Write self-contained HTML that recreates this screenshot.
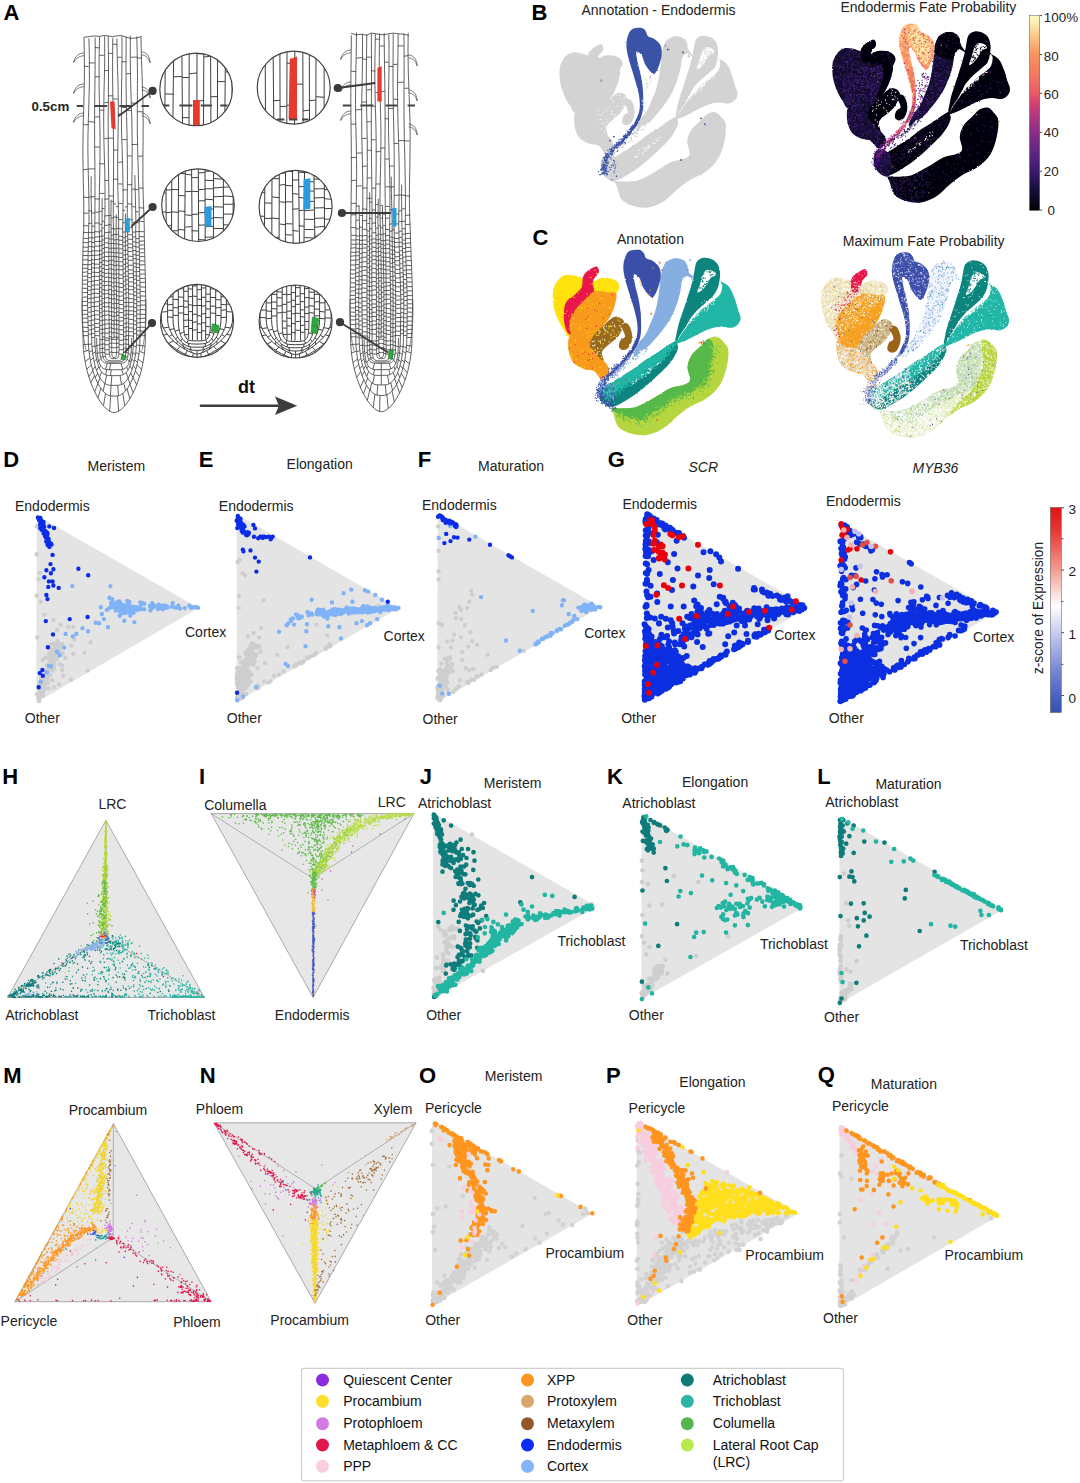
<!DOCTYPE html>
<html><head><meta charset="utf-8"><title>Figure</title>
<style>
html,body{margin:0;padding:0;background:#fff;overflow:hidden;}
svg{display:block;font-family:"Liberation Sans",sans-serif;}
</style></head><body>
<svg width="1080" height="1483" viewBox="0 0 1080 1483">
<rect width="1080" height="1483" fill="#fff"/>
<path d="M84 53c-5 0 -9 3 -10.5 9.5c2.5 -4.5 6 -6.5 10.5 -6.8M84 84c-5 0 -9 3 -10.5 9.5c2.5 -4.5 6 -6.5 10.5 -6.8M84 113c-5 0 -9 3 -10.5 9.5c2.5 -4.5 6 -6.5 10.5 -6.8M141.7 52c5 0.5 8 4 8.5 11c-1.5 -5 -4 -7.5 -8.5 -8.2M141.7 87c5 0.5 8 4 8.5 11c-1.5 -5 -4 -7.5 -8.5 -8.2M141.7 113c5 0.5 8 4 8.5 11c-1.5 -5 -4 -7.5 -8.5 -8.2" fill="#fff" stroke="#3f3f3f" stroke-width="0.7"/>
<path d="M84 37.4L84.2 45.4L84.3 53.4L84.4 61.4L84.4 69.4L84.4 77.4L84.3 85.4L84.1 93.4L83.9 101.4L83.7 109.4L83.4 117.4L83.2 125.4L83.1 133.4L83 141.4L82.9 149.4L82.9 157.4L83 165.4L83.2 173.4L83.3 181.4L83.5 189.4L83.7 197.4L83.8 205.4L83.8 213.4L83.8 221.4L83.7 229.4L83.2 237.4L83.1 245.4L82.9 253.4L82.7 261.4L82.6 269.4L82.4 277.4L82.3 285.4L82.2 293.4L82.1 301.4L82.3 309.4L82.5 317.4L82.7 325.4L82.9 333.4L83 338M88.9 38.3L89.1 46.3L89.3 54.3L89.4 62.3L89.4 70.3L89.4 78.3L89.3 86.3L89.1 94.3L88.9 102.3L88.7 110.3L88.4 118.3L88.2 126.3L88 134.3L87.9 142.3L87.9 150.3L88 158.3L88.1 166.3L88.3 174.3L88.5 182.3L88.7 190.3L88.8 198.3L89 206.3L89 214.3L89 222.3L88.5 230.3L88.4 238.3L88.3 246.3L88.1 254.3L88 262.3L87.8 270.3L87.7 278.3L87.6 286.3L87.5 294.3L87.5 302.3L87.7 310.3L87.9 318.3L88.1 326.3L88.3 334.3L88.3 338M91.2 176.2L91.1 184.2L91.1 192.2L91.2 200.2L91.4 208.2L91.6 216.2L91.8 224.2L91.8 232.2L91.8 240.2L91.7 248.2L91.7 256.2L91.6 264.2L91.5 272.2L91.4 280.2L91.3 288.2L91.1 296.2L91.1 304.2L91.2 312.2L91.3 320.2L91.4 328.2L91.5 336.2L91.7 338M95.1 37.4L95.2 45.4L95.2 53.4L95.1 61.4L95.1 69.4L95 77.4L94.9 85.4L94.8 93.4L94.7 101.4L94.6 109.4L94.6 117.4L94.6 125.4L94.6 133.4L94.6 141.4L94.7 149.4L94.8 157.4L94.9 165.4L94.9 173.4L95 181.4L95 189.4L95 197.4L95 205.4L94.9 213.4L94.9 221.4L94.8 229.4L94.7 237.4L94.7 245.4L94.6 253.4L94.5 261.4L94.4 269.4L94.4 277.4L94.3 285.4L94.3 293.4L94.3 301.4L94.4 309.4L94.6 317.4L94.7 325.4L94.8 333.4L94.8 338M99.5 36.9L99.4 44.9L99.2 52.9L99.1 60.9L99.1 68.9L99.1 76.9L99.1 84.9L99.2 92.9L99.4 100.9L99.6 108.9L99.7 116.9L99.9 124.9L100 132.9L100 140.9L100 148.9L100 156.9L99.9 164.9L99.8 172.9L99.6 180.9L99.4 188.9L99.3 196.9L99.2 204.9L99.1 212.9L99.1 220.9L99.2 228.9L99.5 236.9L99.6 244.9L99.6 252.9L99.6 260.9L99.6 268.9L99.6 276.9L99.6 284.9L99.5 292.9L99.5 300.9L99.6 308.9L99.6 316.9L99.7 324.9L99.7 332.9L99.8 338M102.2 198L102.1 206L102.1 214L102 222L101.9 230L102 238L102 246L102 254L101.9 262L101.9 270L101.9 278L101.9 286L102 294L102 302L102.1 310L102.2 318L102.3 326L102.3 334L102.3 338M104.6 36.3L104.7 44.3L104.7 52.3L104.7 60.3L104.6 68.3L104.4 76.3L104.2 84.3L104 92.3L103.9 100.3L103.8 108.3L103.7 116.3L103.7 124.3L103.8 132.3L103.9 140.3L104.1 148.3L104.3 156.3L104.6 164.3L104.8 172.3L104.9 180.3L105 188.3L105 196.3L105 204.3L104.9 212.3L104.7 220.3L104.5 228.3L104.5 236.3L104.4 244.3L104.4 252.3L104.4 260.3L104.3 268.3L104.4 276.3L104.4 284.3L104.4 292.3L104.5 300.3L104.6 308.3L104.7 316.3L104.8 324.3L104.9 332.3L104.8 338M108.2 36L108.3 44L108.4 52L108.5 60L108.5 68L108.5 76L108.5 84L108.4 92L108.4 100L108.3 108L108.2 116L108.2 124L108.2 132L108.2 140L108.3 148L108.3 156L108.4 164L108.6 172L108.7 180L108.8 188L108.9 196L108.9 204L109 212L109 220L109 228L108.8 236L108.8 244L108.8 252L108.8 260L108.8 268L108.8 276L108.8 284L108.8 292L108.9 300L108.9 308L109 316L109.1 324L109.2 332L109.2 338M111.1 199.7L111 207.7L111 215.7L111 223.7L111.2 231.7L111.2 239.7L111.2 247.7L111.3 255.7L111.3 263.7L111.4 271.7L111.4 279.7L111.4 287.7L111.5 295.7L111.5 303.7L111.6 311.7L111.6 319.7L111.6 327.7L111.7 335.7L111.6 338M112.8 38.1L112.7 46.1L112.7 54.1L112.6 62.1L112.6 70.1L112.6 78.1L112.7 86.1L112.8 94.1L112.9 102.1L113 110.1L113.2 118.1L113.3 126.1L113.4 134.1L113.5 142.1L113.6 150.1L113.6 158.1L113.6 166.1L113.5 174.1L113.5 182.1L113.4 190.1L113.4 198.1L113.3 206.1L113.3 214.1L113.3 222.1L113.6 230.1L113.6 238.1L113.7 246.1L113.8 254.1L113.8 262.1L113.9 270.1L113.9 278.1L114 286.1L114 294.1L114.1 302.1L114.1 310.1L114.1 318.1L114.1 326.1L114.1 334.1L114.1 338M116.3 214.3L116.2 222.3L116.1 230.3L116.1 238.3L116.1 246.3L116.2 254.3L116.2 262.3L116.3 270.3L116.3 278.3L116.4 286.3L116.5 294.3L116.5 302.3L116.6 310.3L116.6 318.3L116.7 326.3L116.7 334.3L116.6 338M116.9 38.4L117 46.4L117.2 54.4L117.4 62.4L117.6 70.4L117.9 78.4L118.1 86.4L118.2 94.4L118.3 102.4L118.3 110.4L118.3 118.4L118.2 126.4L118.1 134.4L117.9 142.4L117.8 150.4L117.7 158.4L117.6 166.4L117.7 174.4L117.7 182.4L117.9 190.4L118.1 198.4L118.3 206.4L118.5 214.4L118.7 222.4L118.6 230.4L118.7 238.4L118.8 246.4L118.8 254.4L118.9 262.4L118.9 270.4L118.9 278.4L119 286.4L119 294.4L119 302.4L119 310.4L119 318.4L119 326.4L119 334.4L119.1 338M121.9 36.1L122 44.1L122 52.1L122 60.1L121.9 68.1L121.8 76.1L121.6 84.1L121.5 92.1L121.4 100.1L121.4 108.1L121.4 116.1L121.5 124.1L121.6 132.1L121.8 140.1L122.1 148.1L122.3 156.1L122.6 164.1L122.8 172.1L122.9 180.1L123 188.1L123.1 196.1L123 204.1L123 212.1L122.9 220.1L122.7 228.1L122.8 236.1L122.8 244.1L122.9 252.1L123 260.1L123.1 268.1L123.2 276.1L123.3 284.1L123.4 292.1L123.6 300.1L123.6 308.1L123.6 316.1L123.6 324.1L123.6 332.1L123.5 338M125.4 213.7L125.3 221.7L125.3 229.7L125.3 237.7L125.4 245.7L125.4 253.7L125.5 261.7L125.6 269.7L125.7 277.7L125.8 285.7L126 293.7L126.1 301.7L126.1 309.7L126.1 317.7L126.1 325.7L126.1 333.7L126 338M126.1 36.6L126.1 44.6L126.1 52.6L126 60.6L126 68.6L126.1 76.6L126.1 84.6L126.2 92.6L126.3 100.6L126.5 108.6L126.6 116.6L126.8 124.6L127 132.6L127.1 140.6L127.2 148.6L127.3 156.6L127.4 164.6L127.4 172.6L127.4 180.6L127.4 188.6L127.3 196.6L127.3 204.6L127.3 212.6L127.3 220.6L127.4 228.6L127.7 236.6L127.8 244.6L127.9 252.6L128.1 260.6L128.2 268.6L128.3 276.6L128.5 284.6L128.6 292.6L128.7 300.6L128.7 308.6L128.6 316.6L128.6 324.6L128.5 332.6L128.5 338M130.4 35.7L130.3 43.7L130.3 51.7L130.3 59.7L130.4 67.7L130.5 75.7L130.7 83.7L130.9 91.7L131.2 99.7L131.4 107.7L131.7 115.7L131.9 123.7L132 131.7L132.1 139.7L132.2 147.7L132.1 155.7L132.1 163.7L132 171.7L131.9 179.7L131.8 187.7L131.8 195.7L131.8 203.7L131.9 211.7L132 219.7L132.2 227.7L132.6 235.7L132.7 243.7L132.9 251.7L133.1 259.7L133.3 267.7L133.4 275.7L133.6 283.7L133.7 291.7L133.8 299.7L133.7 307.7L133.6 315.7L133.5 323.7L133.4 331.7L133.5 338M134.8 175.1L135 183.1L135.2 191.1L135.4 199.1L135.6 207.1L135.8 215.1L135.9 223.1L135.7 231.1L135.8 239.1L135.9 247.1L136.1 255.1L136.2 263.1L136.3 271.1L136.4 279.1L136.6 287.1L136.7 295.1L136.8 303.1L136.7 311.1L136.7 319.1L136.6 327.1L136.6 335.1L136.6 338M136.8 36.4L137 44.4L137.2 52.4L137.3 60.4L137.4 68.4L137.5 76.4L137.4 84.4L137.4 92.4L137.4 100.4L137.3 108.4L137.3 116.4L137.3 124.4L137.3 132.4L137.5 140.4L137.6 148.4L137.8 156.4L138.1 164.4L138.3 172.4L138.5 180.4L138.8 188.4L139 196.4L139.1 204.4L139.2 212.4L139.2 220.4L139.2 228.4L139.1 236.4L139.2 244.4L139.3 252.4L139.5 260.4L139.6 268.4L139.8 276.4L140 284.4L140.1 292.4L140.3 300.4L140.3 308.4L140.2 316.4L140.2 324.4L140.2 332.4L140 338M141 36.4L141.1 44.4L141.3 52.4L141.5 60.4L141.8 68.4L142.1 76.4L142.4 84.4L142.6 92.4L142.9 100.4L143 108.4L143.1 116.4L143.2 124.4L143.1 132.4L143.1 140.4L143 148.4L142.9 156.4L142.9 164.4L142.9 172.4L142.9 180.4L143 188.4L143.2 196.4L143.5 204.4L143.8 212.4L144.1 220.4L144.3 228.4L144.3 236.4L144.5 244.4L144.7 252.4L144.9 260.4L145.1 268.4L145.3 276.4L145.5 284.4L145.6 292.4L145.7 300.4L145.6 308.4L145.5 316.4L145.4 324.4L145.3 332.4L145.3 338M111.6 338L111.6 339.5L111.6 341L111.6 342.5L111.6 344L111.7 345.4L111.7 346.8L111.7 348.2L111.7 349.4L111.7 350.6L111.7 351.8L111.8 352.8L111.9 353.7L111.9 354.6L112 355.3L112.1 356L112.3 356.5L112.5 356.9L112.7 357.2L113.1 357.4L114.1 357.4L115.2 357.4L115.6 357.2L115.8 356.9L116 356.5L116.1 356L116.3 355.3L116.4 354.6L116.4 353.7L116.5 352.8L116.5 351.8L116.6 350.6L116.6 349.4L116.6 348.2L116.6 346.8L116.6 345.4L116.6 344L116.6 342.5L116.6 341L116.6 339.5L116.6 338M109.2 338L109.2 339.6L109.2 341.2L109.2 342.8L109.2 344.4L109.2 345.9L109.2 347.4L109.2 348.8L109.2 350.2L109.3 351.4L109.3 352.6L109.4 353.7L109.6 354.7L109.7 355.6L109.9 356.4L110.2 357.1L110.5 357.7L110.8 358.1L111.3 358.4L112 358.6L114.1 358.7L116.3 358.6L117 358.4L117.5 358.1L117.8 357.7L118.1 357.1L118.4 356.4L118.6 355.6L118.7 354.7L118.8 353.7L118.9 352.6L119 351.4L119.1 350.2L119.1 348.8L119.1 347.4L119.1 345.9L119.1 344.4L119.1 342.8L119.1 341.2L119.1 339.6L119.1 338M104.8 338L104.8 339.8L104.8 341.6L104.8 343.3L104.8 345.1L104.8 346.8L104.8 348.4L104.9 350L104.9 351.4L105 352.9L105.1 354.2L105.3 355.4L105.6 356.5L105.8 357.5L106.2 358.4L106.7 359.1L107.2 359.8L107.9 360.2L108.8 360.6L110.1 360.8L114.1 360.9L118.2 360.8L119.5 360.6L120.4 360.2L121.1 359.8L121.6 359.1L122.1 358.4L122.4 357.5L122.7 356.5L123 355.4L123.1 354.2L123.3 352.9L123.4 351.4L123.4 350L123.5 348.4L123.5 346.8L123.5 345.1L123.5 343.3L123.5 341.6L123.5 339.8L123.5 338M102.3 338L102.3 339.9L102.3 341.8L102.3 343.6L102.3 345.5L102.3 347.2L102.3 349L102.4 350.6L102.5 352.2L102.6 353.7L102.7 355.1L103 356.3L103.3 357.5L103.6 358.6L104.1 359.5L104.7 360.3L105.4 360.9L106.3 361.5L107.4 361.8L109 362.1L114.1 362.1L119.3 362.1L120.9 361.8L122 361.5L122.9 360.9L123.6 360.3L124.2 359.5L124.7 358.6L125 357.5L125.3 356.3L125.5 355.1L125.7 353.7L125.8 352.2L125.9 350.6L125.9 349L126 347.2L126 345.5L126 343.6L126 341.8L126 339.9L126 338M99.8 338L99.8 340L99.8 342L99.8 343.9L99.8 345.8L99.8 347.7L99.9 349.5L99.9 351.3L100 352.9L100.1 354.5L100.3 355.9L100.6 357.3L101 358.5L101.4 359.6L102 360.6L102.7 361.4L103.5 362.1L104.6 362.7L106 363.1L107.9 363.3L114.1 363.4L120.4 363.3L122.3 363.1L123.7 362.7L124.8 362.1L125.6 361.4L126.3 360.6L126.9 359.6L127.3 358.5L127.7 357.3L127.9 355.9L128.1 354.5L128.3 352.9L128.4 351.3L128.4 349.5L128.5 347.7L128.5 345.8L128.5 343.9L128.5 342L128.5 340L128.5 338M96.7 338L96.7 340.5L96.7 343L96.8 345.4L96.9 347.8L97.1 350.2L97.3 352.5L97.5 354.6L97.8 356.7L98.1 358.7L98.6 360.5L99 362.2L99.6 363.8L100.3 365.1L101.1 366.4L102 367.4L103.1 368.3L104.3 369L105.9 369.4L108 369.7L114.1 369.8L120.3 369.7L122.4 369.4L123.9 369L125.2 368.3L126.3 367.4L127.2 366.4L128 365.1L128.7 363.8L129.2 362.2L129.7 360.5L130.2 358.7L130.5 356.7L130.8 354.6L131 352.5L131.2 350.2L131.4 347.8L131.5 345.4L131.5 343L131.6 340.5L131.6 338M94.8 338L94.8 341L94.9 343.9L95.1 346.8L95.3 349.6L95.6 352.4L95.9 355.1L96.3 357.7L96.8 360.1L97.3 362.5L98 364.6L98.7 366.6L99.4 368.5L100.3 370.1L101.3 371.6L102.3 372.8L103.5 373.8L104.9 374.6L106.5 375.2L108.6 375.5L114.1 375.7L119.7 375.5L121.7 375.2L123.4 374.6L124.7 373.8L125.9 372.8L127 371.6L128 370.1L128.9 368.5L129.6 366.6L130.3 364.6L130.9 362.5L131.5 360.1L132 357.7L132.4 355.1L132.7 352.4L133 349.6L133.2 346.8L133.4 343.9L133.4 341L133.5 338M91.7 338L91.7 341.7L91.9 345.4L92.2 349.1L92.6 352.6L93.1 356.1L93.7 359.5L94.4 362.8L95.1 365.9L96 368.8L97 371.5L98 374L99.1 376.3L100.3 378.4L101.6 380.2L102.9 381.8L104.3 383.1L105.9 384.1L107.6 384.8L109.6 385.2L114.1 385.4L118.7 385.2L120.7 384.8L122.4 384.1L123.9 383.1L125.4 381.8L126.7 380.2L128 378.4L129.2 376.3L130.3 374L131.3 371.5L132.3 368.8L133.1 365.9L133.9 362.8L134.6 359.5L135.2 356.1L135.7 352.6L136.1 349.1L136.4 345.4L136.5 341.7L136.6 338M88.3 338L88.3 342.6L88.6 347.1L89 351.6L89.6 355.9L90.3 360.2L91.2 364.4L92.2 368.3L93.3 372.1L94.6 375.7L95.9 379.1L97.3 382.2L98.7 385L100.3 387.5L101.9 389.7L103.5 391.7L105.2 393.2L106.9 394.5L108.8 395.4L110.7 395.9L114.1 396.1L117.5 395.9L119.5 395.4L121.3 394.5L123.1 393.2L124.8 391.7L126.4 389.7L128 387.5L129.5 385L131 382.2L132.4 379.1L133.7 375.7L135 372.1L136.1 368.3L137.1 364.4L137.9 360.2L138.7 355.9L139.3 351.6L139.7 347.1L139.9 342.6L140 338M83 338L83.1 343.9L83.5 349.7L84.1 355.4L85 361.1L86.1 366.5L87.4 371.9L88.9 377L90.5 381.8L92.3 386.4L94.2 390.8L96.2 394.7L98.2 398.4L100.3 401.6L102.4 404.5L104.5 406.9L106.5 408.9L108.6 410.5L110.6 411.7L112.5 412.4L114.1 412.6L115.8 412.4L117.7 411.7L119.7 410.5L121.7 408.9L123.8 406.9L125.9 404.5L128 401.6L130.1 398.4L132.1 394.7L134.1 390.8L136 386.4L137.8 381.8L139.4 377L140.9 371.9L142.2 366.5L143.3 361.1L144.2 355.4L144.8 349.7L145.2 343.9L145.3 338M114.1 339.2L111.6 339.6M114.1 339.6L116.6 339.2M114.1 343.1L111.6 343.3M114.1 343.3L116.6 343.1M114.1 347.9L111.7 347.5M114.1 347.5L116.6 347.9M114.1 352.6L111.8 352.4M114.1 352.4L116.5 352.6M111.6 339L109.2 338.7M116.6 338.7L119.1 339M111.6 343.1L109.2 343.5M116.6 343.5L119.1 343.1M111.7 347.2L109.2 347.4M116.6 347.4L119.1 347.2M111.8 352L109.3 352.4M116.5 352.4L119 352M109.2 340.2L104.8 340.3M119.1 340.3L123.5 340.2M109.2 344.9L104.8 344.6M119.1 344.6L123.5 344.9M109.2 349.6L104.9 349.8M119.1 349.8L123.4 349.6M109.5 354.3L105.2 354M118.8 354L123.1 354.3M104.8 339.3L102.3 339.2M123.5 339.2L126 339.3M104.8 343.8L102.3 344.2M123.5 344.2L126 343.8M104.8 348.1L102.3 348.4M123.5 348.4L126 348.1M105 352.5L102.5 352.4M123.3 352.4L125.8 352.5M105.6 356.7L103.1 356.5M122.7 356.5L125.2 356.7M102.3 339.5L99.8 339.7M126 339.7L128.5 339.5M102.3 344.4L99.8 344.1M126 344.1L128.5 344.4M102.3 348.4L99.8 348.8M126 348.8L128.5 348.4M102.5 352.8L100 352.7M125.8 352.7L128.3 352.8M103.1 356.9L100.5 357M125.2 357L127.8 356.9M99.8 344.9L96.8 345.7M99.9 351.9L97.4 353.9M100.9 358.4L98.7 361.2M107.3 363.3L105.5 369.3M110.6 363.4L109.6 369.8M120.9 363.3L122.8 369.3M127.2 358.9L129.3 361.9M128.3 353.1L130.7 355.2M128.5 344.9L131.5 345.7M96.8 345.9L95.1 346.4M97.3 352.6L95.7 353.7M98.5 360.3L97.2 361.9M100.6 365.6L99.3 368.1M106.9 369.6L105.6 374.9M111.2 369.8L110.6 375.6M121.8 369.6L123.2 374.7M126.6 367.1L128 370.1M129.8 360.3L131.1 361.9M131.1 352L132.6 353.1M131.5 345.2L133.3 345.7M95 345.9L92 346.7M95.5 351.9L92.7 353.6M96.6 359L94.1 361.5M98.7 366.9L96.6 370.5M101.6 372L99.6 377.2M106.7 375.2L104.9 383.5M111.8 375.7L111.1 385.4M120 375.5L121.5 384.5M126.1 372.6L128.2 378.1M129.9 365.8L132.1 369.2M131.7 359L134.2 361.5M132.7 352.6L135.5 354.4M133.2 345.9L136.3 346.7M91.8 344L88.4 344.4M92.4 350.6L89.1 352M93.4 357.9L90.4 360.4M95.3 366.4L92.7 369.9M97.6 373.1L95.3 377.5M100 377.9L97.9 383.4M104.9 383.4L103.1 391.3M111.1 385.4L110.4 395.8M117.7 385.3L118.5 395.7M123.8 383.2L125.5 390.8M128 378.4L130.1 384M130.7 373.1L133 377.5M133.2 365.6L135.9 369M134.6 359.7L137.5 362.4M135.7 352.5L138.9 354.2M136.4 344.9L139.8 345.5M88.4 344.2L83.1 344.8M88.9 350L83.7 351.9M89.9 358L85.1 361.5M91.3 364.6L86.7 369.3M92.9 370.9L88.8 376.7M94.6 375.7L90.8 382.5M97.9 383.4L94.7 391.8M100.8 388.2L98 398M105.5 393.5L103.5 405.8M110.7 395.9L109.7 411.2M117.6 395.9L118.6 411.2M122.8 393.5L124.8 405.8M127.1 388.8L129.8 398.8M130 384.2L133.1 392.7M133 377.6L136.7 384.7M135.3 370.9L139.5 376.7M137 364.6L141.5 369.3M138.1 359.1L143 362.8M139.3 351.2L144.4 353.3M139.8 345.4L145.1 346.2M83.9 66.1L88.8 66.7M83.6 124.7L88.6 124.7M83.4 169.6L88.5 169.2M83.3 197.1L88.4 197.6M83.2 213.1L88.4 213.3M83.2 225.6L88.3 225.8M83.1 232.3L88.3 232.7M83.1 238.3L88.3 238.5M83.1 242.5L88.3 242.7M83 247.1L88.2 247.3M82.9 251.6L88.2 251M82.9 255.6L88.1 255.5M82.8 260L88.1 259.7M82.7 264.5L88 264.7M82.7 268.3L88 268.3M82.6 272.4L87.9 271.8M82.6 276.3L87.9 276.1M82.5 280.3L87.8 279.9M82.4 284.1L87.8 284.1M82.4 288.3L87.7 288.4M82.3 292.7L87.7 292.4M82.2 297.4L87.6 296.8M82.2 301.6L87.6 301.3M82.3 305.8L87.7 305.3M82.4 310.4L87.8 310.3M82.5 314.3L87.9 314.4M82.6 318.2L87.9 318.2M82.6 322.3L88 322.4M82.7 327.1L88.1 327.5M82.8 331.3L88.1 331.7M82.9 335.7L88.2 335.6M88.8 62.9L94.9 62.9M88.6 121.5L94.8 122.1M88.5 169L94.8 168.8M88.4 197.2L94.8 196.6M88.4 210.8L91.7 210.9M88.3 223.5L91.7 223.1M88.3 232.3L91.7 232.8M88.3 237.8L91.7 237.7M88.3 241.8L91.7 241.6M88.2 246.6L91.6 246.5M88.2 251.4L91.6 251.9M88.1 255.8L91.5 255.5M88.1 260.5L91.5 260.5M88 264.8L91.4 264.5M88 269.5L91.4 269.5M87.9 273.6L91.4 273.6M87.9 277.6L91.3 277.7M87.8 281.8L91.3 281.6M87.8 286.4L91.2 286.8M87.7 290.2L91.2 290.2M87.7 294.3L91.2 294.8M87.6 298.8L91.1 298.5M87.7 302.9L91.1 302.5M87.7 307.7L91.2 307.5M87.8 312.1L91.3 312.1M87.9 316.6L91.4 316.7M88 321.1L91.4 320.6M88 325.7L91.5 325.4M88.1 330L91.6 329.8M88.2 334.1L91.6 334.1M91.7 212.8L94.8 213.3M91.7 226.1L94.7 226.2M91.7 232.3L94.7 232.6M91.7 237.9L94.7 238M91.6 242.4L94.7 242.6M91.6 246.7L94.7 247.2M91.6 250.9L94.6 250.7M91.5 255.5L94.6 255.2M91.5 259.6L94.6 260M91.4 263.5L94.6 263.9M91.4 268L94.5 267.9M91.4 272.1L94.5 272.4M91.3 276.8L94.5 276.3M91.3 281.1L94.4 281.1M91.2 285.4L94.4 285.1M91.2 289.3L94.4 289.4M91.2 293.9L94.3 293.4M91.1 297.9L94.3 298.3M91.1 302.5L94.3 302.7M91.2 306.4L94.4 306.6M91.3 311.1L94.4 311.7M91.3 315.6L94.5 315.1M91.4 320.3L94.6 319.9M91.5 324.7L94.6 325.3M91.6 329.2L94.7 328.8M91.6 333.3L94.7 333.8M91.7 337.3L94.8 337.4M94.9 47.6L99.5 47.8M94.9 77L99.5 76.6M94.8 117.2L99.6 116.7M94.8 147L99.6 147.1M94.8 198.8L99.6 199.2M94.8 212.1L99.6 212.1M94.7 223L99.6 223.1M94.7 231.5L99.6 232M94.7 237.2L99.6 236.7M94.7 241.7L99.6 241.3M94.7 246.1L99.6 246.2M94.6 250.9L99.6 250.9M94.6 255.3L99.6 255M94.6 259.6L99.5 259.3M94.5 264.2L99.5 264.2M94.5 268.1L99.5 267.8M94.5 272.3L99.5 272.6M94.5 276.3L99.5 276.5M94.4 280.7L99.5 280.2M94.4 285.2L99.4 284.7M94.4 289.1L99.4 289.2M94.3 293.1L99.4 293.6M94.3 297.4L99.4 297.2M94.3 302L99.4 301.5M94.4 306.6L99.4 306M94.4 310.5L99.5 311M94.5 315L99.5 314.7M94.5 318.9L99.6 319.5M94.6 323.4L99.6 323.7M94.7 327.3L99.7 327.5M94.7 331.5L99.7 331.1M94.8 335.6L99.8 335.7M99.5 55.5L104.2 55.1M99.6 110.1L104.3 110.3M99.6 163.8L104.4 163.8M99.6 193.4L104.4 193.4M99.6 211.3L102 211.4M99.6 224.4L102.1 224.3M99.6 231.2L102.1 230.7M99.6 236.6L102.1 236M99.6 241.3L102.1 241.3M99.6 245.9L102.1 245.3M99.6 250.1L102 250.6M99.6 254.5L102 254.5M99.5 258.8L102 258.3M99.5 262.8L102 262.4M99.5 266.9L102 266.8M99.5 271.6L102 271.2M99.5 275.7L102 275.4M99.5 279.6L102 279.4M99.4 283.7L102 283.6M99.4 287.5L101.9 288M99.4 291.7L101.9 292.2M99.4 296.2L101.9 296.4M99.4 300.4L101.9 301M99.4 304.3L102 304.5M99.5 308.4L102 308.6M99.5 313L102 312.6M99.6 317L102.1 316.4M99.6 321L102.1 320.5M99.7 325.2L102.2 325.8M99.7 329.4L102.2 329.1M99.7 333.6L102.2 333.4M102 208.5L104.5 208.7M102 221L104.5 221.5M102.1 228.3L104.5 227.8M102.1 236L104.5 235.9M102.1 239.9L104.5 239.9M102.1 244.7L104.5 244.7M102 248.8L104.5 248.3M102 252.7L104.5 253.2M102 257L104.5 257.5M102 260.8L104.5 260.5M102 264.7L104.5 264.6M102 268.6L104.5 268.3M102 272.8L104.5 272.5M102 276.6L104.5 276.1M102 281.4L104.5 281M102 285.7L104.5 285.6M101.9 290L104.5 289.5M101.9 294.1L104.5 293.7M101.9 298.5L104.5 299M101.9 302.9L104.5 303.3M102 306.9L104.5 306.3M102 311.2L104.6 311.2M102.1 315.6L104.6 315.5M102.1 320L104.6 320.3M102.2 324.7L104.7 324.5M102.2 329L104.7 329.4M102.2 333L104.7 332.6M102.3 337.1L104.8 336.6M104.2 70.7L108.3 70.5M104.3 102.8L108.4 102.3M104.3 138.7L108.5 138.2M104.4 180.4L108.6 180.5M104.4 199.3L108.7 198.8M104.5 216L108.7 215.5M104.5 225.4L108.8 225.1M104.5 232.8L108.8 232.3M104.5 238.3L108.8 238M104.5 242.8L108.8 242.9M104.5 247.5L108.8 247.7M104.5 252.1L108.8 252.2M104.5 256.3L108.8 256.7M104.5 260.8L108.8 261.3M104.5 265.3L108.8 265.5M104.5 269.4L108.9 269.7M104.5 273.5L108.9 273.1M104.5 277.4L108.9 277M104.5 281.5L108.9 281.7M104.5 285.6L108.9 285M104.5 290.1L108.9 290.2M104.5 294L108.9 293.4M104.5 297.9L108.9 297.7M104.5 302.5L108.9 303.1M104.5 307L109 306.6M104.6 311.2L109 311M104.6 315.3L109 314.7M104.6 319.7L109 320.1M104.7 324.2L109.1 323.7M104.7 328.6L109.1 328.2M104.7 333.1L109.1 333M104.8 337.8L109.2 338.2M108.2 53.1L112.8 53.6M108.3 95.8L113 95.8M108.5 138L113.2 138.3M108.7 195.9L113.5 196M108.7 215.5L111.2 215.6M108.8 224.6L111.2 224.9M108.8 232.4L111.2 231.8M108.8 239.2L111.2 238.7M108.8 243.6L111.3 243.6M108.8 248.3L111.3 248.2M108.8 252.3L111.3 252.1M108.8 256.3L111.3 256.4M108.8 260.5L111.3 260.8M108.8 264.5L111.3 264.3M108.9 268.6L111.3 269.1M108.9 273.2L111.4 273.6M108.9 277.6L111.4 277.5M108.9 281.6L111.4 282M108.9 285.9L111.4 285.3M108.9 289.8L111.4 289.3M108.9 294.3L111.4 294.8M108.9 298.3L111.5 298.7M108.9 302.5L111.5 302.7M109 307.1L111.5 307.3M109 311.7L111.5 311.6M109 315.5L111.5 315.6M109 319.9L111.6 319.5M109.1 324.1L111.6 323.9M109.1 327.9L111.6 327.7M109.1 332.1L111.6 332.1M109.1 336.6L111.6 336.5M111.1 201.4L113.5 201.5M111.2 218.1L113.6 217.9M111.2 228.4L113.6 228.6M111.2 235.4L113.7 235.2M111.2 239.3L113.7 238.8M111.3 243.5L113.7 243.6M111.3 248L113.7 248.3M111.3 252.1L113.8 252.6M111.3 256.2L113.8 256.5M111.3 260.1L113.8 260.4M111.3 264.5L113.8 265.1M111.4 269.2L113.8 269.5M111.4 273.9L113.9 274.2M111.4 278.3L113.9 277.9M111.4 282.6L113.9 283.1M111.4 286.6L113.9 287.2M111.4 291L114 290.9M111.4 294.8L114 294.7M111.5 298.8L114 299M111.5 303.5L114 304M111.5 307.9L114 307.7M111.5 311.8L114 312M111.5 316.1L114.1 316.4M111.6 320.3L114.1 320.8M111.6 324.3L114.1 324.1M111.6 328.4L114.1 328.5M111.6 333.1L114.1 332.7M111.6 337.5L114.1 337.8M112.8 44.2L117.4 44.3M113 98.8L117.7 99.2M113.3 150.1L118 150M113.4 179.1L118.2 179.2M113.5 204L116 203.8M113.6 216.9L116 217M113.6 229.2L116.1 228.8M113.7 234.6L116.1 234.2M113.7 239.9L116.1 240M113.7 243.8L116.2 243.5M113.7 248.2L116.2 248.4M113.8 252.7L116.2 253M113.8 256.6L116.3 256.6M113.8 261.2L116.3 261.8M113.8 265.3L116.3 265.8M113.8 269.8L116.3 270.3M113.9 273.8L116.4 274M113.9 278.5L116.4 278.4M113.9 282.4L116.4 282M113.9 286.3L116.5 285.8M114 290.3L116.5 290.4M114 294.2L116.5 294.5M114 298.7L116.5 299.1M114 303.3L116.6 303.6M114 308L116.6 308.6M114 312.5L116.6 313M114.1 316.4L116.6 315.9M114.1 320.2L116.6 319.9M114.1 324.4L116.6 324.3M114.1 328.9L116.6 329.2M114.1 332.8L116.6 332.6M114.1 337.1L116.6 337M116 206.3L118.4 206.9M116 217.5L118.5 217.8M116.1 228.5L118.5 228.3M116.1 234.4L118.6 234.3M116.1 239.3L118.6 239.5M116.2 244L118.6 243.8M116.2 248.1L118.7 248.1M116.2 252.6L118.7 252.9M116.3 256.9L118.7 256.7M116.3 261.1L118.8 261.5M116.3 265.4L118.8 264.8M116.3 269.6L118.8 269.3M116.4 274.1L118.9 273.6M116.4 278.1L118.9 277.7M116.4 282.4L118.9 283M116.5 286.8L119 286.6M116.5 291.5L119 291M116.5 295.7L119.1 296M116.5 299.5L119.1 299.8M116.6 303.6L119.1 303M116.6 307.7L119.1 307.6M116.6 311.9L119.1 311.9M116.6 315.7L119.1 315.4M116.6 320.5L119.1 320.4M116.6 324.8L119.1 324.3M116.6 328.8L119.1 329.4M116.6 333.3L119.1 333.3M116.6 337.2L119.1 337M117.5 57.2L121.5 57.3M117.8 114.1L121.9 114.3M118.1 162.4L122.3 161.9M118.3 183.8L122.5 184.1M118.4 203.1L122.6 203.6M118.5 219.4L122.7 219.9M118.5 228.5L122.8 229.1M118.6 236.1L122.9 236.6M118.6 240.1L122.9 240.4M118.6 244.3L122.9 244.9M118.7 249.1L123 248.7M118.7 253.3L123 253M118.7 257.6L123.1 257.3M118.8 262L123.1 261.6M118.8 266L123.2 266M118.8 269.9L123.2 269.7M118.9 274.6L123.3 275.1M118.9 278.6L123.3 278M119 283.2L123.4 283.8M119 287.6L123.4 287.2M119 291.6L123.4 292.2M119.1 296.4L123.5 295.8M119.1 300.4L123.5 300.3M119.1 304.4L123.5 304.7M119.1 308.6L123.5 308.9M119.1 312.6L123.5 312.6M119.1 317.3L123.5 317.6M119.1 321.2L123.5 320.8M119.1 325.7L123.5 325.5M119.1 329.8L123.5 329.8M119.1 334.2L123.5 334.8M121.6 61.9L126.2 61.6M121.9 107.4L126.6 107.6M122.1 139.6L126.9 139.6M122.5 190.2L127.3 189.6M122.7 210.4L125.1 210.3M122.8 222.6L125.2 222.8M122.8 232.3L125.3 231.7M122.9 238.1L125.3 237.5M122.9 242.3L125.4 242.1M122.9 246.1L125.4 245.8M123 250.3L125.5 250.5M123 255.1L125.5 254.9M123.1 259.4L125.6 259.6M123.1 264.1L125.6 264.7M123.2 268.9L125.7 268.7M123.2 272.9L125.7 273.4M123.3 276.8L125.8 276.7M123.3 281.3L125.8 281.3M123.4 285.5L125.9 286M123.4 289.6L126 289.6M123.5 294.2L126 293.8M123.5 298.4L126.1 298.4M123.5 302.7L126.1 302.4M123.5 307L126.1 306.5M123.5 310.9L126.1 310.7M123.5 314.8L126 315.4M123.5 318.9L126 318.6M123.5 323.5L126 323.8M123.5 327.5L126 327.9M123.5 332L126 331.8M123.5 336.4L126 336.1M125.1 207.1L127.5 206.6M125.2 221.6L127.6 221.7M125.2 228.8L127.7 228.2M125.3 236.5L127.7 236.5M125.3 241.2L127.8 240.6M125.4 245.6L127.9 245.1M125.5 250.1L127.9 250.2M125.5 254.5L128 254.2M125.6 259.2L128 258.8M125.6 263.1L128.1 263.3M125.7 267L128.2 266.5M125.7 271.3L128.2 271.4M125.8 275.9L128.3 276.2M125.8 279.8L128.3 280M125.9 284.5L128.4 284M125.9 289L128.5 288.7M126 293.1L128.5 292.5M126.1 297.7L128.6 297.7M126.1 302.4L128.6 302.3M126.1 306.3L128.6 306M126.1 310.4L128.6 310.9M126 314.4L128.6 313.9M126 318.6L128.6 318M126 322.8L128.5 322.9M126 327.2L128.5 326.8M126 331.2L128.5 331.2M126 335.7L128.5 335.6M126.3 73.9L131 73.5M126.6 110.5L131.3 110.5M127 155.7L131.8 156.1M127.3 184.6L132.1 184.8M127.5 203.8L132.3 204.1M127.6 219.9L132.5 219.6M127.7 227.8L132.5 227.6M127.7 234.5L132.6 235M127.8 239.2L132.7 239.4M127.8 243.6L132.7 244.2M127.9 247.6L132.8 247.9M127.9 251.7L132.9 251.2M128 256.1L133 256.5M128.1 260.5L133 260M128.1 265.3L133.1 265.1M128.2 269.7L133.2 270M128.3 273.8L133.3 273.7M128.3 277.9L133.3 277.4M128.4 281.8L133.4 282M128.4 286L133.5 286.4M128.5 289.8L133.5 289.6M128.5 293.8L133.6 294.4M128.6 298.4L133.7 298.9M128.6 302.7L133.7 302.2M128.6 306.9L133.7 306.6M128.6 310.8L133.6 310.8M128.6 314.8L133.6 314.4M128.6 319.2L133.6 319.7M128.5 323.9L133.6 323.9M128.5 327.8L133.5 328.1M128.5 331.7L133.5 331.8M128.5 335.6L133.5 336.2M130.8 57.3L136.9 57M131.3 102.9L137.4 103.5M131.7 144.6L137.9 144.3M132.1 189.1L138.5 189.6M132.3 206.7L135.4 206.9M132.5 222.3L135.5 222.1M132.6 232.1L135.6 232.1M132.6 237.1L135.7 236.6M132.7 241.9L135.8 241.8M132.8 246.1L135.9 246.6M132.9 250.5L135.9 250.5M132.9 254.6L136 254.8M133 258.6L136.1 258.6M133.1 263.2L136.2 263.3M133.1 267.1L136.3 266.7M133.2 271.6L136.3 271.9M133.3 275.5L136.4 276.1M133.4 279.4L136.5 279M133.4 283.3L136.6 283.3M133.5 287.7L136.7 288.2M133.6 291.7L136.7 291.9M133.6 295.6L136.8 295.7M133.7 299.7L136.9 299.5M133.7 303.5L136.9 303.8M133.7 307.4L136.8 307.8M133.6 311.6L136.8 311.7M133.6 316L136.8 316M133.6 320.7L136.7 321.2M133.6 324.8L136.7 324.6M133.5 329.4L136.7 329M133.5 333.7L136.6 333.6M135.4 211.5L138.7 212M135.5 222.5L138.9 222.9M135.6 231.7L139 231.6M135.7 238.5L139.1 238.7M135.8 242.6L139.2 242.9M135.9 246.9L139.2 247.2M136 251.4L139.3 251.7M136 255.3L139.4 255.3M136.1 259.1L139.5 259.5M136.2 263.7L139.6 264.1M136.3 267.5L139.7 267.6M136.3 271.8L139.8 271.4M136.4 275.8L139.9 276.4M136.5 280.5L140 280.2M136.6 285.1L140.1 285.3M136.7 289.3L140.2 289.5M136.8 293.3L140.2 293M136.8 297.1L140.3 297.3M136.9 301.5L140.4 301.8M136.8 305.8L140.3 305.7M136.8 309.9L140.3 310.2M136.8 314.1L140.3 314.2M136.7 318.6L140.2 318.6M136.7 323.1L140.2 322.6M136.7 327.2L140.1 327.6M136.6 331.1L140.1 330.6M136.6 334.9L140.1 335.3M136.9 58L141.8 58M137.5 111.7L142.5 111.7M138.1 156.4L143.1 155.9M138.5 187.9L143.6 188.2M138.7 207.7L143.9 208.1M138.9 221.3L144 221.6M139 231.6L144.2 231.7M139.1 236.4L144.3 236.9M139.1 241.2L144.3 240.9M139.2 245.1L144.4 244.9M139.3 249L144.5 248.8M139.4 252.9L144.6 252.6M139.5 256.7L144.7 256.6M139.5 260.8L144.8 261.1M139.6 265L144.9 264.6M139.7 269.7L145 270.2M139.8 274.2L145.2 273.9M139.9 278.4L145.3 278.4M140 282.6L145.4 282.1M140.1 286.9L145.5 287.2M140.2 291.4L145.6 291.8M140.3 295.9L145.7 296.2M140.4 300.5L145.8 301M140.3 305.1L145.7 305M140.3 309.6L145.7 309.8M140.3 314.3L145.6 314.5M140.2 318.5L145.6 318.1M140.2 322.6L145.5 322.3M140.1 327.1L145.5 327.4M140.1 331.1L145.4 331.2M140 335.8L145.4 335.6M84 37.3L88.9 36.6L94.9 35.9L99.5 36.4L104.1 35.5L108.2 35.9L112.8 36.8L117.3 35.8L121.4 35.5L126 37.1L130.6 38.4L136.6 38L141.5 36.5" fill="none" stroke="#3f3f3f" stroke-width="0.82" stroke-linejoin="round"/>
<path d="M351.1 50c-5 0 -9 3 -10.5 9.5c2.5 -4.5 6 -6.5 10.5 -6.8M351.1 82c-5 0 -9 3 -10.5 9.5c2.5 -4.5 6 -6.5 10.5 -6.8M351.1 111c-5 0 -9 3 -10.5 9.5c2.5 -4.5 6 -6.5 10.5 -6.8M408.7 55c5 0.5 8 4 8.5 11c-1.5 -5 -4 -7.5 -8.5 -8.2M408.7 90c5 0.5 8 4 8.5 11c-1.5 -5 -4 -7.5 -8.5 -8.2M408.7 124c5 0.5 8 4 8.5 11c-1.5 -5 -4 -7.5 -8.5 -8.2" fill="#fff" stroke="#3f3f3f" stroke-width="0.7"/>
<path d="M351.3 35.3L351.3 43.3L351.2 51.3L351.1 59.3L351 67.3L350.9 75.3L350.9 83.3L350.8 91.3L350.8 99.3L350.9 107.3L350.9 115.3L351 123.3L351.1 131.3L351.2 139.3L351.3 147.3L351.3 155.3L351.4 163.3L351.4 171.3L351.3 179.3L351.3 187.3L351.2 195.3L351.1 203.3L351 211.3L350.9 219.3L350.9 227.3L351 235.3L351 243.3L350.8 251.3L350.7 259.3L350.6 267.3L350.4 275.3L350.3 283.3L350.2 291.3L350.1 299.3L350.2 307.3L350.3 315.3L350.4 323.3L350.5 331.3L350.6 338M356.5 32.5L356.4 40.5L356.3 48.5L356.2 56.5L356 64.5L355.8 72.5L355.7 80.5L355.6 88.5L355.5 96.5L355.5 104.5L355.6 112.5L355.7 120.5L355.9 128.5L356.1 136.5L356.3 144.5L356.4 152.5L356.5 160.5L356.6 168.5L356.6 176.5L356.5 184.5L356.4 192.5L356.3 200.5L356.1 208.5L356 216.5L355.8 224.5L356 232.5L356 240.5L355.9 248.5L355.8 256.5L355.7 264.5L355.7 272.5L355.6 280.5L355.5 288.5L355.4 296.5L355.5 304.5L355.6 312.5L355.7 320.5L355.8 328.5L355.9 336.5L355.8 338M359 205.3L359.2 213.3L359.4 221.3L359.6 229.3L359.5 237.3L359.5 245.3L359.4 253.3L359.3 261.3L359.2 269.3L359.1 277.3L359 285.3L358.8 293.3L358.7 301.3L358.8 309.3L358.8 317.3L358.9 325.3L359 333.3L359.2 338M362.4 33.9L362.5 41.9L362.5 49.9L362.5 57.9L362.4 65.9L362.3 73.9L362.1 81.9L362 89.9L361.8 97.9L361.7 105.9L361.7 113.9L361.7 121.9L361.7 129.9L361.8 137.9L362 145.9L362.2 153.9L362.4 161.9L362.5 169.9L362.7 177.9L362.8 185.9L362.8 193.9L362.8 201.9L362.7 209.9L362.6 217.9L362.4 225.9L362.3 233.9L362.3 241.9L362.2 249.9L362.1 257.9L362 265.9L362 273.9L362 281.9L361.9 289.9L361.9 297.9L362 305.9L362.1 313.9L362.2 321.9L362.3 329.9L362.4 337.9L362.2 338M366.8 34.1L366.7 42.1L366.6 50.1L366.5 58.1L366.4 66.1L366.3 74.1L366.3 82.1L366.3 90.1L366.4 98.1L366.6 106.1L366.7 114.1L366.9 122.1L367 130.1L367.2 138.1L367.3 146.1L367.3 154.1L367.3 162.1L367.3 170.1L367.2 178.1L367.1 186.1L367 194.1L366.9 202.1L366.8 210.1L366.7 218.1L366.7 226.1L367 234.1L367 242.1L367 250.1L367 258.1L367 266.1L367 274.1L367 282.1L367 290.1L367 298.1L367 306.1L367.1 314.1L367.1 322.1L367.1 330.1L367.2 338M369.6 192.6L369.7 200.6L369.7 208.6L369.7 216.6L369.7 224.6L369.5 232.6L369.5 240.6L369.5 248.6L369.4 256.6L369.4 264.6L369.4 272.6L369.4 280.6L369.4 288.6L369.4 296.6L369.4 304.6L369.5 312.6L369.5 320.6L369.6 328.6L369.7 336.6L369.6 338M371.3 33.4L371.4 41.4L371.4 49.4L371.5 57.4L371.5 65.4L371.5 73.4L371.5 81.4L371.5 89.4L371.4 97.4L371.4 105.4L371.3 113.4L371.3 121.4L371.3 129.4L371.3 137.4L371.4 145.4L371.4 153.4L371.5 161.4L371.6 169.4L371.7 177.4L371.8 185.4L371.9 193.4L372 201.4L372 209.4L372 217.4L372 225.4L371.9 233.4L371.9 241.4L371.9 249.4L371.9 257.4L371.9 265.4L371.8 273.4L371.8 281.4L371.9 289.4L371.9 297.4L371.9 305.4L372 313.4L372 321.4L372.1 329.4L372.1 337.4L372.1 338M375.4 34.1L375.2 42.1L375.1 50.1L374.9 58.1L374.9 66.1L374.8 74.1L374.9 82.1L375 90.1L375.2 98.1L375.3 106.1L375.6 114.1L375.8 122.1L376 130.1L376.1 138.1L376.2 146.1L376.2 154.1L376.2 162.1L376.1 170.1L376 178.1L375.8 186.1L375.7 194.1L375.5 202.1L375.5 210.1L375.4 218.1L375.5 226.1L375.9 234.1L376 242.1L376 250.1L376.1 258.1L376.2 266.1L376.3 274.1L376.3 282.1L376.4 290.1L376.4 298.1L376.4 306.1L376.4 314.1L376.4 322.1L376.4 330.1L376.4 338M378.3 198.8L378.2 206.8L378 214.8L377.9 222.8L378.3 230.8L378.3 238.8L378.3 246.8L378.4 254.8L378.5 262.8L378.6 270.8L378.7 278.8L378.8 286.8L378.9 294.8L378.9 302.8L379 310.8L379 318.8L378.9 326.8L378.9 334.8L378.8 338M379.6 33.7L379.4 41.7L379.3 49.7L379.3 57.7L379.3 65.7L379.4 73.7L379.6 81.7L379.8 89.7L380.1 97.7L380.4 105.7L380.6 113.7L380.8 121.7L380.9 129.7L380.9 137.7L380.9 145.7L380.8 153.7L380.7 161.7L380.5 169.7L380.3 177.7L380.1 185.7L380 193.7L380 201.7L380 209.7L380.1 217.7L380.3 225.7L380.7 233.7L380.8 241.7L380.9 249.7L381 257.7L381.1 265.7L381.2 273.7L381.3 281.7L381.4 289.7L381.4 297.7L381.4 305.7L381.3 313.7L381.3 321.7L381.2 329.7L381.2 337.7L381.3 338M382.5 206.2L382.5 214.2L382.6 222.2L383 230.2L383.1 238.2L383.3 246.2L383.4 254.2L383.5 262.2L383.6 270.2L383.7 278.2L383.8 286.2L383.9 294.2L383.9 302.2L383.8 310.2L383.8 318.2L383.7 326.2L383.7 334.2L383.8 338M384.2 32.9L384.2 40.9L384.3 48.9L384.4 56.9L384.5 64.9L384.6 72.9L384.8 80.9L384.9 88.9L385 96.9L385 104.9L385.1 112.9L385.1 120.9L385.1 128.9L385 136.9L385 144.9L384.9 152.9L384.9 160.9L384.9 168.9L385 176.9L385 184.9L385.1 192.9L385.2 200.9L385.3 208.9L385.5 216.9L385.6 224.9L385.6 232.9L385.6 240.9L385.7 248.9L385.8 256.9L385.9 264.9L386 272.9L386.1 280.9L386.2 288.9L386.2 296.9L386.3 304.9L386.2 312.9L386.2 320.9L386.2 328.9L386.2 336.9L386.2 338M388.8 34.4L389 42.4L389 50.4L389 58.4L389 66.4L388.9 74.4L388.8 82.4L388.6 90.4L388.5 98.4L388.4 106.4L388.4 114.4L388.5 122.4L388.5 130.4L388.7 138.4L388.9 146.4L389.1 154.4L389.3 162.4L389.6 170.4L389.7 178.4L389.9 186.4L389.9 194.4L389.9 202.4L389.9 210.4L389.8 218.4L389.7 226.4L389.6 234.4L389.7 242.4L389.8 250.4L389.9 258.4L390 266.4L390.2 274.4L390.3 282.4L390.5 290.4L390.6 298.4L390.7 306.4L390.7 314.4L390.7 322.4L390.7 330.4L390.5 338M391.2 176.6L391.3 184.6L391.4 192.6L391.6 200.6L391.8 208.6L392 216.6L392.2 224.6L392.1 232.6L392.2 240.6L392.4 248.6L392.5 256.6L392.6 264.6L392.8 272.6L392.9 280.6L393 288.6L393.1 296.6L393.1 304.6L393 312.6L393 320.6L392.9 328.6L392.9 336.6L393 338M393.2 33.8L393.2 41.8L393.1 49.8L393.1 57.8L393 65.8L393 73.8L393 81.8L393.1 89.8L393.2 97.8L393.3 105.8L393.4 113.8L393.6 121.8L393.8 129.8L393.9 137.8L394.1 145.8L394.2 153.8L394.2 161.8L394.3 169.8L394.3 177.8L394.2 185.8L394.2 193.8L394.1 201.8L394 209.8L394 217.8L394 225.8L394.3 233.8L394.4 241.8L394.6 249.8L394.8 257.8L395 265.8L395.2 273.8L395.4 281.8L395.6 289.8L395.7 297.8L395.7 305.8L395.7 313.8L395.6 321.8L395.5 329.8L395.4 337.8L395.4 338M398.1 33.8L398.1 41.8L398 49.8L397.9 57.8L397.8 65.8L397.6 73.8L397.6 81.8L397.5 89.8L397.6 97.8L397.7 105.8L397.8 113.8L398 121.8L398.2 129.8L398.5 137.8L398.7 145.8L398.9 153.8L399.1 161.8L399.2 169.8L399.2 177.8L399.2 185.8L399.1 193.8L399 201.8L398.9 209.8L398.8 217.8L398.7 225.8L399 233.8L399.1 241.8L399.3 249.8L399.6 257.8L399.8 265.8L400 273.8L400.3 281.8L400.5 289.8L400.8 297.8L400.8 305.8L400.7 313.8L400.6 321.8L400.5 329.8L400.4 337.8L400.4 338M401.6 184.7L401.6 192.7L401.6 200.7L401.7 208.7L401.8 216.7L401.9 224.7L402.1 232.7L402.2 240.7L402.4 248.7L402.7 256.7L402.9 264.7L403.1 272.7L403.4 280.7L403.6 288.7L403.8 296.7L403.8 304.7L403.7 312.7L403.6 320.7L403.5 328.7L403.4 336.7L403.4 338M403.9 33.4L404 41.4L404.1 49.4L404.1 57.4L404.1 65.4L404.1 73.4L404.1 81.4L404 89.4L404 97.4L404 105.4L404 113.4L404.1 121.4L404.2 129.4L404.3 137.4L404.5 145.4L404.7 153.4L404.9 161.4L405 169.4L405.2 177.4L405.3 185.4L405.4 193.4L405.4 201.4L405.4 209.4L405.4 217.4L405.3 225.4L405.4 233.4L405.4 241.4L405.7 249.4L405.9 257.4L406.1 265.4L406.4 273.4L406.7 281.4L406.9 289.4L407.2 297.4L407.2 305.4L407.2 313.4L407.1 321.4L407 329.4L406.9 337.4L406.8 338M408.2 32.8L408.1 40.8L408 48.8L408.1 56.8L408.2 64.8L408.3 72.8L408.6 80.8L408.9 88.8L409.2 96.8L409.5 104.8L409.7 112.8L410 120.8L410.1 128.8L410.1 136.8L410.1 144.8L410 152.8L409.9 160.8L409.8 168.8L409.6 176.8L409.5 184.8L409.4 192.8L409.4 200.8L409.5 208.8L409.7 216.8L410 224.8L410.4 232.8L410.5 240.8L410.9 248.8L411.2 256.8L411.5 264.8L411.8 272.8L412.1 280.8L412.3 288.8L412.6 296.8L412.6 304.8L412.4 312.8L412.2 320.8L412.1 328.8L411.9 336.8L412 338M378.8 338L378.8 339.5L378.8 341L378.8 342.5L378.8 344L378.8 345.4L378.9 346.8L378.9 348.2L378.9 349.4L378.9 350.6L378.9 351.8L379 352.8L379 353.7L379.1 354.6L379.2 355.3L379.3 356L379.5 356.5L379.7 356.9L379.9 357.2L380.2 357.4L381.3 357.4L382.4 357.4L382.7 357.2L382.9 356.9L383.1 356.5L383.3 356L383.4 355.3L383.5 354.6L383.6 353.7L383.6 352.8L383.7 351.8L383.7 350.6L383.7 349.4L383.7 348.2L383.7 346.8L383.8 345.4L383.8 344L383.8 342.5L383.8 341L383.8 339.5L383.8 338M376.4 338L376.4 339.6L376.4 341.2L376.4 342.8L376.4 344.4L376.4 345.9L376.4 347.4L376.4 348.8L376.5 350.2L376.5 351.4L376.6 352.6L376.7 353.7L376.8 354.7L376.9 355.6L377.1 356.4L377.4 357.1L377.7 357.7L378 358.1L378.5 358.4L379.2 358.6L381.3 358.7L383.4 358.6L384.1 358.4L384.6 358.1L384.9 357.7L385.2 357.1L385.5 356.4L385.7 355.6L385.8 354.7L385.9 353.7L386 352.6L386.1 351.4L386.1 350.2L386.2 348.8L386.2 347.4L386.2 345.9L386.2 344.4L386.2 342.8L386.2 341.2L386.2 339.6L386.2 338M372.1 338L372.1 339.8L372.1 341.6L372.1 343.3L372.1 345.1L372.1 346.8L372.1 348.4L372.2 350L372.2 351.4L372.3 352.9L372.4 354.2L372.6 355.4L372.8 356.5L373.1 357.5L373.5 358.4L373.9 359.1L374.5 359.8L375.2 360.2L376 360.6L377.3 360.8L381.3 360.9L385.3 360.8L386.6 360.6L387.4 360.2L388.1 359.8L388.7 359.1L389.1 358.4L389.5 357.5L389.8 356.5L390 355.4L390.2 354.2L390.3 352.9L390.4 351.4L390.4 350L390.5 348.4L390.5 346.8L390.5 345.1L390.5 343.3L390.5 341.6L390.5 339.8L390.5 338M369.6 338L369.6 339.9L369.6 341.8L369.6 343.6L369.6 345.5L369.6 347.2L369.7 349L369.7 350.6L369.8 352.2L369.9 353.7L370.1 355.1L370.3 356.3L370.6 357.5L370.9 358.6L371.4 359.5L372 360.3L372.7 360.9L373.5 361.5L374.6 361.8L376.2 362.1L381.3 362.1L386.4 362.1L388 361.8L389.1 361.5L389.9 360.9L390.6 360.3L391.2 359.5L391.7 358.6L392 357.5L392.3 356.3L392.5 355.1L392.7 353.7L392.8 352.2L392.9 350.6L392.9 349L393 347.2L393 345.5L393 343.6L393 341.8L393 339.9L393 338M367.2 338L367.2 340L367.2 342L367.2 343.9L367.2 345.8L367.2 347.7L367.2 349.5L367.3 351.3L367.4 352.9L367.5 354.5L367.7 355.9L368 357.3L368.3 358.5L368.8 359.6L369.3 360.6L370 361.4L370.8 362.1L371.9 362.7L373.2 363.1L375.2 363.3L381.3 363.4L387.4 363.3L389.4 363.1L390.7 362.7L391.8 362.1L392.6 361.4L393.3 360.6L393.8 359.6L394.3 358.5L394.6 357.3L394.9 355.9L395.1 354.5L395.2 352.9L395.3 351.3L395.4 349.5L395.4 347.7L395.4 345.8L395.4 343.9L395.4 342L395.4 340L395.4 338M364.1 338L364.1 340.5L364.2 343L364.2 345.4L364.3 347.8L364.5 350.1L364.7 352.4L364.9 354.6L365.2 356.6L365.5 358.6L365.9 360.4L366.4 362.1L367 363.7L367.7 365L368.4 366.3L369.3 367.3L370.4 368.2L371.6 368.8L373.2 369.3L375.2 369.6L381.3 369.7L387.4 369.6L389.4 369.3L391 368.8L392.2 368.2L393.3 367.3L394.2 366.3L394.9 365L395.6 363.7L396.2 362.1L396.7 360.4L397.1 358.6L397.4 356.6L397.7 354.6L397.9 352.4L398.1 350.1L398.3 347.8L398.4 345.4L398.4 343L398.5 340.5L398.5 338M362.2 338L362.3 340.9L362.4 343.9L362.5 346.7L362.7 349.6L363 352.3L363.3 355L363.7 357.6L364.2 360L364.7 362.3L365.3 364.5L366 366.5L366.8 368.3L367.7 369.9L368.6 371.4L369.7 372.6L370.9 373.6L372.2 374.4L373.8 375L375.8 375.3L381.3 375.4L386.8 375.3L388.8 375L390.4 374.4L391.7 373.6L392.9 372.6L394 371.4L394.9 369.9L395.8 368.3L396.6 366.5L397.3 364.5L397.9 362.3L398.4 360L398.9 357.6L399.3 355L399.6 352.3L399.9 349.6L400.1 346.7L400.2 343.9L400.3 340.9L400.4 338M359.2 338L359.2 341.7L359.4 345.4L359.7 349L360.1 352.5L360.5 356L361.1 359.3L361.8 362.6L362.6 365.6L363.4 368.5L364.4 371.2L365.4 373.7L366.5 376L367.7 378.1L368.9 379.9L370.2 381.4L371.6 382.7L373.2 383.7L374.9 384.4L376.8 384.8L381.3 385L385.8 384.8L387.7 384.4L389.4 383.7L391 382.7L392.4 381.4L393.7 379.9L394.9 378.1L396.1 376L397.2 373.7L398.2 371.2L399.2 368.5L400 365.6L400.8 362.6L401.5 359.3L402.1 356L402.5 352.5L402.9 349L403.2 345.4L403.4 341.7L403.4 338M355.8 338L355.9 342.5L356.1 347L356.5 351.4L357.1 355.8L357.8 360L358.7 364.1L359.7 368L360.8 371.8L362 375.3L363.3 378.6L364.7 381.7L366.1 384.5L367.6 387L369.2 389.2L370.8 391.1L372.5 392.7L374.2 393.9L376 394.8L378 395.3L381.3 395.5L384.6 395.3L386.6 394.8L388.4 393.9L390.1 392.7L391.8 391.1L393.4 389.2L395 387L396.5 384.5L397.9 381.7L399.3 378.6L400.6 375.3L401.8 371.8L402.9 368L403.9 364.1L404.8 360L405.5 355.8L406.1 351.4L406.5 347L406.7 342.5L406.8 338M350.6 338L350.7 343.8L351.1 349.5L351.7 355.2L352.6 360.8L353.7 366.2L354.9 371.5L356.4 376.5L358 381.3L359.8 385.9L361.6 390.1L363.6 394L365.6 397.6L367.6 400.8L369.7 403.7L371.8 406.1L373.8 408.1L375.8 409.7L377.8 410.8L379.7 411.5L381.3 411.7L382.9 411.5L384.8 410.8L386.8 409.7L388.8 408.1L390.8 406.1L392.9 403.7L395 400.8L397 397.6L399 394L401 390.1L402.8 385.9L404.6 381.3L406.2 376.5L407.7 371.5L408.9 366.2L410 360.8L410.9 355.2L411.5 349.5L411.9 343.8L412 338M381.3 339.3L378.8 339.2M381.3 339.2L383.8 339.3M381.3 343.4L378.8 343.6M381.3 343.6L383.8 343.4M381.3 347.8L378.9 347.5M381.3 347.5L383.7 347.8M381.3 352.5L379 352.4M381.3 352.4L383.6 352.5M378.8 340.6L376.4 340.9M383.8 340.9L386.2 340.6M378.8 344.5L376.4 344.3M383.8 344.3L386.2 344.5M378.9 348.7L376.4 348.5M383.7 348.5L386.2 348.7M379 353.5L376.6 353.5M383.6 353.5L386 353.5M376.4 340.8L372.1 341.1M386.2 341.1L390.5 340.8M376.4 345.2L372.1 345.2M386.2 345.2L390.5 345.2M376.4 349.8L372.1 349.9M386.2 349.9L390.5 349.8M376.7 354.1L372.4 354M385.9 354L390.2 354.1M372.1 340.5L369.6 340.8M390.5 340.8L393 340.5M372.1 344.7L369.6 344.6M390.5 344.6L393 344.7M372.1 349.2L369.7 349.3M390.5 349.3L392.9 349.2M372.3 353.3L369.9 353.3M390.3 353.3L392.7 353.3M373.3 358L370.7 357.6M389.3 357.6L391.9 358M369.6 341.6L367.2 342M393 342L395.4 341.6M369.6 345.6L367.2 345.3M393 345.3L395.4 345.6M369.7 350.1L367.2 350M392.9 350L395.4 350.1M370 354.7L367.5 354.3M392.6 354.3L395.1 354.7M371.2 359.1L368.5 358.8M391.4 358.8L394.1 359.1M367.2 345.4L364.3 346.3M367.3 351.9L364.8 353.8M368.8 359.8L366.7 362.9M374.6 363.3L372.8 369.2M381.3 363.4L381.3 369.7M389 363.1L390.9 368.9M393.7 360L395.8 363.3M395.3 352.3L397.7 354.3M395.4 345.8L398.3 346.8M364.2 345.2L362.5 345.6M364.6 351.4L363 352.4M366 360.7L364.7 362.3M368.4 366.1L367 368.7M374.6 369.6L373.3 374.8M381.3 369.7L381.3 375.4M388.8 369.4L390.2 374.5M393.8 366.7L395.2 369.5M397 359.2L398.2 360.7M398 352L399.5 353M398.3 346.5L400.1 347M362.4 345.1L359.4 345.7M363 352.5L360.3 354.3M364 358.8L361.5 361.3M365.7 365.6L363.6 369M368.7 371.5L366.7 376.4M374.4 375.1L372.7 383.4M381.3 375.4L381.3 385M387.5 375.2L389 383.9M393.1 372.4L395.1 377.8M396.7 366.1L398.8 369.6M398.5 359.5L400.9 362.1M399.6 352.5L402.3 354.3M400.1 345.9L403.1 346.6M359.3 343.9L356 344.4M359.8 350.5L356.6 351.9M361 358.6L358.1 361.1M362.5 365.3L359.9 368.7M364.4 371.4L362.1 375.6M367.7 378.1L365.6 383.6M371.8 382.8L370.1 390.3M377.8 384.9L377 395.1M385.3 384.9L386.2 394.9M390.8 382.8L392.5 390.3M394.6 378.6L396.6 384.2M397.6 372.7L399.9 377.2M400.1 365.3L402.7 368.7M401.4 359.5L404.3 362.1M402.7 351.4L405.9 353M403.1 346.7L406.4 347.6M356 344.1L350.7 344.7M356.5 351L351.4 353.1M357.6 358.9L352.9 362.5M358.8 364.3L354.3 368.9M360.7 371.5L356.7 377.4M363.8 379.7L360.4 387.2M366.5 385.1L363.5 393.9M369.8 389.9L367.3 400.4M374.9 394.3L373.3 407.6M380 395.5L379.6 411.5M386.8 394.7L388.3 408.5M392 390.9L394.3 401.8M396.5 384.4L399.6 393M398.8 379.7L402.2 387.2M401.3 373.4L405.1 379.7M403.1 367.5L407.3 372.7M404.8 360L409.4 363.8M406.1 351L411.2 353.1M406.6 345.3L411.8 346.1M351.1 71.2L356 71.6M351.1 124.3L356.1 124M351.1 157.7L356.1 157.4M351.1 180.6L356.1 180.2M351.1 203.4L356.1 203.4M351.1 214.9L356.1 214.7M351.1 227.4L356.1 227.8M351.1 235.3L356.1 235.5M351.1 240L356.1 240M351 244.2L356.1 244.3M350.9 248.2L356 247.7M350.9 252.3L356 252.3M350.8 256.2L355.9 255.7M350.7 260.3L355.9 260.1M350.6 265L355.8 265M350.6 269.7L355.7 270M350.5 274.1L355.7 273.8M350.4 278.3L355.6 278M350.3 282.7L355.6 283.1M350.2 287.3L355.5 287M350.2 291.2L355.4 290.6M350.1 295.6L355.4 295.3M350 299.4L355.3 299.2M350.1 303.4L355.4 303.1M350.1 307.9L355.4 308M350.2 312L355.5 312.3M350.2 316L355.5 316.5M350.3 319.9L355.6 320M350.4 324.4L355.6 324.7M350.4 328.7L355.7 329.2M350.5 333.1L355.7 333.4M350.6 337L355.8 336.6M356 58.1L362.1 57.6M356 109.8L362.1 109.6M356.1 153L362.2 153M356.1 186.1L362.3 185.8M356.1 205.9L359.4 206.1M356.1 220.3L359.4 220.1M356.1 228.8L359.4 228.8M356.1 235.9L359.4 236.1M356.1 239.8L359.4 239.8M356.1 244.2L359.4 243.8M356 248.1L359.3 248.6M356 251.9L359.3 251.9M355.9 256L359.2 255.5M355.9 260.1L359.2 259.7M355.8 264.3L359.2 264.8M355.8 268.2L359.1 268M355.7 272.7L359.1 272.8M355.6 276.5L359 276.2M355.6 280.6L359 281M355.5 284.8L358.9 284.5M355.5 289.1L358.9 289.1M355.4 293L358.8 293.2M355.4 297.6L358.8 297.5M355.3 301.9L358.8 302.2M355.4 306.7L358.8 306.8M355.5 310.5L358.9 310.5M355.5 315L358.9 314.8M355.6 319.4L359 319.3M355.6 323.9L359 324M355.7 328.3L359.1 328.8M355.7 332.8L359.1 333.1M355.8 337.3L359.2 337M359.4 215.3L362.3 215.5M359.4 227.2L362.4 227.2M359.4 235.8L362.4 235.7M359.4 240.1L362.4 240.7M359.4 244.3L362.4 244.5M359.3 249L362.3 248.5M359.3 253.6L362.3 253.8M359.2 257.9L362.2 258.3M359.2 262.6L362.2 262.2M359.1 266.9L362.2 267M359.1 271.4L362.1 271.9M359 276L362.1 276.4M359 279.9L362.1 279.8M358.9 284.6L362 285.1M358.9 289.1L362 288.9M358.8 293.7L361.9 293.7M358.8 298.2L361.9 298.3M358.8 302.8L361.9 303.1M358.8 307.6L362 307.6M358.9 311.9L362 312.1M358.9 316.3L362 315.7M359 321L362.1 320.8M359 325.3L362.1 324.8M359.1 329.3L362.2 329.8M359.1 333.4L362.2 333.1M359.2 338L362.2 337.7M362.1 58.9L366.7 59.4M362.1 102.2L366.8 101.9M362.2 138.4L366.9 138.3M362.3 166.4L366.9 166M362.3 188.1L367 187.9M362.3 208.9L367.1 209.4M362.4 220.8L367.1 220.5M362.4 229.2L367.1 229.4M362.4 235.9L367.1 235.4M362.4 240.2L367.1 239.9M362.4 244.1L367.1 244.5M362.3 248.1L367.1 248M362.3 252.6L367.1 252.7M362.2 257.3L367.1 257.1M362.2 262L367.1 261.5M362.2 266.7L367 266.6M362.1 270.5L367 270.2M362.1 275.3L367 275.6M362.1 279.9L367 280.2M362 283.7L367 283.4M362 287.9L366.9 288.4M362 292.6L366.9 292.2M361.9 297.4L366.9 297.5M361.9 301.5L366.9 301M361.9 305.8L366.9 305.8M362 310L367 309.8M362 314.8L367 314.7M362.1 318.9L367 319.2M362.1 322.9L367.1 322.8M362.1 326.8L367.1 326.5M362.2 331.6L367.1 331.8M362.2 335.9L367.1 336.1M366.7 57.2L371.3 57.1M366.7 90L371.4 89.4M366.8 121.8L371.5 121.7M366.9 150.2L371.6 150.4M367 178.2L371.7 177.8M367 198.3L371.7 198.3M367.1 212.2L369.4 212.7M367.1 223.8L369.5 223.3M367.1 230.8L369.5 231.2M367.1 237.2L369.5 236.9M367.1 241.7L369.5 241.2M367.1 246.4L369.5 246.9M367.1 250.9L369.5 250.3M367.1 255.1L369.5 255.5M367.1 259.5L369.5 259.1M367 263.5L369.5 263M367 267.8L369.5 267.5M367 272.1L369.5 272.6M367 276.8L369.4 276.8M367 281.4L369.4 280.9M367 286.1L369.4 286.6M366.9 290.4L369.4 290.9M366.9 294.5L369.4 295.1M366.9 298.6L369.4 299.1M366.9 303.3L369.4 303.8M367 307.8L369.5 307.3M367 311.9L369.5 312.1M367 316.6L369.5 316.8M367 320.4L369.5 320.2M367.1 324.6L369.5 324.2M367.1 328.6L369.6 328.6M367.1 332.8L369.6 332.5M367.2 337L369.6 337.5M369.4 202.3L371.8 201.9M369.4 218.3L371.8 218.6M369.5 228.7L371.9 228.6M369.5 236.1L371.9 236M369.5 240.1L371.9 239.8M369.5 244L371.9 243.5M369.5 248.8L371.9 249.3M369.5 252.9L371.9 252.8M369.5 257L371.9 257.4M369.5 261.3L371.9 260.9M369.5 266L371.9 266.5M369.5 269.8L371.9 269.8M369.5 273.9L371.9 274M369.4 278L371.9 277.8M369.4 282.1L371.9 282.3M369.4 286.4L371.9 286.4M369.4 290.9L371.9 290.9M369.4 295.7L371.9 295.6M369.4 300.2L371.9 300.8M369.4 304.7L371.9 304.8M369.5 309.3L372 309.5M369.5 313.3L372 313.2M369.5 317.2L372 316.6M369.5 321.7L372 321.5M369.6 325.8L372 325.2M369.6 329.6L372 329.8M369.6 333.7L372.1 333.7M371.3 70.8L375.4 71M371.4 105.8L375.5 106.4M371.5 139.7L375.6 139.8M371.7 188.3L375.8 188M371.8 209.9L375.9 210.1M371.8 223.3L376 222.9M371.9 232.9L376 232.6M371.9 238.8L376 239.1M371.9 242.9L376.1 242.6M371.9 247L376.1 247.6M371.9 251.5L376.1 251.5M371.9 255.8L376.1 256M371.9 259.9L376.1 259.4M371.9 263.8L376.1 263.9M371.9 268.2L376.2 268.8M371.9 272.6L376.2 273.1M371.9 277.4L376.2 277.4M371.9 281.6L376.2 281.6M371.9 285.8L376.2 286.1M371.9 290.2L376.3 289.7M371.9 295L376.3 295M371.9 299.5L376.3 299.6M371.9 303.9L376.3 304M371.9 307.8L376.3 307.4M372 312.3L376.3 312.2M372 316.3L376.3 316.6M372 320.8L376.3 321.1M372 325L376.4 324.6M372 329.6L376.4 329.2M372.1 334L376.4 334.3M375.2 39.1L379.8 39.2M375.4 92.4L380.1 92.5M375.7 151.9L380.4 151.5M375.8 184L380.5 184M375.9 204.7L378.3 204.4M376 217.1L378.3 217.1M376 227.8L378.4 228.3M376 235.2L378.4 235.2M376 239.7L378.4 239.8M376.1 243.9L378.4 243.6M376.1 248.4L378.5 248.2M376.1 252.2L378.5 251.8M376.1 256.4L378.5 256.6M376.1 260.8L378.6 260.8M376.2 265.4L378.6 265.2M376.2 269.6L378.6 269.9M376.2 274.1L378.6 274M376.2 278.7L378.7 278.2M376.2 283.1L378.7 283.5M376.2 287.8L378.7 287.4M376.3 292.4L378.7 292.4M376.3 297.1L378.8 296.9M376.3 301.6L378.8 301.7M376.3 306.4L378.8 306.2M376.3 310.5L378.8 310.1M376.3 315L378.8 314.5M376.3 319.7L378.8 319.3M376.3 323.7L378.8 324.2M376.4 328L378.8 328.3M376.4 332.1L378.8 331.8M376.4 336.3L378.8 336.9M378.3 214.5L380.7 215M378.4 225.9L380.7 225.6M378.4 233.9L380.8 234.5M378.4 239.4L380.8 239M378.4 243.5L380.8 243.6M378.5 247.3L380.9 246.7M378.5 251.5L380.9 251.2M378.5 255.8L380.9 255.3M378.5 260.1L381 260.3M378.6 264.2L381 264.3M378.6 268.6L381 268.9M378.6 272.9L381.1 273.1M378.7 277.3L381.1 277.7M378.7 281.2L381.1 280.7M378.7 285.9L381.2 286.3M378.7 289.7L381.2 290.2M378.8 294.1L381.3 294.5M378.8 298.6L381.3 298.4M378.8 302.5L381.3 302.8M378.8 307L381.3 307M378.8 311.1L381.3 310.9M378.8 315.8L381.3 315.8M378.8 319.8L381.3 320.4M378.8 324.6L381.3 324.2M378.8 328.6L381.3 328.9M378.8 332.8L381.3 332.8M378.8 337.3L381.3 337M379.9 46.1L384.5 45.8M380.1 91.6L384.7 91.5M380.4 148.2L385 147.8M380.6 205.5L383 205.3M380.7 218.3L383.1 217.9M380.7 227.5L383.1 228.1M380.8 234.3L383.1 234.7M380.8 240.5L383.2 240.7M380.8 244.5L383.2 244.4M380.9 248.5L383.3 248.2M380.9 252.6L383.3 252.2M380.9 257.1L383.4 257.1M381 261.2L383.4 260.9M381 265.1L383.4 264.6M381 269.3L383.5 268.8M381.1 273.7L383.5 273.4M381.1 278.2L383.6 278M381.2 282.9L383.6 283.4M381.2 287.6L383.7 287.3M381.2 292.4L383.7 292.3M381.3 297L383.8 297M381.3 301.4L383.8 301.1M381.3 305.9L383.8 305.8M381.3 310.6L383.8 310.9M381.3 314.9L383.8 314.3M381.3 318.9L383.8 318.8M381.3 323.1L383.8 323.2M381.3 326.9L383.8 326.9M381.3 331.6L383.8 332.1M381.3 336.1L383.8 336.3M383 214.1L385.4 214.2M383.1 225.7L385.5 225.5M383.1 233.9L385.5 233.9M383.2 240.2L385.6 240.8M383.2 245L385.6 245.5M383.3 248.8L385.7 248.3M383.3 253L385.7 253.4M383.4 257.3L385.8 257M383.4 261.2L385.8 260.9M383.4 265.2L385.9 264.7M383.5 269.7L385.9 269.3M383.5 273.7L386 273.8M383.6 277.6L386 278M383.6 282L386.1 282.5M383.7 286.6L386.1 286.8M383.7 290.6L386.2 290.5M383.7 294.8L386.2 294.7M383.8 299.5L386.3 299.5M383.8 304.1L386.3 304.3M383.8 308L386.3 307.7M383.8 312.4L386.3 312.7M383.8 316.4L386.3 316.1M383.8 320.6L386.3 320.6M383.8 324.8L386.2 325.3M383.8 329.2L386.2 329M383.8 333.4L386.2 333.4M383.8 337.3L386.2 337.2M384.5 62L388.6 62.4M384.9 118.7L388.9 118.9M385.1 159L389.2 159.1M385.3 187L389.4 186.6M385.4 206.4L389.5 206.4M385.4 218.2L389.6 218.1M385.5 229.5L389.6 229.6M385.5 235.7L389.7 235.3M385.6 240.1L389.7 240.1M385.6 244.2L389.8 244.1M385.7 248.4L389.8 248.5M385.7 253.1L389.9 252.9M385.8 257.4L390 257.5M385.8 261.9L390.1 261.6M385.9 265.9L390.1 266.4M385.9 269.9L390.2 270.1M386 273.9L390.3 273.9M386 278.2L390.3 277.9M386.1 282.1L390.4 282.7M386.1 286L390.5 285.6M386.2 290.5L390.5 290.4M386.2 294.5L390.6 294.9M386.3 299.3L390.7 299M386.3 303.8L390.7 303.7M386.3 308.6L390.7 308.7M386.3 313.3L390.6 313.5M386.3 317.2L390.6 317.2M386.3 321.7L390.6 321.3M386.2 325.6L390.6 326.2M386.2 330.4L390.6 330.5M386.2 334.2L390.5 334.5M388.6 66.4L393.2 66.6M388.9 108.5L393.5 108.6M389.2 166.1L393.9 166.1M389.4 187.1L394.1 186.6M389.5 209.6L391.9 209.9M389.6 224.3L392 223.8M389.7 231.1L392 231.3M389.7 237.1L392.1 237M389.7 241.1L392.1 241.4M389.8 245.7L392.2 246M389.9 249.9L392.3 249.9M389.9 254.1L392.3 254.1M390 258.3L392.4 258.2M390.1 263L392.5 263.4M390.2 267L392.6 267.2M390.2 271.6L392.7 271.4M390.3 276.3L392.8 276.8M390.4 280.1L392.8 280.3M390.4 284.3L392.9 284.3M390.5 288.7L393 289.1M390.6 293.1L393.1 293.6M390.6 297.1L393.1 297.5M390.7 301.3L393.2 301M390.7 305.9L393.2 306M390.6 310L393.1 310.4M390.6 314.3L393.1 314.5M390.6 319L393.1 318.8M390.6 323.4L393.1 323.4M390.6 327.5L393 327.5M390.5 332.2L393 332.5M390.5 336.3L393 336.5M391.9 210.6L394.3 211M392 221.8L394.3 221.4M392 230.1L394.4 229.6M392.1 237.5L394.4 238.1M392.1 241.7L394.5 241.4M392.2 246.4L394.6 246.8M392.3 250.4L394.7 250.2M392.4 254.7L394.8 254.3M392.4 258.7L394.8 258.6M392.5 262.7L394.9 262.2M392.6 267.1L395 266.8M392.7 271.8L395.1 272.3M392.8 276.2L395.2 276M392.8 280.8L395.3 280.6M392.9 285.5L395.4 285.4M393 290L395.5 290.3M393.1 294.5L395.6 294.8M393.2 298.6L395.7 298.2M393.2 302.8L395.7 303.3M393.2 306.6L395.7 306.4M393.1 310.7L395.6 310.7M393.1 315.4L395.6 315M393.1 319.3L395.6 318.7M393.1 323.4L395.5 323.7M393 327.7L395.5 327.9M393 332L395.5 331.8M393 336.2L395.4 335.7M393.2 64.6L397.8 64.2M393.5 99.1L398.1 99.5M393.8 143.4L398.5 143.7M394.1 195.4L398.9 195M394.3 214.2L399 213.9M394.3 223.7L399.1 224M394.4 233.1L399.2 232.9M394.5 238.4L399.2 238.7M394.5 242.5L399.3 242.4M394.6 247.3L399.4 246.8M394.7 252L399.5 252.5M394.8 256.8L399.6 256.5M394.9 260.8L399.7 260.7M395 264.8L399.8 265.3M395.1 269.2L399.9 269.6M395.2 273.5L400 273.5M395.2 278.2L400.2 277.8M395.3 282.2L400.3 282.7M395.4 286.6L400.4 287M395.5 291.4L400.5 291.7M395.6 295.8L400.6 296.1M395.7 300.2L400.7 299.8M395.7 304.3L400.7 304.8M395.6 308.6L400.6 308.1M395.6 313.1L400.6 313.6M395.6 317.5L400.5 317.5M395.5 321.7L400.5 321.9M395.5 326.2L400.5 326.1M395.5 330.9L400.4 331.3M395.5 335.4L400.4 335.7M397.7 45.9L403.7 45.9M398 82.4L404.1 82.1M398.4 140.8L404.6 140.5M398.9 194.9L405.1 195.3M399 211.1L401.9 210.5M399.1 221.6L402 221.7M399.1 231.3L402.1 231.1M399.2 237.6L402.2 237.2M399.3 242.1L402.2 242.4M399.4 246.6L402.4 246.7M399.5 251L402.5 250.4M399.6 255.1L402.6 255M399.7 259L402.7 258.4M399.8 263.7L402.8 263.9M399.9 268.1L403 268.3M400 272.7L403.1 272.9M400.1 277L403.2 276.8M400.3 281.7L403.3 282.3M400.4 285.7L403.4 286.1M400.5 290.1L403.6 289.9M400.6 294.6L403.7 294.4M400.7 299.2L403.8 299.2M400.7 303.6L403.8 303M400.6 308.3L403.7 308.8M400.6 312.8L403.7 312.6M400.5 317.3L403.6 316.9M400.5 321.7L403.6 321.5M400.5 326L403.6 325.7M400.4 329.8L403.5 329.8M400.4 333.9L403.5 333.5M401.9 209.1L405.2 208.6M402 221.3L405.3 221.3M402.1 228.7L405.4 228.8M402.1 234.2L405.4 234M402.2 239.9L405.5 240.3M402.3 243.9L405.6 243.8M402.4 248.6L405.7 248.4M402.5 252.5L405.8 252.2M402.7 257.2L406 257M402.8 261.7L406.1 262.2M402.9 266.1L406.2 265.7M403 270.4L406.4 270.2M403.1 274.7L406.5 274.8M403.3 279.4L406.7 279.7M403.4 283.7L406.8 284.1M403.5 288.1L406.9 287.7M403.6 292.5L407.1 292.2M403.7 296.5L407.2 296.4M403.8 300.8L407.3 300.3M403.8 305L407.2 305.5M403.7 309.3L407.2 309.1M403.7 313.5L407.1 313.8M403.6 317.8L407.1 317.7M403.6 322.2L407 322M403.5 326.7L406.9 326.6M403.5 331.2L406.9 331M403.5 335.7L406.8 335.3M403.8 56.2L408.7 55.6M404.1 88.3L409 88.2M404.6 140.8L409.5 141.1M405.1 195.8L410.1 196.1M405.2 215.4L410.3 215M405.3 224.7L410.4 224.2M405.4 233.6L410.4 233.3M405.4 238.6L410.5 238.2M405.6 243.4L410.6 243M405.7 247.4L410.8 247.5M405.8 251.9L410.9 251.3M405.9 256.3L411.1 256.3M406.1 260.6L411.2 260.6M406.2 265.2L411.4 265.6M406.4 269.9L411.5 269.7M406.5 273.7L411.7 273.7M406.6 277.6L411.8 277.7M406.7 281.8L412 282.1M406.9 286.5L412.1 286.7M407 291L412.3 290.8M407.1 295.5L412.4 295.7M407.3 299.5L412.6 299.9M407.2 303.8L412.5 303.8M407.2 307.8L412.5 308.2M407.1 312L412.4 312.3M407.1 316.7L412.3 316.7M407 321.1L412.3 321M407 325.1L412.2 325.5M406.9 329.8L412.2 329.3M406.9 333.7L412.1 333.6M406.8 337.5L412 337.5M351.1 33.2L356 34.8L362 34.2L366.6 35.3L371.2 33.1L375.2 33.6L379.8 34.4L384.4 34.8L388.4 33.8L393 33.1L397.6 33.7L403.6 34.2L408.5 35.4" fill="none" stroke="#3f3f3f" stroke-width="0.82" stroke-linejoin="round"/>
<path d="M82.3 299c-1.2 18 0.5 38 4 52M145.8 299c1.2 18 -0.5 38 -4 52M350 299c-1.2 18 0.5 38 4 52M412.6 299c1.2 18 -0.5 38 -4 52" fill="none" stroke="#3f3f3f" stroke-width="0.6"/>
<path d="M110 101.5L114.6 101.5L115.6 129.3L111.5 128.3Z" fill="#e8392e"/>
<path d="M377.4 67.8L381.7 66.3L381.7 101.5L377.4 101.5Z" fill="#e8392e"/>
<path d="M125.7 218.5L129.8 218L129.8 232.6L125.7 232.6Z" fill="#2a9be0"/>
<path d="M392.2 208L396.5 208L396.5 226.5L392.6 226.5Z" fill="#2a9be0"/>
<path d="M121.8 354.6L125.9 355.6L125.2 360L121.2 359Z" fill="#2eaa3c" stroke="#1c7a2a" stroke-width="0.6"/>
<path d="M389.2 349.6L393.2 350.2L392.4 359L388.4 358.4Z" fill="#2eaa3c" stroke="#1c7a2a" stroke-width="0.6"/>
<path d="M76.7 106.1H83.1M94.3 106.1H107.2M119.3 106.1H131.3M141.5 106.1H148.9" stroke="#444" stroke-width="2"/>
<path d="M342.8 105.6H351.1M360.4 105.6H373.3M385.4 105.6H397.4M407.6 105.6H415" stroke="#444" stroke-width="2"/>
<clipPath id="c101"><circle cx="196.1" cy="89.4" r="36.3"/></clipPath>
<circle cx="196.1" cy="89.4" r="36.3" fill="#fff"/>
<path clip-path="url(#c101)" d="M158.5 53.1L157.7 125.7M165.3 53.1L164.7 125.7M173.7 53.1L172.8 125.7M181.9 53.1L182.5 125.7M189.2 53.1L189 125.7M197 53.1L196.9 125.7M203.8 53.1L203.5 125.7M210.6 53.1L210.9 125.7M217.6 53.1L217.4 125.7M225.4 53.1L224.8 125.7M232.2 53.1L232.1 125.7M158.5 71.4L165.3 70.6M165.3 93.9L173.7 94.2M173.7 76.8L181.9 76.5M181.9 77.4L189.2 77.7M181.9 117.7L189.2 117.6M189.2 73.8L197 72.9M197 53.7L203.8 53.8M197 101.3L203.8 100.4M203.8 57L210.6 56.3M210.6 96.8L217.6 96.5M217.6 81.6L225.4 81.6M225.4 71.8L232.2 72.5" fill="none" stroke="#3f3f3f" stroke-width="1.0"/>
<path d="M193 100L199.8 100L199.8 126L193 126Z" fill="#e8392e" clip-path="url(#c101)"/>
<path d="M162.8 105.6H169.3M179.4 105.6H192.4M200.7 105.6H211.9M220.2 105.6H227.6" stroke="#444" stroke-width="2" clip-path="url(#c101)"/>
<circle cx="196.1" cy="89.4" r="36.3" fill="none" stroke="#3f3f3f" stroke-width="1.15"/>
<clipPath id="c102"><circle cx="198" cy="205.2" r="36.3"/></clipPath>
<circle cx="198" cy="205.2" r="36.3" fill="#fff"/>
<path clip-path="url(#c102)" d="M159.1 168.9L159.9 241.5M165.9 168.9L166.3 241.5M171.8 168.9L171.5 241.5M178.6 168.9L178.1 241.5M185.3 168.9L184.6 241.5M191.6 168.9L192.2 241.5M198.3 168.9L198.7 241.5M205 168.9L205.2 241.5M213.6 168.9L213.4 241.5M223.4 168.9L223.4 241.5M233.4 168.9L232.9 241.5M159.1 174.2L165.9 173.6M159.1 192.9L165.9 193.1M159.1 212.3L165.9 211.9M159.1 223.6L165.9 223.3M165.9 174L171.8 174.4M165.9 190L171.8 189.9M165.9 212.7L171.8 212.2M165.9 225.6L171.8 225.8M171.8 173.2L178.6 173.3M171.8 189.4L178.6 189.7M171.8 211.8L178.6 212.4M171.8 230.8L178.6 230.7M178.6 173.4L185.3 173.6M178.6 195.5L185.3 195.8M178.6 211L185.3 211.4M178.6 229.4L185.3 230.1M185.3 174.2L191.6 175M185.3 191.6L191.6 191.5M185.3 214.8L191.6 215.5M185.3 227.2L191.6 226.5M191.6 177.7L198.3 177.5M191.6 191.3L198.3 191.6M191.6 214.5L198.3 214M191.6 230.7L198.3 231M198.3 173L205 172.5M198.3 189.8L205 189.3M198.3 200.9L205 200.7M198.3 213L205 212.4M198.3 225.1L205 225M198.3 239.6L205 239.9M205 171.3L213.6 170.8M205 180.2L213.6 180.6M205 188.8L213.6 188.8M205 199.2L213.6 199.8M205 208.6L213.6 209.2M205 218.6L213.6 218.1M205 226.8L213.6 226.3M205 237.2L213.6 237M213.6 178.6L223.4 179.2M213.6 188L223.4 187.2M213.6 196.8L223.4 196.4M213.6 206.8L223.4 207.1M213.6 217.5L223.4 217.9M213.6 228.4L223.4 228.6M213.6 237.8L223.4 238.4M223.4 176.7L233.4 177M223.4 187.3L233.4 186.6M223.4 195.9L233.4 196.6M223.4 204.3L233.4 204.2M223.4 214.1L233.4 214.1M223.4 224.7L233.4 225.4M223.4 233.7L233.4 233.2" fill="none" stroke="#3f3f3f" stroke-width="1.0"/>
<path d="M204.4 207L211.5 206L211.5 226.5L205.2 226.5Z" fill="#2a9be0" clip-path="url(#c102)"/>
<circle cx="198" cy="205.2" r="36.3" fill="none" stroke="#3f3f3f" stroke-width="1.15"/>
<clipPath id="c103"><circle cx="197" cy="320.9" r="36.5"/></clipPath>
<circle cx="197" cy="320.9" r="36.5" fill="#fff"/>
<path clip-path="url(#c103)" d="M183.7 282.4L183.7 318.9L183.7 321.2L183.7 323.5L183.7 325.7L183.7 327.8L183.9 329.9L184.1 331.8L184.4 333.6L184.8 335.2L185.4 336.7L186.1 338L187.1 339L188.3 339.8L189.8 340.4L191.9 340.8L197 340.9L202.1 340.8L204.2 340.4L205.7 339.8L206.9 339L207.9 338L208.6 336.7L209.2 335.2L209.6 333.6L209.9 331.8L210.1 329.9L210.3 327.8L210.3 325.7L210.3 323.5L210.3 321.2L210.3 318.9L210.3 282.4M178.3 282.4L178.3 318.9L178.4 321.5L178.5 324.1L178.7 326.7L179 329.1L179.5 331.5L180.1 333.7L180.8 335.7L181.7 337.6L182.7 339.3L183.9 340.7L185.4 341.9L187 342.8L188.9 343.5L191.4 343.9L197 344.1L202.6 343.9L205.1 343.5L207 342.8L208.6 341.9L210.1 340.7L211.3 339.3L212.3 337.6L213.2 335.7L213.9 333.7L214.5 331.5L215 329.1L215.3 326.7L215.5 324.1L215.6 321.5L215.7 318.9L215.7 282.4M173 282.4L173 318.9L173.1 321.9L173.4 324.8L173.9 327.7L174.7 330.4L175.7 333.1L176.8 335.6L178.1 337.9L179.6 340L181.2 341.8L183 343.4L184.9 344.8L186.9 345.8L189.2 346.6L191.8 347.1L197 347.2L202.2 347.1L204.8 346.6L207.1 345.8L209.1 344.8L211 343.4L212.8 341.8L214.4 340L215.9 337.9L217.2 335.6L218.3 333.1L219.3 330.4L220.1 327.7L220.6 324.8L220.9 321.9L221 318.9L221 282.4M167.6 282.4L167.6 318.9L167.8 322.2L168.4 325.5L169.4 328.6L170.7 331.7L172.3 334.7L174.2 337.4L176.3 340L178.5 342.3L180.8 344.4L183.2 346.2L185.7 347.7L188.1 348.9L190.6 349.7L193.1 350.2L197 350.4L200.9 350.2L203.4 349.7L205.9 348.9L208.3 347.7L210.8 346.2L213.2 344.4L215.5 342.3L217.7 340L219.8 337.4L221.7 334.7L223.3 331.7L224.6 328.6L225.6 325.5L226.2 322.2L226.4 318.9L226.4 282.4M161.4 282.4L161.4 318.9L161.7 322.6L162.7 326.2L164.3 329.8L166.5 333.2L169.1 336.5L172 339.6L175.2 342.5L178.5 345.1L181.8 347.4L185.1 349.4L188.2 351.1L191.1 352.4L193.6 353.3L195.7 353.9L197 354.1L198.3 353.9L200.4 353.3L202.9 352.4L205.8 351.1L208.9 349.4L212.2 347.4L215.5 345.1L218.8 342.5L222 339.6L224.9 336.5L227.5 333.2L229.7 329.8L231.3 326.2L232.3 322.6L232.6 318.9L232.6 282.4M154.3 282.4L154.3 318.9L154.7 323L155.9 327.1L157.8 331.1L160.4 334.9L163.5 338.6L167 342.1L170.8 345.3L174.8 348.2L178.8 350.8L182.7 353L186.5 354.9L189.9 356.4L193 357.5L195.5 358.1L197 358.3L198.5 358.1L201 357.5L204.1 356.4L207.5 354.9L211.3 353L215.2 350.8L219.2 348.2L223.2 345.3L227 342.1L230.5 338.6L233.6 334.9L236.2 331.1L238.1 327.1L239.3 323L239.7 318.9L239.7 282.4M146.3 282.4L146.3 318.9L146.7 323.5L148.2 328.1L150.4 332.6L153.5 336.9L157.2 341L161.4 344.9L165.9 348.5L170.6 351.7L175.4 354.6L180 357.2L184.5 359.3L188.6 360.9L192.2 362.1L195.2 362.8L197 363.1L198.8 362.8L201.8 362.1L205.4 360.9L209.5 359.3L214 357.2L218.6 354.6L223.4 351.7L228.1 348.5L232.6 344.9L236.8 341L240.5 336.9L243.6 332.6L245.8 328.1L247.3 323.5L247.7 318.9L247.7 282.4M188.1 284.4L188.7 339.1M192.6 284.4L192.5 340.2M197 284.4L197.3 340.2M201.4 284.4L201.7 340.2M205.9 284.4L205.6 339.1M183.7 284.9L188.1 285M183.7 291.4L188.1 291.2M183.7 300.9L188.1 301.4M183.7 307.4L188.1 306.9M183.7 314.3L188.1 314.7M183.7 320.4L188.1 320M183.7 326.8L188.1 326.4M183.7 334.9L188.1 334.5M188.1 288.8L192.6 289.1M188.1 296.5L192.6 296.8M188.1 304.7L192.6 305.1M188.1 311.7L192.6 311.6M188.1 320.1L192.6 320.6M188.1 328.5L192.6 328.5M192.6 286.1L197 285.7M192.6 296L197 296.5M192.6 305.6L197 305.6M192.6 314.4L197 314.2M192.6 322.4L197 321.9M192.6 330.1L197 329.8M197 289.9L201.4 289.4M197 299.2L201.4 299.4M197 305.5L201.4 305.5M197 315.5L201.4 316.1M197 323.8L201.4 324.1M197 332.6L201.4 332.4M201.4 288L205.9 287.9M201.4 297.3L205.9 297.2M201.4 306.3L205.9 305.7M201.4 314L205.9 313.5M201.4 322.6L205.9 323.1M201.4 330.8L205.9 330.9M205.9 285.8L210.3 285.6M205.9 294.1L210.3 294.3M205.9 301.6L210.3 301.6M205.9 308.9L210.3 309M205.9 317.6L210.3 317.4M205.9 326.4L210.3 326.8M205.9 334.5L210.3 335.1M183.7 289L178.3 288.6M210.3 289L215.7 288.8M183.7 297.4L178.3 296.8M210.3 297.4L215.7 297.6M183.7 306.1L178.3 306.7M210.3 306.1L215.7 306.3M183.7 313.1L178.3 312.9M210.3 313.1L215.7 313.3M184.1 331.8L180.1 333.7M188.3 339.8L187 342.8M205.7 339.8L207 342.8M209.9 331.8L213.9 333.7M178.3 284.5L173 285.1M215.7 284.5L221 284.7M178.3 291L173 290.9M215.7 291L221 290.7M178.3 299.6L173 299.3M215.7 299.6L221 300M178.3 307.9L173 307.6M215.7 307.9L221 307.5M178.3 315.4L173 315.3M215.7 315.4L221 315.6M179.2 329.8L175 331.2M182.3 338.6L180.5 341.1M188.6 343.4L188.8 346.5M205.4 343.4L205.2 346.5M211.7 338.6L213.5 341.1M214.8 329.8L219 331.2M173 288.4L167.6 288.3M221 288.4L226.4 287.9M173 296.7L167.6 297.2M221 296.7L226.4 296.9M173 304.3L167.6 304.9M221 304.3L226.4 304.9M173 310.4L167.6 310.3M221 310.4L226.4 309.7M173 317.4L167.6 317M221 317.4L226.4 317.3M174.2 328.6L169.8 329.7M177.7 337.1L175.6 339.2M183 343.4L183.2 346.2M190 346.8L191.4 349.9M204 346.8L202.6 349.9M211 343.4L210.8 346.2M216.3 337.1L218.4 339.2M219.8 328.6L224.2 329.7M167.6 288.7L161.4 288.4M226.4 288.7L232.6 288M167.6 297.7L161.4 298.1M226.4 297.7L232.6 297.8M167.6 304L161.4 303.4M226.4 304L232.6 304.6M167.6 311.6L161.4 312.1M226.4 311.6L232.6 312M168.9 327.1L163.5 328M172.3 334.7L169.1 336.5M177.4 341.2L176.8 343.8M183.2 346.2L185.1 349.4M189.3 349.3L192.4 352.9M197 350.4L197 354.1M204.7 349.3L201.6 352.9M210.8 346.2L208.9 349.4M216.6 341.2L217.2 343.8M221.7 334.7L224.9 336.5M225.1 327.1L230.5 328M161.4 288.4L154.3 288.1M232.6 288.4L239.7 288.1M161.4 295.7L154.3 296.1M232.6 295.7L239.7 296.1M161.4 304L154.3 304.1M232.6 304L239.7 304M161.4 310.6L154.3 310.8M232.6 310.6L239.7 310.8M161.4 318.1L154.3 318.4M232.6 318.1L239.7 318.8M162.9 326.7L156.1 327.7M167.2 334.2L161.2 336M173.3 340.8L168.6 343.5M180.4 346.4L177.1 349.7M187.3 350.6L185.4 354.4M193.3 353.2L192.6 357.3M197 354.1L197 358.3M200.7 353.2L201.4 357.3M206.7 350.6L208.6 354.4M213.6 346.4L216.9 349.7M220.7 340.8L225.4 343.5M226.8 334.2L232.8 336M231.1 326.7L237.9 327.7M154.3 284.9L146.3 284.6M239.7 284.9L247.7 285.1M154.3 293L146.3 292.7M239.7 293L247.7 293.6M154.3 300.4L146.3 300.8M239.7 300.4L247.7 299.8M154.3 307.2L146.3 306.6M239.7 307.2L247.7 307.6M154.3 314.8L146.3 315.4M239.7 314.8L247.7 314.9M155.5 326.1L147.7 327M159.1 333.1L152 334.9M164.5 339.7L158.4 342.2M171.1 345.5L166.2 348.7M178.1 350.4L174.6 354.2M185 354.2L182.7 358.4M191 356.8L189.9 361.4M195.7 358.2L195.5 362.9M198.3 358.2L198.5 362.9M203 356.8L204.1 361.4M209 354.2L211.3 358.4M215.9 350.4L219.4 354.2M222.9 345.5L227.8 348.7M229.5 339.7L235.6 342.2M234.9 333.1L242 334.9M238.5 326.1L246.3 327" fill="none" stroke="#3f3f3f" stroke-width="1.0"/>
<path d="M212.3 323.7L218.9 325.5L217.8 333.2L211.3 331.2Z" fill="#2eaa3c" stroke="#1c7a2a" stroke-width="0.6" clip-path="url(#c103)"/>
<circle cx="197" cy="320.9" r="36.5" fill="none" stroke="#3f3f3f" stroke-width="1.15"/>
<clipPath id="c104"><circle cx="293.7" cy="87.6" r="36.5"/></clipPath>
<circle cx="293.7" cy="87.6" r="36.5" fill="#fff"/>
<path clip-path="url(#c104)" d="M257.1 51.1L256.7 124.1M265.2 51.1L265.5 124.1M273.1 51.1L273.8 124.1M279.9 51.1L280.1 124.1M287 51.1L286.8 124.1M294.8 51.1L294.5 124.1M302.8 51.1L303.1 124.1M309.3 51.1L309.5 124.1M316 51.1L315.8 124.1M324.2 51.1L324.1 124.1M330.8 51.1L330.9 124.1M257.1 66.6L265.2 66M265.2 57.1L273.1 57.3M273.1 100.8L279.9 100.3M279.9 106.5L287 106.2M287 63.1L294.8 63.8M287 105.1L294.8 105.5M294.8 84L302.8 84.2M302.8 110.9L309.3 110.2M309.3 53.5L316 53.2M309.3 100.7L316 100.1M316 56.2L324.2 55.5M316 96.7L324.2 97.3M324.2 55.4L330.8 55.7" fill="none" stroke="#3f3f3f" stroke-width="1.0"/>
<path d="M289.8 59L297 56.5L297 119L288.6 119Z" fill="#e8392e" clip-path="url(#c104)"/>
<path d="M277 119.4H284.4M289 119.4H297.4M302 119.4H308.5" stroke="#444" stroke-width="2" clip-path="url(#c104)"/>
<circle cx="293.7" cy="87.6" r="36.5" fill="none" stroke="#3f3f3f" stroke-width="1.15"/>
<clipPath id="c105"><circle cx="295.6" cy="206.9" r="36.5"/></clipPath>
<circle cx="295.6" cy="206.9" r="36.5" fill="#fff"/>
<path clip-path="url(#c105)" d="M258.7 170.4L258.4 243.4M265 170.4L264.3 243.4M272 170.4L271.8 243.4M279.3 170.4L279.1 243.4M285.5 170.4L285.4 243.4M292.4 170.4L293.2 243.4M298.6 170.4L299.5 243.4M304.5 170.4L304 243.4M313.9 170.4L314.9 243.4M324.3 170.4L324.5 243.4M333.2 170.4L334.1 243.4M258.7 178.6L265 178.6M258.7 192.1L265 192.8M258.7 216.1L265 216.3M258.7 227.7L265 228.2M265 179.2L272 180M265 202.9L272 203.2M265 218.4L272 218.4M265 235.4L272 235.8M272 178.7L279.3 178.7M272 196.9L279.3 197.7M272 218L279.3 218.7M272 237.8L279.3 237.2M279.3 173.3L285.5 172.9M279.3 185.1L285.5 184.5M279.3 201.8L285.5 202.3M279.3 224L285.5 224.7M279.3 242.1L285.5 241.3M285.5 171L292.4 171.6M285.5 185.5L292.4 185.8M285.5 201.8L292.4 201.9M285.5 223.7L292.4 223.9M285.5 234.7L292.4 235M292.4 180.2L298.6 179.8M292.4 193.6L298.6 194.2M292.4 209.3L298.6 208.7M292.4 230.5L298.6 231.2M298.6 172.1L304.5 172.7M298.6 186.8L304.5 186.4M298.6 197.4L304.5 198.1M298.6 210.7L304.5 210.1M298.6 225.8L304.5 226.2M304.5 172.5L313.9 172.7M304.5 181.3L313.9 181.9M304.5 190.8L313.9 191.1M304.5 201.3L313.9 201.4M304.5 210.7L313.9 209.9M304.5 219.2L313.9 219.5M304.5 229.5L313.9 229.6M304.5 237.6L313.9 238M313.9 179L324.3 179.4M313.9 188.9L324.3 188.7M313.9 198L324.3 197.5M313.9 208L324.3 207.7M313.9 218.4L324.3 218M313.9 227.2L324.3 226.5M313.9 236L324.3 236.5M324.3 179.6L333.2 178.8M324.3 189.6L333.2 189.7M324.3 198.7L333.2 199.4M324.3 208.7L333.2 208.4M324.3 219.2L333.2 219.1M324.3 228.6L333.2 228.6M324.3 238L333.2 237.3" fill="none" stroke="#3f3f3f" stroke-width="1.0"/>
<path d="M303.5 179.3L310.4 178.3L310.4 208.8L303.3 209.8Z" fill="#2a9be0" clip-path="url(#c105)"/>
<circle cx="295.6" cy="206.9" r="36.5" fill="none" stroke="#3f3f3f" stroke-width="1.15"/>
<clipPath id="c106"><circle cx="295.6" cy="321.5" r="36.5"/></clipPath>
<circle cx="295.6" cy="321.5" r="36.5" fill="#fff"/>
<path clip-path="url(#c106)" d="M282.2 283L282.2 319.5L282.3 321.8L282.3 324.1L282.3 326.3L282.3 328.4L282.5 330.5L282.7 332.4L283 334.2L283.4 335.8L284 337.3L284.7 338.6L285.7 339.6L286.9 340.4L288.4 341L290.5 341.4L295.6 341.5L300.7 341.4L302.8 341L304.3 340.4L305.5 339.6L306.5 338.6L307.2 337.3L307.8 335.8L308.2 334.2L308.5 332.4L308.7 330.5L308.9 328.4L308.9 326.3L308.9 324.1L308.9 321.8L309 319.5L309 283M276.9 283L276.9 319.5L277 322.1L277.1 324.7L277.3 327.3L277.6 329.7L278.1 332.1L278.7 334.3L279.4 336.3L280.3 338.2L281.3 339.9L282.5 341.3L284 342.5L285.6 343.4L287.5 344.1L290 344.5L295.6 344.7L301.2 344.5L303.7 344.1L305.6 343.4L307.2 342.5L308.7 341.3L309.9 339.9L310.9 338.2L311.8 336.3L312.5 334.3L313.1 332.1L313.6 329.7L313.9 327.3L314.1 324.7L314.2 322.1L314.3 319.5L314.3 283M271.6 283L271.6 319.5L271.7 322.5L272 325.4L272.5 328.3L273.3 331L274.3 333.7L275.4 336.2L276.7 338.5L278.2 340.6L279.8 342.4L281.6 344L283.5 345.4L285.5 346.4L287.8 347.2L290.4 347.7L295.6 347.8L300.8 347.7L303.4 347.2L305.7 346.4L307.7 345.4L309.6 344L311.4 342.4L313 340.6L314.5 338.5L315.8 336.2L316.9 333.7L317.9 331L318.7 328.3L319.2 325.4L319.5 322.5L319.6 319.5L319.6 283M266.2 283L266.2 319.5L266.4 322.8L267 326.1L268 329.2L269.3 332.3L270.9 335.3L272.8 338L274.9 340.6L277.1 342.9L279.4 345L281.8 346.8L284.3 348.3L286.7 349.5L289.2 350.3L291.7 350.8L295.6 351L299.5 350.8L302 350.3L304.5 349.5L306.9 348.3L309.4 346.8L311.8 345L314.1 342.9L316.3 340.6L318.4 338L320.3 335.3L321.9 332.3L323.2 329.2L324.2 326.1L324.8 322.8L325 319.5L325 283M260 283L260 319.5L260.3 323.2L261.3 326.8L262.9 330.4L265.1 333.8L267.7 337.1L270.6 340.2L273.8 343.1L277.1 345.7L280.4 348L283.7 350L286.8 351.7L289.7 353L292.2 353.9L294.3 354.5L295.6 354.7L296.9 354.5L299 353.9L301.5 353L304.4 351.7L307.5 350L310.8 348L314.1 345.7L317.4 343.1L320.6 340.2L323.5 337.1L326.1 333.8L328.3 330.4L329.9 326.8L330.9 323.2L331.2 319.5L331.2 283M252.9 283L252.9 319.5L253.3 323.6L254.5 327.7L256.4 331.7L259 335.5L262.1 339.2L265.6 342.7L269.4 345.9L273.4 348.8L277.4 351.4L281.3 353.6L285.1 355.5L288.5 357L291.6 358.1L294.1 358.7L295.6 358.9L297.1 358.7L299.6 358.1L302.7 357L306.1 355.5L309.9 353.6L313.8 351.4L317.8 348.8L321.8 345.9L325.6 342.7L329.1 339.2L332.2 335.5L334.8 331.7L336.7 327.7L337.9 323.6L338.3 319.5L338.3 283M244.9 283L244.9 319.5L245.3 324.1L246.8 328.7L249 333.2L252.1 337.5L255.8 341.6L260 345.5L264.5 349.1L269.2 352.3L274 355.2L278.6 357.8L283.1 359.9L287.2 361.5L290.8 362.7L293.8 363.4L295.6 363.7L297.4 363.4L300.4 362.7L304 361.5L308.1 359.9L312.6 357.8L317.2 355.2L322 352.3L326.7 349.1L331.2 345.5L335.4 341.6L339.1 337.5L342.2 333.2L344.4 328.7L345.9 324.1L346.3 319.5L346.3 283M286.7 285L287 339.7M291.2 285L291.6 340.8M295.6 285L295 340.8M300.1 285L300.6 340.8M304.5 285L304.9 339.7M282.2 285.3L286.7 285.7M282.2 294.6L286.7 294.2M282.2 304.4L286.7 304.3M282.2 312.2L286.7 312.4M282.2 321L286.7 321.3M282.2 328.1L286.7 328.1M282.2 334.7L286.7 334.4M286.7 285.4L291.2 285.3M286.7 294.7L291.2 294.3M286.7 302.4L291.2 301.9M286.7 311.4L291.2 310.9M286.7 318.1L291.2 318.4M286.7 325.9L291.2 326M286.7 334.3L291.2 334.3M291.2 285.9L295.6 285.5M291.2 292.7L295.6 292.4M291.2 300L295.6 300.5M291.2 306.9L295.6 306.4M291.2 314L295.6 313.5M291.2 323.3L295.6 323.8M291.2 332.3L295.6 332.9M295.6 287.7L300.1 287.6M295.6 296.3L300.1 296M295.6 304.4L300.1 304.3M295.6 313.1L300.1 313.5M295.6 321.7L300.1 321.3M295.6 330.1L300.1 330.4M300.1 285.4L304.5 284.9M300.1 293.6L304.5 293.8M300.1 301.5L304.5 301.8M300.1 309.7L304.5 310.1M300.1 316.6L304.5 317M300.1 325.6L304.5 325.1M300.1 332.5L304.5 332.2M304.5 288.8L309 288.3M304.5 297.8L309 297.5M304.5 307.2L309 307M304.5 313.6L309 313.4M304.5 321.5L309 321.4M304.5 329.6L309 329.2M282.2 285.2L276.9 285.9M309 285.2L314.3 285.2M282.2 292.1L276.9 291.6M309 292.1L314.3 292.2M282.2 298.1L276.9 297.6M309 298.1L314.3 298.3M282.2 305.7L276.9 306M309 305.7L314.3 306.2M282.2 312.6L276.9 313M309 312.6L314.3 313.1M282.7 332.4L278.7 334.3M286.9 340.4L285.6 343.4M304.3 340.4L305.6 343.4M308.5 332.4L312.5 334.3M276.9 287.7L271.6 288M314.3 287.7L319.6 287M276.9 294.3L271.6 294.4M314.3 294.3L319.6 294.3M276.9 302.1L271.6 302M314.3 302.1L319.6 301.5M276.9 309L271.6 308.6M314.3 309L319.6 309.3M276.9 315.8L271.6 316.1M314.3 315.8L319.6 315.8M277.8 330.4L273.6 331.8M280.9 339.2L279.1 341.7M287.2 344L287.4 347.1M304 344L303.8 347.1M310.3 339.2L312.1 341.7M313.4 330.4L317.6 331.8M271.6 288.1L266.2 288.6M319.6 288.1L325 287.8M271.6 294.2L266.2 294.7M319.6 294.2L325 293.9M271.6 302.9L266.2 302.9M319.6 302.9L325 302.8M271.6 311.4L266.2 310.9M319.6 311.4L325 312M271.6 318.3L266.2 318.7M319.6 318.3L325 318.9M272.8 329.2L268.4 330.3M276.3 337.7L274.2 339.8M281.6 344L281.8 346.8M288.6 347.4L290 350.5M302.6 347.4L301.2 350.5M309.6 344L309.4 346.8M314.9 337.7L317 339.8M318.4 329.2L322.8 330.3M266.2 286.7L260 287.3M325 286.7L331.2 286.7M266.2 293.6L260 293.4M325 293.6L331.2 293M266.2 301.5L260 301.4M325 301.5L331.2 301.6M266.2 310.1L260 310.1M325 310.1L331.2 309.5M266.2 317.9L260 317.3M325 317.9L331.2 318.1M267.5 327.7L262.1 328.6M270.9 335.3L267.7 337.1M276 341.8L275.4 344.4M281.8 346.8L283.7 350M287.9 349.9L291 353.5M295.6 351L295.6 354.7M303.3 349.9L300.2 353.5M309.4 346.8L307.5 350M315.2 341.8L315.8 344.4M320.3 335.3L323.5 337.1M323.7 327.7L329.1 328.6M260 287.2L252.9 287.5M331.2 287.2L338.3 286.7M260 294.3L252.9 293.9M331.2 294.3L338.3 293.9M260 300.7L252.9 300.3M331.2 300.7L338.3 301.2M260 309.6L252.9 309.8M331.2 309.6L338.3 310M260 315.7L252.9 315.4M331.2 315.7L338.3 316M261.5 327.3L254.7 328.3M265.8 334.8L259.8 336.6M271.9 341.4L267.2 344.1M279 347L275.7 350.3M285.9 351.2L284 355M291.9 353.8L291.2 357.9M295.6 354.7L295.6 358.9M299.3 353.8L300 357.9M305.3 351.2L307.2 355M312.2 347L315.5 350.3M319.3 341.4L324 344.1M325.4 334.8L331.4 336.6M329.7 327.3L336.5 328.3M252.9 285.3L244.9 286M338.3 285.3L346.3 285.9M252.9 291.5L244.9 291.4M338.3 291.5L346.3 292.1M252.9 298.6L244.9 298.1M338.3 298.6L346.3 298.7M252.9 306.4L244.9 306.8M338.3 306.4L346.3 306.1M252.9 314L244.9 313.5M338.3 314L346.3 314.6M254.1 326.7L246.3 327.6M257.7 333.7L250.6 335.5M263.1 340.3L257 342.8M269.7 346.1L264.8 349.3M276.7 351L273.2 354.8M283.6 354.8L281.3 359M289.6 357.4L288.5 362M294.3 358.8L294.1 363.5M296.9 358.8L297.1 363.5M301.6 357.4L302.7 362M307.6 354.8L309.9 359M314.5 351L318 354.8M321.5 346.1L326.4 349.3M328.1 340.3L334.2 342.8M333.5 333.7L340.6 335.5M337.1 326.7L344.9 327.6" fill="none" stroke="#3f3f3f" stroke-width="1.0"/>
<path d="M312.3 317.2L318.7 318.4L317.4 333.9L311.1 332.4Z" fill="#2eaa3c" stroke="#1c7a2a" stroke-width="0.6" clip-path="url(#c106)"/>
<path d="M311.7 325.2l6.3 1.2" stroke="#1c7a2a" stroke-width="0.6"/>
<circle cx="295.6" cy="321.5" r="36.5" fill="none" stroke="#3f3f3f" stroke-width="1.15"/>
<path d="M152.6 90.9L118.3 116.3" stroke="#3a3a3a" stroke-width="1.8"/>
<circle cx="152.6" cy="90.9" r="4.1" fill="#3a3a3a"/>
<path d="M152.6 207L131.3 226.5" stroke="#3a3a3a" stroke-width="1.8"/>
<circle cx="152.6" cy="207" r="4.1" fill="#3a3a3a"/>
<path d="M152 323.1L124.8 352.4" stroke="#3a3a3a" stroke-width="1.8"/>
<circle cx="152" cy="323.1" r="4.1" fill="#3a3a3a"/>
<path d="M337.8 88L375.2 83" stroke="#3a3a3a" stroke-width="1.8"/>
<circle cx="337.8" cy="88" r="4.1" fill="#3a3a3a"/>
<path d="M341.9 213L390.9 213" stroke="#3a3a3a" stroke-width="1.8"/>
<circle cx="341.9" cy="213" r="4.1" fill="#3a3a3a"/>
<path d="M340 322.2L388.1 352.4" stroke="#3a3a3a" stroke-width="1.8"/>
<circle cx="340" cy="322.2" r="4.1" fill="#3a3a3a"/>
<path d="M200.9 405.8H280" stroke="#3c3c3c" stroke-width="2.4" stroke-linecap="round"/>
<path d="M297.2 405.8L275 396.4L278.9 405.8L275 415Z" fill="#3c3c3c"/>
<defs><filter id="rg" x="-5%" y="-5%" width="110%" height="110%"><feTurbulence type="fractalNoise" baseFrequency="0.75" numOctaves="1" seed="4" result="n"/><feDisplacementMap in="SourceGraphic" in2="n" scale="2.2" xChannelSelector="R" yChannelSelector="G"/></filter></defs>
<g filter="url(#rg)">
<path d="M571.1 52.7C568.6 53.4 566.6 54.9 564.7 57.3C562.9 59.6 560.8 63 560 67C559.2 70.9 559.4 76.4 560 80.9C560.6 85.4 562 89.8 563.7 93.9C565.4 98 567.9 102.7 570 105.7C572.2 108.8 572.3 113.8 576.4 112.2C580.5 110.6 587.6 103 594.8 96C602 89 615 75.9 619.5 70.2C624.1 64.4 622.9 63.9 622.2 61.5C621.5 59.2 618.3 57 615.4 56C612.5 55 607.7 55.2 604.8 55.6C602 56 601.3 58.3 598.5 58.3C595.7 58.3 591.1 56.5 588 55.6C584.8 54.7 582.3 53.5 579.5 53C576.7 52.5 573.6 52 571.1 52.7Z" fill="#d3d3d3"/>
<path d="M598.5 68C602.5 66.8 607.6 68.7 611.1 69.1C614.6 69.4 618.3 68.2 619.5 70.2C620.8 72.1 619.4 77.3 618.5 80.9C617.6 84.5 615.9 88.5 614.3 91.8C612.7 95 611.1 97.4 609 100.3C606.9 103.1 603.7 105.5 601.6 108.9C599.5 112.3 596.4 117.6 596.4 120.8C596.4 124.1 599.7 125.8 601.6 128.3C603.5 130.8 606.2 133.7 608 135.8C609.7 138 611.3 139.3 612.1 141.3C613 143.2 613.7 145.9 613.2 147.7C612.7 149.5 610.4 151.1 609 152C607.6 152.9 606.6 154.2 604.8 153.1C603.1 152 601.1 147.2 598.5 145.5C595.9 143.9 592.2 144.7 589 143.4C585.8 142.1 581.9 140.7 579.5 138C577.2 135.3 575.7 131 574.8 127.2C573.9 123.5 574 118.3 574.2 115.4C574.5 112.5 576.4 111.8 576.4 110C576.4 108.2 574.6 107.3 574.2 104.6C573.9 102 573.5 97.1 574.2 93.9C574.9 90.7 576.4 88.1 578.5 85.3C580.6 82.4 583.6 79.5 586.9 76.6C590.3 73.8 594.5 69.3 598.5 68Z" fill="#d3d3d3"/>
<path d="M601.6 44.4C602.6 45.1 603.7 47.9 603.2 49.7C602.8 51.5 600.1 53.2 599.1 55.1C598 57.1 597.3 59.5 597.2 61.5C597.1 63.6 599.7 64.8 598.4 67.4C597.1 70 592 74.1 589.1 77.1C586.2 80.2 583.2 82.9 581 85.8C578.9 88.8 577.3 91.4 576.3 94.6C575.4 97.7 575.3 102.1 575.4 104.6C575.5 107.2 577.2 109.4 576.9 110C576.5 110.5 574.2 109.6 573.2 107.8C572.1 106.1 571 102.5 570.5 99.2C570 96 569.8 91.9 570 88.5C570.3 85.1 570.6 81.5 572.1 78.8C573.7 76.1 577.1 74.9 579.5 72.4C582 69.9 585.5 66.6 586.9 63.8C588.3 60.9 587.3 57.5 588 55.1C588.7 52.8 589.5 51.3 591.1 49.7C592.7 48.1 595.7 46.3 597.4 45.4C599.2 44.6 600.7 43.7 601.6 44.4Z" fill="#d3d3d3"/>
<path d="M619.5 92.6C621.3 92.6 623.9 93.6 625.1 94.9C626.4 96.1 627.7 97.4 627 100.3C626.4 103.1 624 108.5 621.3 112C618.6 115.5 613.4 118.7 610.9 121.2C608.4 123.7 606.7 124.7 606.2 127C605.6 129.4 608.2 134.5 607.6 135.3C607 136 604.1 133.2 602.4 131.4C600.7 129.6 598.6 126.4 597.3 124.6C595.9 122.8 594.2 123.1 594.3 120.8C594.5 118.6 595.9 114.3 598.1 111C600.3 107.8 604.9 104 607.6 101.4C610.3 98.7 612.4 96.5 614.4 95.1C616.4 93.6 617.7 92.7 619.5 92.6Z" fill="#d3d3d3"/>
<path d="M625.9 99.2C627.1 98.9 629.7 98.9 631.1 100.3C632.5 101.7 633.8 105.3 634.3 107.8C634.9 110.4 634.9 112.9 634.3 115.4C633.8 117.9 632.5 121.3 631.1 123C629.7 124.6 627.4 125.3 625.9 125.1C624.4 124.9 622.5 123.5 622.2 121.9C621.8 120.3 622.8 117 623.8 115.4C624.8 113.8 627.6 113.8 628 112.2C628.3 110.6 626.6 107.3 625.9 105.7C625.2 104.1 623.8 103.6 623.8 102.5C623.8 101.4 624.7 99.6 625.9 99.2Z" fill="#d3d3d3"/>
<path d="M675.9 36.2C677.8 36.2 680.4 36.5 682.2 37.5C684 38.5 685.8 40.3 686.7 42.2C687.7 44.2 687.1 46.7 688.1 49C689.1 51.4 692.9 55.5 692.7 56.2C692.5 56.9 688.5 53.1 686.7 53.4C685 53.6 683.3 55.5 682.3 57.7C681.3 60 681.5 63.4 680.7 67C679.9 70.5 679 74.9 677.6 79.1C676.3 83.3 674.5 87.9 672.3 92.1C670.2 96.3 667.3 100.6 664.8 104.3C662.2 107.9 659.6 111 657 114C654.4 117.1 651.7 120.5 649.2 122.4C646.7 124.3 644 124.2 642.2 125.6C640.4 127 639.4 130.3 638.4 130.9C637.4 131.5 635.7 131.1 636.1 129C636.6 126.9 639.2 121.4 641.1 118.3C642.9 115.2 645.3 113.8 647.1 110.6C649 107.3 650.7 102.6 652.2 98.9C653.8 95.2 655.3 92 656.4 88.3C657.5 84.6 658.3 80.7 659.1 76.6C659.8 72.6 660.3 67.9 660.8 63.8C661.3 59.6 661.3 55.5 662.1 51.8C662.9 48.2 664 44.1 665.5 41.8C667 39.4 669.5 38.4 671.2 37.5C672.9 36.6 674.1 36.2 675.9 36.2Z" fill="#d3d3d3"/>
<path d="M714.9 112.2C717.3 112.6 719.3 114.9 721.2 117.1C723 119.2 725.4 121.1 725.9 125.1C726.4 129.1 725.7 135.6 724.4 141.3C723.1 146.9 721.2 153.9 718 159C714.9 164.1 710.2 168.4 705.4 171.9C700.7 175.4 694.3 177.1 689.6 180C684.9 183 681.2 186.2 677 189.7C672.8 193.2 669 198 664.3 201C659.5 203.9 653.8 206.7 648.5 207.5C643.3 208.3 637.2 207.2 632.7 205.8C628.2 204.5 624.3 202.6 621.6 199.4C619 196.2 617.9 189.4 616.9 186.4C615.8 183.5 613.8 182.4 615.4 181.6C616.9 180.8 622.4 181.8 626.4 181.6C630.3 181.3 634.3 181.7 639.1 180C643.8 178.4 649.5 174.9 654.8 171.9C660.1 168.9 665.9 164.4 670.6 162.2C675.4 160.1 680.1 160.3 683.2 159C686.4 157.7 688.9 157.1 689.6 154.2C690.3 151.2 687 145.3 687.2 141.3C687.5 137.2 689.2 133.2 691.2 129.9C693.2 126.7 696.5 124.5 699.1 121.9C701.6 119.3 704 116 706.7 114.4C709.3 112.8 712.5 111.8 714.9 112.2Z" fill="#d3d3d3"/>
<path d="M718 58.3C719.1 58.7 724.2 61.1 726.5 63.8C728.7 66.5 730.3 70.9 731.7 74.5C733.1 78.1 733.9 82 734.9 85.3C735.9 88.5 737.6 91.4 737.6 93.9C737.6 96.4 736.4 98.7 734.9 100.3C733.4 101.9 731 103.2 728.6 103.6C726.1 104 722.9 102.5 720.1 102.5C717.3 102.5 714.5 102.9 711.7 103.6C708.9 104.3 706 105.5 703.2 106.8C700.4 108 697.7 109.7 694.9 111.1C692.1 112.6 689.3 114.2 686.5 115.4C683.7 116.6 679.7 118.3 678 118.6C676.3 118.9 676.3 117.9 676.3 117.3C676.3 116.8 677.2 116.6 678 115.4C678.8 114.2 679.7 112.1 681.2 110C682.6 107.8 684.7 105 686.5 102.5C688.2 100 689.6 97.5 691.7 95C693.8 92.4 696.6 89.7 699.1 87.4C701.5 85.1 703.8 83.1 706.5 80.9C709.1 78.8 712.8 76.5 714.9 74.5C717 72.5 718.2 71.2 719.1 69.1C719.9 66.9 720.3 63.3 720.1 61.5C719.9 59.7 717 58 718 58.3Z" fill="#d3d3d3"/>
<path d="M702.2 35.8C704.7 35.3 708.3 36.2 710.6 37.3C712.9 38.4 714.7 40.1 715.9 42.1C717.2 44.2 717.7 47.2 718 49.7C718.3 52.2 718 54.7 717.7 57.3C717.3 59.8 716.8 62.6 715.8 65.2C714.7 67.8 713.3 70.4 711.4 72.8C709.5 75.2 706.7 77.3 704.3 79.6C701.8 81.8 699.1 83.8 696.7 86.3C694.3 88.8 692 91.8 690.1 94.6C688.2 97.3 687.1 100 685.3 102.8C683.6 105.6 680.9 109.1 679.5 111.5C678.2 114 677.6 116.9 677 117.5C676.4 118.2 675.8 116.7 675.8 115.4C675.7 114.1 676.2 112.5 676.7 110C677.2 107.5 677.7 104.1 678.8 100.3C679.8 96.5 681.6 91.7 683 87.4C684.3 83.1 685.8 78.8 687.1 74.5C688.5 70.2 690.1 65.5 691.1 61.5C692.2 57.6 692.6 54.4 693.4 50.8C694.2 47.2 694.3 42.5 695.8 40C697.2 37.5 699.7 36.2 702.2 35.8Z" fill="#d3d3d3"/>
<path d="M676.3 116.4C674.9 116.8 671.6 118.8 668.5 120.8C665.5 122.8 661.5 126 658 128.3C654.5 130.6 650.9 132.4 647.5 134.8C644.1 137.2 640.4 140.4 637.5 142.5C634.5 144.7 633 145.5 629.6 147.7C626.2 149.9 620.6 153.4 616.9 155.8C613.2 158.2 609.5 160.1 607.4 162.2C605.3 164.4 604.6 166.6 604.3 168.7C603.9 170.7 604.4 173 605.2 174.5C606 176 607.1 177 609 177.9C611 178.8 613.5 180.8 616.9 180C620.3 179.3 624.8 176.5 629.6 173.5C634.3 170.6 640.1 166.5 645.3 162.2C650.6 157.9 657.3 151.3 661.2 147.7C665 144 666.4 142.6 668.5 140.2C670.6 137.8 672.2 135.8 673.8 133.1C675.3 130.4 677.4 126.5 678 124C678.6 121.6 677.6 119.6 677.3 118.3C677 117 677.8 116 676.3 116.4Z" fill="#d3d3d3"/>
<path d="M602.4 157.1C603.8 154.5 607.4 153.7 610 154.2C612.5 154.6 616 157.1 617.5 160C619.1 162.9 619.8 168.1 619.4 171.6C619.1 175.2 617.7 180.2 615.6 181.3C613.6 182.4 609.5 180.3 607.1 178.4C604.7 176.5 602.2 173.2 601.4 169.7C600.6 166.1 601 159.7 602.4 157.1Z" fill="#d3d3d3"/>
<path d="M705.4 47.6C707.1 46.8 710.2 47.8 711.7 48.6C713.2 49.4 714.8 51.4 714.4 52.4C714.1 53.5 711.1 53.3 709.6 54.8C708.1 56.4 706.8 59.5 705.4 61.5C704 63.5 702.6 65.7 701.2 67C699.7 68.2 697 70 696.7 69.1C696.4 68.2 698.3 64.2 699.1 61.5C699.9 58.8 700.5 55.3 701.5 53C702.6 50.7 703.7 48.3 705.4 47.6Z" fill="#fff"/>
<path transform="scale(.1)" d="M7023 525h0m19-27h0m4-9h0m1 46h0m1 1h0m3-22h0m1 11h0m9-36h0m7 15h0m5 35h0m3-3h0m6-16h0m6-1h0m2-34h0m4 29h0m11 20h0m3-20h0m6 13h0m16-7h0m-51 52h0m-1-14h0m-8-14h0m-4 28h0m-19 24h0m-13 2h0m-1-25h0m-18-23h0m-15 36h0m-17 64h0m15-19h0m3 2h0m8-6h0m1-22h0m3 48h0m7-31h0m2 24h0m3-27h0m4 4h0m28-21h0m-83 81h0" stroke="#d3d3d3" stroke-width="12" stroke-linecap="round" fill="none"/>
<path transform="scale(.1)" d="M6208 954h0m-10-18h0m-29 18h0m-53 40h0m15 18h0m71-32h0m3 20h0m28-17h0m13-1h0m8-19h0m6 13h0m-22 85h0m-15 14h0m0-49h0m-55 38h0m-69-2h0m-114 49h0m46 17h0m14-39h0m21 14h0m51 10h0m2-10h0m8 33h0m88-30h0m-63 43h0m0 3h0m-34-11h0m-59 50h0m-43-40h0m-6 44h0m-4-5h0m-23-46h0m-6 94h0m44-2h0m17 1h0m37-19h0m-22 44h0m-5 52h0m-37-25h0m35 31h0" stroke="#fff" stroke-width="11" stroke-linecap="round" fill="none"/>
<path transform="scale(.1)" d="M7132 763h0m4-8h0m9 11h0m-14 17h0m-25 6h0m-8 0h0m-6 5h0m0-2h0m-1 5h0m-13 16h0m-3-17h0m-7 5h0m-9 31h0m-16 0h0m-67 50h0m22-4h0m1-28h0m10 34h0m4-20h0m4 29h0m1-18h0m2-22h0m4 1h0m4 9h0m1-6h0m16-6h0m1-8h0m3 13h0m-41 48h0m-25 2h0m-6 7h0m-11-7h0m-3 0h0m-3 15h0m0 10h0m-1-28h0m-4 5h0m0 8h0m-1 17h0m-3 15h0m-9-14h0m-1-3h0m-25 12h0m-1 11h0m-29 11h0m5 1h0m11 20h0m3 1h0m1-20h0m5-7h0" stroke="#fff" stroke-width="11" stroke-linecap="round" fill="none"/>
<path transform="scale(.1)" d="M6586 1375h0m14 1h0m-24 14h0m-2 17h0m-4-6h0m-20 0h0m-1 31h0m-9 2h0m-12-10h0m-93 54h0m10 9h0m9 9h0m12-22h0m12 14h0m2-15h0m5-16h0m5 19h0m4-26h0m5 18h0m-31 38h0m-24 9h0m-5 32h0m-15-23h0m-30-23h0m-3 36h0m-37 19h0m-1 18h0m1-14h0m13 8h0m13 0h0" stroke="#fff" stroke-width="12" stroke-linecap="round" fill="none"/>
<path transform="scale(.1)" d="M6429 1240h0m9-9h0m7 16h0m3-12h0m7 14h0m0 2h0m2 3h0m1-2h0m1-27h0m-15 36h0m-11 37h0m-2-6h0m-8 6h0m-15 0h0m-26 10h0m0-10h0m-5-29h0m-28 45h0m-7-7h0m-63 58h0m3 7h0m27-4h0m0 3h0m5 8h0m19-48h0m3 7h0m2 3h0m4-13h0m1 18h0m3 13h0m0-34h0m9 2h0m6 39h0m4-37h0m0 7h0m1 3h0m1-6h0m1-12h0m0 16h0m1 31h0m11-35h0m-52 77h0m-12-20h0m-4 14h0m-1-17h0m-10-6h0m-2 26h0m-11 9h0m0 12h0m-2-10h0m-6 5h0m-13-15h0m-2-20h0m-5 20h0m-4-10h0m-4 39h0m-16-35h0m-1 32h0m0-13h0m-9 4h0m-4 8h0m-2 5h0m-16 1h0m-18-2h0m-49 53h0m6 1h0m13-31h0m14 25h0m8-14h0m17 7h0m3 2h0m17-8h0m3-29h0m4 15h0m2 16h0m8-2h0m4-28h0m3 34h0m3-35h0m-69 68h0" stroke="#d3d3d3" stroke-width="13" stroke-linecap="round" fill="none"/>
<path d="M716.9 69.9C716.1 71.4 713.3 74.3 710.9 76.6C708.5 79 705.1 81.5 702.4 83.9C699.7 86.3 696.9 88.8 694.8 91.2C692.8 93.5 690.5 98.1 690.1 98C689.6 97.8 690.4 93 692 90.2C693.5 87.4 696.8 83.8 699.5 81C702.3 78.2 705.9 75.5 708.6 73.3C711.2 71 714.3 68 715.7 67.4C717.1 66.9 717.7 68.3 716.9 69.9Z" fill="#fff"/>
<path d="M632.1 29.3C629.9 30.6 628.9 33.1 628 35.8C627 38.4 626.4 42 626.4 45.4C626.4 48.8 627.2 52.6 628 56.2C628.8 59.8 630 63.4 631.1 67C632.2 70.5 633.3 74.1 634.3 77.7C635.4 81.3 636.6 84.9 637.5 88.5C638.3 92.1 639.2 95.6 639.5 99.2C639.9 102.8 640.1 106.7 639.5 110C639 113.2 637.5 115.9 636.4 118.6C635.4 121.3 633.3 124.9 633.3 126.2C633.3 127.4 635 128 636.4 126.2C637.8 124.4 640.5 119 641.6 115.4C642.8 111.8 643 109.1 643.2 104.6C643.4 100.2 643.2 93.5 642.8 88.5C642.3 83.4 641.5 79 640.6 74.5C639.7 70 638.1 65.3 637.5 61.5C636.8 57.7 635.7 52.9 636.4 51.8C637.1 50.8 640.2 53.1 641.6 55.1C643 57.1 643.4 61.1 644.8 63.8C646.3 66.4 648.5 69.5 650.1 71.2C651.6 72.9 652.9 74.6 654.3 73.9C655.7 73.2 657.3 70.1 658.5 67C659.7 63.8 661.4 58.7 661.7 55.1C662.1 51.5 661.8 48.1 660.6 45.4C659.4 42.7 656.4 40.5 654.3 38.9C652.2 37.4 649.4 37.5 648 36.2C646.6 35 646.9 32.8 645.9 31.4C644.8 30 643.9 28.4 641.6 28C639.3 27.6 634.4 28 632.1 29.3Z" fill="#3a52a6"/>
<path d="M634.6 126.1C633 128 628.3 134.3 624.8 138C621.4 141.7 615.6 146.6 613.8 148.3" fill="none" stroke="#3a52a6" stroke-width="1.5" stroke-linecap="round"/>
<path transform="scale(.1)" d="M6326 1252h0m12 3h0m13 10h0m-2 11h0m0 1h0m-1 4h0m-3-2h0m-2-6h0m-9 26h0m0-34h0m-3 18h0m-1 7h0m0-2h0m0 7h0m0-17h0m-2-4h0m-3 1h0m0 17h0m-1-19h0m0-6h0m-1-1h0m-2 3h0m-1 31h0m-2-37h0m0 4h0m-1 33h0m0 4h0m-1-15h0m0-15h0m-1 9h0m-1 34h0m0 0h0m-2-47h0m0 19h0m-2 10h0m0-12h0m-2-4h0m0 5h0m0 6h0m-1 8h0m-1-15h0m-7 4h0m-5 2h0m-5 26h0m-4-4h0m-13-6h0m-40 54h0m4 8h0m0-11h0m5 13h0m0-12h0m3 14h0m1-16h0m2-6h0m0 12h0m1 11h0m1-6h0m3-2h0m2-6h0m3-14h0m0 28h0m0-37h0m2 17h0m0 11h0m1-9h0m0 14h0m1 3h0m2-8h0m1 9h0m2-11h0m1 4h0m0 4h0m1-10h0m1-6h0m1 8h0m4-7h0m1 18h0m1-18h0m0-15h0m1 4h0m1-2h0m1-18h0m0-3h0m3 5h0m0 6h0m1 13h0m0-4h0m3-10h0m2-7h0m4 28h0m0-26h0m0 11h0m1-5h0m6-3h0m3 10h0m1-11h0m3 2h0m4-6h0m2-5h0m10 16h0m-54 43h0m-13 2h0m0 50h0m-5-44h0m0-4h0m-1 40h0m-4-30h0m0-14h0m-2 9h0m-1 31h0m-5-23h0m-1 4h0m0 12h0m-3-8h0m-3-16h0m-1-4h0m-2 15h0m0 2h0m-1 27h0m0-13h0m-1 2h0m-1-24h0m-2 22h0m-1-17h0m-3 16h0m-3 14h0m0-39h0m-5 48h0m-2-12h0m-4-5h0m-2-30h0m-1 29h0m-2 17h0m-1-8h0m-4-9h0m-1 17h0m-1-8h0m0-2h0m-1 3h0m-2-32h0m-1 35h0m-4-2h0m0-3h0m-2-10h0m-11 12h0m-9-6h0m-66 66h0m9 7h0m6-10h0m5-1h0m1 9h0m6-19h0m3 21h0m3-36h0m13 37h0m0-3h0m1-22h0m2-18h0m1 26h0m2-36h0m2 11h0m1-5h0m2 13h0m0-1h0m5 13h0m2-10h0m2 5h0m3-30h0m1 9h0m2 3h0m1 26h0m2-4h0m1-35h0m3 3h0m2 8h0m3 9h0m2 7h0m5-27h0m2 9h0m3-4h0m0-1h0m8 12h0m10-10h0m-32 53h0m-5 14h0m-33 14h0m-3-18h0m-3-6h0m-1 35h0m0-28h0m-3 3h0m-1-4h0m-2 7h0m-3 27h0m-1-36h0m0 20h0m-1 16h0m-1-27h0m-1 17h0m-2-17h0m0-1h0m-1 34h0m-4-45h0m0 10h0m-1 6h0m-2-16h0m0 2h0m-1 36h0m-1-27h0m0 11h0m-4-14h0m-1 22h0m-9 1h0m-2 23h0m-4-37h0m-3 30h0m-3-10h0m-1 13h0m-2-51h0m-2 36h0m-1-1h0m-4-3h0m-2 11h0m-7 12h0m0-8h0m-3-12h0m-2 2h0m-1 18h0m-6-26h0m-28 78h0m12 4h0m3-32h0m1 28h0m3-34h0m1-1h0m2 15h0m1 9h0m1 6h0m3-2h0m4-5h0m0-25h0m0-8h0m1 47h0m1-8h0m5 7h0m0-33h0m1 0h0m1 13h0m0 24h0m2-11h0m1-27h0m1-12h0m1 16h0m1-10h0m1 32h0m0-27h0m7-14h0m3 1h0m0 10h0m7 3h0m8-16h0m15 31h0m-30 42h0m-2 3h0m-6 17h0m-1-26h0m-3 32h0m-1 9h0m-2-45h0m-3 40h0m-1-24h0m-6 12h0m-2-26h0m-4 15h0m-1 4h0m-2-1h0m-1 14h0m-1-7h0m0 21h0m-3-27h0m-1 1h0m0 18h0m-2-10h0m-5-30h0m-1 15h0m0 2h0m-1 26h0m-1-26h0m-2 23h0m-2-20h0m-6 35h0m-35 36h0m21-16h0m2-4h0m1 5h0m6-12h0m3 42h0m0-28h0m1-11h0m3 10h0m1-16h0m4 42h0m1-44h0m0 55h0m2-46h0m3 40h0m1 3h0m1-51h0m0 27h0m4 19h0m1-47h0m1 49h0m3 7h0m0-50h0m2 44h0m2 1h0m2-5h0m0-4h0m1-14h0m3-26h0m1 16h0m4-6h0m1 10h0m6 34h0m2-24h0m1-6h0m-24 32h0m-26-1h0m-14 7h0m-8-1h0" stroke="#3a52a6" stroke-width="13" stroke-linecap="round" fill="none"/>
<path transform="scale(.1)" d="M6057 1609h0m16-19h0m8 29h0m26-43h0m28 28h0m8 6h0m15 38h0m-5 24h0m-10-42h0m-5 25h0m-10-6h0m-12 7h0m-4 17h0m-17 0h0m-13-47h0m-19 35h0m-3 18h0m-6-25h0m-5 15h0m-10 9h0m-1-29h0m-1-5h0m0 21h0m-2-1h0m-1-21h0m0 32h0m-5-2h0m-8-7h0m-5-14h0m27 58h0m3-2h0m1-10h0m8 5h0m1 8h0m3 22h0m5-52h0m3 3h0m3 47h0m1 5h0m17-23h0m15-18h0m37 33h0m2-17h0m7-24h0m17 79h0m-2-7h0m-44 38h0m-46-49h0m-8-8h0m-10 18h0" stroke="#3a52a6" stroke-width="13" stroke-linecap="round" fill="none"/>
<path transform="scale(.1)" d="M6649 456h0m29 39h0m152 29h0m56 39h0m-388 203h0m-484 39h0m408 252h0m588 126h0m38 58h0m-910 126h0m-38 39h0m711 194h0" stroke="#3a52a6" stroke-width="18" stroke-linecap="round" fill="none"/>
<path transform="scale(.1)" d="M6510 787h0m-1 20h0m-9 16h0m-22 12h0m-10-4h0m0-29h0m-8-14h0m-19 51h0m0-59h0m4 117h0m20-50h0m1 26h0m0 18h0m4-51h0m4 28h0m2-4h0m20-20h0m-5 104h0m-69 52h0m7 11h0m26 49h0m-5-34h0m-11 41h0m-3-34h0m-2 40h0m-11-30h0m-53 63h0m66-17h0m3 11h0m6 11h0" stroke="#d3d3d3" stroke-width="12" stroke-linecap="round" fill="none"/>
</g>
<g filter="url(#rg)">
<path d="M987.4 107.6C989.8 108 991.8 110.3 993.6 112.4C995.4 114.6 997.8 116.4 998.3 120.4C998.9 124.5 998.1 130.9 996.8 136.6C995.5 142.2 993.7 149.1 990.5 154.2C987.3 159.3 982.6 163.6 977.9 167.1C973.2 170.5 966.8 172.2 962.1 175.2C957.4 178.1 953.7 181.3 949.5 184.8C945.3 188.3 941.6 193.1 936.9 196C932.1 198.9 926.4 201.7 921.2 202.5C915.9 203.3 909.8 202.2 905.4 200.8C900.9 199.5 896.9 197.7 894.3 194.5C891.7 191.2 890.6 184.5 889.6 181.5C888.5 178.6 886.5 177.5 888 176.7C889.6 175.9 895.1 177 899 176.7C903 176.4 907 176.8 911.7 175.2C916.4 173.6 922.1 170 927.4 167.1C932.7 164.1 938.5 159.5 943.2 157.4C947.9 155.3 952.6 155.6 955.8 154.2C958.9 152.9 961.5 152.3 962.1 149.4C962.8 146.4 959.5 140.6 959.8 136.6C960 132.5 961.8 128.5 963.7 125.3C965.7 122.1 969 119.8 971.6 117.3C974.1 114.7 976.5 111.4 979.1 109.8C981.8 108.2 985 107.2 987.4 107.6Z" fill="#06040f"/>
<path d="M990.5 54C991.6 54.3 996.6 56.7 998.9 59.4C1001.2 62 1002.7 66.5 1004.1 70.1C1005.5 73.6 1006.4 77.6 1007.3 80.8C1008.3 84 1010 86.9 1010 89.4C1010 91.9 1008.8 94.1 1007.3 95.7C1005.8 97.3 1003.5 98.7 1001 99C998.5 99.4 995.4 98 992.6 98C989.8 98 987 98.3 984.2 99C981.4 99.7 978.5 101 975.7 102.2C972.9 103.5 970.2 105.1 967.4 106.5C964.6 108 961.8 109.6 959 110.8C956.2 112 952.3 113.7 950.6 114C948.9 114.3 948.9 113.3 948.9 112.7C948.9 112.2 949.8 112 950.6 110.8C951.4 109.6 952.3 107.5 953.7 105.4C955.1 103.2 957.2 100.5 959 98C960.7 95.5 962.1 92.9 964.2 90.4C966.3 87.9 969.1 85.2 971.6 82.9C974 80.6 976.3 78.6 979 76.4C981.6 74.3 985.3 72 987.4 70.1C989.5 68.1 990.7 66.8 991.5 64.7C992.4 62.5 992.8 58.9 992.6 57.1C992.4 55.4 989.4 53.6 990.5 54Z" fill="#06040f"/>
<path d="M974.7 31.5C977.2 31 980.8 32 983.1 33C985.4 34.1 987.2 35.8 988.4 37.8C989.6 39.9 990.2 42.9 990.5 45.4C990.8 47.9 990.5 50.3 990.1 52.9C989.7 55.5 989.3 58.2 988.2 60.8C987.2 63.4 985.8 66 983.9 68.3C982 70.7 979.2 72.8 976.8 75.1C974.3 77.3 971.6 79.4 969.2 81.8C966.8 84.3 964.5 87.3 962.6 90C960.7 92.8 959.6 95.4 957.9 98.2C956.1 101.1 953.5 104.5 952.1 106.9C950.7 109.4 950.2 112.3 949.5 112.9C948.9 113.6 948.4 112 948.3 110.8C948.3 109.5 948.7 107.9 949.3 105.4C949.8 102.9 950.3 99.5 951.3 95.7C952.4 92 954.1 87.2 955.5 82.9C956.9 78.6 958.3 74.4 959.7 70.1C961 65.8 962.6 61.1 963.6 57.1C964.7 53.2 965.1 50 965.9 46.4C966.7 42.9 966.8 38.2 968.3 35.7C969.7 33.2 972.2 31.9 974.7 31.5Z" fill="#06040f"/>
<path d="M948.9 111.8C947.4 112.2 944.2 114.2 941.1 116.2C938.1 118.2 934.1 121.3 930.6 123.6C927.1 125.9 923.5 127.7 920.1 130.1C916.7 132.5 913.1 135.7 910.1 137.8C907.1 140 905.7 140.7 902.2 142.9C898.8 145.1 893.2 148.6 889.6 151C885.9 153.4 882.2 155.3 880.1 157.4C878 159.5 877.3 161.8 877 163.9C876.6 165.9 877.1 168.1 877.9 169.7C878.7 171.2 879.8 172.1 881.7 173C883.6 174 886.1 175.9 889.6 175.2C893 174.4 897.5 171.7 902.2 168.7C907 165.7 912.7 161.7 917.9 157.4C923.2 153.1 929.9 146.6 933.7 142.9C937.6 139.3 939 137.9 941.1 135.5C943.2 133.1 944.7 131.1 946.3 128.5C947.9 125.8 950 121.8 950.6 119.4C951.2 116.9 950.1 115 949.8 113.7C949.5 112.4 950.3 111.3 948.9 111.8Z" fill="#06040f"/>
<path d="M898.5 94.7C899.8 94.3 902.3 94.3 903.8 95.7C905.2 97.2 906.4 100.8 907 103.3C907.5 105.8 907.5 108.3 907 110.8C906.4 113.3 905.2 116.7 903.8 118.3C902.3 119.9 900 120.6 898.5 120.4C897.1 120.3 895.2 118.9 894.9 117.3C894.5 115.7 895.5 112.4 896.5 110.8C897.4 109.2 900.3 109.2 900.6 107.6C901 106 899.2 102.8 898.5 101.1C897.9 99.5 896.5 99 896.5 98C896.5 96.9 897.3 95 898.5 94.7Z" fill="#06040f"/>
<path d="M843.9 48.4C841.4 49.1 839.4 50.5 837.5 52.9C835.7 55.3 833.6 58.6 832.8 62.5C832 66.5 832.2 72 832.8 76.4C833.4 80.9 834.8 85.3 836.5 89.4C838.2 93.5 840.7 98.1 842.8 101.1C844.9 104.2 845.1 109.2 849.2 107.6C853.3 106 860.3 98.5 867.5 91.5C874.7 84.5 887.7 71.5 892.2 65.7C896.8 60 895.6 59.5 894.9 57.1C894.2 54.8 890.9 52.6 888 51.6C885.2 50.7 880.4 50.9 877.5 51.3C874.7 51.6 874 54 871.2 54C868.4 54 863.9 52.1 860.7 51.3C857.6 50.4 855.1 49.1 852.3 48.6C849.5 48.2 846.3 47.6 843.9 48.4Z" fill="#140c34"/>
<path d="M871.2 63.6C875.2 62.4 880.3 64.3 883.8 64.7C887.3 65 891 63.8 892.2 65.7C893.4 67.7 892 72.9 891.2 76.4C890.3 80 888.6 84 887 87.2C885.4 90.5 883.8 92.9 881.7 95.7C879.6 98.6 876.4 100.9 874.3 104.3C872.2 107.7 869.1 113 869.1 116.2C869.1 119.4 872.4 121.1 874.3 123.6C876.3 126.1 878.9 129 880.7 131.2C882.4 133.3 884 134.6 884.8 136.6C885.7 138.5 886.4 141.1 885.9 142.9C885.4 144.7 883.1 146.4 881.7 147.3C880.3 148.2 879.3 149.4 877.5 148.3C875.8 147.3 873.8 142.4 871.2 140.8C868.6 139.2 864.9 139.9 861.7 138.7C858.6 137.4 854.7 136 852.3 133.3C849.9 130.6 848.4 126.3 847.6 122.6C846.7 118.8 846.7 113.7 847 110.8C847.3 107.9 849.2 107.2 849.2 105.4C849.2 103.6 847.4 102.8 847 100.1C846.6 97.4 846.3 92.6 847 89.4C847.7 86.2 849.1 83.6 851.2 80.8C853.4 77.9 856.3 75.1 859.7 72.2C863 69.3 867.2 64.9 871.2 63.6Z" fill="#140c34"/>
<path d="M874.3 40.1C875.3 40.8 876.4 43.6 875.9 45.4C875.5 47.2 872.8 48.8 871.8 50.8C870.8 52.7 870 55.1 869.9 57.1C869.8 59.2 872.5 60.4 871.1 63C869.8 65.6 864.7 69.6 861.8 72.7C859 75.7 855.9 78.5 853.8 81.4C851.7 84.3 850 86.9 849.1 90C848.1 93.2 848 97.5 848.1 100.1C848.2 102.6 850 104.9 849.6 105.4C849.3 105.9 847 105.1 845.9 103.3C844.9 101.5 843.8 97.9 843.3 94.7C842.8 91.5 842.6 87.4 842.8 84C843.1 80.6 843.3 77 844.9 74.3C846.5 71.6 849.8 70.4 852.3 67.9C854.7 65.5 858.3 62.2 859.7 59.4C861.1 56.5 860 53.1 860.7 50.8C861.4 48.4 862.3 47 863.8 45.4C865.4 43.8 868.4 42 870.2 41.1C871.9 40.2 873.4 39.4 874.3 40.1Z" fill="#140c34"/>
<path d="M948.5 32C950.3 32 952.9 32.2 954.7 33.2C956.5 34.2 958.3 36 959.3 37.9C960.3 39.8 959.6 42.4 960.6 44.7C961.6 47 965.5 51.1 965.2 51.8C965 52.6 961 48.8 959.3 49C957.5 49.3 955.8 51.1 954.8 53.4C953.8 55.6 954 59 953.2 62.5C952.5 66.1 951.6 70.4 950.2 74.6C948.8 78.8 947 83.5 944.9 87.6C942.8 91.8 939.9 96.1 937.3 99.7C934.8 103.3 932.2 106.4 929.6 109.4C927 112.4 924.3 115.8 921.8 117.7C919.4 119.7 916.6 119.5 914.8 120.9C913 122.3 912 125.7 911 126.2C910 126.8 908.3 126.4 908.8 124.3C909.2 122.2 911.9 116.7 913.7 113.7C915.5 110.6 917.9 109.2 919.7 106C921.6 102.8 923.3 98.1 924.8 94.4C926.4 90.7 927.9 87.5 929 83.8C930.1 80.1 930.9 76.3 931.7 72.2C932.4 68.1 932.9 63.5 933.4 59.4C933.9 55.2 933.9 51.1 934.7 47.5C935.5 43.8 936.6 39.8 938.1 37.5C939.6 35.1 942 34.1 943.8 33.2C945.5 32.3 946.7 32 948.5 32Z" fill="#140c34"/>
<path d="M875.1 152.3C876.5 149.7 880.1 148.9 882.7 149.4C885.2 149.9 888.6 152.3 890.2 155.2C891.8 158.1 892.4 163.2 892.1 166.8C891.8 170.3 890.4 175.3 888.3 176.4C886.3 177.5 882.2 175.4 879.8 173.5C877.5 171.6 874.9 168.4 874.1 164.8C873.4 161.3 873.7 154.9 875.1 152.3Z" fill="#140c34"/>
<path d="M989.4 65.4C988.6 67 985.8 69.9 983.4 72.2C981 74.5 977.6 77 974.9 79.4C972.2 81.8 969.4 84.3 967.3 86.7C965.3 89 963.1 93.6 962.6 93.4C962.1 93.3 962.9 88.5 964.5 85.7C966.1 82.9 969.3 79.4 972.1 76.5C974.8 73.7 978.4 71.1 981 68.8C983.7 66.6 986.7 63.6 988.1 63C989.5 62.5 990.2 63.9 989.4 65.4Z" fill="#fff"/>
<path d="M977.9 43.2C979.6 42.5 982.7 43.5 984.2 44.3C985.7 45.1 987.3 47 986.9 48.1C986.6 49.1 983.6 49 982.1 50.5C980.6 52 979.3 55.1 977.9 57.1C976.5 59.1 975.1 61.3 973.7 62.5C972.2 63.8 969.6 65.6 969.2 64.7C968.9 63.8 970.8 59.8 971.6 57.1C972.4 54.5 973 51 974 48.6C975.1 46.3 976.2 44 977.9 43.2Z" fill="#fff"/>
<path transform="scale(.1)" d="M9857 465h0m-12 9h0m-12-9h0m-16 6h0m-11 7h0m-23-39h0m-12 7h0m-6 15h0m-10 13h0m-24 46h0m16 0h0m5-20h0m2 25h0m6-43h0m3 19h0m1 29h0m2-37h0m13-10h0m24 45h0m1-15h0m0-21h0m6 30h0m1-37h0m12 14h0m-42 55h0m-9-7h0m-19 36h0m-4 11h0m-5-13h0m-2-11h0m-2 8h0m-6-21h0m-5 10h0m-2 9h0m-9-8h0m-6 44h0m16 9h0m7-17h0m1 1h0m7 10h0" stroke="#06040f" stroke-width="12" stroke-linecap="round" fill="none"/>
<path transform="scale(.1)" d="M8948 925h0m0 22h0m-35-30h0m-122 92h0m1 6h0m7-7h0m23 7h0m6-36h0m10 27h0m74-15h0m12-5h0m39 2h0m-33 74h0m-41-35h0m-36 49h0m-4-25h0m-23-18h0m-2 2h0m-13 38h0m-3-47h0m-17 37h0m-50 10h0m-2-35h0m-29 42h0m1 42h0m11-15h0m47-10h0m4-5h0m5-3h0m12 46h0m55-27h0m18 5h0m6 18h0m46-43h0m-112 53h0m-2 19h0m-8 28h0m-68-31h0m-47-7h0m75 76h0" stroke="#fff" stroke-width="11" stroke-linecap="round" fill="none"/>
<path transform="scale(.1)" d="M9840 716h0m-6 0h0m-53 63h0m1-5h0m46-22h0m2 1h0m3-22h0m1 0h0m7 11h0m12-18h0m12-2h0m9 1h0m-89 60h0m-4 5h0m0 7h0m-3 12h0m-6-13h0m-2-3h0m-2 3h0m-5 8h0m-10 9h0m-2-12h0m-1 1h0m-10 4h0m-5 34h0m-6-14h0m-1-10h0m-7 12h0m0 8h0m-2-15h0m-8-5h0m-52 76h0m20-25h0m5 16h0m0-5h0m6-26h0m1 31h0m0-19h0m1-7h0m5 9h0m14-17h0m4 13h0m2-9h0m18 6h0m-77 49h0m-5 1h0m-17 12h0m-6-15h0m-2 15h0m-8 6h0" stroke="#fff" stroke-width="11" stroke-linecap="round" fill="none"/>
<path transform="scale(.1)" d="M9327 1318h0m-62 49h0m31-11h0m3-29h0m1 28h0m8 1h0m16 1h0m-45 41h0m-17-17h0m-6 4h0m-9 20h0m-39 18h0m-12 13h0m-4-7h0m-16 5h0m-8 5h0m-78 60h0m14-4h0m25-9h0m4 0h0m13-10h0m7 14h0m2-19h0m39-21h0m8-3h0m-86 63h0m-20 9h0m-9 5h0m0-8h0m-3 5h0" stroke="#fff" stroke-width="12" stroke-linecap="round" fill="none"/>
<path transform="scale(.1)" d="M8401 534h0m7-18h0m51-21h0m7 34h0m1-32h0m23-4h0m25 9h0m29 11h0m20 9h0m39 12h0m27-4h0m21-1h0m128-11h0m20-1h0m4 0h0m66 3h0m10-3h0m44 39h0m-8 42h0m-4-36h0m-15 7h0m-8-25h0m-13 36h0m-33 13h0m-17-5h0m-53 5h0m-47-44h0m-10 9h0m-5 40h0m-20-21h0m-11-22h0m-4-11h0m-20 49h0m0 3h0m-36-50h0m-2 46h0m-21-45h0m-7 23h0m-21-6h0m-9-9h0m-26 16h0m-15 21h0m-11-7h0m-2 12h0m-10-46h0m-12 38h0m-36-39h0m-10 22h0m-5 11h0m-12-3h0m-48 13h0m-3 1h0m-9-14h0m-11 16h0m-10 18h0m15 24h0m18 5h0m2-13h0m24 23h0m17-50h0m22 42h0m6-24h0m7-10h0m25 44h0m2-6h0m3-36h0m2 44h0m42-12h0m3-8h0m8 12h0m28 5h0m75-53h0m41 24h0m2 33h0m28-44h0m14 25h0m13-28h0m30 1h0m11 11h0m11 36h0m2-27h0m14 5h0m18-18h0m2 4h0m15 10h0m34-20h0m15 19h0m6 24h0m1-34h0m21 30h0m-44 57h0m-3-41h0m-27 41h0m-8-46h0m-20 18h0m-2-5h0m-33-3h0m-17 10h0m-44 28h0m-6-9h0m-33-12h0m-2 20h0m-12-27h0m-5 23h0m-5-13h0m-1-11h0m-7 26h0m0-41h0m-1 1h0m-3 45h0m-3-27h0m-18-17h0m-8 12h0m-5-10h0m-25 44h0m-17-22h0m-9 2h0m-9 2h0m-13-8h0m-11 6h0m-10-16h0m-17 17h0m-20-18h0m-9 21h0m-35-5h0m-7-15h0m-7-11h0m0 46h0m-8-53h0m-10 3h0m-27-2h0m-2 53h0m-36-51h0m0 115h0m1-49h0m3 44h0m24 1h0m19 3h0m23-42h0m28 22h0m28-10h0m10 4h0m1 12h0m11 3h0m7 6h0m36-12h0m12-17h0m15-2h0m30-17h0m25 39h0m22 5h0m9-33h0m0 25h0m3-34h0m8 46h0m4 4h0m4-13h0m44-8h0m11-29h0m5 30h0m5 18h0m22-22h0m12-10h0m7-12h0m0 23h0m1-5h0m6 27h0m17-23h0m11-32h0m44 4h0m-86 64h0m-1-9h0m-63 49h0m-19-23h0m-11 23h0m-2-9h0m-7-21h0m-5 28h0m-21-13h0m0 18h0m-43-28h0m-12 7h0m-4 22h0m0-28h0m-5-7h0m-18-2h0m-5 19h0m-22 19h0m-14-18h0m-9 4h0m-3 4h0m-4 7h0m-1-38h0m-38 35h0m-12-48h0m-19 30h0m0 10h0m-17-24h0m-39 33h0m-19-7h0m-4-35h0m26 92h0m20 12h0m24-6h0m20-31h0m11 41h0m1-28h0m8-4h0m14-12h0m10 20h0m84 2h0m17 8h0m1-13h0m19 22h0m1-19h0m15-30h0m8 12h0m6 11h0m11 6h0m44-25h0m5 13h0m8 32h0m13-43h0m14 1h0m-84 89h0m-40-2h0m-32-32h0m-8 13h0m-5 34h0m-6-17h0m-6 20h0m-1-48h0m-2 47h0m-2-52h0m-16 34h0m-4 7h0m-19-31h0m-9 42h0m-4-51h0m-14 8h0m-2 31h0m-4 17h0m-5-57h0m-13 13h0m-11 7h0m-19-13h0m40 97h0m9-8h0m8 10h0m13-3h0m0 16h0m21-58h0m1 21h0m88-8h0m6-9h0m-69 68h0m-36 7h0m-18-12h0m-7 18h0m-22-22h0" stroke="#3a1d6e" stroke-width="14" stroke-linecap="round" fill="none"/>
<path transform="scale(.1)" d="M8388 538h0m14-9h0m26-8h0m1-16h0m27 5h0m4-20h0m10 11h0m81 2h0m25 28h0m237-11h0m6 13h0m63 0h0m52 56h0m-175 7h0m-6-22h0m-4-1h0m-2-26h0m-4 30h0m-63-7h0m-2-8h0m-20-3h0m-42-5h0m-31 38h0m-2-16h0m-20-23h0m-4-2h0m-2 37h0m-15-33h0m-12 42h0m-5-14h0m-88-37h0m-27 18h0m-7 17h0m-16 3h0m-2-14h0m-21-8h0m-7 17h0m14 63h0m42-41h0m40 55h0m52 1h0m86-9h0m13 10h0m11-22h0m36-32h0m27 45h0m40 0h0m54-28h0m83-20h0m55 6h0m-10 56h0m-51 47h0m-3-1h0m-35-29h0m-42-3h0m-41 23h0m-28-27h0m-27 12h0m-45 34h0m-2-24h0m-8 8h0m-29-31h0m-14-3h0m-18-1h0m-10 24h0m-56 8h0m-7-30h0m-41 47h0m-36-25h0m-51 21h0m-9-42h0m-18 7h0m6 88h0m2-14h0m13 4h0m0-23h0m27 3h0m40-13h0m4 11h0m26 15h0m14-1h0m47 6h0m29-21h0m10 31h0m13-37h0m39 27h0m1 5h0m57-30h0m45 33h0m19-1h0m12 1h0m9-34h0m46 30h0m-32 63h0m-97 7h0m-15-42h0m-162 25h0m-67-4h0m-2 26h0m-29-19h0m-31-32h0m15 102h0m48-22h0m38-13h0m3 16h0m21 3h0m13-28h0m37 3h0m25-1h0m2 25h0m13-3h0m12 4h0m30 22h0m89-43h0m-51 59h0m-21 6h0m-5 32h0m-63-42h0m-32 11h0m-21 29h0m-20-9h0m-15-20h0m-54 33h0m-9-46h0m-2 62h0m21 11h0m41 31h0m4 13h0m84-7h0m-41 17h0" stroke="#0a0618" stroke-width="14" stroke-linecap="round" fill="none"/>
<path transform="scale(.1)" d="M8496 514h0m13-20h0m30 32h0m243-7h0m55 7h0m73 59h0m-83-30h0m-289-10h0m-47-1h0m-159 73h0m27 36h0m100-35h0m10-3h0m1 13h0m5-1h0m64-9h0m36 11h0m69 15h0m166 3h0m10-8h0m53 58h0m-115 4h0m-11-19h0m-38 11h0m-5-2h0m-70-4h0m-1 20h0m-121-47h0m-67 10h0m-49 11h0m-61-4h0m14 91h0m10-3h0m46-17h0m50 3h0m54-19h0m7 19h0m0-5h0m32 17h0m35 1h0m163-7h0m27 7h0m53-7h0m-32 25h0m-44 26h0m-91 19h0m-56-32h0m-5 42h0m-14-30h0m-8 11h0m-146-1h0m68 65h0m31-20h0m57 33h0m27-30h0m41 11h0m55-14h0m33-19h0m-110 76h0m-152-2h0m-22 0h0m-40 13h0m-40-26h0m76 112h0m65-9h0" stroke="#5a2a86" stroke-width="12" stroke-linecap="round" fill="none"/>
<path transform="scale(.1)" d="M8751 642h0m58 2h0m2 14h0m100 57h0m-3-11h0m-5-38h0m-2 11h0m-6 27h0m0-16h0m-7 25h0m-23-34h0m-40 11h0m-8 3h0m-6 6h0m-13 14h0m-1-6h0m-9-27h0m-2-11h0m-3 34h0m-1 15h0m-5-43h0m-2 39h0m-5-39h0m-2 5h0m-1 38h0m-13-1h0m-16-22h0m-2-6h0m0 25h0m-10-6h0m-11-28h0m-3 11h0m0-7h0m-2 29h0m0 2h0m-8-20h0m-25-6h0m-3-10h0m-5 4h0m-11-5h0m-2 20h0m-12 12h0m-14-4h0m-59 62h0m29-35h0m28 22h0m4 21h0m18-35h0m4 18h0m8-7h0m16 25h0m4-47h0m5-1h0m14 32h0m10-38h0m3 44h0m37-22h0m2 0h0m2-9h0m22-1h0m1-10h0m15 52h0m1-41h0m7 32h0m0-38h0m3 38h0m9 3h0m0 8h0m0-41h0m10-14h0m41 42h0m8-23h0m27 1h0m1 8h0m1 10h0m3-2h0m-13 51h0m-9 12h0m-10-37h0m-7 2h0m-8 28h0m-23 3h0m-17 15h0m-21-7h0m-4-47h0m-5 53h0m0-22h0m-3 14h0m-5-38h0m-28 16h0m-8 36h0m-17-58h0m-6 55h0m0-2h0m-7-18h0m-6-34h0m-7 5h0m-12 45h0m-52-35h0m-5 12h0m-3 4h0m-21-23h0m-11 18h0m-5-14h0m-4 27h0m-8-26h0m-4 28h0m-9 10h0m0-34h0m-12-12h0m-3 16h0m-9 29h0m-7-10h0m-27 7h0m-19 56h0m11 1h0m0-44h0m1 47h0m31 5h0m2-41h0m3-3h0m5 20h0m6 13h0m0-28h0m11 4h0m9 10h0m10 24h0m6-5h0m19 8h0m24-54h0m1 35h0m4-15h0m1 36h0m15-29h0m4-23h0m13 35h0m8-15h0m2-16h0m7 16h0m5 13h0m3 1h0m2 8h0m9-24h0m5 30h0m1-33h0m1 9h0m11-17h0m9-8h0m5 9h0m8 12h0m1-1h0m4-24h0m1 46h0m15 12h0m7-53h0m30-3h0m2 8h0m4 46h0m10-34h0m2 17h0m8-34h0m3 27h0m6-5h0m6 2h0m-18 64h0m-17 0h0m-2 13h0m-19 4h0m-3-46h0m-17-3h0m-30-2h0m-6 9h0m-8-1h0m-3 12h0m-7 5h0m-3 13h0m0 15h0m-19-6h0m-31-29h0m-13 39h0m-9-43h0m-14 29h0m-5 14h0m-2-55h0m-21 42h0m-15 8h0m-30-45h0m-4 30h0m-31 20h0m-2-55h0m-7 43h0m-22 2h0m-10 14h0m6 55h0m9-30h0m17 9h0m2-5h0m12 12h0m8 7h0m6-2h0m11-32h0m5 16h0m32-22h0m5 14h0m12 35h0m4-49h0m7 2h0m30 31h0m7-31h0m23 23h0m0-18h0m4 24h0m1 15h0m6-1h0m14-22h0m8-7h0m22-2h0m9 3h0m2-12h0m6 27h0m4-1h0m18-16h0m2-20h0m7 44h0m8-12h0m-21 30h0m-14 14h0m-2 1h0m-3-15h0m-17 50h0m-5-1h0m-13-54h0m-6 44h0m-15-34h0m-22 16h0m0-24h0m-36 30h0m-13-1h0m-10-2h0m-5-22h0m-1 11h0m-5 38h0m-7-19h0m-12-11h0m-8 4h0m-4-7h0m0 9h0m-4 8h0m-1-35h0m-3 41h0m-2-4h0m-5 6h0m-10-17h0m-3 15h0m-4-1h0m-2 5h0m-9-18h0m-18-26h0m-22 97h0m1 13h0m4-57h0m14 48h0m0 0h0m6-17h0m6-15h0m0 15h0m2 18h0m11-36h0m15 25h0m5-1h0m12-5h0m2-32h0m3 6h0m2 46h0m37-27h0m5 18h0m0-20h0m27 25h0m34-46h0m8 10h0m12 12h0m0 25h0m36-41h0m1 3h0m-36 93h0m-17-30h0m-1 4h0m-11 31h0m-30 2h0m-10 8h0m-5-55h0m-3 6h0m-11 0h0m-1 1h0m-2 8h0m-12-2h0m-5 2h0m-7-19h0m-5 21h0m-2-21h0m-14 40h0m-21-22h0m-1-15h0m-4 37h0m-11-22h0m-3 25h0m-1-5h0m-16 7h0m-4-28h0m-4-5h0m0-7h0m0 5h0m-1 75h0m17-16h0m2 47h0m1-53h0m8 21h0m1-16h0m1 45h0m9-9h0m15-32h0m1-11h0m6 57h0m4-7h0m20 6h0m4-29h0m2-8h0m12 20h0m16-39h0m10 40h0m8 8h0m4-39h0m7 29h0m4 20h0m15-47h0m18 3h0m3-4h0m10 8h0m14 3h0m4-3h0m14-15h0m4 53h0m6 0h0m0-7h0m13-10h0m11 18h0m57 55h0m-31 5h0m-14-14h0m-2-27h0m-3-14h0m-5 11h0m-13-2h0m-28-11h0m-7 53h0m-4 1h0m-15-46h0m-20 47h0m-14-25h0m-17-17h0m-2 15h0m-9 1h0m-18-10h0m-14-12h0m-12 28h0m-12-14h0m-13 23h0m-1 7h0m-15-36h0m-11-9h0m-2 15h0m-6 12h0m69 40h0m2 31h0m3-32h0m15 1h0m8 3h0m15 15h0m8 2h0m11-17h0m14 8h0m5 25h0m0-19h0m1 2h0m0-26h0m0-2h0m2 0h0m1 48h0m1-52h0m24 30h0m0-23h0m18-5h0m5 48h0m25-41h0m12 30h0m6 8h0m18-47h0m2 5h0m1 16h0m7 4h0m20 2h0m3-3h0m39 65h0m-10 9h0m-47 20h0m-8-52h0m-3 27h0m-5-22h0m-9 25h0m0 7h0m-11-9h0m-14 13h0m-7 5h0m-1-40h0m15 56h0m12-5h0m20 17h0m16-2h0m12 9h0m8-11h0" stroke="#3a1d6e" stroke-width="14" stroke-linecap="round" fill="none"/>
<path transform="scale(.1)" d="M8701 651h0m3-9h0m24 16h0m41-2h0m70 0h0m33-4h0m10 13h0m-14 26h0m-5 2h0m-26 22h0m-5-49h0m-11 3h0m-18 44h0m-31 4h0m-6-56h0m-7 35h0m-2-28h0m-10 0h0m-42-5h0m-18 25h0m-30 3h0m-19 16h0m-37 69h0m64-27h0m32-6h0m6-12h0m8 46h0m34-30h0m6-24h0m8 9h0m4 46h0m0-28h0m83 19h0m25-20h0m10-16h0m17 5h0m11 28h0m-25 60h0m-11 9h0m-15 4h0m-19-42h0m-19 14h0m-15 0h0m-16 9h0m-11 15h0m-14-24h0m-7 17h0m-41-45h0m-60 51h0m-29-46h0m-31 16h0m-7-15h0m-45 42h0m0-1h0m-12-23h0m-14 33h0m5 53h0m47-48h0m18 41h0m6-3h0m11-33h0m10 43h0m4 4h0m18-44h0m1-11h0m2 30h0m2 22h0m54-2h0m4-19h0m0 19h0m34-32h0m93 38h0m4-14h0m23-20h0m7 2h0m-32 37h0m-24 36h0m-2-2h0m-3 0h0m-7-10h0m-17 14h0m-5 12h0m-16-27h0m-75-16h0m-11 40h0m-35-23h0m-33-4h0m-24-10h0m-12-7h0m-6 52h0m-4-56h0m-2 34h0m-4-4h0m-22 23h0m-16-40h0m-31 41h0m-7-23h0m48 75h0m37-26h0m42-6h0m20 31h0m0-5h0m2-3h0m25 0h0m4 19h0m7-32h0m35-3h0m5-22h0m5 22h0m2 15h0m14 6h0m7-40h0m11 26h0m15-24h0m5 34h0m-11 29h0m-27 36h0m-6 4h0m-19-4h0m-2-32h0m-8 0h0m-22 30h0m-1-38h0m-7 26h0m-2 25h0m-26-37h0m-24 19h0m-49 17h0m-32-50h0m-14-5h0m-5 14h0m-10 22h0m-5 37h0m5 4h0m8-11h0m1 33h0m6-28h0m6 16h0m37 11h0m9 6h0m7-11h0m17 17h0m14-15h0m10-15h0m6 11h0m2 26h0m19-54h0m20 33h0m9 10h0m7 0h0m21-44h0m6 93h0m-113-2h0m-10-2h0m-6 22h0m-4-31h0m-27 24h0m-8-27h0m-26 6h0m-20 70h0m35-8h0m3 28h0m30-43h0m20 18h0m2-6h0m72 18h0m1-16h0m11 10h0m7-24h0m51 43h0m6-34h0m41 60h0m-13 14h0m-27-28h0m-12-4h0m-29 50h0m-2-32h0m-42-14h0m-33 13h0m-15 11h0m-3-19h0m-1 18h0m-18 52h0m44-15h0m34 26h0m3 5h0m20-11h0m2-5h0m2 32h0m18-7h0m10-24h0m37 34h0m40-18h0m47 5h0m23 1h0m-9 19h0m-14 53h0m-14-21h0m-8 14h0m-14-50h0m-33 5h0m0 31h0m-13-34h0m-5 50h0m-8-8h0m-16-16h0m-68-27h0m-15 3h0m167 57h0m19 27h0" stroke="#0a0618" stroke-width="14" stroke-linecap="round" fill="none"/>
<path transform="scale(.1)" d="M8886 671h0m-77 2h0m-44-12h0m-19 26h0m-13 1h0m-5 18h0m-29-19h0m-32-11h0m-25 30h0m-42 62h0m4-5h0m51 2h0m16-25h0m42 9h0m64-14h0m2 12h0m21-6h0m10 34h0m2-48h0m18 34h0m53 11h0m10 4h0m3 2h0m-144 49h0m-43-31h0m-25 25h0m-69-10h0m-14-15h0m-79 48h0m28 46h0m47 8h0m15-15h0m1-17h0m19-22h0m39 15h0m6 6h0m23 4h0m3 3h0m15 11h0m1 10h0m22-17h0m26-18h0m14 1h0m16 35h0m27-11h0m20-27h0m9-3h0m-35 73h0m-14 13h0m-22 8h0m-17 11h0m-1-26h0m-3 9h0m-15-3h0m-34 6h0m-83 0h0m-10 4h0m-4-33h0m-50 37h0m-56 2h0m-4-9h0m-29 26h0m2 25h0m26 23h0m71-2h0m9-21h0m52-10h0m19-6h0m53-1h0m8 25h0m50-3h0m-47 31h0m-6 46h0m-79-31h0m-20 26h0m-62-12h0m-28 18h0m-25-43h0m-8 40h0m59 23h0m57 74h0m-18 14h0m-15-30h0m-19 18h0m-69 19h0m-4 5h0m70 3h0m0 32h0m13 22h0m63-10h0m71 2h0m106 67h0m-62-46h0m-33 26h0m-23 6h0m-33-38h0m-104 4h0m82 72h0m47 4h0m94 27h0m23-36h0m-5 51h0m-131 5h0m-19-7h0m162 76h0" stroke="#5a2a86" stroke-width="12" stroke-linecap="round" fill="none"/>
<path transform="scale(.1)" d="M8695 416h0m26-6h0m-23 61h0m-37-27h0m-2 11h0m-4 15h0m-19-12h0m-17 66h0m6 6h0m8-29h0m17 8h0m9-1h0m7 28h0m13-15h0m-20 40h0m-22 9h0m-29-1h0m-7 9h0m-43 71h0m34-8h0m99 9h0m10-17h0m-112 65h0m-1-24h0m-8 34h0m-7-12h0m-54-9h0m-30 57h0m9-17h0m16-7h0m6 38h0m41 7h0m18-4h0m2-34h0m13-1h0m20-1h0m-93 111h0m-13 0h0m-21-26h0m-4 8h0m-4-8h0m-12 27h0m-1-56h0m-19 26h0m-4-18h0m-8 98h0m3-41h0m5 51h0m6-44h0m23 41h0m26-48h0m3 16h0m-23 77h0m-37-24h0m-9-2h0m19 48h0m0 35h0m30-28h0m6 76h0m-14-11h0" stroke="#3a1d6e" stroke-width="14" stroke-linecap="round" fill="none"/>
<path transform="scale(.1)" d="M8736 433h0m-5 25h0m-38 44h0m5 46h0m-87 13h0m-4-17h0m-6 44h0m-40 53h0m36-39h0m31 19h0m19-21h0m9 35h0m-49 46h0m-22 7h0m-16-17h0m-22 46h0m-18-8h0m-34-1h0m-44 60h0m37-31h0m12 12h0m37-10h0m22-13h0m13 11h0m15 10h0m-52 34h0m-33 43h0m-37 60h0m17-23h0m-33 71h0" stroke="#0a0618" stroke-width="14" stroke-linecap="round" fill="none"/>
<path transform="scale(.1)" d="M8710 418h0m6 22h0m-56 46h0m-13 76h0m-4-10h0m-14 139h0m-28-2h0m-10 29h0m-97 28h0m6 17h0m-63 74h0m25 18h0m23 75h0m-28 52h0m11 42h0" stroke="#5a2a86" stroke-width="12" stroke-linecap="round" fill="none"/>
<path transform="scale(.1)" d="M9563 355h0m-3-7h0m-51-23h0m-23 7h0m-59 12h0m-2 4h0m-37 30h0m13 11h0m1 2h0m15 5h0m14-25h0m10 16h0m2 7h0m4-23h0m2-10h0m36 39h0m6-33h0m3 48h0m20-11h0m0-12h0m1 23h0m38-55h0m1 54h0m15-48h0m10 53h0m9-21h0m17 52h0m-2 23h0m-22 1h0m-15-15h0m-4 11h0m-12-43h0m-10-4h0m-15 13h0m0 7h0m-9 12h0m-11-20h0m-4-1h0m-4 1h0m-7-6h0m-8 30h0m-29 12h0m-22-38h0m-3 31h0m-14-44h0m-1 13h0m-13 42h0m-2-7h0m-3-9h0m-3-21h0m-25 29h0m-4-31h0m-15 64h0m6 19h0m4-39h0m19 19h0m3 15h0m6 18h0m3-35h0m10 24h0m26-7h0m10-26h0m6 16h0m17 9h0m35 2h0m1 14h0m8 6h0m4-7h0m3-41h0m6 14h0m2 20h0m5-35h0m0 15h0m7 21h0m4-4h0m6 7h0m4-42h0m3 15h0m6 10h0m4-11h0m3 14h0m25-23h0m46 4h0m-89 63h0m-5-9h0m-8 11h0m-7 27h0m-6-34h0m-1 2h0m-50 10h0m-22 22h0m-6-9h0m-5-15h0m-23-4h0m0 42h0m0 1h0m-11-54h0m-2 15h0m0 24h0m-6-5h0m-3-25h0m-11 19h0m-4-29h0m-11 46h0m-2-48h0m-13 10h0m-9 95h0m4-11h0m24 15h0m3-16h0m25-10h0m1-2h0m5 8h0m1-7h0m24 33h0m8-44h0m26 7h0m71-15h0m1-4h0m-15 73h0m-9 30h0m-9 12h0m-7-5h0m-24 6h0m-17-14h0m-9-42h0m-19 0h0m-57 58h0m-24-43h0m-7-14h0m-2 37h0m-11 39h0m4 26h0m2-2h0m17-5h0m3-1h0m9-28h0m1 35h0m12-19h0m17 9h0m9 7h0m4-20h0m20 1h0m0-6h0m3-4h0m36 44h0m3-32h0m9-16h0m3 50h0m15-45h0m-20 62h0m0-1h0m-15 27h0m-3 10h0m-1 0h0m-17-28h0m-8 11h0m-6 8h0m-5-5h0m-5-8h0m-15-2h0m-11 32h0m-8-50h0m-12 40h0m-1-26h0m-7 17h0m-3-28h0m-1-4h0m-30 18h0m-39 81h0m26-23h0m15 5h0m2 28h0m8-5h0m3-15h0m18-9h0m4-13h0m8-6h0m4 33h0m0-31h0m11-1h0m15 50h0m4-4h0m9-17h0m2-2h0m2 5h0m10 2h0m11-7h0m0-4h0m-13 52h0m-7 2h0m-8-20h0m-12 38h0m-14-2h0m-4-11h0m-3 21h0m-4-44h0m-33 49h0m-2-34h0m-5 7h0m-12 0h0m-36 20h0m-2-47h0m-48 114h0m26-30h0m10-6h0m4 16h0m1-10h0m7 12h0m17-24h0m14-9h0m6 23h0m8-13h0m7 26h0m3 11h0m6-42h0m2-7h0m23 25h0m-44 39h0m-14-1h0m-6-2h0m-5 21h0m-7-24h0m-2 41h0m-6-17h0m-1-11h0m-2-14h0m-5 44h0m-22-32h0m-7 26h0m-23-26h0m-11 15h0m-13 27h0m-48 52h0m2 8h0m6-8h0m23-27h0m2 30h0m4-8h0m7 1h0m27 15h0m3-27h0m12-10h0m4 19h0m11-9h0m5 8h0m7-26h0m6-7h0m3 38h0m-20 17h0m-72 4h0m-3 6h0m-4 2h0m-29 2h0m-4-1h0m-3 39h0m-4-22h0m-5 20h0m0-11h0m9 34h0" stroke="#3a1d6e" stroke-width="14" stroke-linecap="round" fill="none"/>
<path transform="scale(.1)" d="M9525 340h0m-2 9h0m-13-8h0m-15 16h0m-29-15h0m-59 17h0m-19 12h0m12 33h0m20-4h0m4-5h0m4-22h0m8 0h0m18 21h0m5-26h0m26-1h0m9 49h0m2-38h0m40-6h0m17 22h0m14-29h0m39 86h0m-13-3h0m-149-2h0m-2 8h0m-5 20h0m-15-8h0m-23-30h0m-19-11h0m-2-2h0m-2 13h0m-4 33h0m-19 6h0m-2-12h0m14 52h0m6-34h0m11 41h0m75-29h0m17 44h0m47-19h0m41-6h0m21-26h0m39 12h0m-84 55h0m-18 34h0m-4-25h0m-20 13h0m-3-19h0m-21-7h0m-2 11h0m-15 25h0m-19-4h0m-78 50h0m25-11h0m64 18h0m30-12h0m27-25h0m13 33h0m3-24h0m0 32h0m0 5h0m-1 23h0m-9 30h0m-10-6h0m-39-14h0m-37-10h0m-8 4h0m-4-13h0m-10 55h0m-28-25h0m-1 17h0m-11 4h0m-14-28h0m-18-22h0m-2 111h0m0-19h0m56-1h0m46 14h0m33-24h0m1 16h0m10 16h0m11 3h0m11-25h0m-40 47h0m-19 24h0m-3-30h0m-48-8h0m-23 20h0m-22 28h0m-7-15h0m-24 9h0m-9 49h0m31 5h0m8-16h0m16 6h0m10 15h0m10 9h0m6-29h0m-3 54h0m-17-9h0m-36-7h0m-25 40h0m-6-2h0m-7-19h0m-12 21h0m-3 1h0m-6-11h0m-5 3h0m-1-19h0m-13 96h0m56-50h0m5 11h0m18 43h0m5-27h0m12 20h0m7-28h0m-54 84h0m-17 0h0m-48-3h0m-1-44h0m-58 116h0m37-4h0m15-29h0m47-5h0m-45 47h0m-64 19h0m-12-23h0m-4 38h0m-11-19h0m-5 9h0m-1 63h0" stroke="#0a0618" stroke-width="14" stroke-linecap="round" fill="none"/>
<path transform="scale(.1)" d="M9530 340h0m-33-5h0m-110 68h0m7-3h0m115 8h0m91 26h0m-33 4h0m-24-13h0m-2 25h0m-52 27h0m-3-49h0m-17 13h0m-21 19h0m-39-8h0m-60 40h0m80 39h0m75-22h0m7 11h0m51-39h0m64 13h0m-121 78h0m-11 22h0m-63-27h0m-24 15h0m-11-27h0m-38 22h0m-16 59h0m37 17h0m64-45h0m69 45h0m18-43h0m-15 70h0m-33-6h0m-4-4h0m-75 20h0m-72-20h0m9 52h0m36 41h0m0-40h0m14 24h0m39 22h0m40-48h0m-20 89h0m-22 27h0m-107-1h0m-11-46h0m-14 44h0m18 60h0m73-15h0m37 36h0m-33-10h0m-117 50h0m0 44h0m52 18h0m68-53h0m-205 112h0m-1 33h0m14 6h0m4 18h0m-20 21h0m-11 3h0m-20-14h0m-4 28h0m-15-6h0m-6-3h0" stroke="#5a2a86" stroke-width="12" stroke-linecap="round" fill="none"/>
<path transform="scale(.1)" d="M8889 1557h0m-12 2h0m-39-45h0m-9-13h0m-7 10h0m-54 13h0m-7 32h0m-4-27h0m-5 4h0m14 50h0m19 10h0m10 14h0m5 5h0m3-24h0m6-23h0m14 12h0m0 16h0m6 19h0m10-26h0m3-11h0m4 29h0m5-33h0m8 21h0m7 14h0m18-36h0m11 10h0m7-7h0m2 75h0m-7-28h0m-3 12h0m-6-10h0m-19 4h0m-10 1h0m-8 19h0m-18 22h0m-4-9h0m-2-38h0m-11 35h0m-6 6h0m0-7h0m-33 2h0m-15-16h0m-4 7h0m-6 5h0m-6 2h0m-3-23h0m38 76h0m26-13h0m5-7h0m2 12h0m2 22h0m9 13h0m38-33h0m14 7h0m2-1h0m4 1h0m12 8h0m-38 37h0m-7-5h0m-4-1h0" stroke="#3a1d6e" stroke-width="14" stroke-linecap="round" fill="none"/>
<path transform="scale(.1)" d="M8832 1498h0m-21 40h0m-2-25h0m-12-1h0m-31 41h0m5 46h0m6-35h0m50 12h0m63 39h0m0-11h0m14 14h0m5 47h0m-6-1h0m-2-31h0m-3 34h0m-27 3h0m-4 4h0m-5-26h0m-15-14h0m-9-1h0m-11 37h0m-34-38h0m-9 3h0m-22-14h0m-14 36h0m68 36h0m30 28h0m1-7h0m20 6h0m19-37h0" stroke="#0a0618" stroke-width="14" stroke-linecap="round" fill="none"/>
<path transform="scale(.1)" d="M8890 1543h0m-73-17h0m-5 11h0m-3-4h0m-57-7h0m-5 57h0m41-17h0m58 49h0m31-17h0m3-30h0m-51 61h0m-27 26h0m6 33h0m5 17h0m1 34h0" stroke="#5a2a86" stroke-width="12" stroke-linecap="round" fill="none"/>
<path d="M869.4 55.8C870.6 53.7 874.4 51.9 877.5 51.3C880.7 50.6 885.2 50.7 888 51.6C890.9 52.6 894.1 54.8 894.9 57.1C895.6 59.5 894.5 64.6 892.6 65.9C890.7 67.2 887.3 65.1 883.6 64.8C879.9 64.4 872.7 65.3 870.4 63.8C868 62.3 868.2 57.9 869.4 55.8Z" fill="#06040f"/>
<path d="M874.3 40.1C875.3 40.8 876.4 43.6 875.9 45.4C875.5 47.2 872.8 48.8 871.8 50.8C870.8 52.7 870.6 55.2 869.9 57.1C869.2 59.1 868.9 62 867.5 62.5C866.2 63.1 863 62.5 861.8 60.6C860.7 58.7 860.4 53.5 860.7 51C861 48.4 862.3 47 863.8 45.4C865.4 43.7 868.4 42 870.2 41.1C871.9 40.2 873.4 39.4 874.3 40.1Z" fill="#06040f"/>
<path d="M892.6 65.9C894 67.9 892.1 72.9 891.2 76.4C890.2 80 888.6 84 887 87.2C885.4 90.5 883.5 94.1 881.7 95.7C879.9 97.4 876.2 99 876 97.3C875.9 95.6 879.5 89.6 880.8 85.7C882 81.8 883.3 77.6 883.6 74.1C883.9 70.6 881.2 66.1 882.7 64.8C884.2 63.4 891.2 64 892.6 65.9Z" fill="#06040f"/>
<path d="M892.2 88.1C894 88.1 896.5 89.1 897.8 90.3C899 91.6 900.3 92.9 899.7 95.7C899.1 98.6 896.7 103.9 894 107.4C891.3 110.9 886.1 114.1 883.6 116.6C881.1 119.1 879.4 120 878.9 122.4C878.3 124.7 880.9 129.9 880.3 130.6C879.7 131.3 876.8 128.5 875.1 126.7C873.4 124.9 871.3 121.7 870 120C868.6 118.2 866.9 118.4 867 116.2C867.2 113.9 868.6 109.7 870.8 106.5C873 103.2 877.6 99.5 880.3 96.8C883 94.1 885.1 92 887.1 90.5C889.1 89.1 890.4 88.1 892.2 88.1Z" fill="#06040f"/>
<path d="M948.5 32C950.3 32 952.9 32.2 954.7 33.2C956.5 34.2 958.3 36 959.3 37.9C960.3 39.8 959.6 42.4 960.6 44.7C961.6 47 965.5 51.1 965.2 51.8C965 52.6 961 48.8 959.3 49C957.5 49.3 956.1 51.6 954.8 53.4C953.6 55.1 954.6 59.2 951.7 59.6C948.8 60.1 940.4 57.8 937.5 55.8C934.7 53.8 934.6 50.5 934.7 47.5C934.8 44.4 936.6 39.8 938.1 37.5C939.6 35.1 942 34.1 943.8 33.2C945.5 32.3 946.7 32 948.5 32Z" fill="#06040f"/>
<path transform="scale(.1)" d="M8917 890h0m42 30h0m-7 8h0m-27-23h0m-4 50h0m-5-26h0m-40 29h0m-90 45h0m68-1h0m1-5h0m69-3h0m9 4h0m8-1h0m8-36h0m10 17h0m13 8h0m-79 62h0m-26-14h0m-29 38h0m-24-52h0m-12 25h0m-12 3h0m-7 9h0m-16-30h0m-2 30h0m-38 6h0m-2 49h0m5-10h0m3-1h0m30-15h0m76 1h0m27 17h0m7 20h0m-57 63h0m-50-38h0m-14 50h0m-13 47h0m35-27h0m19 31h0m-7 17h0" stroke="#fff" stroke-width="11" stroke-linecap="round" fill="none"/>
<path transform="scale(.1)" d="M9553 359h0m-48-12h0m-53-15h0m-33 20h0m-28 60h0m88-33h0m6 27h0m82-38h0m26 65h0m-29-3h0m-36 5h0m-53 20h0m-9 15h0m0-17h0m-11-14h0m-35-10h0m-47 3h0m-7 46h0m39 48h0m13-16h0m37 28h0m38-47h0m61-5h0m-35 65h0m-109-10h0" stroke="#2a1658" stroke-width="14" stroke-linecap="round" fill="none"/>
<path transform="scale(.1)" d="M8837 520h0m32 18h0m14 0h0m1-16h0m28 57h0m-21-6h0m-43 22h0m-21-47h0m-72 18h0m-34-13h0m45 78h0m54-22h0m84 29h0m28-24h0" stroke="#2a1658" stroke-width="14" stroke-linecap="round" fill="none"/>
<path transform="scale(.1)" d="M9432 1184h0m-2-22h0m-41 32h0m-8-8h0m-69 55h0m11 2h0m8-23h0m31 2h0m14-11h0m2 35h0m12-5h0m1 8h0m7 5h0m12-28h0m11-2h0m22-19h0m-103 59h0m-9 47h0m-30-46h0m-7 9h0m-2 4h0m-7 1h0m-36-3h0m-1 8h0m-5 14h0m-11-12h0m-90 72h0m15 15h0m8 6h0m2-15h0m11-41h0m16-2h0m9 51h0m4-3h0m1-29h0m18-15h0m17 29h0m12-12h0m16 30h0m7-47h0m39 12h0m21-12h0m-139 77h0m-1 3h0m0 21h0m-4-8h0m-14-8h0m-1 12h0m-15-28h0m-5-1h0m-13-2h0m-3 9h0m-5-10h0m-5 23h0m-13-14h0m-20 7h0m-3-1h0m-9 22h0m-102 41h0m20-26h0m32 29h0m1 24h0m8-10h0m18-18h0m1 7h0m3-5h0m1-18h0m14 35h0m6 3h0m11-37h0m13-6h0m9 46h0m22-31h0m7-20h0m-107 99h0m-16-38h0m-6 36h0m-6 5h0m-3-31h0m-50 33h0m-11-11h0m-16-23h0m-4 30h0m-37-28h0m-1 7h0m-9 13h0m-10 20h0m-4 1h0m-11-15h0m-14 9h0m-17 11h0m-28 20h0m10-3h0m2 2h0m30 38h0m7-36h0m1-14h0m0-4h0m2 4h0m11 6h0m5 23h0m10 11h0m8-31h0m1 30h0m3 11h0m7-2h0m27-37h0m2-14h0m13 38h0m17-4h0m16-25h0m-87 63h0m-16 6h0m-14 14h0m-1-12h0m-11 22h0m-7-45h0m-3 36h0m-33-16h0m-13-6h0" stroke="#24124e" stroke-width="14" stroke-linecap="round" fill="none"/>
<path transform="scale(.1)" d="M9418 1254h0m47-19h0m7-33h0m19 4h0m0-3h0m-45 60h0m-17 45h0m-8-14h0m-24-21h0m-92 85h0m9-10h0m29 31h0m24-42h0m1 44h0m-30 20h0m-2-15h0m-18 4h0m-7 14h0m-3 18h0m-7-34h0m-36 27h0m-21 17h0m-123 65h0m76-12h0m23-40h0m29 13h0m18 10h0m3-5h0m1-18h0m18 10h0m0 3h0m20-10h0m-74 52h0m-41 21h0m-7 24h0m-1 6h0m-25-39h0m-50 16h0m-4 7h0m-13-10h0m-2 31h0m-2-36h0m-46 29h0m-10 3h0m-70 49h0m25 13h0m8-31h0m4-3h0m6 6h0m11-7h0m1 14h0m2 1h0m20-26h0m1 8h0m2 41h0m15-7h0m2-32h0m16 41h0m11-25h0m6-34h0m5 2h0m55 0h0m6 22h0m-128 55h0m-11 4h0m-12 0h0m-4 26h0m-29-42h0m-25 9h0m-12 34h0m0-6h0m-4-5h0m-1-11h0m-17 5h0m-55 16h0m-74-17h0m18 62h0m10-25h0m51-2h0m1 20h0m10-11h0m36-16h0m5 24h0m5 4h0m9 14h0m2-38h0m19 0h0m23 13h0m45-15h0m-146 64h0" stroke="#24124e" stroke-width="14" stroke-linecap="round" fill="none"/>
<path transform="scale(.1)" d="M9825 1129h0m39-19h0m20 7h0m34 57h0m-63 7h0m-64-33h0m-52 24h0m-9 12h0m-73 64h0m24-4h0m1 4h0m44-43h0m52 11h0m51 32h0m78-33h0m62 87h0m-38-38h0m-7 14h0m-15-8h0m-1 2h0m-15 30h0m-45-39h0m-14 51h0m-51-1h0m-16-23h0m-95 14h0m36 39h0m6-14h0m102 44h0m87-25h0m25-9h0m35 7h0m-33 70h0m-13 2h0m-27-3h0m-50-1h0m-20-4h0m-147 89h0m11-33h0m42 13h0m54-29h0m2 6h0m93 69h0m-97 3h0m-76 22h0m-283 43h0m38-11h0m109-11h0m6 20h0m15-26h0m15-2h0m1 12h0m46 30h0m86 10h0m111-45h0m-26 55h0m-15 17h0m-228-4h0m-34-1h0m-35 24h0m-32-40h0m-5 22h0m-88 26h0m-47-14h0m-7 26h0m45 41h0m58-7h0m1 14h0m75-10h0m45-27h0m37 25h0m41-36h0m5 44h0m5-11h0m-134 74h0m-42-44h0m-53 37h0m-74 13h0m-1-50h0m-59 42h0m-1-43h0m-124 47h0m-148-14h0m-81-2h0m-1-6h0m-11 36h0m2 26h0m38 5h0m52 14h0m131-46h0m44 4h0m4 31h0m37 18h0m7-47h0m43 40h0m161 5h0m37-43h0m-10 49h0m-124 14h0m-21 11h0m-36-14h0m-36 37h0m-8 11h0m-2-57h0m-244 46h0m-5-46h0m-56 11h0m-12-12h0m23 64h0m25 20h0m52 30h0m81-42h0m63-12h0m54 3h0m34 2h0m28 42h0m-132 48h0m-26-17h0m-6-8h0m-30 16h0" stroke="#24124e" stroke-width="14" stroke-linecap="round" fill="none"/>
<path transform="scale(.1)" d="M9934 627h0m-43 84h0m-9-8h0m-51 38h0m25 35h0m36-42h0m145 4h0m13 7h0m-37 84h0m-25-7h0m-17 3h0m-7-10h0m-31-8h0m-149 31h0m-115 43h0m67-25h0m14 26h0m47-24h0m67 4h0m25 21h0m12-43h0m9 38h0m9 13h0m65-38h0m2 42h0m47 1h0m14-39h0m23 54h0m-62 16h0m-8 15h0m-126-33h0m-4 10h0m-2-9h0m-40 33h0m-20 4h0m-17-40h0m-5-3h0m-73 48h0m-11-35h0m-28 29h0m-31-35h0m-66 88h0m19 15h0m11-8h0m35-33h0m12 45h0m52-13h0m73-39h0m1 19h0m30-15h0m49 12h0m136-15h0m-267 65h0m-14-9h0m-51 0h0m-38 7h0m-38 49h0m-48-22h0m-2 21h0m-34 47h0" stroke="#24124e" stroke-width="14" stroke-linecap="round" fill="none"/>
<path transform="scale(.1)" d="M9272 1677h0m-57 44h0m6 2h0m15-22h0m1-7h0m4 31h0m18-9h0m10-3h0m12 13h0m20 27h0m-56 39h0m-20-51h0m-2 54h0m0-39h0m-4 28h0m-2-19h0m-6-14h0m-14 18h0m-6-11h0m-23-9h0m-19 10h0m-4 8h0m0 17h0m-65-2h0m-4-6h0m-2 1h0m-14-1h0m-17 0h0m-6-8h0m-7 20h0m-28-5h0m-39 12h0m-36-6h0m-15-15h0m-10 17h0m0 35h0m19 31h0m6-2h0m7-35h0m0-2h0m2-15h0m8 29h0m2 0h0m3 4h0m7 3h0m2 8h0m8-9h0m1-38h0m29 9h0m7 2h0m10 28h0m1 2h0m2-14h0m3-17h0m17 20h0m1-14h0m7 5h0m4-14h0m1 8h0m20-8h0m5-4h0m7 48h0m6-12h0m1 2h0m9-38h0m3 15h0m5 22h0m9 19h0m7-18h0m12-10h0m3 28h0m8-53h0m8 4h0m15-8h0m0 12h0m24 29h0m7 13h0m5-27h0m32 17h0m25-4h0m5-27h0m5 3h0m11 8h0m3 31h0m15-14h0m11-22h0m-34 59h0m-9 39h0m-39-13h0m-11-15h0m-6 5h0m-40 16h0m-1-41h0m-31-3h0m-15 37h0m0 10h0m-22-4h0m-3-15h0m-8 9h0m-7-24h0m-33 26h0m-1-28h0m-22 30h0m-6-49h0m-4 20h0m-1 6h0m-11-1h0m-3 11h0m0-7h0m-2 7h0m-4-1h0m-17-28h0m-3-3h0m-4 25h0m-4 14h0m-5-42h0m-3 19h0m-16-9h0m-6 48h0m-8-14h0m0-38h0m-6 13h0m44 49h0m11 19h0m14 25h0m12-27h0m19 31h0m9-37h0m13 6h0m13 16h0m26-28h0m6 37h0m2 0h0m2-42h0m18 10h0m2 26h0m9 7h0m29 1h0m3-18h0m0-12h0m9-16h0m5 29h0m1-2h0m10 17h0m16-44h0m5 39h0m20-14h0m5 18h0m5-36h0m-44 88h0m-6-3h0m-4-37h0m-20 25h0m-26-2h0m-10 0h0m-7-24h0m-13 31h0m-41-17h0m-4 8h0m-13-1h0" stroke="#2c1658" stroke-width="14" stroke-linecap="round" fill="none"/>
<defs><linearGradient id="eg" gradientUnits="userSpaceOnUse" x1="0" y1="23.9" x2="0" y2="122.4">
<stop offset="0" stop-color="#fece91"/>
<stop offset="0.3" stop-color="#fea874"/>
<stop offset="0.5" stop-color="#fa8463"/>
<stop offset="0.7" stop-color="#ea5d62"/>
<stop offset="0.85" stop-color="#c73f72"/>
<stop offset="1" stop-color="#8c2981"/>
</linearGradient></defs>
<path d="M904.8 25C902.5 26.3 901.6 28.8 900.6 31.5C899.7 34.2 899 37.7 899 41.1C899 44.5 899.8 48.3 900.6 51.8C901.4 55.4 902.7 59 903.8 62.5C904.8 66.1 905.9 69.7 907 73.3C908 76.8 909.2 80.4 910.1 84C911 87.5 911.8 91.1 912.2 94.7C912.5 98.2 912.7 102.2 912.2 105.4C911.6 108.6 910.1 111.3 909 114C908 116.7 905.9 120.2 905.9 121.5C905.9 122.8 907.7 123.3 909 121.5C910.4 119.7 913.1 114.4 914.3 110.8C915.4 107.2 915.7 104.6 915.9 100.1C916 95.6 915.8 89 915.4 84C914.9 79 914.1 74.5 913.2 70.1C912.3 65.6 910.8 60.9 910.1 57.1C909.4 53.4 908.4 48.6 909 47.5C909.7 46.4 912.8 48.8 914.3 50.8C915.7 52.7 916.1 56.7 917.5 59.4C918.9 62 921.1 65.1 922.7 66.8C924.2 68.5 925.5 70.2 926.9 69.5C928.3 68.8 929.9 65.7 931.1 62.5C932.3 59.4 934 54.3 934.3 50.8C934.7 47.2 934.4 43.8 933.2 41.1C931.9 38.4 929 36.2 926.9 34.7C924.8 33.1 922 33.2 920.6 32C919.2 30.7 919.6 28.5 918.5 27.1C917.5 25.8 916.5 24.1 914.3 23.8C912 23.4 907.1 23.7 904.8 25Z" fill="url(#eg)"/>
<path d="M914.8 27.8C917 28.4 919.9 33.3 922.4 35.5C924.9 37.8 928.5 38.4 930 41.3C931.4 44.2 931.5 49 930.9 52.9C930.3 56.8 927.9 63.2 926.2 64.5C924.4 65.8 922.2 62.9 920.5 60.6C918.8 58.4 917.3 54.2 915.8 51C914.2 47.7 912.1 44.5 911 41.3C909.9 38.1 908.5 33.9 909.1 31.7C909.8 29.4 912.6 27.2 914.8 27.8Z" fill="#fdeeb0"/>
<path transform="scale(.1)" d="M9036 289h0m5-1h0m7 7h0m8-2h0m8-10h0m7-24h0m15 13h0m2-18h0m11-11h0m8 56h0m1-7h0m12-48h0m11 13h0m22 38h0m1-7h0m90 71h0m-18-2h0m-1-23h0m-10-1h0m-7 12h0m-9-28h0m-7 29h0m-14-24h0m-20-20h0m-4 10h0m-15 1h0m-1 23h0m0-21h0m-6 3h0m-4 19h0m-5 0h0m-9 2h0m-1 2h0m-1 8h0m-9-41h0m-11 25h0m-2-10h0m-3-22h0m-8 50h0m-2 8h0m-18-20h0m-14 16h0m-7-50h0m-36 106h0m3-31h0m17-8h0m2-5h0m15 15h0m0 35h0m5-43h0m2 0h0m2 1h0m2 34h0m3 10h0m9-53h0m8 19h0m3-9h0m7 36h0m11-45h0m9-1h0m4 31h0m3 15h0m3-15h0m17-8h0m4 15h0m3-17h0m4 13h0m0-32h0m5 50h0m8-33h0m6-22h0m0 12h0m1 5h0m24 33h0m19-11h0m0 13h0m18-50h0m15-4h0m4 58h0m7-26h0m5 22h0m4-21h0m1 1h0m5-3h0m10 5h0m1 0h0m3 0h0m4-37h0m6 53h0m1-23h0m4 6h0m5 21h0m42 39h0m-3 2h0m-10-31h0m-17 30h0m-15 0h0m-3-21h0m-3 28h0m-10 0h0m-1-6h0m-1 18h0m-3-12h0m-1-37h0m-6 49h0m-3-52h0m-7 52h0m-9-28h0m-6-8h0m-19 22h0m-23-6h0m-1-22h0m-5 44h0m-2-12h0m-6-6h0m-16 10h0m-9 6h0m-21 0h0m-7-26h0m-15 11h0m-3-1h0m-31 7h0m-4-46h0m-27 21h0m-8 24h0m-13-41h0m-1 38h0m-4-26h0m-14 3h0m-5 5h0m15 91h0m1-4h0m4-15h0m1 5h0m4 1h0m2 10h0m13-44h0m3 44h0m1-21h0m9-15h0m10-7h0m56 4h0m13 5h0m9 13h0m14-11h0m8 15h0m20-3h0m6-1h0m2-26h0m1 20h0m18 27h0m11-8h0m1 13h0m2-17h0m3 7h0m12 10h0m8-43h0m5 9h0m24 31h0m5-7h0m11-16h0m4-21h0m6 28h0m4-8h0m12 17h0m2 32h0m-1-13h0m-1-7h0m-1 46h0m-32-30h0m-25 1h0m-15 20h0m-5 14h0m0-49h0m-11 3h0m-14 22h0m-2 18h0m-12 2h0m-10 5h0m-1-11h0m-3-2h0m-6-21h0m-85 18h0m-3-13h0m-7 18h0m-8-4h0m-16-35h0m0 18h0m0 27h0m-4-35h0m-3 13h0m-11 0h0m-1-17h0m-12 8h0m22 58h0m2 19h0m1-31h0m21 29h0m6 27h0m14-3h0m5-29h0m96-8h0m11 12h0m13-4h0m0 31h0m1-7h0m11-41h0m5 22h0m15 21h0m11-11h0m1 0h0m18-34h0m25-2h0m-33 68h0m-4 3h0m-20-9h0m-131 20h0m-8-17h0m-4 10h0m-12 19h0m-26-1h0m10 72h0m9-43h0m6 8h0m9-15h0m1 1h0m15 51h0m11-44h0m-6 81h0m-12 16h0m-6-36h0m-7 32h0m-3 6h0m7 37h0m5-18h0m5 44h0m2-36h0m25 8h0m4-9h0m2 33h0m1-24h0m-3 44h0m-8 13h0m0 29h0m-8-19h0m-5 110h0m-6-17h0m-4 52h0m-23 56h0m16-12h0m3 3h0m7-15h0m0 0h0m7 8h0m-17 38h0m-3 0h0m-13 27h0m-14 5h0m3 20h0m5 1h0" stroke="#f6824f" stroke-width="14" stroke-linecap="round" fill="none"/>
<path transform="scale(.1)" d="M9083 299h0m25-16h0m21-23h0m19 38h0m113 57h0m-38-1h0m-25-24h0m-24 28h0m-9-22h0m-9-10h0m-8-2h0m-19-2h0m-36 4h0m-13 24h0m-59-19h0m-12-3h0m1 59h0m3-14h0m54 43h0m13-43h0m2 12h0m1-25h0m9 9h0m13 46h0m41-47h0m10 51h0m18-38h0m13-20h0m19 6h0m2 50h0m6-43h0m28 15h0m3 2h0m2 3h0m35-14h0m54 92h0m-19-36h0m-5 24h0m-16-30h0m-15 42h0m0-13h0m-8 3h0m-5 4h0m-38-33h0m-9 24h0m-27-15h0m-1 18h0m0-8h0m-21 4h0m-3-14h0m-13 2h0m-1 14h0m-19 16h0m-8-8h0m-2-23h0m-15 3h0m-13-23h0m-1 19h0m-2 15h0m-35 17h0m-1-50h0m-10 48h0m-22-40h0m-19 77h0m8 0h0m11-26h0m35 5h0m12 44h0m10-22h0m53-18h0m15 5h0m5-13h0m36 9h0m0 27h0m14-18h0m6 37h0m58-17h0m12-30h0m38 22h0m10 17h0m-32 50h0m-1-17h0m-4 23h0m0-40h0m-6 38h0m-14 14h0m-5-3h0m-83-42h0m-11 9h0m-11-19h0m-98 31h0m-8 78h0m28-8h0m14-22h0m11 30h0m110 4h0m15-17h0m42 10h0m9 1h0m-19 41h0m-185-22h0m-5 9h0m-5-5h0m10 96h0m9-14h0m46 83h0m-7-51h0m-10 49h0m-15-2h0m-3 9h0m41 34h0m-8 43h0m0 16h0m-9 18h0m-2-7h0m3 54h0m2-37h0m9 53h0m-37 97h0m2-4h0" stroke="#fbd28f" stroke-width="14" stroke-linecap="round" fill="none"/>
<path transform="scale(.1)" d="M9047 294h0m43-9h0m145 57h0m-1 17h0m-4-17h0m-30 5h0m-16-20h0m-39-25h0m-58 21h0m-30 16h0m-11-18h0m-4 8h0m-17-10h0m-7 37h0m14 26h0m7 6h0m16 9h0m80-18h0m0-4h0m5 24h0m58-15h0m0 22h0m37-24h0m17 33h0m33-43h0m38 48h0m-7 9h0m-60-3h0m-24 39h0m-19-31h0m-41 9h0m-22-9h0m-58 39h0m-15-33h0m-13-8h0m-6 41h0m-3-52h0m0 50h0m-16-2h0m-9-26h0m-31 18h0m57 29h0m24-6h0m1 23h0m112-16h0m44 34h0m47 1h0m3 1h0m19-45h0m23 25h0m-42 65h0m-101-16h0m-2 29h0m-106-34h0m-37 81h0m6 2h0m180 21h0m8-37h0m28-15h0m-177 101h0m-15-9h0m-18-24h0m77 71h0m-12 95h0m-29-54h0m38 63h0m19 134h0m11 28h0m-55 107h0m5 12h0" stroke="#c83e73" stroke-width="13" stroke-linecap="round" fill="none"/>
<path transform="scale(.1)" d="M9138 295h0m18-3h0m37 51h0m-12-1h0m-2-25h0m-5 10h0m-15-23h0m-9 53h0m-4-35h0m-11 2h0m-2 15h0m-13-20h0m-7-8h0m-16 28h0m13 48h0m46 16h0m0-22h0m19-16h0m7 54h0m5-29h0m10-5h0m18 32h0m44-14h0m5 15h0m32 14h0m-4 33h0m-14-29h0m0 12h0m-3 11h0m-7-29h0m-1-9h0m-6 9h0m-7 1h0m-7 45h0m-17-40h0m-11 24h0m-1-11h0m0 22h0m-3 7h0m-4-34h0m-7-4h0m-3 31h0m-7-11h0m0-21h0m-38-8h0m-35-6h0m61 96h0m31-10h0m5-11h0m44 19h0m2-16h0m2 1h0m12 12h0m24-17h0m6 32h0m-19 24h0m-20 29h0m-12-29h0m0-13h0m-5 29h0m-9-21h0m-4 18h0m-11-10h0m-10 35h0m-5-21h0m-21-7h0m33 46h0m11 13h0m30-23h0m4 20h0" stroke="#fbb77a" stroke-width="12" stroke-linecap="round" fill="none"/>
<path transform="scale(.1)" d="M9011 1236h0m15 18h0m3-23h0m2 16h0m0 0h0m2 9h0m5-32h0m7 28h0m5-20h0m0-16h0m6 30h0m0-5h0m2 8h0m0-23h0m1-6h0m0 0h0m3-5h0m7 7h0m0 6h0m2-6h0m4-1h0m-22 41h0m0 7h0m-11-2h0m-5 5h0m-2 22h0m-1-23h0m-2 12h0m-4 3h0m-2-24h0m-3 47h0m-1-43h0m0 7h0m-1-11h0m0 23h0m-2-9h0m0 33h0m-4-7h0m0-33h0m-1 21h0m0-3h0m-1 21h0m0-23h0m-2 9h0m-1-1h0m0-3h0m-1 14h0m0 0h0m-2-5h0m-6-22h0m-2 27h0m-4-16h0m-1 22h0m-2-6h0m-3 15h0m0-22h0m-4 11h0m0 9h0m-1-8h0m-8 2h0m-4-2h0m0 10h0m-13 9h0m3-8h0m8 7h0m10 3h0m8 1h0m3-9h0m14-2h0" stroke="#d8456c" stroke-width="13" stroke-linecap="round" fill="none"/>
<path transform="scale(.1)" d="M8911 1360h0m5-1h0m1 17h0m1 0h0m3 3h0m2-10h0m1 8h0m1-7h0m11-9h0m1 2h0m1-12h0m4-7h0m1 11h0m1-3h0m4-5h0m0 13h0m2 11h0m2-24h0m1 9h0m8-2h0m5-11h0m2 27h0m1-26h0m6 6h0m2 1h0m2 12h0m0-25h0m4 8h0m11-9h0m-54 45h0m-4 6h0m-1 31h0m0-21h0m-4 15h0m-3 9h0m-2-34h0m-2-3h0m-3 19h0m-2-5h0m-3 7h0m0-15h0m-2-5h0m-1 33h0m0-15h0m-1-13h0m-2 25h0m-1-23h0m-5-9h0m0 1h0m-1 17h0m-2-8h0m-1-2h0m-1 20h0m0-31h0m-1 38h0m0-25h0m-1 35h0m-1-24h0m-2 9h0m-2 6h0m0-14h0m0 14h0m-1 15h0m0-29h0m-2 30h0m-3-18h0m-2-7h0m-2-30h0m-1 43h0m0-27h0m-7 17h0m0 2h0m-1 10h0m-5 6h0m-1-25h0m-3 23h0m-4-42h0m-3 29h0m-14 4h0m-33 23h0m21 7h0m2 1h0m6-9h0m2-2h0m17 10h0m11-5h0m4-3h0m12 8h0" stroke="#a02f7f" stroke-width="13" stroke-linecap="round" fill="none"/>
<path transform="scale(.1)" d="M8768 1497h0m16-1h0m11 1h0m10-14h0m5-13h0m6-5h0m5 2h0m2 25h0m1-21h0m2 22h0m5-2h0m10 1h0m1-8h0m0-27h0m1-1h0m2 11h0m3-1h0m0 19h0m1-29h0m1 42h0m4-24h0m1 10h0m1-1h0m4-16h0m13-11h0m-22 81h0m-2-17h0m-14 0h0m-3-15h0m-9 24h0m0-8h0m-3-12h0m0 27h0m-3-25h0m-1 16h0m0-11h0m-2-4h0m-2 20h0m0 8h0m-4-3h0m-4-15h0m-1 13h0m-2-29h0m-3 52h0m-3-29h0m-1 18h0m-1-13h0m-1 18h0m-1-5h0m-2-37h0m-3 48h0m-1-55h0m-1 42h0m0-11h0m-3 2h0m-2 4h0m-2 5h0m-4-29h0m-1 18h0m0 25h0m-5-9h0m0 5h0m-18-42h0m-1 35h0m-4 19h0m12 3h0m7 2h0m2-1h0m1-7h0m6 6h0m1-3h0m2 2h0m2 4h0m5 0h0m1-13h0m4 14h0m5-4h0m12-4h0" stroke="#6a1c81" stroke-width="13" stroke-linecap="round" fill="none"/>
<path transform="scale(.1)" d="M8725 1584h0m12 4h0m1 2h0m6 9h0m4-7h0m6-8h0m4 19h0m3 0h0m1 6h0m4-2h0m3 9h0m0 3h0m4-33h0m1 27h0m0-36h0m2 20h0m2-12h0m1 23h0m0-5h0m4 1h0m2 11h0m4-5h0m0-27h0m5 12h0m19 67h0m-26-30h0m-1 18h0m-1-20h0m-6 41h0m-4-18h0m-3-33h0m-1 40h0m-1-24h0m-1-2h0m-3-2h0m-3 43h0m0-35h0m0 1h0m-1-13h0m-1 4h0m0 14h0m-1-13h0m-1 24h0m-4-16h0m-1 30h0m-2-46h0m-1 37h0m-3 1h0m0-10h0m-2-11h0m-3 13h0m-12-12h0m-13-22h0m29 71h0m4 2h0m1-1h0m3 1h0m8-11h0m19 8h0m16-5h0" stroke="#3b0f70" stroke-width="13" stroke-linecap="round" fill="none"/>
<path transform="scale(.1)" d="M9193 1181h0m-10 15h0m-7-16h0m-8 12h0m-19-19h0m-46 50h0m24 10h0m3 22h0m5-17h0m5-9h0m2-13h0m3-7h0m2 41h0m2 7h0m10-17h0m15-26h0m2 12h0m6-16h0m11-8h0m16 11h0m-76 74h0m-21-25h0m-2 19h0m-10-6h0m-3 20h0m-8 2h0m-2-10h0m-9 23h0m-2-24h0m-12 26h0m-1 6h0m-16-23h0m-3 8h0m0 12h0m-73 57h0m3 7h0m12-1h0m5-22h0m4-27h0m15 25h0m0 20h0m3-22h0m7-12h0m1 21h0m0 1h0m2-18h0m14 7h0m3-18h0m11-13h0m5 41h0m1-32h0m21-7h0m-53 77h0m-69 39h0m-12-44h0m0-13h0m-8 11h0m-11 5h0m-1 39h0m-12-32h0m-13 25h0m-26-7h0m5 25h0m9 9h0m1 4h0m7-18h0m9 40h0m13-7h0m25-17h0m3-11h0" stroke="#2b1560" stroke-width="13" stroke-linecap="round" fill="none"/>
<path transform="scale(.1)" d="M9216 748h0m6-6h0m7 29h0m0-4h0m1-16h0m4-18h0m1 2h0m9 39h0m4-9h0m10-32h0m17 42h0m11-5h0m-16 28h0m-19-10h0m-31 15h0m-25 26h0m-28 28h0m17 29h0m11-27h0m9 32h0m11-44h0m8 3h0m13 38h0m16-35h0m8 12h0m2-17h0m13 13h0m28 28h0m-61 27h0m-26 36h0m-7-6h0m-6-38h0m-8 23h0m-32-24h0m13 86h0m25-22h0m3 1h0m13-8h0m3 1h0m7 18h0m1-11h0m0 99h0m-2-25h0m-20-11h0m-8-13h0m-15 38h0m-5 10h0m-11-24h0m-9 26h0m-35-5h0m-18 64h0m31-7h0m31-4h0m7-7h0m1 14h0m4-33h0m3 1h0m4 21h0m26 20h0m-75 13h0" stroke="#3b1a70" stroke-width="13" stroke-linecap="round" fill="none"/>
<path transform="scale(.1)" d="M9237 773h0m11 3h0m10-30h0m16 21h0m11 27h0m-13 32h0m-5-44h0m-43 42h0m-30 13h0m-16-33h0m43 84h0m27-10h0m2-10h0m2 30h0m2-41h0m-24 58h0m-12-9h0m-23-3h0m-4 15h0m-2 41h0m-10-26h0m4 60h0m23-1h0m13-20h0m3 39h0" stroke="#8c2981" stroke-width="13" stroke-linecap="round" fill="none"/>
<path transform="scale(.1)" d="M9621 365h0m-208 87h0m-672 309h0m-208 250h0m331 97h0m852 19h0m-568 251h0m-227 290h0m369 260h0" stroke="#f6a060" stroke-width="12" stroke-linecap="round" fill="none"/>
<path transform="scale(.1)" d="M9621 355h0m-842 463h0m984 329h0m-520 492h0m-95 241h0" stroke="#fdeeb0" stroke-width="12" stroke-linecap="round" fill="none"/>
<path transform="scale(.1)" d="M9867 413h0m38 309h0m95 193h0m-1041 96h0m662 0h0" stroke="#b63679" stroke-width="12" stroke-linecap="round" fill="none"/>
</g>
<g filter="url(#rg)">
<path d="M565 275.3C562.4 276 560.2 277.6 558.3 280C556.3 282.4 554.1 285.9 553.3 290C552.5 294.1 552.6 299.8 553.3 304.4C553.9 309 555.4 313.5 557.2 317.8C559 322.1 561.7 326.9 563.9 330C566.1 333.1 566.2 338.4 570.6 336.7C575 335 582.4 327.2 590 320C597.6 312.8 611.3 299.2 616.1 293.3C620.9 287.4 619.6 286.8 618.9 284.4C618.2 282 614.8 279.7 611.7 278.7C608.7 277.7 603.6 277.9 600.6 278.3C597.6 278.7 596.9 281.1 593.9 281.1C590.9 281.1 586.1 279.2 582.8 278.3C579.5 277.4 576.9 276.1 573.9 275.6C570.9 275.1 567.6 274.6 565 275.3Z" fill="#ffe10c"/>
<path d="M593.9 291.1C598.1 289.8 603.5 291.8 607.2 292.2C610.9 292.6 614.8 291.3 616.1 293.3C617.4 295.3 615.9 300.7 615 304.4C614.1 308.1 612.3 312.3 610.6 315.6C608.9 318.9 607.2 321.4 605 324.4C602.8 327.3 599.4 329.8 597.2 333.3C595 336.8 591.7 342.3 591.7 345.6C591.7 348.9 595.2 350.7 597.2 353.3C599.2 355.9 602 358.9 603.9 361.1C605.8 363.3 607.4 364.7 608.3 366.7C609.2 368.7 609.9 371.4 609.4 373.3C608.9 375.2 606.5 376.9 605 377.8C603.5 378.7 602.5 380 600.6 378.9C598.8 377.8 596.7 372.8 593.9 371.1C591.1 369.4 587.2 370.2 583.9 368.9C580.6 367.6 576.4 366.1 573.9 363.3C571.4 360.5 569.8 356.1 568.9 352.2C568 348.3 568 343 568.3 340C568.6 337 570.6 336.2 570.6 334.4C570.6 332.5 568.7 331.7 568.3 328.9C567.9 326.1 567.5 321.1 568.3 317.8C569 314.5 570.6 311.9 572.8 308.9C575 305.9 578.2 303 581.7 300C585.2 297 589.6 292.4 593.9 291.1Z" fill="#f89a1c"/>
<path d="M597.2 266.7C598.2 267.4 599.4 270.3 598.9 272.2C598.4 274.1 595.6 275.8 594.5 277.8C593.4 279.8 592.6 282.3 592.5 284.4C592.4 286.5 595.2 287.8 593.8 290.5C592.4 293.2 587 297.3 584 300.5C581 303.7 577.8 306.5 575.5 309.5C573.2 312.5 571.5 315.3 570.5 318.5C569.5 321.7 569.4 326.2 569.5 328.9C569.6 331.5 571.5 333.8 571.1 334.4C570.7 334.9 568.3 334 567.2 332.2C566.1 330.4 565 326.6 564.4 323.3C563.8 320 563.6 315.7 563.9 312.2C564.2 308.7 564.4 305 566.1 302.2C567.8 299.4 571.3 298.2 573.9 295.6C576.5 293 580.2 289.7 581.7 286.7C583.2 283.7 582.1 280.2 582.8 277.8C583.5 275.4 584.4 273.9 586.1 272.2C587.8 270.5 590.9 268.7 592.8 267.8C594.6 266.9 596.2 266 597.2 266.7Z" fill="#e8174b"/>
<path d="M616.1 316.5C618 316.5 620.7 317.5 622 318.8C623.3 320.1 624.7 321.4 624 324.4C623.3 327.3 620.8 332.9 618 336.5C615.2 340.1 609.7 343.4 607 346C604.3 348.6 602.6 349.6 602 352C601.4 354.4 604.2 359.8 603.5 360.5C602.8 361.2 599.8 358.3 598 356.5C596.2 354.7 594 351.3 592.6 349.5C591.2 347.7 589.4 347.9 589.5 345.6C589.6 343.3 591.2 338.9 593.5 335.5C595.8 332.1 600.6 328.2 603.5 325.5C606.4 322.8 608.6 320.5 610.7 319C612.8 317.5 614.2 316.5 616.1 316.5Z" fill="#9a6b1e"/>
<path d="M622.8 323.3C624.1 322.9 626.8 322.9 628.3 324.4C629.8 325.9 631.1 329.6 631.7 332.2C632.3 334.8 632.3 337.4 631.7 340C631.1 342.6 629.8 346.1 628.3 347.8C626.8 349.5 624.4 350.2 622.8 350C621.2 349.8 619.3 348.4 618.9 346.7C618.5 345 619.6 341.7 620.6 340C621.6 338.3 624.6 338.4 625 336.7C625.4 335 623.5 331.7 622.8 330C622.1 328.3 620.6 327.8 620.6 326.7C620.6 325.6 621.5 323.7 622.8 323.3Z" fill="#9a6b1e"/>
<path transform="scale(.1)" d="M6235 3232h0m-10 6h0m-24-55h0m-20 18h0m-56 25h0m-69 12h0m-22 36h0m5 9h0m1-18h0m3-17h0m2 45h0m19-30h0m40 2h0m11 0h0m18-11h0m10-5h0m1 12h0m55-6h0m6 12h0m7 14h0m4 8h0m2-4h0m-29 34h0m-76 23h0m-6 10h0m-27-24h0m-25-26h0m-4 2h0m-51 15h0m-1 5h0m-7 9h0m-5-29h0m-19 51h0m-47 63h0m9-4h0m15-4h0m43 0h0m13 6h0m3-8h0m3 6h0m18-24h0m20 6h0m47 23h0m41-51h0m-127 63h0m-58 18h0m-1 1h0m-5 7h0m-18-2h0m27 48h0m1-9h0m21 34h0m1-10h0m5-32h0m18 26h0m10-21h0m9 83h0m-6-26h0m-32-8h0m-12 1h0" stroke="#fff" stroke-width="11" stroke-linecap="round" fill="none"/>
<path transform="scale(.1)" d="M6199 3214h0m-112 55h0m10-21h0m4 11h0m25 39h0m24-29h0m44-15h0m-30 94h0m-24-21h0m-8-22h0m-55 11h0m-16 2h0m-11 15h0m-11 10h0m-39-32h0m-14 43h0m-23-14h0m83 65h0m62-27h0m42-13h0m-117 73h0m-10 18h0m-17-27h0m-76 38h0m84 14h0" stroke="#ffe10c" stroke-width="12" stroke-linecap="round" fill="none"/>
<path d="M675.6 258.3C677.5 258.3 680.3 258.6 682.2 259.6C684.1 260.6 686 262.5 687 264.5C688 266.5 687.4 269.1 688.4 271.5C689.4 273.9 693.5 278.1 693.3 278.9C693.1 279.6 688.8 275.7 687 276C685.2 276.3 683.4 278.2 682.3 280.5C681.2 282.8 681.4 286.3 680.6 290C679.8 293.7 678.9 298.2 677.4 302.5C675.9 306.8 674.1 311.7 671.8 316C669.5 320.3 666.5 324.7 663.8 328.5C661.1 332.3 658.3 335.5 655.6 338.6C652.9 341.7 650 345.2 647.4 347.2C644.8 349.2 641.9 349 640 350.5C638.1 352 637.1 355.4 636 356C634.9 356.6 633.1 356.2 633.6 354C634.1 351.8 636.9 346.2 638.8 343C640.7 339.8 643.2 338.3 645.2 335C647.2 331.7 649 326.8 650.6 323C652.2 319.2 653.8 315.8 655 312C656.2 308.2 657 304.2 657.8 300C658.6 295.8 659.1 291 659.6 286.7C660.1 282.4 660.2 278.2 661 274.4C661.8 270.6 663 266.5 664.6 264C666.2 261.5 668.8 260.6 670.6 259.6C672.4 258.7 673.7 258.3 675.6 258.3Z" fill="#86aee0"/>
<path d="M629.4 251.1C627 252.4 626 255 625 257.8C624 260.6 623.3 264.3 623.3 267.8C623.3 271.3 624.2 275.2 625 278.9C625.8 282.6 627.2 286.3 628.3 290C629.4 293.7 630.6 297.4 631.7 301.1C632.8 304.8 634.1 308.5 635 312.2C635.9 315.9 636.8 319.6 637.2 323.3C637.6 327 637.8 331.1 637.2 334.4C636.7 337.7 635 340.5 633.9 343.3C632.8 346.1 630.6 349.8 630.6 351.1C630.6 352.4 632.4 353 633.9 351.1C635.4 349.2 638.2 343.7 639.4 340C640.6 336.3 640.9 333.5 641.1 328.9C641.3 324.3 641.1 317.4 640.6 312.2C640.1 307 639.2 302.4 638.3 297.8C637.4 293.2 635.7 288.3 635 284.4C634.3 280.5 633.2 275.5 633.9 274.4C634.6 273.3 637.9 275.8 639.4 277.8C640.9 279.9 641.3 283.9 642.8 286.7C644.3 289.5 646.6 292.6 648.3 294.4C650 296.1 651.3 297.9 652.8 297.2C654.3 296.5 655.9 293.2 657.2 290C658.5 286.8 660.2 281.5 660.6 277.8C661 274.1 660.7 270.6 659.4 267.8C658.1 265 655 262.7 652.8 261.1C650.6 259.5 647.6 259.6 646.1 258.3C644.6 257 645 254.7 643.9 253.3C642.8 251.9 641.8 250.2 639.4 249.8C637 249.4 631.8 249.8 629.4 251.1Z" fill="#3b50a8"/>
<path d="M716.7 336.7C719.2 337.1 721.4 339.5 723.3 341.7C725.2 343.9 727.7 345.8 728.3 350C728.9 354.2 728.1 360.9 726.7 366.7C725.3 372.5 723.3 379.7 720 385C716.7 390.3 711.7 394.7 706.7 398.3C701.7 401.9 695 403.6 690 406.7C685 409.8 681.2 413.1 676.7 416.7C672.2 420.3 668.3 425.2 663.3 428.3C658.3 431.4 652.2 434.2 646.7 435C641.2 435.8 634.7 434.7 630 433.3C625.3 431.9 621.1 430 618.3 426.7C615.5 423.4 614.4 416.4 613.3 413.3C612.2 410.2 610 409.1 611.7 408.3C613.4 407.5 619.1 408.6 623.3 408.3C627.5 408 631.7 408.4 636.7 406.7C641.7 405 647.8 401.4 653.3 398.3C658.8 395.2 665 390.5 670 388.3C675 386.1 680 386.4 683.3 385C686.6 383.6 689.3 383.1 690 380C690.7 376.9 687.2 370.9 687.5 366.7C687.8 362.5 689.6 358.3 691.7 355C693.8 351.7 697.3 349.4 700 346.7C702.7 344 705.2 340.7 708 339C710.8 337.3 714.2 336.2 716.7 336.7Z" fill="#b6d63f"/>
<path d="M708 339C705.8 339.3 702.7 344 700 346.7C697.3 349.4 693.8 351.7 691.7 355C689.6 358.3 687.8 362.5 687.5 366.7C687.2 370.9 690.7 376.9 690 380C689.3 383.1 686.6 383.6 683.3 385C680 386.4 675 386.1 670 388.3C665 390.5 658.8 395.2 653.3 398.3C647.8 401.4 641.7 405 636.7 406.7C631.7 408.4 627.5 408 623.3 408.3C619.1 408.6 612.8 407.5 611.7 408.3C610.6 409.1 613.7 411.6 616.7 413.3C619.8 415 625.6 417.2 630 418.3C634.4 419.4 640 420.6 643.3 420C646.6 419.4 646.7 417.2 650 415C653.3 412.8 658.3 409.8 663.3 406.7C668.3 403.6 674.4 399.5 680 396.7C685.6 393.9 692.2 392.5 696.7 390C701.2 387.5 704.2 385.9 706.7 381.7C709.2 377.5 710.6 371.1 711.7 365C712.8 358.9 713.9 349.3 713.3 345C712.7 340.7 710.2 338.7 708 339Z" fill="#57b94a"/>
<path transform="scale(.1)" d="M7201 3461h0m0 0h0m-32-6h0m-24 8h0m-12 15h0m-1-9h0m-23-8h0m-2 18h0m-38 29h0m2 20h0m27-29h0m4 18h0m5-20h0m17 3h0m1 14h0m0 15h0m1-16h0m4 23h0m3-46h0m17 44h0m10-28h0m4 33h0m0-51h0m19 23h0m7 15h0m-39 53h0m-3-15h0m-1 1h0m-3-2h0m-5 6h0m-5 7h0m-5-36h0m-1 28h0m-6 16h0m-3-17h0m-3 2h0m-9 3h0m-4-32h0m-6 43h0m-20-23h0m1 98h0m12 1h0m0-30h0m2 15h0m7-29h0m11 22h0m6-18h0m9 34h0m2-24h0m2 12h0m6-40h0m39 30h0m-32 82h0m-2-8h0m-7 14h0m-2-20h0m-1-19h0m-4 14h0m-12 5h0m-1-2h0m-1 11h0m-2 0h0m-2-10h0m-1 13h0m-6-14h0m-10-25h0m-7 14h0m-4 14h0m-1-2h0m-23 10h0m-9-27h0m-29 88h0m23-44h0m11 51h0m5 1h0m0-40h0m1 39h0m0-32h0m3 1h0m6 29h0m3-43h0m1 0h0m2 16h0m7-13h0m3 3h0m1 4h0m2 9h0m0-17h0m0 16h0m2 2h0m14-4h0m0 1h0m8-16h0m0 13h0m16-20h0m-14 67h0m-16 4h0m0-15h0m-3 20h0m-5-2h0m-4 11h0m-2 28h0m-5-4h0m-1-42h0m-15 18h0m-2-14h0m-2 42h0m0-10h0m-4 9h0m0 1h0m-1-27h0m-1 26h0m-3-32h0m-1 23h0m0 5h0m-2 4h0m-1-28h0m-4 25h0m-3-22h0m-7-28h0m-8 38h0m-2 4h0m-1-35h0m-1 9h0m-1-8h0m-10 35h0m-17 6h0m-1 1h0m-1-23h0m-156 60h0m11 21h0m29-11h0m1 6h0m27-21h0m18-5h0m8 18h0m8 3h0m3-3h0m13-12h0m3 26h0m1-6h0m9-46h0m5 34h0m3 6h0m2-5h0m2 19h0m2-6h0m6-3h0m8-17h0m4-11h0m20 33h0m6-15h0m0-21h0m4 20h0m2-28h0m6-3h0m0 34h0m2-8h0m7 14h0m2-26h0m13-13h0m9-4h0m16 25h0m2-7h0m14-1h0m-69 57h0m-6 25h0m-19-29h0m-5-1h0m-27 30h0m-10-15h0m-25 16h0m-3-24h0m-9-7h0m-1-10h0m-2 16h0m-10 4h0m-3 11h0m0-8h0m-1 23h0m-3 6h0m-3-8h0m-1-32h0m-17 41h0m-1-15h0m0 13h0m-16-40h0m0-2h0m-1 41h0m-3-5h0m-5 4h0m-1 5h0m-3-42h0m-1 28h0m-6 14h0m-23-17h0m-1 6h0m-20 10h0m-11 3h0m-48 1h0m-15-20h0m-25-6h0m-84 88h0m65-6h0m18-30h0m0 24h0m0-21h0m6 29h0m3-30h0m1 6h0m5-1h0m6 19h0m0-41h0m5 30h0m0-3h0m0 7h0m20 10h0m1-5h0m6-33h0m0 33h0m0-10h0m2-7h0m2-10h0m0 36h0m16-36h0m2-9h0m3-7h0m3 42h0m0-41h0m3 19h0m3 26h0m15-32h0m5 12h0m6-8h0m5-20h0m4 17h0m1 9h0m5-5h0m1-19h0m5-4h0m24 24h0m1-23h0m11 8h0m1-2h0m17 23h0m35-12h0m8 9h0m-135 51h0m-49-15h0m-9 40h0m-13-38h0m-14 1h0m-1 28h0m-10-29h0m-1-1h0m-13 30h0m-6-12h0m-1 6h0m-2-14h0m-5-4h0m-1 25h0m-1 16h0m-1-39h0m-4-7h0m-2 51h0m-8-32h0m-2-2h0m-2 25h0m-5-4h0m0-14h0m-3 24h0m-4-11h0m0 13h0m-9-11h0m-13 1h0m-1-44h0m-5 17h0m-19 23h0m-69 10h0m-7-13h0m-340 53h0m35-10h0m19 26h0m5-9h0m32 12h0m2-7h0m58 13h0m15 3h0m127-11h0m20 9h0m5-13h0m16 7h0m14-44h0m1 23h0m13-23h0m7 7h0m13 11h0m4 33h0m12-35h0m0-20h0m10 35h0m1 1h0m1-17h0m4-4h0m8 13h0m3 21h0m16-22h0m6-19h0m3-10h0m1 12h0m4 12h0m7-11h0m11 12h0m8-21h0m3-3h0m-75 60h0m-9-1h0m-10 13h0m-17-3h0m-7 10h0m-8-20h0m-6 15h0m-2-4h0m-3 3h0m-2 21h0m-4 7h0m-4-27h0m-12-13h0m-3 14h0m-2-4h0m-18 4h0m-3 40h0m-2-24h0m-2 11h0m-3 15h0m-4-12h0m-3-1h0m-8 5h0m-5-31h0m-2 3h0m-2 21h0m-1 15h0m-2-29h0m-1 11h0m-12 1h0m-5 6h0m-5 3h0m-5-39h0m-9 11h0m0-1h0m-3 25h0m0-1h0m-4-14h0m-3 13h0m-6 13h0m-9-6h0m-2-4h0m-1-6h0m-1 17h0m-2-5h0m-14-24h0m-8 24h0m-1 5h0m-9-15h0m-10-28h0m-8-1h0m-5 9h0m-2 19h0m-9-35h0m-2 33h0m-12-6h0m-3 11h0m0-22h0m-5-22h0m-25 45h0m-1 12h0m-3-54h0m-5 23h0m-4-12h0m-4 1h0m-4 15h0m-1 25h0m-1-6h0m-6-31h0m0 16h0m0-27h0m-1 15h0m-2 21h0m-1-33h0m-3 32h0m-26-11h0m-1-10h0m-1 12h0m-1-30h0m-2 0h0m-4 14h0m-1-9h0m-4-1h0m-18 22h0m-4-14h0m71 50h0m53-3h0m13 21h0m55 12h0m15-26h0m3-9h0m5 56h0m3-47h0m1 26h0m6-14h0m6 17h0m7-36h0m0-2h0m23 49h0m17-42h0m10 7h0m12 1h0m34-5h0m2 28h0m-93 24h0" stroke="#57b94a" stroke-width="12" stroke-linecap="round" fill="none"/>
<path transform="scale(.1)" d="M7139 3464h0m-2-11h0m-18 26h0m-6-15h0m-21-4h0m32 22h0m1 50h0m4-41h0m1 5h0m9 21h0m20 13h0m-10 18h0m-25 34h0m-14-32h0m-24 80h0m13 9h0m4-34h0m4 32h0m9-15h0m1 30h0m0-11h0m3-13h0m4-6h0m6 21h0m29-32h0m-19 55h0m-12 4h0m-1 26h0m-1-14h0m0 4h0m-12 5h0m-8 0h0m-6-6h0m-4 11h0m-7-18h0m-26 101h0m17-11h0m13-29h0m3-11h0m19-5h0m-29 65h0m-9-6h0m-2 3h0m-2 47h0m-23-19h0m-8 3h0m-1-24h0m-6 14h0m-6 26h0m-98 54h0m30-9h0m1 10h0m4 8h0m11-14h0m8 16h0m1-28h0m2 17h0m8-4h0m0-21h0m4 5h0m6-6h0m5-16h0m9 23h0m12 7h0m19-9h0m-60 46h0m-31 15h0m-15-25h0m-7 15h0m-50 15h0m-6 4h0m-10 3h0m-12 12h0m-2-27h0m0-1h0m-12 9h0m-32 20h0m-12 7h0m-130 55h0m16-10h0m23 5h0m1-25h0m11 20h0m2 7h0m1-12h0m7-17h0m5 11h0m16-1h0m9-15h0m3 31h0m7-35h0m9-11h0m80 2h0m-134 64h0m-4 3h0m-5 1h0m-16 13h0m-3-23h0m-1 5h0m-14 13h0m-16 8h0m-2 1h0m-9 14h0m-26 4h0m-13 13h0m-15-11h0m-27 1h0m-19 7h0m-356 62h0m12-10h0m5 6h0m257 1h0m47-10h0m14 14h0m1-6h0m1 0h0m2-19h0m5 18h0m2-14h0m23 3h0m6 0h0m1-11h0m18-5h0m6 3h0m19-10h0m14-13h0m20 11h0m2-9h0m-134 95h0m-2-30h0m-10 0h0m-19 9h0m-17-6h0m-1 13h0m-3-26h0m-1 53h0m-14-52h0m-7 27h0m-1 8h0m-6 0h0m-58 18h0m-16-16h0m-18 4h0m-4-6h0m-5 3h0m-5 11h0m-13 2h0m-2-28h0m-25 13h0m-12 1h0m-8 3h0m-6-17h0m-2 21h0m-11-21h0m-4 10h0m-4-10h0m-27-20h0m-7 4h0m-45 4h0m176 65h0" stroke="#b6d63f" stroke-width="12" stroke-linecap="round" fill="none"/>
<path d="M720 281.1C721.1 281.5 726.5 283.9 728.9 286.7C731.3 289.5 732.9 294.1 734.4 297.8C735.9 301.5 736.8 305.6 737.8 308.9C738.8 312.2 740.6 315.2 740.6 317.8C740.6 320.4 739.4 322.7 737.8 324.4C736.2 326.1 733.7 327.4 731.1 327.8C728.5 328.2 725.2 326.7 722.2 326.7C719.2 326.7 716.3 327.1 713.3 327.8C710.3 328.5 707.3 329.8 704.4 331.1C701.5 332.4 698.5 334.1 695.6 335.6C692.7 337.1 689.7 338.7 686.7 340C683.7 341.3 679.6 343 677.8 343.3C676 343.6 676 342.6 676 342C676 341.4 676.9 341.3 677.8 340C678.6 338.7 679.6 336.6 681.1 334.4C682.6 332.2 684.9 329.3 686.7 326.7C688.6 324.1 690 321.5 692.2 318.9C694.4 316.3 697.4 313.5 700 311.1C702.6 308.7 705 306.6 707.8 304.4C710.6 302.2 714.5 299.8 716.7 297.8C718.9 295.8 720.2 294.4 721.1 292.2C722 290 722.4 286.2 722.2 284.4C722 282.5 718.9 280.7 720 281.1Z" fill="#20b6a7"/>
<path d="M703.3 257.8C705.9 257.3 709.8 258.3 712.2 259.4C714.6 260.5 716.5 262.3 717.8 264.4C719.1 266.5 719.7 269.6 720 272.2C720.3 274.8 720 277.3 719.6 280C719.2 282.7 718.7 285.5 717.6 288.2C716.5 290.9 715 293.5 713 296C711 298.5 708.1 300.7 705.5 303C702.9 305.3 700 307.4 697.5 310C695 312.6 692.5 315.7 690.5 318.5C688.5 321.3 687.4 324.1 685.5 327C683.6 329.9 680.9 333.5 679.4 336C677.9 338.5 677.4 341.5 676.7 342.2C676 342.9 675.5 341.3 675.4 340C675.3 338.7 675.9 337 676.4 334.4C676.9 331.8 677.5 328.3 678.6 324.4C679.7 320.5 681.5 315.5 683 311.1C684.5 306.7 686 302.2 687.4 297.8C688.8 293.4 690.5 288.5 691.6 284.4C692.7 280.3 693.2 277 694 273.3C694.8 269.6 695 264.8 696.5 262.2C698 259.6 700.7 258.3 703.3 257.8Z" fill="#0d857f"/>
<path d="M706.7 270C708.5 269.2 711.7 270.3 713.3 271.1C714.9 271.9 716.6 273.9 716.2 275C715.8 276.1 712.7 275.9 711.1 277.5C709.5 279.1 708.2 282.3 706.7 284.4C705.2 286.5 703.7 288.7 702.2 290C700.7 291.3 697.9 293.1 697.5 292.2C697.1 291.3 699.1 287.2 700 284.4C700.9 281.6 701.5 278 702.6 275.6C703.7 273.2 704.9 270.8 706.7 270Z" fill="#fff"/>
<path transform="scale(.1)" d="M7156 2747h0m-19-29h0m-9 28h0m-7-1h0m-7 3h0m-4-33h0m-4 42h0m-3-31h0m-2 13h0m-2-13h0m-2-17h0m-5 10h0m-2 1h0m-19-3h0m-25 19h0m-10 7h0m-14 74h0m2-8h0m3-23h0m1 33h0m1-10h0m1-26h0m3-8h0m7 5h0m15 1h0m12 36h0m17-7h0m-19 27h0m-7 8h0m-10-6h0m-3 7h0m-7 12h0m-1 7h0m-1-10h0m-7 11h0m-19 10h0m-18 1h0m9 10h0m23 2h0m1-6h0" stroke="#0d857f" stroke-width="12" stroke-linecap="round" fill="none"/>
<path d="M676 341C674.5 341.4 671 343.6 667.8 345.6C664.6 347.7 660.4 350.9 656.7 353.3C653 355.7 649.2 357.6 645.6 360C642 362.4 638.1 365.8 635 368C631.9 370.2 630.3 371 626.7 373.3C623.1 375.6 617.2 379.2 613.3 381.7C609.4 384.2 605.5 386.1 603.3 388.3C601.1 390.5 600.4 392.9 600 395C599.6 397.1 600.2 399.4 601 401C601.8 402.6 603 403.6 605 404.5C607 405.4 609.7 407.4 613.3 406.7C616.9 405.9 621.7 403.1 626.7 400C631.7 396.9 637.8 392.8 643.3 388.3C648.8 383.9 655.9 377.1 660 373.3C664.1 369.5 665.6 368.1 667.8 365.6C670 363.1 671.6 361.1 673.3 358.3C675 355.5 677.2 351.4 677.8 348.9C678.4 346.3 677.3 344.3 677 343C676.7 341.7 677.5 340.6 676 341Z" fill="#0d857f"/>
<path d="M676 341C674.5 341.4 671 343.6 667.8 345.6C664.6 347.7 660.4 350.9 656.7 353.3C653 355.7 649.2 357.6 645.6 360C642 362.4 638.1 365.8 635 368C631.9 370.2 630.3 371 626.7 373.3C623.1 375.6 617.2 379.2 613.3 381.7C609.4 384.2 605.5 386.1 603.3 388.3C601.1 390.5 599.2 393.3 600 395C600.8 396.7 605.2 398.9 608.3 398.3C611.3 397.8 613.8 394.5 618.3 391.7C622.8 388.9 629.4 385.3 635 381.7C640.6 378.1 646.4 374.2 651.7 370C657 365.8 662.5 361.1 666.7 356.7C670.9 352.2 675.2 345.9 676.7 343.3C678.2 340.7 677.5 340.6 676 341Z" fill="#20b6a7"/>
<path transform="scale(.1)" d="M6764 3442h0m-2-8h0m-3 35h0m-1-31h0m-5 20h0m0-27h0m-7 27h0m-1-23h0m-7-4h0m-3 45h0m-20-10h0m-1 8h0m-2-12h0m-43 74h0m8-11h0m5 9h0m2 3h0m8-8h0m3-25h0m6 32h0m3-11h0m8-14h0m1 1h0m4-28h0m1 16h0m0 2h0m0 8h0m6 0h0m0-20h0m1 9h0m14-8h0m-47 60h0m-5 15h0m-1-25h0m-1 47h0m-1-25h0m-2-15h0m-7-7h0m-5-1h0m-11 33h0m-4 6h0m-3 20h0m-2-7h0m-5 7h0m-114 45h0m41-7h0m7 0h0m5 11h0m16-25h0m7-2h0m2-5h0m3 9h0m3-15h0m3 11h0m2 13h0m0-32h0m4 22h0m10-3h0m7-20h0m5 0h0m-40 60h0m-39 1h0m-8 16h0m-3-8h0m-7 12h0m-1-10h0m-9 25h0m-4-21h0m-1 12h0m-5-14h0m-5 18h0m-3-6h0m-1 29h0m-1-16h0m0-4h0m-2 15h0m-12-7h0m-6 9h0m-2 4h0m-1-9h0m0 0h0m-3-3h0m-5 1h0m-1 8h0m-4-3h0m-6-3h0m-23-2h0m-72 74h0m27-3h0m22-14h0m1-1h0m10-35h0m2 26h0m1 12h0m4-28h0m0 6h0m4 25h0m4-21h0m2 5h0m20-12h0m12-9h0m10 0h0m7 7h0m-71 44h0m-15 9h0m-10 2h0m-1 14h0m-5-18h0m-3 3h0m-1 6h0m0-12h0m-16 31h0m-4-28h0m-6 20h0m-4 0h0m-2-1h0m-5 25h0m0-20h0m-9 2h0m-2-16h0m-4 11h0m-3 11h0m-2-4h0m-2 18h0m0-16h0m-2-1h0m-1 6h0m-3-1h0m0 1h0m-3 9h0m-5 1h0m0 5h0m-1-12h0m0 2h0m-1 3h0m-2-2h0m0-4h0m-2 13h0m-24-6h0m-1 5h0m-1-7h0m-1 3h0m-3 5h0m-16-2h0m-86 57h0m4-9h0m3 10h0m28 1h0m4 3h0m10-21h0m4 8h0m1 9h0m3-40h0m7-1h0m8 10h0m4 17h0m8-7h0m4 0h0m8-29h0m3 7h0m26 39h0m6-47h0m20-3h0m-118 74h0m-10-6h0m-3 19h0m-2-13h0m-3-10h0m-1 15h0m-1-9h0m-4-9h0m-3 25h0m-1-7h0m-8 0h0m-1-4h0m-10 1h0m-5 28h0m-4-30h0m-4 3h0m-9 24h0m-1-11h0m-4 10h0m-3-14h0m-4-9h0m-2 25h0m-1-26h0m0 42h0m-12-9h0m-3-9h0m0 18h0m-15-20h0m-43 19h0m8 10h0m13 5h0m4 25h0m10-29h0m6-1h0m8 6h0m9-8h0m10 13h0" stroke="#0d857f" stroke-width="12" stroke-linecap="round" fill="none"/>
<path transform="scale(.1)" d="M6763 3441h0m-8 16h0m-6-24h0m-9 22h0m-1 23h0m-7-37h0m-32 37h0m-15 59h0m16-41h0m0 14h0m1-24h0m4 7h0m2-6h0m6 14h0m7-7h0m1-1h0m8 7h0m18-5h0m3-8h0m-47 60h0m-14-4h0m-8 8h0m-12 9h0m-2-1h0m-6 2h0m-17 37h0m-2-5h0m-3-10h0m-3-1h0m-34 13h0m-47 42h0m4 13h0m4-14h0m1 11h0m12-30h0m18-3h0m10-6h0m6 25h0m0-14h0m14-10h0m-49 59h0m-14 12h0m-8 6h0m-15-3h0m-22 3h0m-3 10h0m-1-10h0m-1 23h0m0-1h0m-7-12h0m0-13h0m-10 26h0m-22 8h0m-69 56h0m14 5h0m1-43h0m5 23h0m5 6h0m19-33h0m16 32h0m6-12h0m18-15h0m2-14h0m10 3h0m5 10h0m-72 53h0m-31-7h0m-18 13h0m-15 7h0m-6-16h0m-10 31h0m-4-6h0m-1 15h0m-18 3h0m-21 9h0m-95 52h0m4-7h0m5-17h0m12-5h0m6 6h0m7 11h0m2-16h0m10-1h0m12 10h0m8-8h0m20-8h0m0-1h0m10 10h0m18-16h0m-93 61h0m-4-4h0m-27 1h0m-3 39h0m0-29h0m-4 4h0m-3 5h0m-5 12h0m0-3h0m-6-31h0m0 6h0m-10 1h0m-3 45h0m-6-31h0m-3 26h0m-8-29h0m-2 30h0m-1-11h0m-1-28h0m-9 5h0m-5 20h0m-2 22h0m-2-13h0m-5 10h0m-29-5h0m-3 4h0m-16 18h0m24-4h0m2 6h0m1 12h0m6-16h0" stroke="#20b6a7" stroke-width="12" stroke-linecap="round" fill="none"/>
<path transform="scale(.1)" d="M7134 2983h0m-80 76h0m24-1h0m4-12h0m3-5h0m17-9h0m9 10h0m3-27h0m6-4h0m2-1h0m3-4h0m8 0h0m7 2h0m7-4h0m-64 65h0m-5-8h0m-3 29h0m-8-23h0m-1 4h0m-22 31h0m0-25h0m-18 7h0m-8 33h0m-25 2h0m-11-4h0m-48 56h0m3 1h0m2-2h0m3 6h0m0-16h0m3 15h0m4-11h0m4-7h0m7 2h0m4-21h0m5-10h0m3 29h0m3-33h0m2 14h0m1 9h0m1-22h0m5 1h0m0 26h0m-45 50h0m-19 5h0m-4-5h0m-2-1h0m-5 7h0m-3 16h0m-4-23h0" stroke="#fff" stroke-width="11" stroke-linecap="round" fill="none"/>
<path transform="scale(.1)" d="M6571 3647h0m7-11h0m7-2h0m18-9h0m-66 37h0m-15 16h0m-14 16h0m-8 13h0m-3-19h0m-8-1h0m-74 75h0m3 16h0m2-33h0m0 27h0m14-27h0m18 20h0m1-15h0m9-15h0m16-15h0m2 5h0m3 9h0m10-7h0m-106 63h0m-21 19h0m-3-19h0m-2 17h0m-5 13h0m-19 13h0m-8-18h0m-2 23h0" stroke="#fff" stroke-width="12" stroke-linecap="round" fill="none"/>
<path transform="scale(.1)" d="M7019 3029h0m5-11h0m22-9h0m16 18h0m42 2h0m12-21h0m17 34h0m1-15h0m1 15h0m-58 53h0m-15 17h0m-4-43h0" stroke="#fff" stroke-width="10" stroke-linecap="round" fill="none"/>
<path d="M632 351C630.3 353.1 625.4 359.5 621.7 363.3C618 367.1 612 372.2 610 374" fill="none" stroke="#3b50a8" stroke-width="1.6" stroke-linecap="round"/>
<path transform="scale(.1)" d="M6277 3536h0m9-2h0m1-12h0m3 16h0m4-10h0m3-18h0m2 25h0m5-16h0m3 3h0m3-9h0m0-3h0m3 21h0m5-11h0m8 5h0m3-1h0m-13 16h0m-11 19h0m-2-11h0m-4 20h0m-5-20h0m-2 29h0m-2-37h0m-3 12h0m-3 0h0m-1 7h0m-2-15h0m-1 20h0m0 26h0m-1-43h0m0 31h0m0-14h0m-3-10h0m0-8h0m0 4h0m-2 16h0m-1 8h0m0-9h0m-1 30h0m-1 1h0m-1 3h0m-1-40h0m-1 6h0m-3 10h0m-3-2h0m-3-3h0m0 12h0m-1-23h0m0 5h0m-1 25h0m-1-38h0m-5 30h0m-2 5h0m-1 9h0m-1-15h0m-3 4h0m-2 7h0m-1-7h0m0 9h0m-6-29h0m-7 20h0m-89 75h0m5-11h0m17-6h0m8 1h0m4 12h0m1 4h0m3-3h0m5-11h0m3 5h0m8-6h0m10-4h0m2 8h0m1-6h0m1 15h0m1-39h0m0 16h0m2 6h0m4-1h0m0-21h0m1 17h0m3-27h0m0 32h0m1-2h0m0 6h0m4-29h0m0-5h0m1 11h0m2-16h0m3 1h0m1 24h0m0-12h0m3 21h0m3-6h0m1-23h0m0 39h0m2-36h0m1 26h0m3-28h0m0-10h0m1 31h0m3-18h0m2-14h0m2 16h0m11-13h0m-26 57h0m-14 1h0m-15 5h0m-2 4h0m-2-8h0m-7 1h0m-2 0h0m-3 23h0m-3 6h0m-1 9h0m-3-22h0m-3-10h0m-1-3h0m-3 52h0m-3-38h0m0-8h0m-2 17h0m-3 0h0m-2-22h0m-3 7h0m-2 24h0m-1 1h0m-1-16h0m0-4h0m-2 31h0m-1 9h0m-1-55h0m-1 24h0m0-4h0m-1-4h0m-1 22h0m-2-17h0m-1 11h0m0-2h0m-3-6h0m0 20h0m-1-25h0m-2 18h0m-1-25h0m-3 5h0m-2 27h0m-2 2h0m0-25h0m-2 30h0m-3-19h0m0 14h0m-3-15h0m-7 20h0m-2-30h0m-2 30h0m-1-23h0m-1-13h0m-27 12h0m-2 26h0m-58 52h0m13 1h0m4 2h0m22-18h0m0 7h0m1 6h0m0 1h0m2-11h0m1-4h0m1 13h0m0-15h0m3 20h0m5-18h0m1 20h0m1-11h0m0-22h0m1 28h0m2-19h0m1 11h0m0-1h0m1-3h0m1 3h0m5-23h0m2 17h0m7-11h0m4 3h0m1 27h0m1-17h0m0-30h0m4 25h0m1-6h0m4-8h0m2 1h0m6 3h0m1 33h0m1-20h0m2-28h0m17 2h0m5 15h0m-61 50h0m-4 8h0m-1-18h0m-3-2h0m-3 7h0m-1 18h0m-8-9h0m-3-16h0m-3 5h0m-2 5h0m-4 44h0m-1-20h0m-1-20h0m0 34h0m-4-3h0m-1-36h0m-3 23h0m-1 21h0m0-28h0m-1 22h0m-1-42h0m-1 10h0m0 44h0m-2-31h0m0 11h0m-4 9h0m-5 11h0m-3-45h0m-3 28h0m0 0h0m-1-22h0m-2 13h0m-9-7h0m-9-5h0m-9 22h0m-2-2h0m-6 15h0m-2 2h0m-21 58h0m0-19h0m8 18h0m11-32h0m0 25h0m1-40h0m4 49h0m3-5h0m5-48h0m1 1h0m0 44h0m3-14h0m3-17h0m0-3h0m2 10h0m1-7h0m1-3h0m0 40h0m0-42h0m1 40h0m0-49h0m1 31h0m0-3h0m1 15h0m0-20h0m5 25h0m5-40h0m1 17h0m0 0h0m1-17h0m1 37h0m0-10h0m2-30h0m5 18h0m2 1h0m2 16h0m10-35h0m1 21h0m0 6h0m3-26h0m3-5h0m3 5h0m-23 69h0m-3 22h0m-8-24h0m0 10h0m-3 12h0m-2-29h0m0 18h0m-2-12h0m-1 8h0m-7 31h0m-2-48h0m-3 28h0m-2-25h0m-2 38h0m0-31h0m-2 3h0m-3-18h0m0 1h0m-2 13h0m-6 0h0m-2 7h0m0 0h0m-2-16h0m-1 0h0m-1 47h0m-2 3h0m-4-32h0m0-19h0m-1-3h0m-9 30h0m-9 20h0m-2 26h0m12 4h0m1 21h0m10-37h0m1 5h0m1-6h0m0-3h0m4 49h0m5-49h0m1 8h0m8 11h0m8 5h0m1-25h0m2 2h0m4 36h0m1-34h0m1 6h0m0 32h0m1-29h0m3-14h0m2 44h0m10-27h0" stroke="#3b50a8" stroke-width="13" stroke-linecap="round" fill="none"/>
<path transform="scale(.1)" d="M6102 3835h0m-35-7h0m-13-5h0m-6 16h0m-4-3h0m-1-17h0m-2-10h0m-24 19h0m-5 6h0m-18 58h0m5-13h0m7-27h0m0-3h0m8-1h0m1-5h0m19 46h0m2-44h0m4 47h0m5-46h0m2 8h0m9 43h0m7-46h0m1 31h0m5 2h0m0 13h0m9-48h0m11 26h0m13 12h0m15-27h0m7-11h0m6 45h0m6-11h0m4-16h0m4 64h0m-11 1h0m-1-14h0m-8 28h0m-4-5h0m-6-34h0m-1 37h0m-2-14h0m-25 7h0m-2 0h0m-12 16h0m-3-42h0m-15 32h0m-17 15h0m-6-52h0m-2 38h0m-35-8h0m-18 14h0m17 11h0m4 6h0m8 37h0m9-17h0m4-4h0m16-8h0m27 38h0m5-48h0m14 54h0m8 0h0m8-45h0m4 23h0m4-36h0m13 50h0m0 7h0m7-2h0m0-29h0m1 11h0m2 16h0m5-24h0m5 10h0m6-10h0m0-22h0m-11 80h0m-5-10h0m-12 11h0m-3-21h0m-9 11h0m-6 4h0m-4-6h0m-13 11h0m-11 0h0m-3 9h0m-1-21h0m-9 23h0m-2-39h0m-13 4h0m-14 14h0m-8-6h0" stroke="#3b50a8" stroke-width="13" stroke-linecap="round" fill="none"/>
<path transform="scale(.1)" d="M6092 3834h0m-7-3h0m-25-11h0m-22 4h0m-5 10h0m-27 3h0m-1-14h0m-4 4h0m-8 7h0m-13 32h0m25 14h0m5-12h0m1-26h0m1 53h0m4-45h0m17 17h0m3 32h0m2-26h0m11-2h0m10-25h0m2 9h0m28 12h0m5 30h0m16-40h0m19-1h0m2 3h0m12 54h0m-24-4h0m-10 28h0m-3-22h0m-16-13h0m-15 57h0m0-19h0m-6-16h0m-34 25h0m-1-35h0m-1-6h0m-39-8h0m-2 56h0m-16-12h0m3 20h0m11 12h0m41 35h0m28-21h0m27 10h0m15 9h0m3 2h0m3-51h0m17 17h0m1-8h0m8 28h0m1-23h0m0 10h0m7 44h0m-27 41h0m-32-44h0m-10 0h0m-2 15h0m-19-12h0m-18 2h0" stroke="#86aee0" stroke-width="13" stroke-linecap="round" fill="none"/>
<path transform="scale(.1)" d="M6444 3464h0m-18-3h0m-80 60h0m17 6h0m3-12h0m10 22h0m10-13h0m0 4h0m2 6h0m6-10h0m7-3h0m13-20h0m4 5h0m6-5h0m3-10h0m12 47h0m2-48h0m2-6h0m2 0h0m1 2h0m2 0h0m8 31h0m0-30h0m2 0h0m3 3h0m1 3h0m1-2h0m1 15h0m11-17h0m-54 56h0m-33 18h0m-11 19h0m-3-32h0m-13 7h0m0 4h0m-1 22h0m-2 11h0m-2 3h0m-7-53h0m-7 20h0m-9 30h0m-6-22h0m-1 13h0m-30 11h0m-14-10h0m-88 61h0m24 12h0m19-16h0m3-6h0m16-7h0m8 10h0m1 0h0m10-23h0m10 19h0m19-12h0m-50 51h0m-13 7h0m-6 20h0m0-35h0m-1-2h0m-4 0h0m-8 0h0m-9 16h0m-4 17h0m-5-12h0m-2 30h0m0-44h0m-9-5h0m0 36h0m-3-23h0m-5 13h0m-5 16h0m-1-15h0m-3 9h0m-19 10h0m-5-15h0m-20-2h0m-11 67h0m12-26h0m2 20h0m3-18h0m4 23h0m1 15h0m10-24h0m1-6h0m4-18h0m7 22h0m4-1h0m7-10h0m3 18h0" stroke="#86aee0" stroke-width="13" stroke-linecap="round" fill="none"/>
<path transform="scale(.1)" d="M6060 3940h0m-3-36h0m-30 45h0m-2-13h0m-5 15h0m-18-2h0m-2-7h0m-1-7h0m-1 13h0m-17-13h0m-1 8h0m27 46h0m3-11h0m3-5h0m8 30h0m4-27h0m0 31h0m2-30h0m1-8h0m14-7h0m1 19h0m4 4h0m5-22h0m0 52h0m2-5h0m3-46h0m5 51h0m14-9h0m77 67h0m-16 4h0m-1-22h0m-9 8h0m-1 15h0m-8-49h0m-3 21h0m-3 11h0m-17 1h0m-7-5h0m-2-7h0m-2-27h0m-3 43h0m-2-24h0m-2-2h0m-3 8h0m-6-17h0m-1 4h0m-5 1h0m-5 25h0m0-2h0m-7-29h0m-1-6h0m-3 4h0m-2-5h0m-8-2h0m-24 8h0m89 55h0m18 29h0m12-20h0m7-4h0m20-4h0" stroke="#3b50a8" stroke-width="13" stroke-linecap="round" fill="none"/>
<path transform="scale(.1)" d="M5969 2921h0m58 59h0m-5 1h0m-17 5h0m-148 14h0m28 11h0m41 31h0m110 3h0m62 32h0m-5 4h0m-107 38h0m-39-48h0m-47-3h0m-17 1h0m-34 5h0m-28 2h0m-5 9h0m-30-11h0m119 92h0m103-21h0m53 40h0m-142 36h0m-25-24h0m-14 4h0m-146-14h0m-2 46h0m-34-22h0m10 48h0m5-11h0m48-4h0m22 52h0m15-19h0m6-29h0m4 42h0m34-32h0m70 2h0m61 12h0m14 35h0m-46 4h0m-21 47h0m-21-39h0m-3 39h0m-23-34h0m-48 17h0m-75 67h0m5-9h0m61 16h0m58-41h0m25 64h0m-195 18h0m124 61h0m60-9h0m31 1h0m12 1h0m-16 68h0m-10 8h0m-136 10h0m-33-33h0m-16 26h0m-2-16h0m-5-31h0m-4 13h0m61 94h0m84-44h0m13 16h0m132 53h0m-55 20h0m-95-21h0m-35-3h0m185 73h0" stroke="#ffe10c" stroke-width="12" stroke-linecap="round" fill="none"/>
<path transform="scale(.1)" d="M6122 2947h0m-124 86h0m-26 80h0m-29-15h0m-63-21h0m-2 90h0m215-24h0m-59 38h0m-174 12h0m10 92h0m92-21h0m-70 159h0m-144 22h0m-57 36h0m137 54h0m22-14h0m75 15h0m2 51h0m-31 10h0m-10-53h0m-108 14h0m-36 64h0m135-20h0m47 78h0m80 101h0" stroke="#e8174b" stroke-width="12" stroke-linecap="round" fill="none"/>
<path transform="scale(.1)" d="M5911 2842h0m-110 62h0m356 31h0m-252 12h0m-336 35h0m-2 59h0m282-35h0m-265 90h0m21 77h0m17-2h0" stroke="#f89a1c" stroke-width="12" stroke-linecap="round" fill="none"/>
<path transform="scale(.1)" d="M5976 2735h0m-8-1h0m-19-32h0m-49 73h0m16 0h0m-134 153h0m25-47h0m64 58h0m-133 35h0m-67 136h0m-27 25h0m45 25h0m26-21h0m-33 152h0" stroke="#ffe10c" stroke-width="12" stroke-linecap="round" fill="none"/>
<path transform="scale(.1)" d="M6590 2620h0m-60 60h0m-120 170h0m-10-30h0m100 80h0m-10 50h0m30 180h0m510 290h0m-10 20h0m-10-10h0m-10-10h0m-10 10h0m-810 400h0m-30 30h0" stroke="#f89a1c" stroke-width="14" stroke-linecap="round" fill="none"/>
<path transform="scale(.1)" d="M6600 2630h0m-90 510h0m505 285h0m-755 375h0m310 400h0" stroke="#e8174b" stroke-width="14" stroke-linecap="round" fill="none"/>
<path transform="scale(.1)" d="M6900 2600h0m-20 100h0m-260 0h0m410 710h0m10 20h0" stroke="#3b50a8" stroke-width="14" stroke-linecap="round" fill="none"/>
<path transform="scale(.1)" d="M6914 2756h0m-10-8h0m0 9h0m-3 0h0m-7 2h0m-3-2h0m0-4h0m0-5h0m-2 7h0m-10-23h0m-2 7h0m-1 3h0m-10 11h0m38 11h0m1 4h0m2 1h0m2-1h0m4-6h0m3 31h0m10-26h0m1 4h0m1-9h0m2 14h0m1 18h0m5-14h0" stroke="#86aee0" stroke-width="12" stroke-linecap="round" fill="none"/>
</g>
<g filter="url(#rg)">
<path d="M833.5 277.9C830.9 278.6 828.8 280.2 826.8 282.6C824.8 285.1 822.6 288.5 821.8 292.6C821 296.7 821.1 302.4 821.8 307C822.4 311.6 823.9 316.1 825.7 320.4C827.5 324.7 830.2 329.5 832.4 332.6C834.6 335.8 834.8 341 839.1 339.3C843.5 337.6 850.9 329.8 858.5 322.6C866.1 315.4 879.8 301.8 884.6 295.9C889.4 290 888.1 289.4 887.4 287C886.7 284.6 883.2 282.3 880.2 281.3C877.2 280.3 872.1 280.5 869.1 280.9C866.1 281.3 865.4 283.7 862.4 283.7C859.4 283.7 854.6 281.8 851.3 280.9C848 280 845.4 278.7 842.4 278.2C839.4 277.7 836.1 277.2 833.5 277.9Z" fill="#efe6c4"/>
<path d="M862.4 293.7C866.6 292.4 872 294.4 875.7 294.8C879.4 295.2 883.3 293.9 884.6 295.9C885.9 297.9 884.4 303.3 883.5 307C882.6 310.7 880.8 314.9 879.1 318.2C877.4 321.5 875.7 324.1 873.5 327C871.3 329.9 867.9 332.4 865.7 335.9C863.5 339.4 860.2 344.9 860.2 348.2C860.2 351.5 863.7 353.3 865.7 355.9C867.7 358.5 870.5 361.5 872.4 363.7C874.2 365.9 875.9 367.3 876.8 369.3C877.7 371.3 878.4 374.1 877.9 375.9C877.4 377.8 875 379.5 873.5 380.4C872 381.3 871 382.6 869.1 381.5C867.2 380.4 865.2 375.4 862.4 373.7C859.6 372 855.7 372.8 852.4 371.5C849.1 370.2 844.9 368.7 842.4 365.9C839.9 363.1 838.3 358.7 837.4 354.8C836.5 350.9 836.5 345.6 836.8 342.6C837.1 339.6 839.1 338.9 839.1 337C839.1 335.1 837.2 334.3 836.8 331.5C836.4 328.7 836 323.7 836.8 320.4C837.5 317.1 839.1 314.5 841.3 311.5C843.5 308.5 846.7 305.6 850.2 302.6C853.7 299.6 858.1 295 862.4 293.7Z" fill="#f6a124"/>
<path d="M865.7 269.3C866.7 270 868 272.9 867.4 274.8C866.8 276.7 863.6 278.4 862.4 280.4C861.2 282.4 861.2 285 860.2 287C859.2 289 858 292 856.5 292.6C855 293.2 852.4 292.6 851.5 290.6C850.6 288.6 850.8 283 851.3 280.4C851.8 277.8 852.9 276.5 854.6 274.8C856.3 273.1 859.4 271.3 861.3 270.4C863.1 269.5 864.7 268.6 865.7 269.3Z" fill="#e8174b"/>
<path d="M860.2 348.2C863.1 349.6 863.7 353.3 865.7 355.9C867.7 358.5 870.5 361.5 872.4 363.7C874.2 365.9 875.9 367.3 876.8 369.3C877.7 371.3 878.4 374.1 877.9 375.9C877.4 377.8 875 379.5 873.5 380.4C872 381.3 871 382.6 869.1 381.5C867.2 380.4 865.2 375.4 862.4 373.7C859.6 372 855.7 372.8 852.4 371.5C849.1 370.2 844.9 368.7 842.4 365.9C839.9 363.1 838.3 358.7 837.4 354.8C836.5 350.9 834.9 343.8 836.8 342.6C838.6 341.4 844.6 346.7 848.5 347.6C852.4 348.5 857.3 346.8 860.2 348.2Z" fill="#e6d2b4"/>
<path d="M884.6 319.1C886.5 319.1 889.2 320.1 890.5 321.4C891.8 322.7 893.2 324.1 892.5 327C891.8 329.9 889.3 335.5 886.5 339.1C883.7 342.7 878.2 346 875.5 348.6C872.8 351.2 871.1 352.2 870.5 354.6C869.9 357 872.7 362.4 872 363.1C871.3 363.9 868.3 360.9 866.5 359.1C864.7 357.3 862.5 353.9 861.1 352.1C859.7 350.3 857.9 350.5 858 348.2C858.1 345.9 859.7 341.5 862 338.1C864.3 334.8 869.1 330.9 872 328.1C874.9 325.4 877.1 323.1 879.2 321.6C881.3 320.1 882.7 319.1 884.6 319.1Z" fill="#cdb68a"/>
<path d="M891.3 325.9C892.6 325.5 895.3 325.5 896.8 327C898.3 328.5 899.6 332.2 900.2 334.8C900.8 337.4 900.8 340 900.2 342.6C899.6 345.2 898.3 348.7 896.8 350.4C895.3 352.1 892.9 352.8 891.3 352.6C889.7 352.4 887.8 351 887.4 349.3C887 347.6 888.1 344.3 889.1 342.6C890.1 340.9 893.1 341 893.5 339.3C893.9 337.6 892 334.3 891.3 332.6C890.6 330.9 889.1 330.4 889.1 329.3C889.1 328.2 890 326.3 891.3 325.9Z" fill="#9a6318"/>
<path d="M944.1 260.9C946 260.9 948.8 261.2 950.7 262.2C952.6 263.2 954.5 265.1 955.5 267.1C956.5 269.1 955.9 271.7 956.9 274.1C957.9 276.5 962 280.8 961.8 281.5C961.6 282.2 957.3 278.3 955.5 278.6C953.7 278.9 951.9 280.8 950.8 283.1C949.7 285.4 949.9 288.9 949.1 292.6C948.3 296.3 947.4 300.8 945.9 305.1C944.4 309.4 942.6 314.3 940.3 318.6C938 322.9 935 327.3 932.3 331.1C929.6 334.9 926.8 338.1 924.1 341.2C921.4 344.3 918.5 347.8 915.9 349.8C913.3 351.8 910.4 351.6 908.5 353.1C906.6 354.6 905.6 358 904.5 358.6C903.4 359.2 901.6 358.8 902.1 356.6C902.6 354.4 905.4 348.8 907.3 345.6C909.2 342.4 911.7 340.9 913.7 337.6C915.7 334.3 917.5 329.4 919.1 325.6C920.7 321.8 922.3 318.4 923.5 314.6C924.7 310.8 925.5 306.8 926.3 302.6C927.1 298.4 927.6 293.6 928.1 289.3C928.6 285 928.7 280.8 929.5 277C930.3 273.2 931.5 269.1 933.1 266.6C934.7 264.1 937.3 263.2 939.1 262.2C940.9 261.3 942.2 260.9 944.1 260.9Z" fill="#f4f7fd"/>
<path d="M897.9 253.7C895.5 255 894.5 257.6 893.5 260.4C892.5 263.2 891.8 266.9 891.8 270.4C891.8 273.9 892.7 277.8 893.5 281.5C894.3 285.2 895.7 288.9 896.8 292.6C897.9 296.3 899.1 300 900.2 303.7C901.3 307.4 902.6 311.1 903.5 314.8C904.4 318.5 905.3 322.2 905.7 325.9C906.1 329.6 906.2 333.7 905.7 337C905.2 340.3 903.5 343.1 902.4 345.9C901.3 348.7 899.1 352.4 899.1 353.7C899.1 355 900.9 355.6 902.4 353.7C903.9 351.9 906.7 346.3 907.9 342.6C909.1 338.9 909.4 336.1 909.6 331.5C909.8 326.9 909.6 320 909.1 314.8C908.6 309.6 907.7 305 906.8 300.4C905.9 295.8 904.2 290.9 903.5 287C902.8 283.1 901.7 278.1 902.4 277C903.1 275.9 906.4 278.4 907.9 280.4C909.4 282.5 909.8 286.5 911.3 289.3C912.8 292.1 915.1 295.2 916.8 297C918.5 298.8 919.8 300.5 921.3 299.8C922.8 299.1 924.4 295.8 925.7 292.6C927 289.4 928.7 284.1 929.1 280.4C929.5 276.7 929.2 273.2 927.9 270.4C926.6 267.6 923.5 265.3 921.3 263.7C919.1 262.1 916.1 262.2 914.6 260.9C913.1 259.6 913.5 257.3 912.4 255.9C911.3 254.5 910.3 252.8 907.9 252.4C905.5 252 900.3 252.4 897.9 253.7Z" fill="#3d4fa8"/>
<path d="M985.2 339.3C987.8 339.8 989.9 342.1 991.8 344.3C993.7 346.5 996.2 348.4 996.8 352.6C997.4 356.8 996.6 363.5 995.2 369.3C993.8 375.1 991.8 382.3 988.5 387.6C985.2 392.9 980.2 397.3 975.2 400.9C970.2 404.5 963.5 406.2 958.5 409.3C953.5 412.4 949.7 415.7 945.2 419.3C940.8 422.9 936.8 427.9 931.8 430.9C926.8 434 920.8 436.8 915.2 437.6C909.7 438.4 903.2 437.3 898.5 435.9C893.8 434.5 889.6 432.6 886.8 429.3C884 426 882.9 419 881.8 415.9C880.7 412.8 878.5 411.7 880.2 410.9C881.9 410.1 887.6 411.2 891.8 410.9C896 410.6 900.2 411 905.2 409.3C910.2 407.6 916.2 404 921.8 400.9C927.3 397.8 933.5 393.1 938.5 390.9C943.5 388.7 948.5 389 951.8 387.6C955.1 386.2 957.8 385.7 958.5 382.6C959.2 379.6 955.7 373.5 956 369.3C956.3 365.1 958.1 360.9 960.2 357.6C962.3 354.3 965.8 352 968.5 349.3C971.2 346.6 973.7 343.3 976.5 341.6C979.3 339.9 982.7 338.9 985.2 339.3Z" fill="#e9f0cf"/>
<path d="M982.5 339.6C984.2 339.1 989.4 342.1 991.8 344.3C994.2 346.5 996.2 348.4 996.8 352.6C997.4 356.8 996.6 363.5 995.2 369.3C993.8 375.1 991.8 382.3 988.5 387.6C985.2 392.9 980.2 397.3 975.2 400.9C970.2 404.5 963 406.9 958.5 409.3C954 411.8 948.5 416.7 948.5 415.6C948.5 414.5 954.7 406.8 958.5 402.6C962.3 398.4 968 394.9 971.5 390.6C975 386.3 977.5 381.6 979.5 376.6C981.5 371.6 983.2 365.4 983.5 360.6C983.8 355.8 981.7 351.1 981.5 347.6C981.3 344.1 980.8 340.2 982.5 339.6Z" fill="#b9d640"/>
<path d="M976.5 341.6C974.3 341.9 971.2 346.6 968.5 349.3C965.8 352 962.3 354.3 960.2 357.6C958.1 360.9 956.3 365.1 956 369.3C955.7 373.5 959.2 379.6 958.5 382.6C957.8 385.7 955.1 386.2 951.8 387.6C948.5 389 943.5 388.7 938.5 390.9C933.5 393.1 927.3 397.8 921.8 400.9C916.2 404 910.2 407.6 905.2 409.3C900.2 411 896 410.6 891.8 410.9C887.6 411.2 881.3 410.1 880.2 410.9C879.1 411.7 882.2 414.2 885.2 415.9C888.2 417.6 894.1 419.8 898.5 420.9C902.9 422 908.5 423.2 911.8 422.6C915.1 422.1 915.2 419.8 918.5 417.6C921.8 415.4 926.8 412.4 931.8 409.3C936.8 406.2 942.9 402.1 948.5 399.3C954.1 396.5 960.8 395.1 965.2 392.6C969.7 390.1 972.7 388.5 975.2 384.3C977.7 380.1 979.1 373.7 980.2 367.6C981.3 361.5 982.4 351.9 981.8 347.6C981.2 343.3 978.7 341.3 976.5 341.6Z" fill="#cfe2c2"/>
<path d="M866.5 385.6C868 382.9 871.8 382.1 874.5 382.6C877.2 383.1 880.8 385.6 882.5 388.6C884.2 391.6 884.8 396.9 884.5 400.6C884.2 404.3 882.7 409.4 880.5 410.6C878.3 411.8 874 409.6 871.5 407.6C869 405.6 866.3 402.3 865.5 398.6C864.7 394.9 865 388.3 866.5 385.6Z" fill="#e8ded0"/>
<path d="M988.5 283.7C989.6 284.1 995 286.5 997.4 289.3C999.8 292.1 1001.4 296.7 1002.9 300.4C1004.4 304.1 1005.3 308.2 1006.3 311.5C1007.3 314.8 1009.1 317.8 1009.1 320.4C1009.1 323 1007.9 325.3 1006.3 327C1004.7 328.7 1002.2 330 999.6 330.4C997 330.8 993.7 329.3 990.7 329.3C987.7 329.3 984.8 329.7 981.8 330.4C978.8 331.1 975.8 332.4 972.9 333.7C970 335 967 336.7 964.1 338.2C961.2 339.7 958.2 341.3 955.2 342.6C952.2 343.9 948.1 345.6 946.3 345.9C944.5 346.2 944.5 345.2 944.5 344.6C944.5 344.1 945.4 343.9 946.3 342.6C947.1 341.3 948.1 339.2 949.6 337C951.1 334.8 953.4 331.9 955.2 329.3C957.1 326.7 958.5 324.1 960.7 321.5C962.9 318.9 965.9 316.1 968.5 313.7C971.1 311.3 973.5 309.2 976.3 307C979.1 304.8 983 302.4 985.2 300.4C987.4 298.4 988.7 297 989.6 294.8C990.5 292.6 990.9 288.9 990.7 287C990.5 285.1 987.4 283.3 988.5 283.7Z" fill="#20b6a7"/>
<path d="M971.8 260.4C974.4 259.9 978.3 260.9 980.7 262C983.1 263.1 985 264.9 986.3 267C987.6 269.1 988.2 272.2 988.5 274.8C988.8 277.4 988.5 279.9 988.1 282.6C987.7 285.3 987.2 288.1 986.1 290.8C985 293.5 983.5 296.1 981.5 298.6C979.5 301.1 976.6 303.3 974 305.6C971.4 307.9 968.5 310 966 312.6C963.5 315.2 961 318.3 959 321.1C957 323.9 955.9 326.7 954 329.6C952.1 332.5 949.4 336.1 947.9 338.6C946.4 341.1 945.9 344.1 945.2 344.8C944.5 345.5 944 343.9 943.9 342.6C943.8 341.3 944.4 339.6 944.9 337C945.4 334.4 946 330.9 947.1 327C948.2 323.1 950 318.1 951.5 313.7C953 309.3 954.5 304.9 955.9 300.4C957.3 296 959 291.1 960.1 287C961.2 282.9 961.7 279.6 962.5 275.9C963.3 272.2 963.5 267.4 965 264.8C966.5 262.2 969.2 260.9 971.8 260.4Z" fill="#0d857f"/>
<path d="M975.2 272.6C977 271.9 980.2 272.9 981.8 273.7C983.4 274.5 985.1 276.5 984.7 277.6C984.3 278.7 981.2 278.5 979.6 280.1C978 281.7 976.7 284.9 975.2 287C973.7 289.1 972.2 291.3 970.7 292.6C969.2 293.9 966.4 295.7 966 294.8C965.6 293.9 967.6 289.8 968.5 287C969.4 284.2 970 280.6 971.1 278.2C972.2 275.8 973.4 273.4 975.2 272.6Z" fill="#fff"/>
<path transform="scale(.1)" d="M9812 2737h0m-22 2h0m-3 14h0m-8-11h0m-20-10h0m-9-2h0m-3 9h0m-3 7h0m-1 5h0m-32 38h0m11 22h0m14-30h0m3 0h0m2 26h0m1 7h0m2-7h0m5-21h0m2-23h0m4 21h0m14 20h0m4 4h0m4-17h0m49-28h0m10 17h0m-64 49h0m-5 5h0m-48 14h0m-15 0h0m0 10h0m-2-25h0m0-3h0m-6 24h0m0-15h0m-21 72h0m8-16h0m5 26h0m5-21h0m3 12h0m10-21h0m0-4h0" stroke="#0d857f" stroke-width="12" stroke-linecap="round" fill="none"/>
<path d="M944.5 343.6C943 344 939.5 346.2 936.3 348.2C933.1 350.3 928.9 353.5 925.2 355.9C921.5 358.3 917.7 360.2 914.1 362.6C910.5 365.1 906.6 368.4 903.5 370.6C900.4 372.8 898.8 373.6 895.2 375.9C891.6 378.2 885.7 381.8 881.8 384.3C877.9 386.8 874 388.7 871.8 390.9C869.6 393.1 868.9 395.5 868.5 397.6C868.1 399.7 868.7 402 869.5 403.6C870.3 405.2 871.5 406.2 873.5 407.1C875.5 408.1 878.2 410.1 881.8 409.3C885.4 408.6 890.2 405.7 895.2 402.6C900.2 399.5 906.2 395.4 911.8 390.9C917.3 386.5 924.4 379.7 928.5 375.9C932.6 372.1 934.1 370.7 936.3 368.2C938.5 365.7 940.1 363.7 941.8 360.9C943.5 358.1 945.7 354.1 946.3 351.5C946.9 348.9 945.8 346.9 945.5 345.6C945.2 344.3 946 343.2 944.5 343.6Z" fill="#0d857f"/>
<path d="M944.5 343.6C943 344 939.5 346.2 936.3 348.2C933.1 350.3 928.9 353.5 925.2 355.9C921.5 358.3 917.7 360.2 914.1 362.6C910.5 365.1 906.6 368.4 903.5 370.6C900.4 372.8 898.8 373.6 895.2 375.9C891.6 378.2 885.7 381.8 881.8 384.3C877.9 386.8 874 388.7 871.8 390.9C869.6 393.1 867.7 395.9 868.5 397.6C869.3 399.3 873.8 401.5 876.8 400.9C879.8 400.4 882.3 397.1 886.8 394.3C891.2 391.5 897.9 387.9 903.5 384.3C909.1 380.7 914.9 376.8 920.2 372.6C925.5 368.4 931 363.8 935.2 359.3C939.4 354.9 943.7 348.5 945.2 345.9C946.8 343.3 946 343.2 944.5 343.6Z" fill="#20b6a7"/>
<path transform="scale(.1)" d="M8323 2791h0m1 15h0m2-1h0m23 9h0m35 3h0m45-6h0m0-22h0m8-1h0m3 9h0m14 7h0m325 8h0m70 52h0m-59-18h0m-6-20h0m-8 20h0m-16 20h0m-6-45h0m-7 13h0m-15 8h0m-5-21h0m-10 19h0m-17 37h0m-7-40h0m-13-9h0m-13 30h0m-13 15h0m-25 5h0m-30-15h0m-3 0h0m-1 4h0m-38-38h0m-11 23h0m-4-24h0m-58 23h0m-10-2h0m-3-13h0m-12 20h0m-13-9h0m-13-1h0m-3-25h0m-15 34h0m-56-21h0m-7-8h0m0 20h0m-4-14h0m-33 21h0m-1-9h0m-24-24h0m-13 29h0m-5-20h0m-21 35h0m-16 64h0m30-38h0m18 45h0m19-41h0m27 3h0m5-12h0m23 38h0m16-30h0m13 12h0m14-25h0m6 5h0m8 44h0m9-19h0m4 1h0m5-12h0m8-11h0m1 1h0m4 1h0m2-7h0m15 12h0m12 44h0m3-46h0m2 11h0m9-1h0m4-15h0m0 10h0m3 5h0m23-11h0m18-4h0m13 16h0m13-18h0m9 36h0m10-1h0m4-36h0m23-5h0m35 29h0m3-1h0m12 21h0m14-28h0m16-17h0m0-1h0m22 46h0m21-36h0m6-11h0m39 25h0m1-2h0m9 34h0m1 0h0m5-52h0m6 13h0m3 27h0m8-40h0m32 45h0m4-50h0m9 12h0m2 8h0m-13 46h0m-14 19h0m-3 3h0m-13 19h0m-4-40h0m-15 30h0m0 14h0m-17-47h0m-7 18h0m-3-18h0m-1 42h0m-14 3h0m-23-29h0m-1 9h0m-10 24h0m-14-33h0m-8 36h0m-2-48h0m-8 2h0m-4 20h0m-7 13h0m-25-16h0m-9 13h0m-48-38h0m-1 42h0m-4-32h0m-30-1h0m-2-11h0m-6 49h0m-52-17h0m-21-32h0m-6 8h0m-19 26h0m-2-17h0m-22-2h0m-31 37h0m-4-21h0m-17-30h0m-39 37h0m-1-37h0m-7 10h0m-8 23h0m-1 5h0m0-37h0m-8 3h0m-30 37h0m-14 14h0m0-17h0m-24-33h0m-2 43h0m-8-11h0m-1-2h0m-3-18h0m-5 30h0m-1 2h0m-1 63h0m0-9h0m23-9h0m9-32h0m9 31h0m0 14h0m7-24h0m13 27h0m9-45h0m7 51h0m4-23h0m1 8h0m12-14h0m17-2h0m4-3h0m15-20h0m19 45h0m12 5h0m17-18h0m4-16h0m10 36h0m2-4h0m10 3h0m11-13h0m13 6h0m5-38h0m2 37h0m5-32h0m7-3h0m14 10h0m30 2h0m28-2h0m9 18h0m0 16h0m1-28h0m16-9h0m11 28h0m2 4h0m9-37h0m6 22h0m8 11h0m11-18h0m10-27h0m33 43h0m0-21h0m23 31h0m18 2h0m6-33h0m12 14h0m0-13h0m14 5h0m17-13h0m20-5h0m9 11h0m-68 39h0m-48 16h0m-19-13h0m-6 16h0m-3 0h0m-50-13h0m-25 7h0m-5-10h0m-6 37h0m-10 1h0m-5-2h0m-5-29h0m-20-3h0m-4 47h0m-20-3h0m-11-46h0m-5 37h0m-9 12h0m-23-44h0m-19-8h0m-42 29h0m-4-8h0m-1 13h0m-16-9h0m-1-4h0m-1 28h0m-13-24h0m-6-2h0m-5-16h0m-11-9h0m-6-1h0m-2 51h0m-12-49h0m-7-4h0m-7 19h0m-8 21h0m-3-28h0m-4 18h0m-10 21h0m-10-35h0m-6 27h0m22 56h0m3 7h0m6-8h0m7-8h0m0-16h0m13-4h0m33 39h0m1-15h0m9-3h0m28 13h0m6-26h0m63 20h0m4 6h0m3-2h0m23-32h0m25 16h0m11-12h0m15 39h0m13-19h0m16 23h0m72-5h0m29-47h0m3 32h0m-68 51h0m-12-2h0m-9-17h0m-5 32h0m-14-40h0m-4 25h0m-10 24h0m-4 6h0m-40 1h0m-14-39h0m-3 28h0m0-2h0m-22-38h0m-11 11h0m-9 16h0m-66-22h0m-15 48h0m-2-20h0m-2-33h0m-5-5h0m-23 41h0m-15 18h0m8 40h0m27-28h0m26-11h0m43 30h0m5 7h0m5-25h0m12-2h0m4-9h0m26 47h0m6-12h0m1 13h0m21-30h0m54 10h0m-99 38h0m0-8h0m-18 57h0m-4-48h0m-29 46h0m-3-36h0m-3 23h0m-3-30h0m-1 44h0m-7-29h0m-4-23h0m-27-2h0m-7 16h0m-2 1h0m41 47h0" stroke="#fff" stroke-width="14" stroke-linecap="round" fill="none"/>
<path transform="scale(.1)" d="M8315 2819h0m28-14h0m16-3h0m56 16h0m46-2h0m9 3h0m338 38h0m-52 2h0m-41-14h0m-9 12h0m-18-23h0m-27 2h0m-5 34h0m-22 4h0m-19-25h0m-20-2h0m0 4h0m-21-17h0m-37 37h0m-26-37h0m-18 4h0m-28 31h0m-17-46h0m-116 38h0m-29-24h0m-43 33h0m-9 0h0m21 43h0m26-1h0m22-21h0m9 3h0m64-7h0m3 33h0m5 14h0m66-24h0m1 27h0m13-10h0m63-24h0m1 36h0m43-57h0m13 18h0m11 1h0m19 16h0m2-6h0m26-7h0m1-18h0m13 17h0m22 19h0m60-41h0m75 28h0m-10 41h0m-9 8h0m-3-12h0m-30 10h0m-12-1h0m-5 1h0m-7 42h0m-11-12h0m-38-46h0m-33 5h0m-10 17h0m-3-13h0m-82 44h0m-21-12h0m-42-38h0m-58 4h0m-6 52h0m-26-30h0m-10-22h0m-2 28h0m-12-12h0m-31 30h0m-10-15h0m-34-25h0m-69 2h0m-2 21h0m-33 10h0m4 37h0m19 36h0m22-29h0m11 18h0m45-32h0m14 33h0m67 0h0m12-4h0m38 0h0m58-27h0m20 31h0m20 9h0m2 1h0m3-15h0m21-40h0m7 6h0m61-4h0m0 10h0m40-13h0m12 44h0m13-35h0m32-5h0m20 23h0m36-24h0m-69 62h0m-18-1h0m-4 3h0m-2 25h0m-5-25h0m-1 25h0m-21 21h0m-17-30h0m-66 4h0m-34-26h0m-3-1h0m0 49h0m-48-14h0m-20 19h0m-21-8h0m-7-18h0m-4 2h0m-76-4h0m-94 20h0m-8 9h0m-12-17h0m-19 50h0m5 0h0m82 15h0m1-1h0m2 13h0m51-36h0m1 7h0m35 10h0m24-38h0m27 2h0m45 13h0m21 29h0m18 6h0m20-9h0m19-20h0m5-12h0m18-10h0m-36 87h0m-31 5h0m-30 4h0m-2 14h0m-143-1h0m-4-13h0m-2 18h0m-3-34h0m-7 3h0m-59 30h0m-35-9h0m-8-16h0m30 54h0m43 18h0m24 18h0m33-47h0m13 8h0m46 2h0m-37 39h0m-38 73h0m13 18h0" stroke="#e8c860" stroke-width="13" stroke-linecap="round" fill="none"/>
<path transform="scale(.1)" d="M8361 2789h0m498 70h0m-18 17h0m-35-20h0m0 14h0m-244-11h0m-18-36h0m-47 0h0m-115 23h0m-23 16h0m-3-14h0m-3-20h0m-13 44h0m-52-11h0m-13-16h0m-25 37h0m3 3h0m93 16h0m17 13h0m38-27h0m33 52h0m55-53h0m37-2h0m5 45h0m9-21h0m77 21h0m21-30h0m41 15h0m125 61h0m-7-22h0m-32 41h0m-43-16h0m-2 15h0m-8-51h0m-32 24h0m-2-24h0m-19 20h0m-8 21h0m-4-40h0m-25 20h0m-13 32h0m-19-27h0m-59-27h0m0 0h0m-52 20h0m-39 0h0m-3-21h0m-3 50h0m-81 7h0m-9-26h0m-6 20h0m-65 7h0m-41-43h0m64 64h0m119 9h0m23 20h0m19-13h0m5 5h0m5 10h0m106-44h0m107 3h0m50 50h0m22-27h0m1-28h0m-80 97h0m-59 4h0m-114-21h0m-2-3h0m-28-11h0m-239-10h0m30 69h0m111 37h0m30 9h0m16-3h0m52 6h0m128-49h0m-111 52h0m-39 32h0m-19-2h0m-38 9h0m-40-3h0m-2 12h0m-90-38h0m61 93h0m29-11h0m42-17h0m22-3h0m144-13h0m-113 90h0m-67-12h0" stroke="#d8c8a0" stroke-width="13" stroke-linecap="round" fill="none"/>
<path transform="scale(.1)" d="M8657 2719h0m-5-1h0m-135 82h0m31 9h0m28-12h0m6-25h0m11 29h0m25-9h0m-5 28h0m-20 29h0m-14-9h0m-13 37h0m-13-40h0m-5 8h0m-8-1h0m-1 18h0m-15 9h0m-51 59h0m3-5h0m73-33h0m28-4h0m2 6h0m-12 47h0m-22 2h0m-6 26h0m-25-1h0m-7-22h0m-24 17h0m0-3h0m-6 13h0m-23 20h0m-3 6h0m-9-25h0m-85 76h0m25-4h0m32 8h0m13-6h0m14 6h0m7-4h0m16-42h0m12 36h0m15-10h0m5 25h0m0-57h0m6 20h0m-79 81h0m-17-23h0m-13 27h0m-32-10h0m-10-6h0m50 93h0m-6 9h0m-45 0h0m8 61h0m25 89h0m-1-16h0m-19 22h0m-15-47h0m-5 1h0m49 62h0" stroke="#e8174b" stroke-width="13" stroke-linecap="round" fill="none"/>
<path transform="scale(.1)" d="M8650 2700h0m-2 32h0m-26 26h0m-31-15h0m-8-19h0m-57 72h0m13-17h0m50 33h0m-1 37h0m-6 6h0m-28-33h0m-17 29h0m-31 60h0m24 21h0m1 0h0m12-5h0m36-41h0m4 33h0m7 12h0m6-49h0m8 26h0m2 5h0m-82 84h0m-12-22h0m0 1h0m-11-6h0m-21-10h0m-7-17h0m-4 17h0m-90 64h0m7-8h0m3 9h0m33-4h0m3-15h0m40 26h0m8-13h0m36 16h0m10-13h0m-75 79h0m-4-4h0m-7 2h0m-38 17h0m0-55h0m-12 5h0m-6 77h0m15-9h0m27 24h0m-67 102h0m26 9h0m-31 31h0" stroke="#e69aa8" stroke-width="12" stroke-linecap="round" fill="none"/>
<path transform="scale(.1)" d="M8795 2959h0m-191-6h0m-2 39h0m-40 63h0m27-25h0m20-12h0m67-9h0m39 14h0m8 10h0m23 21h0m90-49h0m-15 66h0m-122 23h0m-2-32h0m-50-2h0m-21 45h0m-61 13h0m-44-26h0m-88 55h0m26-16h0m89 7h0m1 28h0m18 2h0m15-39h0m31 27h0m18 2h0m1-8h0m1-9h0m51-17h0m20 50h0m60-28h0m33-21h0m-45 81h0m-29 20h0m-110-26h0m-14 34h0m-25-51h0m-71 3h0m-6 1h0m-2 34h0m-121 28h0m30 45h0m78-26h0m214 6h0m24-29h0m-54 75h0m-48 22h0m-192 2h0m-6 11h0m-5 2h0m-32 50h0m17 9h0m132-6h0m117-41h0m-66 88h0m-23-5h0m-155-14h0m-17 12h0m-6 18h0m-5-29h0m3 96h0m43-44h0m7 19h0m49-28h0m3 12h0m15 42h0m56-10h0m26 5h0m34-20h0m2-5h0m-43 87h0m-17-44h0m-84 26h0m-46-20h0m-22 50h0m31 22h0m4 22h0m63-26h0m109 27h0m2-17h0m50-9h0m37 35h0m57 50h0m-10 10h0m-10 0h0m-8-56h0m-33 18h0m-99-16h0m86 78h0m23-2h0" stroke="#fff" stroke-width="11" stroke-linecap="round" fill="none"/>
<path transform="scale(.1)" d="M8833 2979h0m-2-1h0m-2 20h0m-21-7h0m-179 2h0m-20-32h0m-102 87h0m58-5h0m131-27h0m6-1h0m5-5h0m28-7h0m30-3h0m39 59h0m2-1h0m5-36h0m3 36h0m7 38h0m-64-34h0m-90 29h0m-63-27h0m-93 40h0m-36-41h0m-8 37h0m-21 3h0m-16 30h0m33 7h0m11 11h0m36 10h0m60 15h0m14-41h0m18-11h0m19-4h0m46 25h0m8 12h0m42-22h0m3 27h0m49-14h0m-25 84h0m-97-2h0m-17-17h0m-10 21h0m-5-3h0m-40-4h0m-55-40h0m-24 20h0m-35 12h0m-25 35h0m7-6h0m44 13h0m16 17h0m22-3h0m9 18h0m19-18h0m41-31h0m8 4h0m52 0h0m46 50h0m-67 5h0m-8 37h0m-1 19h0m-9-25h0m-114 7h0m-25-41h0m-78 25h0m-9-9h0m10 103h0m8-22h0m23-7h0m18 1h0m23-13h0m7-9h0m36 15h0m82 8h0m35-2h0m-55 72h0m-45-26h0m-11 19h0m-1-3h0m-16-17h0m-13 0h0m-6 35h0m-15-43h0m-7 50h0m-23-29h0m-66-22h0m2 102h0m60-6h0m6-5h0m5-18h0m55-3h0m2 17h0m5-10h0m14-12h0m21 24h0m0-5h0m22 24h0m53-1h0m-23 56h0m-12-18h0m-11-4h0m-25-14h0m-47 12h0m-32-16h0m-62 37h0m27 56h0m15-13h0m27 28h0m10-37h0m4 19h0m2-28h0m43 0h0m57 33h0m45 12h0m58-31h0m34 27h0m-16 20h0m-25 41h0m-35-27h0m-54 33h0m71 26h0m11-15h0m6-8h0m23 0h0m4 2h0m11-1h0m18 73h0m-35 2h0m-11-17h0m-16 10h0" stroke="#f3bd70" stroke-width="13" stroke-linecap="round" fill="none"/>
<path transform="scale(.1)" d="M8515 3478h0m-20 1h0m-75-29h0m-39-7h0m-3 94h0m2-21h0m1 23h0m14-25h0m8-11h0m19 20h0m19-7h0m0 23h0m1-26h0m3 14h0m9 5h0m3-45h0m5 2h0m8 47h0m4-6h0m10-42h0m14 0h0m1 32h0m25 4h0m4-37h0m0-3h0m15 21h0m8 20h0m5-27h0m9 0h0m4 28h0m3-3h0m4-17h0m9 14h0m2-6h0m6-12h0m8 34h0m64 36h0m-14 1h0m-4-17h0m-24-2h0m-15 44h0m-9 0h0m-12-51h0m-3 25h0m-3 1h0m-6-15h0m-6-15h0m-6 44h0m0-13h0m-15-15h0m-2 29h0m-41-21h0m-47-1h0m0 22h0m0-9h0m-4-37h0m-14 34h0m-4-11h0m-2 11h0m-10 19h0m-1-31h0m-7-3h0m-1 16h0m-1-9h0m-4 28h0m-4-8h0m-22-38h0m46 72h0m5 7h0m3-20h0m1-1h0m5 43h0m15-19h0m8 16h0m1-38h0m5 36h0m5-11h0m3-28h0m1-5h0m8 19h0m8-15h0m2 9h0m4 10h0m17 24h0m10-25h0m7 25h0m5-25h0m4 20h0m5-4h0m13-20h0m4 10h0m5-10h0m2-10h0m1 26h0m2-10h0m33-16h0m1 40h0m13-2h0m2-47h0m41 1h0m99 106h0m-8 1h0m-1-6h0m-2 16h0m-5-17h0m-8-7h0m-21-34h0m-2 47h0m-6-3h0m-5-14h0m-9-29h0m-9 55h0m-18-1h0m-13-1h0m-9-17h0m-11 15h0m-8-15h0m-1-30h0m-1 38h0m-12-26h0m-7 21h0m-6-11h0m-4 8h0m-3 1h0m-2-27h0m-16 37h0m-3 5h0m-4-24h0m0-9h0m-3 26h0m-4 5h0m-6-37h0m-6 6h0m-14 3h0m-9-8h0m-33-8h0m-5-3h0m-5 0h0m-18 20h0m-3-5h0m-6-18h0m139 62h0m27 13h0m16 7h0m13-13h0m3 39h0m3-15h0m15 18h0m9-40h0m9 1h0m16 33h0m2-31h0m4 34h0m14-9h0m3-21h0m5 22h0m5-22h0m25 17h0m-32 24h0m-20 17h0" stroke="#fff" stroke-width="13" stroke-linecap="round" fill="none"/>
<path transform="scale(.1)" d="M8461 3473h0m-34-9h0m-2-5h0m-29-7h0m-3 12h0m-13 5h0m-4 70h0m4-42h0m3-11h0m1 35h0m16 1h0m10-39h0m6 25h0m45 0h0m17-13h0m19 40h0m8-3h0m5-18h0m1-6h0m4 4h0m16-25h0m6 19h0m14 19h0m6-26h0m4 26h0m0-44h0m27 50h0m23-33h0m16 30h0m52 67h0m-19-5h0m-15-1h0m-2 3h0m-7-44h0m-6 44h0m-29 2h0m-30-31h0m-7 1h0m-1 5h0m-19-26h0m-2 47h0m-1-36h0m-4-8h0m-14 49h0m-6-31h0m-13-9h0m-5 6h0m-3-21h0m-13 59h0m-62-12h0m-10 31h0m26 28h0m13-7h0m9-23h0m19-12h0m2 6h0m22 29h0m6 16h0m0-46h0m3 26h0m7 15h0m5-6h0m6 3h0m37 8h0m19-51h0m25 29h0m8-25h0m46 31h0m4-28h0m9 10h0m0 15h0m3-11h0m23-9h0m65 102h0m-4-11h0m-4-1h0m0 11h0m-11-13h0m-3-35h0m-5 38h0m-11-31h0m-8 31h0m-47-1h0m-11-39h0m-1 41h0m-23-6h0m-16-28h0m-3-7h0m-13 20h0m-9-4h0m-25 36h0m-15-33h0m-8-16h0m-14 2h0m-2 5h0m-16-6h0m-1 21h0m-18-26h0m-1 31h0m86 28h0m19 5h0m49 40h0m16-25h0m12-3h0m4 24h0m41-35h0m13 28h0m3-6h0m-31 27h0m-23 14h0" stroke="#f6a124" stroke-width="13" stroke-linecap="round" fill="none"/>
<path transform="scale(.1)" d="M8902 3230h0m-39-29h0m-2 14h0m-9 21h0m-50-18h0m-62 76h0m12-9h0m34-2h0m15-41h0m1 2h0m1 21h0m12 29h0m1-29h0m16 26h0m9-41h0m7-10h0m8 2h0m47 36h0m16-1h0m-65 63h0m-6-23h0m-37 36h0m0-52h0m-28 28h0m-14-1h0m-16 1h0m-4-13h0m-12 6h0m-12 27h0m-7-12h0m-12-9h0m-1-6h0m-1-8h0m-15 43h0m-51 44h0m8 5h0m22-39h0m37 27h0m43 15h0m22-35h0m22 15h0m37 25h0m11-21h0m20 0h0m17-29h0m-141 78h0m-1-17h0m-4 30h0m-22-8h0m-19-6h0m-2 18h0m-46 15h0m-11 3h0m-17-23h0m-9 17h0m-2-21h0m38 76h0m5 13h0m11-2h0m30-31h0m26 30h0m12-55h0m-35 95h0m-8-15h0m-5 34h0m-3-6h0m-14-10h0m-1 2h0m51 26h0m2 1h0" stroke="#fff" stroke-width="12" stroke-linecap="round" fill="none"/>
<path transform="scale(.1)" d="M8904 3223h0m-4 14h0m-51-19h0m-29-15h0m-42 55h0m5 15h0m80-19h0m9 8h0m-9 44h0m-34 53h0m-53-45h0m0-12h0m-9 46h0m-8-39h0m-1 20h0m-22 24h0m-8-52h0m-29 14h0m0 8h0m0-8h0m-24 32h0m-69 72h0m20-9h0m81 4h0m26-11h0m31-42h0m33 49h0m22-32h0m28 0h0m-46 62h0m-3-17h0m-27 37h0m-2-7h0m-5 18h0m-1-2h0m-16-44h0m-41 35h0m-4-36h0m0 39h0m-18-38h0m-7 53h0m-64-56h0m46 68h0m6 11h0m3-16h0m5 15h0m27-20h0m10 0h0m-59 81h0m62 65h0" stroke="#9a6318" stroke-width="12" stroke-linecap="round" fill="none"/>
<path transform="scale(.1)" d="M8984 2537h0m29 40h0m24-47h0m2 25h0m1-18h0m2 32h0m8-17h0m0-8h0m3 7h0m19 2h0m6 25h0m64 37h0m-17-4h0m-13-9h0m-9 32h0m-21-9h0m-22-22h0m-1-7h0m-50 16h0m-6-16h0m-1 42h0m-18-15h0m-11 8h0m-13 4h0m-20 3h0m-11 42h0m6 13h0m5-42h0m6 21h0m17 14h0m27-4h0m30-10h0m54 21h0m12 0h0m19-16h0m52 9h0m26-39h0m8-3h0m0-2h0m3 8h0m14 1h0m13 15h0m14 23h0m-15 54h0m-5-14h0m-11 0h0m-41-23h0m-26 44h0m-16-9h0m-7 13h0m-13-1h0m-2-33h0m-10-4h0m-5-16h0m-15 18h0m-3 39h0m-13-5h0m-2-24h0m-27 1h0m-14-4h0m-4 5h0m-24 16h0m-2-37h0m-6 2h0m-25 16h0m-8 7h0m-6-1h0m0 15h0m25 15h0m7 5h0m16 6h0m16-14h0m2 48h0m9-6h0m3 12h0m78-42h0m3 42h0m32-34h0m7 17h0m26-7h0m14 28h0m19-34h0m7 34h0m17-32h0m11 21h0m8 3h0m6-33h0m6-12h0m5 12h0m26 20h0m5-11h0m-24 85h0m-9-27h0m-22-14h0m-38 27h0m-11-2h0m-1-35h0m-26 24h0m0 12h0m-154 5h0m-9 4h0m-2-2h0m-13-38h0m18 72h0m1-13h0m3 33h0m8-37h0m36 22h0m0 30h0m109-23h0m33 6h0m18 3h0m2 8h0m7 27h0m-15 4h0m-6-10h0m-14 11h0m-123 30h0m-9-2h0m-20-7h0m-4-6h0m-41-32h0m45 62h0m22-2h0m15 18h0m7 9h0m1-9h0m11 50h0m-2 42h0m-7-36h0m-4 22h0m-6-20h0m-17 51h0m4 22h0m37 12h0m9 21h0m-8 39h0m-12 14h0m-5-30h0m-7-18h0m-6 17h0m-7-8h0m14 51h0m18 49h0m-13 58h0m1 15h0m8-2h0m-16 78h0m-13-21h0m-7 5h0" stroke="#fff" stroke-width="11" stroke-linecap="round" fill="none"/>
<path transform="scale(.1)" d="M9024 2537h0m43-10h0m10 8h0m23 35h0m66 54h0m-30 8h0m-25-6h0m-11-30h0m-6 2h0m-15-18h0m-11 7h0m-7-4h0m-33 39h0m-10-9h0m-8 11h0m-8-1h0m-46-24h0m-24 33h0m-7 31h0m109-23h0m12 38h0m10-14h0m27-11h0m4 40h0m22-33h0m4-6h0m10 11h0m103-12h0m44 86h0m-4-9h0m-17 10h0m-9 11h0m-4-37h0m-37 30h0m-18-6h0m-20-17h0m-18 20h0m-70-16h0m-14-1h0m-34 5h0m-37 4h0m-33 15h0m-5 8h0m-8-45h0m-5 60h0m39 43h0m12-23h0m6 24h0m8-26h0m22 27h0m53-19h0m10 5h0m13-10h0m16 15h0m7-30h0m2-2h0m1 23h0m4 16h0m34-35h0m11-1h0m13 22h0m3-20h0m0 2h0m47-17h0m7 50h0m4-34h0m24 61h0m-15 32h0m-7-26h0m-9 12h0m-8 6h0m-6-23h0m-4 4h0m-5-22h0m-24-3h0m-15 8h0m-42 12h0m-28 36h0m-87-2h0m-24-30h0m-29 28h0m14 46h0m5-8h0m56 14h0m93-35h0m17 34h0m32-23h0m18-7h0m45-8h0m-51 83h0m-3-12h0m-6-12h0m-18 10h0m-17-7h0m-97 27h0m-1 13h0m-23 28h0m20-2h0m5 27h0m0-1h0m13 4h0m-19 70h0m-27-22h0m-6-25h0m52 83h0m3 27h0m12-48h0m-13 65h0m-2 21h0m-7 65h0m2-3h0m12-22h0m6 19h0m2 20h0m7-14h0m-12 76h0m-37 93h0m-43 79h0m37-29h0m7-14h0" stroke="#7d8bd0" stroke-width="12" stroke-linecap="round" fill="none"/>
<path transform="scale(.1)" d="M9444 2637h0m-10-25h0m0 17h0m-102 64h0m18-25h0m12-5h0m1 6h0m2 15h0m1-43h0m18 20h0m5 37h0m28-29h0m0-23h0m8 47h0m1-13h0m26 19h0m13-12h0m8-34h0m11 22h0m8 15h0m7-13h0m12-36h0m2 34h0m8-2h0m7-3h0m2 28h0m2-28h0m9 6h0m26 69h0m-28-22h0m-8 6h0m-2-9h0m-8-1h0m-3 5h0m-4 9h0m-38-8h0m-5 16h0m-26-6h0m-10-2h0m-17 24h0m-1-38h0m-7 32h0m-2-36h0m-7-7h0m-4 36h0m-10-41h0m-3 11h0m-48 16h0m-3 20h0m-3 0h0m-8 30h0m32 32h0m24-19h0m5 0h0m0 1h0m15-16h0m2 38h0m22-52h0m4 11h0m5 23h0m25-3h0m17 20h0m1-37h0m14 1h0m6-18h0m24 7h0m5 1h0m31-8h0m11 26h0m23 6h0m-81 32h0m-9 30h0m-4-19h0m-1 2h0m-1-5h0m-3 32h0m-16-28h0m-26-8h0m-19 11h0m-13 26h0m-13-23h0m-17-23h0m-3 13h0m-6-8h0m-2 32h0m-21 20h0m-1-8h0m-30-7h0m-2-13h0m-15 12h0m-4-32h0m-5 35h0m-2 11h0m-3-24h0m0 71h0m1 16h0m12 0h0m8-13h0m7-20h0m8 32h0m0-34h0m17 9h0m17-19h0m1 29h0m31 15h0m1-29h0m1 29h0m14-55h0m8 42h0m9-4h0m31-32h0m4 20h0m1 8h0m3-20h0m2 2h0m6-14h0m4 20h0m1 14h0m5-21h0m6 7h0m-15 64h0m-30-7h0m-2-21h0m-8 9h0m-2-8h0m-1 11h0m-18 26h0m-16-22h0m-6 4h0m-21 12h0m-1-3h0m-35-28h0m-9 37h0m-1 13h0m-11-23h0m-6 0h0m-16 25h0m-11-7h0m-6-18h0m-17 88h0m18-24h0m1 26h0m8-29h0m2 30h0m16-38h0m34-8h0m2 46h0m1-27h0m12 24h0m6 2h0m1-44h0m6 5h0m7 38h0m1-53h0m4 41h0m3 11h0m3-24h0m4-13h0m3 26h0m15 7h0m4-48h0m5 20h0m6-16h0m2 7h0m1 8h0m3 5h0m14 3h0m8-23h0m7-5h0m-14 57h0m-15 28h0m-1-16h0m-1 9h0m-14 28h0m-14-1h0m-1-22h0m-20 20h0m-22-8h0m-2 2h0m-15-21h0m-2 4h0m-2 7h0m-3-11h0m-2 38h0m-6-4h0m-2-11h0m-17 2h0m-9-10h0m-8-7h0m-16-15h0m-31 106h0m9-42h0m1 0h0m3 35h0m3 3h0m4-42h0m1 37h0m2-38h0m29 21h0m2-21h0m11 15h0m6 27h0m15 3h0m0-52h0m3 11h0m4 25h0m46-35h0m1 45h0m5-3h0m6-15h0m14 14h0m5-3h0m-48 42h0m-6 24h0m-1-41h0m-5 49h0m-4-46h0m-6 3h0m-6 35h0m0-26h0m-2 21h0m-30-43h0m-3 29h0m-9-26h0m-6 34h0m-6-35h0m-13 46h0m-1-31h0m-22 33h0m-4-24h0m-3 4h0m2 64h0m5 13h0m1-26h0m3-3h0m6 19h0m6-3h0m7-29h0m29-1h0m2-4h0m5 16h0m1 33h0m5-35h0m28 7h0m-29 39h0m-8 35h0m-1-33h0m-11 4h0m-22 23h0m-7 4h0m-3-27h0m-2 52h0m-8-37h0m-1 4h0m-31-22h0m-20 12h0m-24-3h0m-10 41h0m-35 61h0m8-12h0m11 5h0m2-18h0m5-11h0m6 38h0m26-4h0m7-5h0m4-37h0m18-4h0m7 38h0m5 2h0m0-34h0m8 1h0m-9 58h0m-21 23h0m-23 20h0m-2-12h0m-5 10h0m-4 4h0m-9-44h0m-14 11h0m-5 20h0m-4-44h0m-11 25h0m-1 23h0m-6-40h0m0 42h0m-14-34h0m-21 24h0m-10 13h0m-22 44h0m25-14h0m8-17h0m6 44h0m29-41h0m12 19h0m2-7h0m2-7h0m26-8h0m-99 73h0m-27 0h0" stroke="#86aee0" stroke-width="12" stroke-linecap="round" fill="none"/>
<path transform="scale(.1)" d="M9476 2632h0m-27-9h0m0-9h0m-9 8h0m-108 65h0m0-18h0m8-7h0m5-3h0m5-5h0m32-14h0m8 48h0m3-14h0m8 1h0m2-3h0m19-8h0m9 12h0m33-3h0m71 18h0m11-27h0m5 22h0m-9 26h0m-18 15h0m-44 6h0m-28-33h0m-3 24h0m-68-1h0m-29 13h0m-5-1h0m-9-32h0m-3 25h0m-9-20h0m18 70h0m22-6h0m16 7h0m99 25h0m5-40h0m10 30h0m44-4h0m18-25h0m28 16h0m-85 55h0m-11 15h0m-21 20h0m-19-8h0m-33-38h0m-6 3h0m-2 32h0m-3 10h0m-44-39h0m-4 44h0m-41-41h0m-1 11h0m-19 12h0m15 46h0m1 6h0m23-26h0m67 50h0m6-40h0m0 40h0m5-24h0m13-21h0m17 12h0m36-9h0m-44 62h0m-5 41h0m-15-21h0m-20 19h0m-9-37h0m-13-12h0m-3 27h0m-21-9h0m-75-20h0m37 88h0m54 20h0m64-48h0m0 89h0m-5-4h0m-21-17h0m-7 10h0m-72 38h0m-4-56h0m-35 42h0m-12 16h0m-12-22h0m-16 70h0m0 7h0m17-28h0m13-8h0m23-8h0m21 9h0m14 7h0m0 8h0m24 16h0m35-14h0m-4 45h0m-1-2h0m-1-1h0m-36 15h0m-11-5h0m-11 4h0m-21-27h0m-35-2h0m-20 52h0m-37-4h0m-19 18h0m41 25h0m4-11h0m3 11h0m3-21h0m6 26h0m7-15h0m4 29h0m5-37h0m2 15h0m10-4h0m9 19h0m55-29h0m-22 48h0m-27 22h0m-6 11h0m-8 20h0m-40-31h0m-49-10h0m-16 39h0m-30 41h0m5-8h0m49 3h0m12 7h0m-37 35h0m-30 8h0m-15 35h0m-25-8h0m-3-42h0m-6 52h0m-29 27h0m2 31h0m37-38h0m9-16h0m53-1h0m-143 78h0" stroke="#c9daf3" stroke-width="13" stroke-linecap="round" fill="none"/>
<path transform="scale(.1)" d="M9418 2635h0m-20 32h0m29 23h0m37-13h0m14-8h0m62 26h0m-100 61h0m-54 2h0m-67-50h0m205 93h0m-22 34h0m-185 75h0m5 10h0m66 13h0m42-52h0m33 108h0m-45-39h0m-111 2h0m-15 12h0m132 80h0m-41 172h0m-100 13h0m-48 95h0m-29-13h0m-51 130h0m-22 21h0m-62 4h0m11 49h0m2-4h0m51-7h0" stroke="#0d857f" stroke-width="12" stroke-linecap="round" fill="none"/>
<path transform="scale(.1)" d="M9795 3413h0m35 0h0m84 34h0m-33 14h0m-5-1h0m-6 10h0m0 8h0m-15-45h0m-14 4h0m-4 17h0m-4-16h0m-15 17h0m-4-19h0m-2 24h0m-14-27h0m-10 29h0m-11 15h0m-4-12h0m-17-22h0m-65 94h0m1-10h0m17 6h0m18-34h0m3 11h0m1 24h0m15 2h0m11-21h0m6-15h0m3 17h0m13-27h0m3 11h0m2 34h0m9 0h0m41-18h0m25 18h0m1-13h0m47-38h0m24 9h0m1-11h0m16 18h0m10 83h0m-5 5h0m-8-29h0m-31 18h0m-6-9h0m-25-10h0m-3 2h0m-5-7h0m-8 0h0m-57 8h0m-26 9h0m-22-13h0m-28 11h0m-2-20h0m-12 4h0m-7 45h0m-33-50h0m-6 1h0m-2 33h0m-30 7h0m-22-25h0m-7 30h0m-35 51h0m16 11h0m12-29h0m22 13h0m11-19h0m17-7h0m9 19h0m46-10h0m24-22h0m14 21h0m4-13h0m68 14h0m7 13h0m16-9h0m18 8h0m3-28h0m7 28h0m12-17h0m24 1h0m26 13h0m8 18h0m12-11h0m-22 35h0m-1 29h0m-10-12h0m-9 9h0m-8-23h0m-3-12h0m-3 29h0m-34-1h0m-38-31h0m0 16h0m-5 3h0m0 9h0m-11-8h0m-5-15h0m-16 52h0m0-39h0m-17 34h0m-8-37h0m-12 35h0m-38-46h0m-26 29h0m-23-31h0m-6 26h0m-22-2h0m-10-15h0m-12 9h0m-6 30h0m-32-35h0m-9 28h0m22 61h0m12 6h0m1-48h0m5 48h0m36-48h0m15 5h0m19 47h0m23-28h0m5-5h0m2 26h0m2 1h0m41-11h0m49-5h0m30-19h0m28 32h0m4-37h0m6 6h0m43 6h0m7 5h0m8 9h0m-25 44h0m-15 12h0m-9 14h0m-11-6h0m-29 16h0m-20-44h0m-3 17h0m-14-5h0m-20 1h0m-5-11h0m-11 39h0m-17-2h0m-8-14h0m-15-12h0m-12-9h0m-5-14h0m-4 55h0m-5-34h0m-32 0h0m-44 5h0m-35 18h0m-102 69h0m109 1h0m18-32h0m17 0h0m8 31h0m3-36h0m15 19h0m7-1h0m8 11h0m13 3h0m1-30h0m15-9h0m1 3h0m8 1h0m61 14h0m13 24h0m11-50h0m2 51h0m39-11h0m10-30h0m1 11h0m12 14h0m18-2h0m13-30h0m8-2h0m-134 82h0m-8 26h0m-2-49h0m-3 41h0m-2-13h0m-1 28h0m-1-17h0m-6-17h0m-1 7h0m-1 26h0m-7-18h0m-24 4h0m-4 1h0m-1-32h0m-3 19h0m-9-7h0m-15 20h0m-49-42h0m-9 14h0m-10-5h0m-10 34h0m-3 9h0m-5-55h0m-18 51h0m-13-19h0m-2-21h0m0 44h0m-11-23h0m-1-10h0m-12 31h0m-10-24h0m-27 3h0m-34 13h0m-8-12h0m-2-18h0m-47 16h0m-2 14h0m-3-11h0m-4 25h0m-4-14h0m-4-27h0m-44 41h0m-5-17h0m-8 9h0m-101 67h0m2-9h0m10 1h0m38-24h0m1 4h0m1 28h0m15-30h0m21 26h0m15-28h0m6-24h0m5 38h0m22-31h0m34 26h0m18-3h0m6 15h0m4-24h0m5 31h0m9-32h0m2 3h0m12-16h0m13 4h0m13 3h0m14-14h0m5 16h0m52 18h0m8 7h0m5 9h0m6-35h0m5 22h0m7 17h0m3-50h0m10 25h0m9 0h0m9 12h0m7-3h0m25 16h0m7-2h0m17-13h0m12 14h0m46-44h0m-71 49h0m-3 16h0m-24-10h0m-23 21h0m-9 28h0m-1-16h0m-7-12h0m-26 8h0m-3-4h0m-5 11h0m-49 9h0m-27-7h0m-9-9h0m-2-6h0m-1 12h0m-4-28h0m-25 42h0m-18-38h0m-1 31h0m-6-45h0m-10 36h0m-9-34h0m-15 4h0m-59 0h0m-22 7h0m-3 32h0m-33-43h0m-1 27h0m-5-21h0m-14 44h0m-14-34h0m-6-10h0m-6 34h0m-5-41h0m-23 8h0m-4 30h0m-31-16h0m-1 23h0m-13-13h0m-312 64h0m9 11h0m14-2h0m2-14h0m8 13h0m2-13h0m9 19h0m7 4h0m8-15h0m4 9h0m35 2h0m32-20h0m5 0h0m5 23h0m3-27h0m19-7h0m21-3h0m30 25h0m1-3h0m23-23h0m4 13h0m56-30h0m0 16h0m23-5h0m5-3h0m7 45h0m2-54h0m11 22h0m11 29h0m12-48h0m1 0h0m3 30h0m21-23h0m10 21h0m59 2h0m24 11h0m14-33h0m33 27h0m1 7h0m2-19h0m30-20h0m3 3h0m10 10h0m6 37h0m18-45h0m28 5h0m4 1h0m2-1h0m12 2h0m2 6h0m7-15h0m7 43h0m2-39h0m2 28h0m10-26h0m2 32h0m1-26h0m28-11h0m35-6h0m-154 84h0m-18-1h0m-12 0h0m-1 10h0m-4 6h0m-48-38h0m-1 6h0m-2 6h0m-7 26h0m-3-7h0m-16 5h0m-3-17h0m-9-8h0m-8 17h0m-11-33h0m-12 51h0m0 1h0m-6 2h0m0 4h0m-12-9h0m-3-1h0m-6-5h0m-28-20h0m-5 1h0m-17-15h0m-2 42h0m-23-19h0m-16-7h0m-4 32h0m-1-12h0m-6-39h0m-20 37h0m-3-8h0m-20-13h0m-22-22h0m-27 48h0m-6-43h0m-5 19h0m-8-8h0m-2 7h0m-26 23h0m-4 9h0m-11-54h0m-3 52h0m-4 3h0m-13-50h0m-21 6h0m-2 27h0m-4 16h0m-4 2h0m-11-39h0m-10 11h0m-1 19h0m-1-49h0m-1 18h0m-15-10h0m-22 44h0m-16-42h0m-7 26h0m-7 5h0m-1-17h0m-3 34h0m33 50h0m4 6h0m32-43h0m34 45h0m9-36h0m0 28h0m15-1h0m8-42h0m7 47h0m9-26h0m23 29h0m30-17h0m3 13h0m46-46h0m10 24h0m14 18h0m4-27h0m50-6h0m22-10h0m3 31h0m4 10h0m44-33h0m2 43h0m5-48h0m8 48h0m0-40h0m5 28h0m12-38h0m30 32h0m29-17h0m1 25h0m40-15h0m1 28h0m3-50h0m5-8h0m6 21h0m-79 84h0m-17-45h0m-13 50h0m-4 9h0m-12-1h0m-5-24h0m-1 7h0m-11-1h0m-22-6h0m-12-27h0m-4 22h0m-1-15h0m-17 22h0m-20 18h0m-15-27h0m-1 6h0m-18 9h0m-9 1h0m-5-16h0m-16 7h0m-33 11h0m-3-31h0m-12 45h0m-11-9h0m-44-48h0m-1 3h0m-3 41h0m-7-46h0m-7 22h0m-7 7h0m-27-10h0m-11 1h0m-8 6h0m-5 1h0m-15 5h0m-2 12h0m-20-33h0m-1 11h0m-5-15h0m-1 31h0m-20-35h0m0 7h0m98 68h0m20-15h0m7 6h0m23 2h0m18 25h0m26-26h0m17-3h0m13 19h0m2-26h0m2 11h0m10-8h0m2-1h0m32 13h0m2 16h0m38-10h0m36-6h0m11-15h0m17 10h0m11 8h0" stroke="#fff" stroke-width="13" stroke-linecap="round" fill="none"/>
<path transform="scale(.1)" d="M9827 3412h0m33-9h0m71 75h0m-25-3h0m-27-8h0m-5-24h0m-10 6h0m-11 3h0m-9-11h0m-9 33h0m-14 2h0m-46-23h0m-46 14h0m-15 9h0m-29 39h0m7 18h0m16-39h0m22 0h0m30 8h0m70-17h0m1 1h0m28 23h0m32-14h0m37 4h0m15 22h0m0 13h0m5 52h0m-20 7h0m-24-24h0m-11 19h0m-10-10h0m-7-28h0m-40 40h0m-14-28h0m-46 24h0m-26-11h0m-10-18h0m-1 17h0m-23-32h0m-19 55h0m-36-51h0m-31 28h0m-41 60h0m37-6h0m13 16h0m42-18h0m8-13h0m6 18h0m5 5h0m18-22h0m9 0h0m10 27h0m29-1h0m4-9h0m6-12h0m14-13h0m37 53h0m25-43h0m23 23h0m2 14h0m20-33h0m13 14h0m12-19h0m15 68h0m-24-7h0m-41-11h0m-38 43h0m-12 9h0m-22-24h0m-5 22h0m-83-23h0m-20-8h0m-18-14h0m-17 22h0m-21-27h0m-62 45h0m89 35h0m62 24h0m20-31h0m7 31h0m22 5h0m7 0h0m13 1h0m3-33h0m3 7h0m33-11h0m51-14h0m19 97h0m-21-21h0m-9-7h0m-3 10h0m-7 11h0m-7-31h0m-24 55h0m-57-53h0m-7 33h0m-3-23h0m-6 16h0m-21-3h0m-8-5h0m-7-1h0m-28 13h0m-94 23h0m-29 1h0m-25 37h0m56-26h0m9 9h0m41-17h0m14 24h0m5-7h0m56-5h0m3 25h0m23-18h0m5-18h0m4 38h0m6-15h0m5 8h0m14 17h0m37-1h0m20-9h0m-12 45h0m-20-16h0m-24 0h0m-51 18h0m-30 17h0m-73-9h0m-34-18h0m-10 14h0m-4-22h0m-11 20h0m-44-10h0m-22 19h0m-24-16h0m-35-3h0m-33 39h0m-26-45h0m-25 22h0m-31 5h0m-61 61h0m94-29h0m42-5h0m26 27h0m5-16h0m43 14h0m22 3h0m3-27h0m30 46h0m92-54h0m64 16h0m22 14h0m6-2h0m20-18h0m-46 62h0m-67 9h0m-4-2h0m-50 29h0m-13-17h0m-40 26h0m-43-16h0m-20-28h0m-4-4h0m-36 49h0m-83-34h0m-10 7h0m-24-5h0m-1 20h0m-49-6h0m-25-9h0m-16-8h0m-7 0h0m-1 30h0m-6-52h0m-14 46h0m-10-16h0m-43 3h0m-198 66h0m43 12h0m90-28h0m39-6h0m2 38h0m44-38h0m36 40h0m39-57h0m94 52h0m166-6h0m35 4h0m12-1h0m-66 14h0m-7 23h0m-27-18h0m-42-6h0m-32 15h0m-10 8h0m-40-26h0m0 53h0m-13 2h0m-12-51h0m-12 32h0m-25-7h0m-114-12h0m-1 11h0m-27 0h0m-8 7h0m-9 10h0m-4-23h0m-7 20h0m-102 4h0m-14-4h0m-21-16h0m-2-5h0m-3 35h0m-16-36h0m-17 12h0m-18 13h0m-3-18h0m-39-15h0m-4 24h0m25 25h0m7 32h0m28-22h0m3-7h0m5 49h0m34-46h0m56 31h0m18 0h0m142 5h0m2-3h0m5-34h0m15 20h0m6 11h0m6 18h0m47-47h0m25 34h0m31-34h0m65 12h0m25-10h0m19 24h0m-152 62h0m-23-20h0m-39 40h0m-9-56h0m-22 29h0m-60 17h0m-88-10h0m-13 21h0m-1-4h0m-5 3h0m-9-15h0m-1-42h0m-15 0h0m-3 49h0m-1-23h0m-11 23h0m-40 0h0m103 13h0m3 31h0m50-18h0m2 19h0m43 10h0m83-25h0" stroke="#c4dc78" stroke-width="13" stroke-linecap="round" fill="none"/>
<path transform="scale(.1)" d="M9792 3465h0m-12-13h0m-47 18h0m-9 3h0m-35 34h0m4-4h0m2 18h0m91-5h0m15 6h0m8-19h0m4-13h0m-22 86h0m-22-32h0m-13 39h0m-4 2h0m-11-38h0m-22 46h0m-4-44h0m-8 13h0m-8 15h0m-1-19h0m-11 12h0m-51 9h0m0-14h0m-23 19h0m-32 69h0m19-49h0m11 34h0m18-31h0m11-4h0m5 55h0m32-30h0m7 28h0m51-4h0m15-8h0m17 23h0m-23-7h0m-27 56h0m-4-26h0m0-30h0m-39 11h0m-98 46h0m-1-20h0m7 76h0m3-45h0m16 39h0m2-17h0m34 10h0m28-34h0m30 49h0m9-43h0m6 12h0m7-9h0m43 4h0m3-2h0m5 41h0m-17 59h0m-1-11h0m-9-1h0m-16 4h0m-2-48h0m-1 3h0m-66 55h0m0-32h0m-14 32h0m-17-35h0m-8 7h0m-79 78h0m31 4h0m32-45h0m70 17h0m2 23h0m48-31h0m1-13h0m23-3h0m-125 85h0m-28-1h0m-24-10h0m-6 17h0m-36 19h0m-20-45h0m-25 21h0m-8 12h0m-8 2h0m-8-38h0m-12 14h0m-34 5h0m-1 35h0m-198 57h0m85-37h0m41-11h0m34 23h0m11 0h0m2 4h0m6-25h0m13 30h0m0-2h0m44 12h0m55-25h0m22-13h0m-144 62h0m-56 43h0m-4-19h0m-1 13h0m-38-16h0m-3-2h0m-86 16h0m-5-33h0m-9 36h0m-15-9h0m-328 72h0m2 6h0m81-15h0m16-7h0m122 15h0m54-46h0m3-5h0m5 35h0m5 3h0m34-37h0m32 34h0m17-2h0m2 6h0m3 15h0m2-18h0m10 22h0m35-11h0m20-41h0m3 9h0m24-12h0m-101 59h0m-12 11h0m-15 12h0m-65-19h0m-15 42h0m-5 1h0m-28-18h0m-3 14h0m-40-21h0m-12 28h0m-2-46h0m-19 8h0m-1 10h0m-10 28h0m-25-13h0m-6-33h0m-10 28h0m-49-12h0m142 39h0m86 23h0" stroke="#9cc9a0" stroke-width="13" stroke-linecap="round" fill="none"/>
<path transform="scale(.1)" d="M9933 3472h0m-45 7h0m-19-13h0m-2-5h0m-10 53h0m15-7h0m30-19h0m4-3h0m18 36h0m16-1h0m0-6h0m7 4h0m4-3h0m1 1h0m-35 45h0m-10-12h0m-24 4h0m-30 16h0m-7 22h0m-14-6h0m-1 64h0m29-20h0m21-13h0m5 39h0m4-2h0m14-38h0m13 28h0m3 12h0m16-7h0m4-28h0m9 5h0m4-7h0m-3 67h0m-9 14h0m-2 18h0m-30-41h0m-22 25h0m-8-32h0m-32 10h0m-2-16h0m-13 38h0m-16 4h0m-17 52h0m20 7h0m3-37h0m7 1h0m22 24h0m36-12h0m4-20h0m26 43h0m4-16h0m14-14h0m-18 47h0m-23 55h0m-12 0h0m-4-44h0m-6 10h0m0 34h0m-1-13h0m-8-25h0m-17 30h0m-12-23h0m-8 2h0m-3 24h0m-43-22h0m-2 7h0m-9 17h0m-17 49h0m7-32h0m40 44h0m5 3h0m26-33h0m11 14h0m1 7h0m5 4h0m11-26h0m2 18h0m9-24h0m7 3h0m2-16h0m1-1h0m-30 67h0m-15 2h0m-13 26h0m-7-6h0m-56-27h0m-15 36h0m-7 2h0m-2-19h0m-4 33h0m0-4h0m-32-9h0m0-1h0m0 16h0m-13 0h0m-82 58h0m31-13h0m13-16h0m0-2h0m19 23h0m4-35h0m18 20h0m5-13h0m12 25h0m6-33h0m2 43h0m1 2h0m1-12h0m-53 40h0m-28 17h0m-13-4h0m-4-30h0m-32 14h0m-6 21h0m-14 10h0m-38 34h0m5-1h0m14 3h0m5-26h0m3 18h0" stroke="#dbe89a" stroke-width="12" stroke-linecap="round" fill="none"/>
<path transform="scale(.1)" d="M9387 3932h0m-17 5h0m-9 7h0m-9 9h0m-115 51h0m23-5h0m3 15h0m1-10h0m21 15h0m5-5h0m72-10h0m1-3h0m0-21h0m3 28h0m18-47h0m5 1h0m22 71h0m-18-8h0m-32 33h0m-36 21h0m-13-36h0m-4-4h0m-2-5h0m-4 32h0m-1-29h0m-1 32h0m-1-35h0m0 17h0m-23 26h0m-2-56h0m-14 30h0m-11-26h0m-2-4h0m-1 24h0m-6 17h0m-8-21h0m-12 10h0m-9 14h0m-4-44h0m-1 32h0m-10 14h0m-7-38h0m-28 35h0m-343 69h0m13 0h0m1-14h0m38 9h0m22-18h0m0 16h0m42-18h0m10 23h0m4-24h0m11 27h0m47 5h0m5-5h0m14-20h0m3 4h0m14 14h0m8-13h0m31-6h0m1-12h0m2 1h0m3-6h0m5 19h0m20 8h0m13-31h0m4 37h0m8-14h0m13-3h0m10-2h0m9-26h0m2 13h0m4-8h0m1 22h0m4 19h0m16-12h0m8-38h0m6 45h0m4-13h0m1 22h0m15-21h0m11-25h0m2 36h0m9 13h0m12-19h0m4 0h0m9-27h0m17 22h0m17 4h0m4-4h0m2 17h0m18-37h0m3 46h0m4-11h0m5-4h0m6-24h0m6-15h0m5 40h0m4-30h0m3 3h0m15 41h0m5-32h0m3 1h0m3 14h0m4-39h0m1 10h0m1-8h0m1 36h0m12-8h0m10-20h0m11 38h0m4 54h0m-3-41h0m-2 32h0m-4-27h0m-10 28h0m-11 9h0m-5-39h0m-4 22h0m-7-19h0m0 33h0m-1 6h0m-5-49h0m-12 3h0m-7-1h0m-5 40h0m-10 0h0m-6-12h0m-8 20h0m-11-30h0m-25-7h0m-19 5h0m0 27h0m-15-9h0m-1-22h0m-6 19h0m-2-30h0m-15 28h0m0 14h0m-4-30h0m-2-14h0m-8 36h0m-3-1h0m-12-16h0m0 6h0m-2-15h0m-1 29h0m-8 1h0m-5-24h0m-8 38h0m-6-21h0m-8 8h0m-7-24h0m0-12h0m-4 9h0m-3 4h0m-5 20h0m-2-15h0m-12-11h0m-2 37h0m0-48h0m-19 20h0m-6-2h0m-3 35h0m-11-18h0m-2-22h0m-10 37h0m-4-36h0m-5 13h0m-5 24h0m-11-10h0m-6-1h0m-5-31h0m-2 27h0m-2-14h0m-1 3h0m-10 5h0m-7 3h0m-2 15h0m-7-6h0m-4-41h0m-3 8h0m-4 12h0m-4-15h0m-1 34h0m-1 2h0m-3-24h0m-2-6h0m-9-12h0m-7 6h0m-5 34h0m-6-26h0m-7-9h0m-32 14h0m-1 26h0m-3-47h0m-26 29h0m-1 28h0m-12-19h0m-5-29h0m-1 15h0m-7 1h0m-4-5h0m-8-6h0m-1 33h0m-8-11h0m-6-34h0m-13 64h0m23 9h0m16-13h0m1 6h0m0 19h0m5-3h0m2-19h0m6 28h0m1-17h0m9-2h0m34 40h0m1-22h0m13 3h0m6 10h0m9-25h0m0 18h0m5 11h0m26-6h0m5-35h0m9 10h0m13 39h0m9-19h0m1-35h0m12 22h0m4 13h0m2-34h0m0 6h0m7 25h0m0-18h0m3 1h0m32 21h0m0 18h0m1-25h0m11-23h0m2 37h0m25-45h0m3 26h0m2 9h0m1-8h0m3 17h0m4-30h0m26 19h0m12 8h0m3-29h0m9 10h0m1-3h0m3-4h0m1 6h0m2 7h0m1-4h0m10 17h0m1-21h0m1 21h0m4-41h0m9 5h0m17 22h0m1-28h0m10 40h0m0 1h0m3-17h0m0 21h0m5-44h0m7 15h0m1 15h0m5-10h0m5-18h0m2 31h0m2 23h0m8-34h0m3 19h0m6-8h0m19-32h0m11 12h0m1 41h0m1-21h0m6 0h0m2-17h0m2 40h0m0-56h0m1 47h0m6-25h0m17 8h0m10-5h0m1 7h0m29-32h0m-74 62h0m-15 12h0m-8 10h0m-4 23h0m-19 1h0m0-34h0m-1-9h0m-4 39h0m-16-20h0m-2-3h0m-7 34h0m-12-35h0m-5-3h0m-5 8h0m-8 19h0m-3 14h0m-1-14h0m-11-8h0m-15-24h0m-4 33h0m-6-14h0m-1 25h0m-3-22h0m-7 6h0m-1-29h0m-9-6h0m-1 51h0m0-45h0m-5 6h0m-41-10h0m-17 9h0m-2-9h0m-4-1h0m-6 19h0m-4 16h0m-8-5h0m-15-26h0m-7 27h0m-23 7h0m-1-37h0m-6 30h0m-1-38h0m-9 5h0m-4 47h0m-5-16h0m-3 1h0m-12 9h0m-22-44h0m-14-2h0m-2 12h0m-15-4h0m-9 21h0m-20 12h0m-3 16h0m-21-14h0m-12-17h0m-1-23h0m77 77h0m3-11h0m24 5h0m25 10h0m6-11h0m8 8h0m1 12h0m3-19h0m6 9h0m8-3h0m7-8h0m10 7h0m33-19h0m11 27h0m11-12h0m4-11h0m28 3h0m1 20h0m6-5h0m5 23h0m2-4h0m1-34h0m3 3h0m6-8h0m4 41h0m7-29h0m12 17h0m16-5h0m3-26h0m39 6h0m19-4h0" stroke="#fff" stroke-width="15" stroke-linecap="round" fill="none"/>
<path transform="scale(.1)" d="M9927 2866h0m-3 65h0m5-12h0m18 15h0m19-31h0m-63 91h0m-27 0h0m-15 20h0m49 43h0m4-45h0m18 1h0m24-4h0m17 10h0m19 24h0m48 70h0m-1-41h0m-23 34h0m-3 5h0m-51-47h0m-18 31h0m-54 13h0m-27-29h0m-41-1h0m-2-14h0m-51 48h0m-21-10h0m-32 20h0m73 28h0m25-2h0m13 10h0m83-24h0m26 33h0m80-40h0m43 99h0m-19-39h0m-39 35h0m-74-10h0m-107 14h0m-5-23h0m-2-4h0m-50 15h0m-68 13h0m-13-24h0m-79 18h0m-4 13h0m-13 33h0m55 0h0m33 9h0m16-31h0m52 35h0m29-28h0m23 22h0m45-25h0m99 9h0m71-7h0m27 10h0m1-14h0m-284 69h0m-17 0h0m-25 20h0m-97-15h0m-22 16h0m-59-6h0m-46 72h0m42-42h0m3 9h0m24 33h0m17-31h0m93-8h0m-137 66h0" stroke="#fff" stroke-width="10" stroke-linecap="round" fill="none"/>
<path transform="scale(.1)" d="M9701 2622h0m19 55h0m38-23h0m51-9h0m24 31h0m32 48h0m-106-7h0m-24 1h0m-57 30h0m-23 10h0m25 48h0m65 7h0m5 0h0m88-38h0m8 40h0m29 8h0m-78 38h0m-89-36h0m-73 45h0m-42 58h0m122-48h0m8 11h0m14 25h0m74 69h0m-18-19h0m-73-22h0m-17 21h0m-20 7h0m-41 3h0m-7 1h0m25 67h0m25 8h0m37-48h0m-34 92h0m-11-35h0m-15 51h0m-32 2h0m-55-26h0m-18 15h0m-16 65h0m16-5h0m31-35h0m38 7h0m-121 68h0m-28 58h0m26 31h0m21 3h0m13 4h0m-44 26h0m-18 62h0" stroke="#fff" stroke-width="10" stroke-linecap="round" fill="none"/>
<path transform="scale(.1)" d="M9431 3446h0m-6 24h0m-12-15h0m-13 15h0m-78 67h0m7-15h0m24-27h0m7 6h0m5 6h0m8 9h0m1-11h0m8-12h0m3 12h0m7 33h0m7-16h0m2-41h0m1 15h0m2 17h0m3-31h0m0 35h0m-33 38h0m-14 2h0m-1 24h0m-6-34h0m-3 26h0m-10 20h0m-12-1h0m-3-35h0m-36 20h0m-2-20h0m-2 33h0m-19-36h0m-2 23h0m-25 2h0m-3 2h0m-15-2h0m-11 12h0m-10 6h0m-85 55h0m8-10h0m9-5h0m10 10h0m11 0h0m0-25h0m23 8h0m6-11h0m8-19h0m5 53h0m8-15h0m2-23h0m12 6h0m3 24h0m7-12h0m14-19h0m4-2h0m1-5h0m2 8h0m23 38h0m3-48h0m3 19h0m5 12h0m3-7h0m6 1h0m-28 39h0m-44 12h0m-4-5h0m-4 28h0m-3-15h0m0 1h0m-3-11h0m-4 18h0m-4-25h0m-1-6h0m-3 6h0m-16 31h0m-19 0h0m-34 5h0m-4-30h0m-21-15h0m-3 23h0m-9 6h0m-5-21h0m-3 37h0m-8-21h0m-43 24h0m-81 67h0m9-18h0m7-7h0m3 12h0m8 8h0m1-1h0m6-18h0m5 11h0m20-33h0m5 39h0m3-15h0m0-28h0m8 40h0m17-29h0m8-9h0m4 43h0m1-11h0m0-24h0m1-8h0m7 32h0m31-28h0m1 10h0m4 26h0m0-21h0m3-29h0m4 58h0m6-15h0m34-35h0m2 17h0m6-17h0m33-4h0m-101 67h0m-13 6h0m-21 21h0m-7 11h0m-11-47h0m0 56h0m-2-41h0m-4 34h0m-2-38h0m-5-3h0m-11 3h0m-5-2h0m-4 22h0m-6-29h0m-25 8h0m-13 18h0m-9-16h0m-2 25h0m-1-35h0m-7 25h0m-11 19h0m0-23h0m-7 19h0m0-32h0m-28 44h0m-99 49h0m3-25h0m1 26h0m13-30h0m5 17h0m6 22h0m6-1h0m1-50h0m7 8h0m9 22h0m0-4h0m18 11h0m7-9h0m7 7h0m41-28h0m11-4h0m0 46h0m1-39h0m2 27h0m6-4h0m9-33h0m2 9h0m5 18h0m3 11h0m13-3h0m15-21h0m19-17h0m9 0h0m7 0h0m-104 69h0m-10-7h0m-4 6h0m-14 17h0m-2 5h0m-5 6h0m-4-15h0m-6 21h0m-16-3h0m-16 0h0m-9 8h0m-21-48h0m-1 34h0m-2-23h0m-3 2h0m-32 6h0m-6-16h0m0 45h0m-9-10h0m-4 21h0m-29-33h0m-1 10h0m-4-8h0m15 56h0m2-10h0m19 18h0m1-29h0m25 3h0m23-4h0m3 12h0" stroke="#fff" stroke-width="11" stroke-linecap="round" fill="none"/>
<path transform="scale(.1)" d="M9422 3501h0m3 6h0m9-12h0m3 18h0m11-14h0m5-15h0m-54 56h0m-3 45h0m-13-9h0m-4-10h0m-7 31h0m-11 0h0m-80 61h0m13 1h0m8-2h0m1-6h0m15-8h0m11-6h0m9-25h0m1 18h0m10 2h0m13 11h0m13-17h0m3-6h0m14 6h0m8-7h0m7-1h0m-44 46h0m-4 22h0m-17-11h0m-20-6h0m-2 46h0m-3-45h0m-4 20h0m-4 6h0m-22-8h0m-1 2h0m-5-29h0m0 32h0m-1 10h0m-13-10h0m-2-4h0m-10-10h0m0 14h0m-12 15h0m-30 9h0m-50 53h0m10-22h0m4 22h0m21-41h0m13 15h0m3-6h0m6-18h0m4 36h0m11 5h0m2 3h0m10 11h0m14-55h0m9 49h0m0-16h0m8-3h0m1 7h0m2-18h0m0 5h0m1 16h0m5-5h0m4-7h0m24-27h0m-92 79h0m-10-9h0m-11-7h0m0 10h0m-1 4h0m-24 34h0m-3 4h0m-17-45h0m-6 19h0m-5-7h0m-1 36h0m-6-9h0m-6-43h0m-1 10h0m-10 11h0m-3 28h0m-8-36h0m-10 21h0m-24 8h0m-9 4h0m-2-9h0m-81 57h0m7-11h0m7 22h0m14 4h0m25-24h0m5-30h0m37 27h0m4 18h0m6 10h0m2-28h0m26 13h0m1-28h0m4 23h0m3 11h0m15-21h0m14-4h0m11-7h0m-71 60h0m-1 1h0m-4 5h0m-22 16h0m-13-19h0m-12 10h0m-6 8h0m-14-1h0m-17 4h0m-2 12h0m-1-32h0m-3 26h0m-17-10h0m-27 8h0m-5 5h0m-20-42h0m-7 13h0m-19 5h0m-194 65h0m2 0h0m19 26h0m12-3h0m21 4h0m12-3h0m16-14h0m6 6h0m3 7h0m0-6h0m8 9h0m15-33h0m19 6h0m28 29h0m1-37h0m0-12h0m4 34h0m44-39h0m4 8h0m1-8h0m9 17h0m1-17h0m6 23h0m7-7h0m2 37h0m1-27h0m31 11h0m41-38h0m-150 96h0m-5 0h0m-6-4h0m-19-25h0m-32-1h0m-18-1h0m-20 15h0m-2 24h0m-2-14h0m-4-5h0m-1 13h0m-6-31h0m-7 29h0m0-38h0m-8 48h0m-22-46h0m-17 11h0m-6-1h0" stroke="#fff" stroke-width="11" stroke-linecap="round" fill="none"/>
<path transform="scale(.1)" d="M9086 3698h0m0 18h0m-7-5h0m-3-11h0m-22-19h0m-14 27h0m-81 64h0m5-12h0m1 14h0m0-3h0m10 6h0m14-5h0m10-31h0m3 31h0m1-21h0m2-15h0m2 0h0m1 21h0m1-30h0m2 33h0m0-31h0m3 14h0m34 4h0m18-11h0m2-16h0m9 27h0m10-22h0m-2 110h0m-6-15h0m-3-33h0m-4 38h0m-8 10h0m-5-55h0m-1 15h0m-1 10h0m-1 27h0m-1-15h0m-1-6h0m-7-27h0m-6 8h0m-2 36h0m0-36h0m-3 42h0m-4-25h0m-6-23h0m-5 44h0m-17-20h0m-29 26h0m-10-2h0m-17-49h0m0 44h0m-1-17h0m-4 4h0m-11-6h0m-1-20h0m-17 49h0m-11-32h0m-15 17h0m-3-1h0m-3-7h0m-140 81h0m23-6h0m1 2h0m1-1h0m40-10h0m5-18h0m17 13h0m7 2h0m3-9h0m3-20h0m11 31h0m7 16h0m9-9h0m5-21h0m4-4h0m7-12h0m17-2h0m1 9h0m22 9h0m4 26h0m6-37h0m1 33h0m2-27h0m12 1h0m5 11h0m31-26h0m1 7h0m2 42h0m0-8h0m24-14h0m7 5h0m2-29h0m3 41h0m5 3h0m7-5h0m10-40h0m10 44h0m2-5h0m4-20h0m1-3h0m3-3h0m10 1h0m6 5h0m2 29h0m2-50h0m5 39h0m5-17h0m1-30h0m5 45h0m-19 44h0m-7 0h0m-7-9h0m-15 10h0m-1-28h0m0 31h0m-3-10h0m0 14h0m-32 8h0m-3-23h0m-12 22h0m-1-42h0m0 4h0m-3 6h0m-3-3h0m-6 18h0m0 0h0m-2 9h0m-1-9h0m-10 17h0m0-36h0m-25 5h0m-20 12h0m-2-14h0m-6 25h0m-2-15h0m-4 20h0m-3-34h0m-7 27h0m-14-33h0m-5 11h0m-4 41h0m-8-33h0m-5 33h0m-11-17h0m-9 18h0m-3 4h0m-6-1h0m-8-10h0m-8-28h0m-8 3h0m0-12h0m-2 47h0m-11-21h0m-1-5h0m-1-17h0m-2-4h0m-12 45h0m-4-10h0m-14 11h0m-2-38h0m-5 31h0m-10-45h0m-23 36h0m-2-7h0m-8 9h0m-13-15h0m-21 50h0m6-10h0m12 50h0m14-56h0m6 23h0m13 30h0m3-48h0m21 53h0m4-10h0m2-46h0m9 26h0m8-15h0m1 29h0m0-3h0m2-28h0m20 43h0m4-28h0m16 29h0m7-16h0m3 14h0m2-8h0m19 12h0m9-48h0m4-10h0m6 16h0m14 20h0m1-31h0m0 4h0m3 29h0m4-16h0m6-16h0m1 30h0m1-18h0m3 36h0m1-21h0m1 7h0m3-16h0m4 33h0m7-30h0m20 23h0m3-11h0m13 2h0m3 3h0m10-40h0m11 11h0m11-15h0m-84 63h0m-8 16h0m-4-6h0m-9 19h0m-3 0h0m-3-22h0m-1-6h0m-8 24h0m-11-24h0m-2 39h0m-2-40h0m-2 42h0m-9-18h0m0-17h0m0 4h0m-10 31h0m-20-3h0m-4-37h0m-16 40h0m-8-24h0m-10-3h0m-1 23h0m-2-18h0m-16-12h0m0 17h0m-6-22h0m-4 14h0m-31 2h0" stroke="#fff" stroke-width="13" stroke-linecap="round" fill="none"/>
<path transform="scale(.1)" d="M9072 3704h0m-6 5h0m-111 68h0m27-4h0m3-25h0m5 12h0m9 0h0m35-13h0m24 4h0m12 6h0m3-20h0m20 34h0m7 5h0m3 58h0m-16-11h0m-3-8h0m-4-27h0m-16 17h0m-58 15h0m-4 1h0m-7-1h0m-17-5h0m-1 19h0m0-35h0m-14 29h0m-9-27h0m-5 23h0m-37-8h0m-6-4h0m-10-4h0m-46 20h0m-80 49h0m15-6h0m8 8h0m19-15h0m3-11h0m13 23h0m17 13h0m2-37h0m5 28h0m31 13h0m1-24h0m13-3h0m2-24h0m12 45h0m19-43h0m28 36h0m12-6h0m14-3h0m1 7h0m16-21h0m6 39h0m3 0h0m21-9h0m9-46h0m41 40h0m3-16h0m4-16h0m10-2h0m-40 70h0m-7 19h0m-9-18h0m-3 0h0m-2 4h0m-6 20h0m-3-23h0m-18-18h0m-12 51h0m-1-41h0m-35 36h0m-24-41h0m-8 9h0m-12-5h0m-14 37h0m-46-11h0m-13-12h0m-14 1h0m-8 27h0m-10 7h0m0-38h0m-71 17h0m-24 17h0m-8-8h0m-3-10h0m4 50h0m3 9h0m14-10h0m1 4h0m16 12h0m3-16h0m48 32h0m9-9h0m16-6h0m1 7h0m2-18h0m2 2h0m5-21h0m6 28h0m39-37h0m3 38h0m39 9h0m5-19h0m47-16h0m7 13h0m19-20h0m0 0h0m1 13h0m9-14h0m-77 57h0m-50 25h0m-9 2h0m-18-18h0m-7-8h0m-13 17h0m-9 27h0m-9 3h0m-9-43h0m-45-4h0m-27 31h0m-17-23h0" stroke="#e8ded0" stroke-width="13" stroke-linecap="round" fill="none"/>
<path transform="scale(.1)" d="M9790 3059h0m20-23h0m2 11h0m1-13h0m2 13h0m1-12h0m4 7h0m5 5h0m10-20h0m-37 46h0m-18-7h0m-1 10h0m-4 11h0m-3-9h0m-13 5h0m-13 18h0m-4 15h0m-1 2h0m-4-9h0m-2-17h0m-2 4h0m-2 14h0m-7-2h0m0 4h0m-15-7h0m-1 3h0m-42 67h0m2-24h0m3 1h0m0 17h0m3-26h0m1-3h0m2 10h0m1-8h0m12-11h0m1 19h0m1-26h0m0 26h0m6-18h0m2 13h0m1-8h0m2 0h0m3-9h0m2-3h0m4 4h0m1 2h0m7-8h0m-78 62h0m-2-3h0m-11 22h0m0 13h0m-5-8h0m-3 0h0m0 11h0m-4-18h0m-17 31h0m-6-17h0m-9 25h0m3 5h0m16 0h0" stroke="#fff" stroke-width="12" stroke-linecap="round" fill="none"/>
<path transform="scale(.1)" d="M8721 3836h0m-48 34h0m20-18h0m1 36h0m2-31h0m8-5h0m2 26h0m24-1h0m6 16h0m18-2h0m2-45h0m14 32h0m0 12h0m7-25h0m2 31h0m5-39h0m14 19h0m2 14h0m5 3h0m23 18h0m-4 27h0m-12-9h0m-2-10h0m-16 16h0m-6-1h0m-1-14h0m-3-17h0m-10 45h0m-1-46h0m-3 55h0m-3-24h0m-2-32h0m0 29h0m-9 0h0m-8 20h0m-3-10h0m-1-39h0m-9 2h0m-2 26h0m-8 30h0m-3-17h0m-4 17h0m-8-28h0m-1-20h0m-3 1h0m-3 0h0m0 35h0m0-44h0m-15 50h0m-6-47h0m-1 51h0m-2-6h0m-13-24h0m-4 3h0m-3 15h0m9 48h0m0-23h0m2 22h0m4-21h0m7 29h0m0-8h0m4 26h0m6-35h0m2-9h0m13 14h0m1-11h0m8 7h0m2-7h0m3 26h0m2-35h0m3 40h0m2 10h0m6-5h0m2-31h0m1 22h0m9-31h0m8 8h0m7 7h0m4 26h0m3-16h0m2-14h0m1-7h0m1 13h0m2-30h0m7 50h0m0-37h0m0 36h0m1-6h0m4-13h0m3-11h0m5 34h0m10-28h0m14-14h0m0 16h0m7 9h0m2 22h0m6-1h0m-7 34h0m-26-8h0m-1 26h0m-3-30h0m-6 18h0m-5-8h0m-3 26h0m-4-28h0m-5-22h0m-2 28h0m-8 13h0m-11-23h0m-9-7h0m-6 3h0m-4 11h0m-6-25h0m-18-2h0m-1 3h0m-5 28h0m-8-27h0m98 71h0m12 8h0m7-20h0" stroke="#fff" stroke-width="13" stroke-linecap="round" fill="none"/>
<path transform="scale(.1)" d="M9002 3547h0m-4 1h0m-4 0h0m0 2h0m-5 9h0m-4-19h0m-5 16h0m-10 5h0m-5 36h0m0-5h0m-2 7h0m-3-19h0m0 0h0m0 2h0m-5 13h0m-1-4h0m-1 8h0m-3-18h0m-1 17h0m-3 0h0m-62 52h0m6 4h0m1 1h0m1-24h0m3 3h0m3 20h0m6-5h0m1-10h0m0 16h0m1-30h0m0 19h0m2-20h0m0-1h0m0 20h0m1-11h0m3-1h0m0 1h0m3-14h0m1 27h0m0-39h0m1-1h0m1 38h0m3 10h0m4-11h0m1-27h0m0 2h0m0 36h0m1-23h0m1 13h0m1-33h0m0-2h0m12 18h0m6 12h0m3-16h0m0-17h0m15 0h0m1 21h0m2-6h0m2-19h0m-55 76h0m-10 10h0m-3-18h0m-1 19h0m-9 9h0m-2-22h0m-1-1h0m-6 6h0m-6 36h0m-1-29h0m0 6h0m0-25h0m-4 44h0m0 0h0m-2-27h0m0 20h0m-2 1h0m-7-27h0m0 24h0m0 3h0m-11 2h0m-6 8h0m-3-11h0m0-8h0m-13-7h0m-2 1h0m-25 28h0m-56 42h0m11-1h0m1-3h0m10-2h0m1-15h0m2 5h0m1 23h0m4-37h0m2 19h0m1-6h0m2 25h0m2 8h0m1-17h0m4 4h0m7-30h0m0 10h0m2-24h0m2 25h0m1 8h0m1 15h0m1-22h0m11-20h0m1 40h0m3-29h0m1-16h0m2 27h0m8-24h0m1 2h0m0 29h0m13-27h0m1 13h0m0-13h0m2-3h0m1 19h0m11-13h0m1-5h0m14 2h0m-75 100h0m-15-28h0m-6 5h0m-8-14h0m-4-1h0m-2 19h0m-3 15h0m-4-40h0m-3-1h0m-1 0h0m-7 26h0m-15 19h0m-1-11h0m-14-9h0m-8 24h0m-25-9h0m-1 45h0m1 13h0m3 18h0m4-1h0m7 1h0m5-26h0m11 11h0m0-20h0m0-4h0m3 22h0m4 9h0m2-23h0m10 7h0m1-8h0m10 4h0m11-25h0m6 18h0m4 19h0m-38 63h0m-6-22h0m-6 28h0m-4-46h0m-5 6h0m-2 14h0m-9 5h0m-3 17h0m-1-36h0m0 1h0m-3 26h0m0 19h0m-3-58h0m-6 58h0m-7-28h0m-5 5h0m-4-6h0m0-28h0m-6 58h0m-7-40h0m-13-5h0m21 67h0m2 26h0m4-31h0m0 3h0m2 18h0m9-2h0m9 12h0m4-9h0m2 14h0m0-52h0m4 33h0m1 21h0m4-15h0m8-38h0m3 27h0m29 27h0m-25 15h0m-9-2h0m-17 8h0m-4-8h0m-2-8h0m-1 4h0" stroke="#3d4fa8" stroke-width="12" stroke-linecap="round" fill="none"/>
<path transform="scale(.1)" d="M8990 3526h0m21 25h0m-8-4h0m-8-7h0m-9 12h0m-2-4h0m-6 20h0m-2-4h0m-2 22h0m-2-16h0m0 13h0m-14 5h0m-42-3h0m-30 61h0m0 4h0m5-15h0m11 2h0m12 20h0m6-19h0m5-28h0m2 40h0m0-13h0m1-10h0m14-12h0m0 32h0m11-1h0m1-17h0m13-17h0m-62 57h0m-2-8h0m-7 15h0m-5-13h0m-3 48h0m-4-7h0m-9-32h0m-4 18h0m-9 11h0m-5-7h0m-3-3h0m-9 5h0m-2 4h0m-3 2h0m-3 15h0m-12-31h0m-3 14h0m-21 12h0m-52 58h0m12-43h0m8 52h0m1-4h0m3-3h0m2-12h0m1-18h0m3 28h0m20-15h0m22 9h0m9-35h0m1 0h0m21 12h0m1-5h0m-51 63h0m-28-1h0m-2-15h0m-15 13h0m-8 7h0m-1 17h0m-3 3h0m-8 12h0m-4-9h0m-2-12h0m-92 73h0m6 1h0m18-16h0m35 21h0m13-19h0m8 2h0m16-21h0m2-15h0m12 20h0m23 31h0m19-20h0m-72 50h0m-1 31h0m-9-24h0m-1 24h0m-2-35h0m-6 40h0m-2-7h0m-2-8h0m-2 8h0m-3-8h0m-3-19h0m-1-6h0m-8 29h0m-11-10h0m-11-10h0m-34-6h0m-19-8h0m30 71h0m1 19h0m1-1h0m20-3h0m14-4h0m0 15h0m8-38h0m2 35h0m3-21h0m2-2h0m31 14h0m3-9h0m3-19h0m0 25h0m4 23h0m-14 4h0m-12 12h0m-2-8h0m-1 9h0m-26-4h0m-37 8h0m-36 2h0" stroke="#aab4e0" stroke-width="12" stroke-linecap="round" fill="none"/>
<path transform="scale(.1)" d="M9706 3534h0m150 37h0m-95-3h0m-85 11h0m-10 11h0m-32-31h0m202 64h0m95 28h0m17-15h0m-125 67h0m-134-25h0m-2 15h0m-25 86h0m24-33h0m32 26h0m63 47h0m-343 80h0m337-33h0m75-1h0m-20 40h0m-61 19h0m-65 17h0m-62-40h0m-19 50h0m-273 41h0m107-12h0m35 2h0m126-1h0m-224 60h0m-150 5h0m122 142h0m-149-39h0m-49-8h0m-193 50h0m325 62h0m25-9h0m91-31h0m-294 60h0m-129-8h0m109 95h0" stroke="#3d4fa8" stroke-width="12" stroke-linecap="round" fill="none"/>
<path transform="scale(.1)" d="M9091 3710h0m-1 2h0m-27-17h0m-12-9h0m-108 93h0m28-13h0m56 3h0m62-1h0m-50 15h0m-37 10h0m-249 100h0m104-28h0m76 32h0m74-25h0m43 13h0m12 5h0m16-13h0m-109 45h0m-18 30h0m-68 3h0m-139-44h0m3 91h0m106-8h0m92-32h0m-130 101h0" stroke="#3d4fa8" stroke-width="12" stroke-linecap="round" fill="none"/>
<path transform="scale(.1)" d="M8342 2869h0m225 44h0m12 5h0m229 73h0m-421-24h0m165 80h0m20 49h0m-210 9h0m-44-31h0m115 62h0m-69 152h0m76 47h0" stroke="#3d4fa8" stroke-width="12" stroke-linecap="round" fill="none"/>
<path transform="scale(.1)" d="M8782 2981h0m-74 47h0m-150 59h0m-123 75h0m181 12h0m124 53h0m-13-15h0m-292 85h0m53 6h0m32 108h0m-102 31h0m101 66h0m86 3h0m-176 116h0" stroke="#0d857f" stroke-width="12" stroke-linecap="round" fill="none"/>
<path transform="scale(.1)" d="M9695 3456h0m-10-10h0m-10 10h0" stroke="#f6a124" stroke-width="14" stroke-linecap="round" fill="none"/>
<path transform="scale(.1)" d="M9735 3466h0m-20-20h0" stroke="#a8d29a" stroke-width="16" stroke-linecap="round" fill="none"/>
</g>
<defs><linearGradient id="mg" x1="0" y1="1" x2="0" y2="0">
<stop offset="0" stop-color="#000004"/>
<stop offset="0.1" stop-color="#150e38"/>
<stop offset="0.2" stop-color="#3b1a70"/>
<stop offset="0.3" stop-color="#5f2585"/>
<stop offset="0.4" stop-color="#8a2c86"/>
<stop offset="0.5" stop-color="#b8397c"/>
<stop offset="0.55" stop-color="#d2416f"/>
<stop offset="0.6" stop-color="#e85a66"/>
<stop offset="0.7" stop-color="#f37a5e"/>
<stop offset="0.8" stop-color="#f8945e"/>
<stop offset="0.9" stop-color="#fcc98a"/>
<stop offset="0.96" stop-color="#fbeeb0"/>
<stop offset="1" stop-color="#fcfdbf"/>
</linearGradient></defs>
<rect x="1029.5" y="15.4" width="10.2" height="195" fill="url(#mg)" stroke="#555" stroke-width="0.5"/>
<path d="M1039.7 15.6h2.4" stroke="#222" stroke-width="0.8"/>
<text x="1043.8" y="22.2" font-size="13.4" fill="#222">100%</text>
<path d="M1039.7 54.5h2.4" stroke="#222" stroke-width="0.8"/>
<text x="1043.8" y="60.8" font-size="13.4" fill="#222">80</text>
<path d="M1039.7 93.4h2.4" stroke="#222" stroke-width="0.8"/>
<text x="1043.8" y="99.2" font-size="13.4" fill="#222">60</text>
<path d="M1039.7 132.3h2.4" stroke="#222" stroke-width="0.8"/>
<text x="1043.8" y="137.2" font-size="13.4" fill="#222">40</text>
<path d="M1039.7 171.2h2.4" stroke="#222" stroke-width="0.8"/>
<text x="1043.8" y="175.6" font-size="13.4" fill="#222">20</text>
<path d="M1039.7 210.1h2.4" stroke="#222" stroke-width="0.8"/>
<text x="1047.5" y="214.9" font-size="13.4" fill="#222">0</text>
<defs><linearGradient id="zg" x1="0" y1="0" x2="0" y2="1"><stop offset="0" stop-color="#e01214"/><stop offset="0.12" stop-color="#e83a36"/><stop offset="0.3" stop-color="#f29a8e"/><stop offset="0.48" stop-color="#ffffff"/><stop offset="0.62" stop-color="#c3c8ee"/><stop offset="0.8" stop-color="#7585d2"/><stop offset="0.93" stop-color="#4560bd"/><stop offset="1" stop-color="#3550ae"/></linearGradient></defs>
<rect x="1050.4" y="507.5" width="10.9" height="205" fill="url(#zg)" stroke="#555" stroke-width="0.5"/>
<path d="M1061.4 507.7h2.6M1061.4 570.1h2.6M1061.4 632.7h2.6M1061.4 695.5h2.6M1061.4 538.7h2M1061.4 601.4h2M1061.4 664.4h2" stroke="#222" stroke-width="0.8"/>
<text x="1068.4" y="514.4" font-size="13.6" fill="#222">3</text>
<text x="1068.4" y="575.7" font-size="13.6" fill="#222">2</text>
<text x="1068.4" y="639.4" font-size="13.6" fill="#222">1</text>
<text x="1068.4" y="703.4" font-size="13.6" fill="#222">0</text>
<text transform="translate(1042.8 608) rotate(-90)" text-anchor="middle" font-size="13.75" fill="#222">z-score of Expression</text>
<path d="M36.7 515.2L198.6 607.9L36.3 702.6Z" fill="#e4e4e4"/>
<path transform="scale(.1)" d="M367 5264h0m0 279h0m30 185h0m-10 66h0m-20 163h0m40 61h0m37 128h0m90 55h0m36 98h0m37-51h0m75 20h0m51 0h0m-362 106h0m203 35h0m2 2h0m168-17h0m162 31h0m-193 31h0m-93-14h0m-12 15h0m-6-16h0m-2 12h0m-9 25h0m-7-29h0m-7 29h0m-4-35h0m-6 27h0m-5 7h0m0-18h0m-12 14h0m-15-36h0m-24 4h0m-7 45h0m6 18h0m2 31h0m8 1h0m22 2h0m1-43h0m6 10h0m2-20h0m6 16h0m1 28h0m0-48h0m10 21h0m1-8h0m0 13h0m4-26h0m5 19h0m22 13h0m1-14h0m25 34h0m107 4h0m112-10h0m-193 51h0m-68-19h0m-17 35h0m-8-44h0m-6 42h0m-1-5h0m-11-47h0m-6 53h0m-15-45h0m-1 27h0m-4-1h0m-2-10h0m-1 21h0m0-26h0m-21-18h0m-1 39h0m-36-2h0m-27 23h0m40 52h0m35-35h0m6 31h0m4-2h0m11-8h0m3-22h0m2-7h0m2 28h0m9-26h0m7 35h0m53-4h0m22 12h0m255 51h0m-255-6h0m-83-15h0m-4-4h0m-9 26h0m-5-22h0m-4-18h0m-1 8h0m-11-6h0m-4 16h0m-8-17h0m-12 0h0m-2 41h0m-2 3h0m0-11h0m-10 15h0m-6-8h0m-42 65h0m22-17h0m2-6h0m3 20h0m7-24h0m2 24h0m8-20h0m2-25h0m4 41h0m3-38h0m5 49h0m3-9h0m21-17h0m131 6h0m78 41h0m-186 4h0m-46 25h0m-4-23h0m-2-24h0m0 7h0m-18 17h0m-3-21h0m-23 43h0m-2-6h0m-3-40h0m0 57h0m-3-18h0m-9-32h0m0 42h0m-3-9h0m-21 43h0m6-21h0m4 40h0m7 8h0m9-29h0m2 23h0m1-11h0m1 9h0m1 6h0m2-6h0m2-5h0m0-15h0m1 22h0m6 1h0m9-25h0m6 3h0m0-11h0m1 33h0m4-4h0m38 2h0m54-10h0m51-30h0m-157 65h0m-3 16h0m0 31h0m-1-38h0m-9 8h0m0-23h0m-5 0h0m-7 39h0m-8 12h0m-4-22h0m-3-3h0m-1 9h0m-1 2h0m-4 7h0m-2-2h0m-3 13h0m-11-16h0m-2 3h0m16 46h0m3-4h0m3 23h0m3-43h0m2-6h0m6 2h0" stroke="#cecece" stroke-width="44" stroke-linecap="round" fill="none"/>
<path transform="scale(.1)" d="M1104 5861h0m-381 0h0m398 132h0m-27-16h0m18 50h0m0 28h0m16-35h0m6 31h0m10-4h0m7-5h0m8 4h0m11 0h0m6-26h0m19-6h0m7 45h0m5-24h0m39 18h0m26 3h0m1-46h0m11 28h0m11-19h0m109 5h0m1 32h0m24-23h0m12 4h0m82-5h0m21 23h0m44-7h0m4 9h0m25-1h0m27-1h0m80 4h0m3-27h0m57 26h0m110 0h0m86 20h0m-11-7h0m-24 2h0m-28-1h0m-8 5h0m-62 4h0m-47 5h0m-18-18h0m-13 6h0m-17 2h0m-26-12h0m-6 1h0m-44 11h0m-8-14h0m-16 17h0m-5-14h0m-15 16h0m-5 12h0m-11-11h0m-9-8h0m-13-1h0m-4 10h0m-10 7h0m-2-16h0m-43-7h0m-12 3h0m-2-4h0m0 15h0m-18 22h0m-4-43h0m-58 33h0m-35 0h0m-11-13h0m-22 5h0m-1 8h0m-7 7h0m-4-29h0m-6 9h0m-24-14h0m-5 32h0m-7 12h0m-16-46h0m-1 1h0m-2 11h0m-1-12h0m-1 18h0m-17 14h0m-2 11h0m-2-21h0m-5-12h0m-10 5h0m-7 25h0m-5 6h0m-5-14h0m-8-12h0m-1-14h0m-1 31h0m-2 9h0m-11-14h0m-2-15h0m-8 5h0m-2-10h0m-2 3h0m-13 22h0m-4 6h0m-3-8h0m-9-25h0m-8-3h0m0 11h0m-14 24h0m-11-31h0m-27-6h0m-7-2h0m-16 13h0m-27 19h0m-61-26h0m11 67h0m178 18h0m11-17h0m25-18h0m18 8h0m21-11h0m17 1h0m9 4h0m4 30h0m2-11h0m31-16h0m9 93h0m-101-14h0m-204-16h0m-47 41h0m-35-5h0m-132 55h0m255-10h0m-200 41h0m-116 24h0m-108 2h0m73 25h0m-87 112h0m-72 41h0m27 36h0m-108 106h0m20 4h0m-40 61h0m-62 94h0" stroke="#7fb2f7" stroke-width="44" stroke-linecap="round" fill="none"/>
<path transform="scale(.1)" d="M379 5175h0m10 22h0m4-3h0m2 5h0m7-7h0m0 22h0m2 0h0m0-35h0m3 24h0m6 2h0m80 59h0m-51 5h0m-4-10h0m-3-39h0m-2 21h0m-1 15h0m-4 8h0m-2 12h0m-3-11h0m-3-15h0m-3 6h0m0-8h0m-6-22h0m-1 49h0m-9-28h0m2 35h0m8 3h0m1 6h0m10 11h0m7-21h0m7 51h0m0-43h0m0 16h0m0-6h0m13 7h0m3 14h0m5 12h0m1 6h0m4-19h0m3 9h0m5 7h0m2-7h0m3 10h0m65-58h0m-54 110h0m-11-9h0m0 17h0m-3-47h0m-13 25h0m-8-14h0m-1-18h0m-1 8h0m14 63h0m3 6h0m10 28h0m6-49h0m1 44h0m6-33h0m22 27h0m4 8h0m-21 23h0m-1-9h0m33 89h0m-21 92h0m29 51h0m250-4h0m98 65h0m-373-21h0m-45-30h0m-20 71h0m45 41h0m37 0h0m61 65h0m-53-24h0m-51 14h0m-8 122h0m-11-41h0m412 220h0m-179 21h0m-239 20h0m72 133h0m-51 128h0m-55 228h0m-27 31h0m31 26h0m-41 116h0" stroke="#0a2be8" stroke-width="44" stroke-linecap="round" fill="none"/>
<path d="M236.7 514.2L399.2 607.9L236.7 701.6Z" fill="#e4e4e4"/>
<path transform="scale(.1)" d="M2397 5600h0m-20 20h0m75 133h0m-24-21h0m-37 231h0m245 38h0m1146 57h0m-1395 21h0m896 102h0m-672 101h0m554-36h0m108 108h0m-739-25h0m-55 35h0m112 10h0m714 86h0m-9-15h0m-2 21h0m-13-2h0m-405 6h0m-280-5h0m-18-6h0m-8 16h0m-8-1h0m-12-16h0m-2-11h0m-6 24h0m-1-9h0m-14 14h0m-7-44h0m-7 20h0m-9 9h0m-46 65h0m1 12h0m23-42h0m1 0h0m3 6h0m5 18h0m1 14h0m8 5h0m8-53h0m9 11h0m6 9h0m3 11h0m76 1h0m559 11h0m96-49h0m1 7h0m-116 63h0m-36 12h0m-24 19h0m-13-7h0m-295-27h0m-214-3h0m-1 17h0m-5-10h0m-17 44h0m-6-41h0m-7 30h0m-2-4h0m-4-36h0m-1 15h0m-11-4h0m-7 42h0m-15-4h0m-2-11h0m-3-11h0m-12 15h0m-7 11h0m-4-54h0m0-1h0m-61 30h0m-6 4h0m25 45h0m17 38h0m6-17h0m7-32h0m8 2h0m2 6h0m0 1h0m9 35h0m2-48h0m6 31h0m6 14h0m2 0h0m5-30h0m14 14h0m2-3h0m13-4h0m2-25h0m11 2h0m5 44h0m3-8h0m9-24h0m5-7h0m100 19h0m315 17h0m3 7h0m27-27h0m16 7h0m5-3h0m15-11h0m7-6h0m-96 52h0m-106 47h0m-259-31h0m-104-3h0m0 28h0m-2-14h0m-3 25h0m-9-19h0m0-20h0m-9-8h0m-8 38h0m-4-5h0m-1 14h0m-6-7h0m-3-13h0m-15 1h0m-5-2h0m-2-19h0m-15 9h0m-20-3h0m-2 87h0m5-44h0m2 20h0m4 22h0m2-2h0m18-40h0m4 50h0m4-54h0m7 17h0m5-3h0m4 18h0m1 11h0m3-14h0m2 14h0m3-36h0m4 26h0m2-34h0m5 17h0m0 25h0m2-6h0m3-19h0m3-17h0m2 50h0m1-24h0m0 16h0m1-23h0m0-17h0m1 39h0m1-32h0m2 30h0m0-22h0m1 21h0m7-11h0m8-4h0m10-11h0m14-13h0m3 20h0m15 7h0m224 11h0m48-10h0m-83 65h0m-21 13h0m-44-11h0m-133 0h0m-24-35h0m-3 59h0m-5-34h0m-4 30h0m-1-47h0m-2 33h0m-3-7h0m-2-6h0m-7 19h0m-3-24h0m-1-4h0m-2 5h0m-6 4h0m-1 6h0m-1 17h0m-4-21h0m-2-24h0m-1 2h0m-2 3h0m-2 6h0m-6 14h0m-1 5h0m0-15h0m-6-18h0m-1 12h0m-6 34h0m-8 6h0m-1 4h0m-1-46h0m-1 15h0m-6 6h0m-1-4h0m-1 17h0m-2 5h0m-15 0h0m-4 7h0m-1-44h0m-1 35h0m10 41h0m12 12h0m6 10h0m3 1h0m1 5h0m0-42h0m2 8h0m11 2h0m0-2h0m15 12h0m3-29h0m1 17h0m2-14h0m4-11h0m1 40h0m0-1h0m0 0h0m4-15h0m8 12h0m3 8h0m1-43h0m16 9h0m4 2h0m5-12h0m94 43h0m4-28h0m5 23h0m-120 61h0m-36-18h0m-9 3h0m-2 11h0m-4 10h0m0-2h0m-5 16h0m-1-44h0m-5 24h0m0-15h0m-1-9h0m-5 28h0m-7-14h0m-3 30h0m0-2h0m0-20h0m-6 5h0m-1 7h0m-2-27h0m-8 0h0m-1 57h0m1 10h0m6-27h0m2 29h0m2-8h0m2 2h0m1-18h0m1 21h0m1-1h0m5-3h0m20-23h0m2 13h0m4 12h0m11-19h0" stroke="#cecece" stroke-width="44" stroke-linecap="round" fill="none"/>
<path transform="scale(.1)" d="M3436 5932h0m76-37h0m138 7h0m31 14h0m138 81h0m-67-47h0m-636 47h0m204 27h0m204-6h0m345 41h0m116 20h0m-21 9h0m-3-5h0m-1 3h0m-1 1h0m-1 7h0m-1-3h0m-7-20h0m-1 5h0m-7 11h0m-7-7h0m0 10h0m-1-3h0m-11-1h0m-9-11h0m-4 3h0m-1 6h0m-9 9h0m-3-4h0m-6 7h0m-1-31h0m-3 36h0m-1-17h0m-2-15h0m-14 12h0m-6 5h0m-6 12h0m-1-5h0m-6-20h0m-3 16h0m-13 0h0m-1-6h0m0-5h0m-2 10h0m-1-2h0m-14 15h0m-2-26h0m-6 9h0m-2 1h0m0 12h0m-2-7h0m-3 17h0m-1-7h0m-1-2h0m-5-14h0m-9 13h0m-5 5h0m-11-10h0m-1 6h0m-14 5h0m-1 4h0m-3-28h0m-1 12h0m-1 3h0m-4 18h0m-1-13h0m-3-2h0m0-7h0m-3-11h0m-6 16h0m-1-9h0m-2 1h0m-5-2h0m-14 34h0m-1-24h0m-2-4h0m-2-5h0m0 8h0m-2 7h0m-1-1h0m0-19h0m-1-4h0m-4 16h0m-8 20h0m-1-24h0m-3 22h0m-1 0h0m-3 5h0m-6-52h0m-3 37h0m-5-6h0m-4 19h0m-4 3h0m-1-24h0m-5 11h0m-5 9h0m-11-4h0m0-10h0m-2-38h0m-1 46h0m-8-22h0m0 21h0m-4-28h0m-1 2h0m-4 5h0m-1 18h0m-3-6h0m0 2h0m-1 3h0m-4 6h0m-6-4h0m-3-9h0m-5 0h0m-1 22h0m-7-2h0m-7-10h0m-4 5h0m-3 1h0m-6-19h0m-8 22h0m0 1h0m-4-19h0m-1-3h0m-14 3h0m-1-12h0m-3 30h0m-5-6h0m-6-20h0m-1 31h0m-7-1h0m-5-19h0m-8-15h0m-3 24h0m-6-14h0m-2 9h0m-2 3h0m-1-5h0m-6 15h0m-12-15h0m-3 6h0m-1-32h0m-2 40h0m-1-9h0m-1-3h0m-5 9h0m-2-19h0m-15 12h0m0 9h0m-17-9h0m-2 5h0m-9-1h0m-1-5h0m-3-2h0m-8-2h0m-5 11h0m-11 1h0m-2-6h0m-1-10h0m-4 5h0m-25-8h0m-14 25h0m-1-22h0m-6-1h0m-2 5h0m-4 5h0m-1 12h0m0-8h0m-3-1h0m-3-7h0m-1 9h0m-12 0h0m0 5h0m-15 3h0m-58-20h0m-1 10h0m-21-7h0m-4 18h0m-8-19h0m-5 0h0m-13 19h0m-1-22h0m-219 48h0m15 28h0m0-16h0m3-3h0m39 14h0m57-48h0m11 33h0m6-15h0m12-1h0m8-3h0m11 12h0m44-23h0m3 20h0m12-2h0m5-16h0m3-5h0m3 7h0m2-5h0m2 22h0m1-3h0m1 5h0m4-18h0m2 15h0m1-21h0m8 2h0m12 17h0m12 22h0m7-25h0m2-14h0m1-2h0m3 8h0m3 28h0m10-30h0m7 30h0m14-30h0m3-1h0m2 18h0m1-2h0m5-13h0m4-5h0m20 17h0m4-19h0m1 15h0m7-7h0m5-5h0m0-2h0m2 6h0m8-6h0m5 26h0m14-13h0m14-10h0m17-2h0m5 15h0m25-10h0m5-7h0m55 12h0m0-11h0m4-4h0m26 6h0m8-3h0m10 0h0m12-1h0m15 0h0m19-1h0m24 0h0m16 3h0m60 2h0m122-5h0m-31 70h0m-71 41h0m-82-21h0m-55 21h0m-293-46h0m-274-6h0m-13 2h0m-56 3h0m-20 25h0m-1-15h0m-27 41h0m-14 16h0m75-6h0m128-4h0m214 20h0m112 10h0m275-20h0m-607 61h0m-273 4h0m620 67h0m-355 78h0m-199 177h0m24 20h0m-320 214h0m-187 129h0m59-37h0" stroke="#7fb2f7" stroke-width="44" stroke-linecap="round" fill="none"/>
<path transform="scale(.1)" d="M2367 5207h0m10-17h0m1-21h0m1-9h0m0 23h0m5-11h0m20 17h0m1 25h0m0-26h0m129 62h0m-89 14h0m-9-11h0m-4-7h0m-6 25h0m-8-2h0m0-19h0m0 19h0m-4-39h0m-1 39h0m-3-32h0m-1 5h0m-21-2h0m-7 2h0m-8 38h0m41 8h0m3 23h0m7-25h0m4 39h0m1-39h0m4 31h0m1-13h0m14 25h0m5-5h0m2 4h0m11 1h0m3 2h0m5-10h0m13 15h0m2-8h0m61-44h0m177 82h0m-14 17h0m-6 10h0m-17-25h0m-26 3h0m-20-3h0m-17 11h0m-3-13h0m-2 6h0m-19-5h0m-21 16h0m-42-16h0m-60-23h0m-6 5h0m-4 4h0m-7-5h0m-2 1h0m44 155h0m-71 8h0m-6-14h0m122 78h0m550-2h0m-513 42h0m-23 100h0m1314 302h0m-1507 910h0" stroke="#0a2be8" stroke-width="44" stroke-linecap="round" fill="none"/>
<path d="M437.7 513.6L600.7 607.3L437.3 702.2Z" fill="#e4e4e4"/>
<path transform="scale(.1)" d="M4381 5264h0m4 244h0m2 204h0m-2 82h0m328 112h0m10 40h0m-30 72h0m-21 61h0m-61 20h0m-20-30h0m-37 61h0m57 61h0m-51-10h0m-173 51h0m31 16h0m230 4h0m55 71h0m-163 21h0m-67 71h0m53-10h0m85-31h0m112 37h0m47 38h0m-88 17h0m-173 10h0m-122-4h0m234 45h0m618-10h0m-363 40h0m-255 51h0m-120-24h0m-5 21h0m-8-17h0m-41 8h0m-35 52h0m56-14h0m6 30h0m2-52h0m45 41h0m447 26h0m-37 9h0m-25 22h0m-173-10h0m-40 10h0m-37-20h0m-126 30h0m-21-25h0m-3-25h0m-21 36h0m-6-1h0m-6-7h0m-2-16h0m-2 33h0m-11-16h0m-20 25h0m-24 4h0m-1-4h0m-11-25h0m-19 21h0m4 64h0m12-37h0m0 24h0m4 17h0m1-2h0m11-48h0m3 13h0m0 31h0m1-8h0m9-44h0m2 32h0m1-7h0m3 28h0m0-5h0m4-48h0m18 35h0m12 10h0m1-28h0m7-16h0m19 5h0m270 35h0m15 5h0m36-21h0m-72 53h0m-33-4h0m-6 10h0m-21 25h0m-12-10h0m0 3h0m-5-1h0m-66-19h0m-131 22h0m-4-8h0m-4-27h0m-3 38h0m-3-23h0m-7-19h0m-1 18h0m-7 35h0m-2-54h0m-5 17h0m-10 36h0m0 2h0m-4-12h0m-8 8h0m-3-10h0m-1-41h0m0 41h0m-1-28h0m-31-9h0m-2 82h0m2 28h0m15-51h0m0 26h0m3 8h0m9-2h0m1-14h0m4-18h0m15 12h0m2 9h0m2 14h0m1-33h0m14 17h0m1-15h0m3-7h0m13 23h0m18 31h0m79-6h0m2 2h0m29-29h0m2-3h0m-56 57h0m-124-5h0m-8 26h0m-3 0h0m-3-14h0m-1 14h0m-4 19h0m-4-3h0m-1-26h0m-1-22h0m-1 9h0m-1-5h0m-2 32h0m-7 35h0m7-16h0m3 11h0m10 3h0m4-14h0m4 41h0m4-15h0m1-3h0m3 4h0m13-28h0" stroke="#cecece" stroke-width="44" stroke-linecap="round" fill="none"/>
<path transform="scale(.1)" d="M4418 5172h0m81 86h0m255 108h0m-367 14h0m424 591h0m808 81h0m11-49h0m10 0h0m193 56h0m10-11h0m18 4h0m17 5h0m21-4h0m17-15h0m12 13h0m75 22h0m-17-4h0m-33 15h0m-1 12h0m-6-21h0m-4 9h0m-4-3h0m-1-15h0m-1 13h0m-17-1h0m0 17h0m-1-1h0m-1-25h0m-9 2h0m-14 24h0m-4-33h0m-2 19h0m-3 13h0m0-9h0m-9-12h0m-5 4h0m-2 19h0m-7-2h0m-2-8h0m-4 1h0m-10 21h0m-17-41h0m-16 40h0m-6-29h0m-23-2h0m-456 33h0m359 31h0m55 20h0m119-40h0m-89 71h0m-40 10h0m-12 18h0m-2 0h0m-20 10h0m0 3h0m-101 58h0m13 2h0m38-35h0m19-9h0m4-2h0m9 0h0m-108 61h0m-1-4h0m-4 6h0m-42 23h0m-17-2h0m-3 28h0m-9-8h0m-437 55h0m324 13h0m0-3h0m36-27h0m11 1h0m20-17h0m18-3h0m2-7h0m-81 58h0m-18 15h0m-7-4h0m-10 13h0m-156 63h0m-801 350h0m92 81h0m-65-4h0" stroke="#7fb2f7" stroke-width="44" stroke-linecap="round" fill="none"/>
<path transform="scale(.1)" d="M4403 5158h0m-10-3h0m-12 13h0m38-2h0m4 21h0m0-13h0m1 2h0m1-3h0m2 28h0m7-12h0m8 12h0m14-4h0m2 10h0m27 4h0m6-4h0m11 5h0m65 47h0m-4-14h0m-1 19h0m-1 7h0m-4-16h0m-9 4h0m-7-23h0m-8-7h0m-9-7h0m-19-1h0m-3 13h0m-4-6h0m-11-4h0m-6-4h0m-15 0h0m-10 7h0m6 112h0m231 57h0m-117-20h0m-36-4h0m-96 59h0m61-20h0m395 36h0m184 106h0m16 10h0m20 11h0" stroke="#0a2be8" stroke-width="44" stroke-linecap="round" fill="none"/>
<path d="M644.7 512.8L808.7 607.6L644.3 701.3Z" fill="#e4e4e4"/>
<path transform="scale(.1)" d="M6485 5150h0m0 7h0m-4-7h0m-9-7h0m-18 70h0m2-21h0m10-13h0m1 16h0m3-6h0m3-24h0m18-1h0m8-4h0m22 50h0m6-27h0m9 1h0m25 33h0m6-16h0m132 76h0m-11 0h0m-33-23h0m-26 0h0m-7-19h0m-10 9h0m-7-11h0m-7 12h0m-1-7h0m-110 34h0m-3-29h0m-28-12h0m1 71h0m14 19h0m10 17h0m1-55h0m12 45h0m149-46h0m11 12h0m31-8h0m24 39h0m1-34h0m4 29h0m9 0h0m3-20h0m23 25h0m25 10h0m5-5h0m11 0h0m50 47h0m-9-15h0m-36-9h0m-217-6h0m-104-1h0m-3 16h0m-14-7h0m-2 91h0m3-35h0m3 20h0m1-16h0m0-12h0m1 5h0m14 19h0m11-13h0m3 17h0m77-8h0m198-15h0m338 104h0m-586 1h0m-33-2h0m-2-16h0m-11-2h0m-12 26h0m-7-32h0m3 72h0m10-5h0m14 8h0m4-23h0m257 1h0m294-17h0m126 20h0m32 32h0m17 39h0m-532 8h0m-142-22h0m-79 35h0m14 7h0m15 57h0m289-13h0m606 1h0m-284 13h0m-117 56h0m-382-15h0m-127-3h0m-13-9h0m11 68h0m2 12h0m258-10h0m363-18h0m45 62h0m-204 21h0m-427-6h0m-51-21h0m9 79h0m107 20h0m149-36h0m817-5h0m4-15h0m8 16h0m71 7h0m0-9h0m5 21h0m19 10h0m24-1h0m34 13h0m174 25h0m-14 37h0m-16-6h0m-2-16h0m-31 22h0m-11-16h0m-2 11h0m-7-25h0m-23-13h0m-45 5h0m-41-4h0m-451 34h0m-1-13h0m-35-11h0m-692 1h0m-24 5h0m-10-23h0m-7 101h0m3 6h0m106-38h0m369-14h0m34 39h0m191-2h0m83-23h0m6-2h0m5 16h0m67-5h0m5 22h0m15-1h0m7 10h0m506-44h0m35-7h0m24 16h0m19-3h0m59 35h0m3-5h0m24 1h0m17 29h0m-11-8h0m-13 21h0m-4-6h0m-13-20h0m-4 31h0m-4 11h0m-2-37h0m-7 25h0m-3-24h0m-6-5h0m-4 30h0m0-2h0m-2-7h0m-7-14h0m-5 26h0m-3-12h0m-4 11h0m-2-24h0m-1 28h0m-6-6h0m-2 0h0m-3-17h0m0 28h0m-8 4h0m0-15h0m-5-6h0m-2 7h0m-25-19h0m-1 26h0m-25 2h0m0-36h0m-3 23h0m-3-9h0m-8 4h0m-10 11h0m-15-14h0m0 8h0m0 16h0m-1-18h0m-5-3h0m-7-7h0m-17 11h0m-6 11h0m-9 12h0m-19-4h0m-4-22h0m0 19h0m-19-2h0m-3-12h0m-29 1h0m-23 4h0m-16 17h0m-7-47h0m-42 45h0m-10-5h0m0-2h0m-27-24h0m-3 28h0m-22 1h0m-19-33h0m-40 33h0m-29-2h0m-3-5h0m-81-22h0m-8 10h0m-17 21h0m-3-7h0m-5 9h0m-4-45h0m-23-8h0m-19 16h0m-9-22h0m-8 5h0m-19 52h0m-27-9h0m-155-9h0m-83-18h0m-36 37h0m-12-55h0m-125 3h0m-130 0h0m-252 1h0m13 68h0m4 9h0m30 31h0m110-8h0m260 1h0m43-28h0m34 30h0m53-5h0m8-43h0m13 35h0m3 15h0m33-14h0m1-7h0m9 1h0m3-26h0m8 6h0m37 2h0m27 27h0m1-6h0m4 3h0m6-11h0m1-4h0m7 24h0m6-28h0m8 29h0m9-8h0m43 6h0m0-27h0m3-4h0m0 8h0m2 30h0m12-26h0m19-18h0m0 16h0m1-14h0m24 7h0m2-8h0m11 28h0m5-31h0m17 31h0m9 12h0m10-18h0m18 23h0m8-9h0m0 3h0m4 1h0m0 8h0m16-45h0m9 6h0m4 27h0m18-30h0m17-2h0m1 45h0m3-11h0m2-23h0m0 9h0m1 4h0m0 0h0m5 10h0m3-7h0m23-11h0m2-7h0m2-4h0m3 11h0m4 22h0m10-26h0m7 21h0m26-26h0m5 1h0m20 0h0m16 23h0m15-39h0m2 50h0m1-20h0m2-15h0m10 35h0m2-41h0m22-3h0m3 13h0m7 0h0m29-6h0m5 15h0m14-15h0m1-12h0m1 9h0m15-2h0m1-3h0m5-1h0m9 25h0m8-16h0m3-2h0m4-1h0m10 5h0m21-20h0m18 21h0m4-1h0m21-18h0m52 5h0m7 15h0m18 3h0m2-23h0m49 0h0m-191 61h0m-66 19h0m-81-16h0m-102 7h0m-31-11h0m-14 35h0m-30-9h0m-21-20h0m-20-5h0m-14-2h0m-8 9h0m-28 9h0m-3-19h0m-12 23h0m-4 0h0m-10 11h0m-10-30h0m-17 35h0m-4-37h0m-6 8h0m-1 10h0m-27 35h0m-14-49h0m-9 48h0m-17-1h0m-5-45h0m-16 9h0m-4 12h0m-1-19h0m-4 32h0m0-42h0m-18 58h0m-6-37h0m-8-19h0m-6 31h0m-26-18h0m-3 1h0m-2 15h0m-36-16h0m-15 25h0m-4 18h0m-3-1h0m-8-5h0m-11-20h0m-2 1h0m-13-15h0m-1 21h0m-2-37h0m-6 18h0m-21-11h0m-15 2h0m-6 44h0m-9-53h0m-3 5h0m0 9h0m-41-16h0m-72 52h0m-103 0h0m-14-30h0m-50-15h0m-68 46h0m0-1h0m-42-49h0m-80-3h0m-23 61h0m11 17h0m4 9h0m9 17h0m10 1h0m7 3h0m192-15h0m49-5h0m121 16h0m12-20h0m19 21h0m17-27h0m11-7h0m3 11h0m6 13h0m17-17h0m17 29h0m3-7h0m21 8h0m21-5h0m4-19h0m51 3h0m16 20h0m36-39h0m34 0h0m231 5h0m83 2h0m127-13h0m63 54h0m35-6h0m3 8h0m4 5h0m-4 0h0m-28 19h0m-3-9h0m-34 27h0m-9 6h0m-16-9h0m-36 4h0m-8 13h0m-79-16h0m-123-15h0m-249 12h0m-11 2h0m-105 7h0m-14-6h0m-1-21h0m-41 19h0m-30 20h0m-24-30h0m-22 25h0m-8-13h0m-54-30h0m-42 27h0m-4-27h0m-123 39h0m-124-7h0m-9 7h0m-4 4h0m-10-39h0m-6 33h0m-4 2h0m-3-3h0m-5-31h0m3 70h0m11-1h0m2 35h0m7-39h0m0 31h0m10-39h0m2 33h0m1 14h0m6-40h0m1 0h0m2 33h0m1-6h0m1-6h0m1-36h0m9 35h0m5-8h0m5-26h0m83 25h0m47-16h0m25-12h0m20 54h0m120-13h0m5-32h0m12 31h0m37-14h0m50-15h0m367-10h0m197 45h0m1 12h0m67-55h0m19 4h0m-140 75h0m-2-6h0m-12 6h0m-5 13h0m-15-32h0m-4 45h0m-1-3h0m-11-16h0m-27 29h0m-1-22h0m-96-14h0m-225 28h0m-56-50h0m-129 44h0m-16-33h0m-28 11h0m-47-1h0m-3-18h0m-57 50h0m-8-27h0m-65 16h0m-15-11h0m-8 13h0m-1-7h0m-8-21h0m-1 10h0m-15 3h0m-13 17h0m0 10h0m-1-57h0m-2 7h0m-25 7h0m-2 38h0m-14-39h0m0 44h0m-3 1h0m-8-1h0m-1 2h0m-4-43h0m0 0h0m-1 25h0m-8 15h0m-4-12h0m-3-21h0m-6 24h0m-2-3h0m-1-24h0m-2 28h0m0-13h0m-6 22h0m0-9h0m-2-3h0m-2-25h0m-5 73h0m13-25h0m6 45h0m0-44h0m3 35h0m3-27h0m2-13h0m0 26h0m5 3h0m33 12h0m17-14h0m4-17h0m9-7h0m3 5h0m7 46h0m17-16h0m3-24h0m9 35h0m0-8h0m3 0h0m11-3h0m7 10h0m2-45h0m6 18h0m1 19h0m8-26h0m10 10h0m6 9h0m2-7h0m3-10h0m16 33h0m0-36h0m7 8h0m6 29h0m5 5h0m18-7h0m1-1h0m4-23h0m25 5h0m18-10h0m10 14h0m494 22h0m17-24h0m72-22h0m16-7h0m-101 61h0m-45 21h0m-4-12h0m-14 22h0m0-4h0m-9 13h0m-23 2h0m-16 9h0m-9-8h0m-269-31h0m-34 22h0m-48-17h0m-25 11h0m-15-31h0m-10 52h0m0-7h0m-7-42h0m-9 8h0m-11 18h0m-12-22h0m-15-5h0m-4 50h0m-5-19h0m-1-28h0m-1 45h0m-10-38h0m-18 11h0m-1 14h0m-2 11h0m-16-45h0m-6 29h0m-7-36h0m-25 54h0m-2-17h0m-6-9h0m-23 6h0m-17 7h0m-9-22h0m-22-10h0m-11-4h0m0 5h0m-12 35h0m-16 5h0m-2-6h0m-6-24h0m-4 32h0m-4-32h0m-2 40h0m5 22h0m16-10h0m6-10h0m1 44h0m26-20h0m1-7h0m3-17h0m26 25h0m2 28h0m8-27h0m2-17h0m4 26h0m19-14h0m7 12h0m9-30h0m14 19h0m6 3h0m17 13h0m14-1h0m2-24h0m8 40h0m16-36h0m21-14h0m10 10h0m20 4h0m1 3h0m0 34h0m2-37h0m2 27h0m6-45h0m4 43h0m18 15h0m3-40h0m0 22h0m2-26h0m1-10h0m21 12h0m4 10h0m7 31h0m1-5h0m7-14h0m19-23h0m13 30h0m224-1h0m31-8h0m2 11h0m15-10h0m2-27h0m4 22h0m11-11h0m1 0h0m5-5h0m6-8h0m-103 58h0m-6 15h0m-2-3h0m-27 7h0m-29 24h0m-8-28h0m-10 35h0m-29-12h0m-18-30h0m-14-10h0m-5 46h0m-10-46h0m-3 50h0m-21-28h0m-8 17h0m-7-25h0m-3 37h0m-1-19h0m-10 5h0m-1-21h0m-28 30h0m-9-2h0m-4 2h0m-9-38h0m-19 42h0m-7-55h0m-3 4h0m-6 35h0m-12-23h0m-23 4h0m-18 29h0m-21 3h0m-2-2h0m0-44h0m-10 47h0m-2-36h0m-15-1h0m-2-14h0m-2 40h0m-16 14h0m-6-28h0m-4-18h0m-6 48h0m-3-35h0m-5-4h0m-2 15h0m-4-28h0m-2 15h0m0 9h0m-9-15h0m-11-4h0m-18-1h0m-3-9h0m-3 50h0m-1-3h0m-3 3h0m-2-33h0m-9 12h0m-1 17h0m-16-34h0m-1 13h0m-1-1h0m-4 13h0m-2-10h0m-1-14h0m-4 35h0m0-38h0m-11 23h0m-2-20h0m-2 13h0m0-25h0m-1 50h0m-4-4h0m-8-14h0m-2 12h0m-3-44h0m4 82h0m2-16h0m3-5h0m4 6h0m1 12h0m7-3h0m8 12h0m5-8h0m5 11h0m5-29h0m2 14h0m13 18h0m4 10h0m2-35h0m2 48h0m1-33h0m7 1h0m2-3h0m5-5h0m8-17h0m2 5h0m1 51h0m0-35h0m9 8h0m1-13h0m8 24h0m5-4h0m9 13h0m15-9h0m12 13h0m9-22h0m23-1h0m5-2h0m2-16h0m12 44h0m13-18h0m17-5h0m6 9h0m12-14h0m7 5h0m3-27h0m2 5h0m9 3h0m11 11h0m36 26h0m9-20h0m13 22h0m8-38h0m6 5h0m1 34h0m19-33h0m40 10h0m18-26h0m19 19h0m48-18h0m-119 57h0m-1-5h0m-25 32h0m-12-4h0m-6 9h0m-6-16h0m-9 6h0m-1 4h0m-6 15h0m-15-42h0m-9 11h0m-6 23h0m-9-28h0m-6 15h0m-3-6h0m-41 23h0m-7-6h0m-9 14h0m0 6h0m-12-54h0m-4 52h0m-4-36h0m0 26h0m-12-12h0m-7 8h0m-1-13h0m-4-14h0m0 30h0m-5-43h0m-1 14h0m-13-13h0m-2 53h0m-1-7h0m-2-44h0m-7 40h0m-2-4h0m-5 17h0m-8-29h0m-4 25h0m-12-52h0m0 21h0m-2 9h0m-7 16h0m-9-30h0m-1 5h0m-24-1h0m-2 1h0m-1-20h0m-8 7h0m-9 34h0m0-13h0m-2 30h0m-3-40h0m-1 36h0m-3-44h0m0 24h0m0-6h0m-6 3h0m0 21h0m-2 5h0m-1-39h0m-4 33h0m0-50h0m-2 13h0m-5 40h0m-5-4h0m-2-19h0m-4 9h0m-1-6h0m0 35h0m0 40h0m3 5h0m1 2h0m2-32h0m7 31h0m1-28h0m2 5h0m3-25h0m0 51h0m8-23h0m5-31h0m2 1h0m0 11h0m11 27h0m3-14h0m2-5h0m3 14h0m2 13h0m1 6h0m0-45h0m5 34h0m0-7h0m2-37h0m0 52h0m2-37h0m5 11h0m6 9h0m1-2h0m0-6h0m1 25h0m1-11h0m1 1h0m7-41h0m4-2h0m7 14h0m6 36h0m6-15h0m0-15h0m12-11h0m1 15h0m2 31h0m2-34h0m1-22h0m6 28h0m1-14h0m4 10h0m6-5h0m5 21h0m1 9h0m8-22h0m2-27h0m0 51h0m0-6h0m2-38h0m6 35h0m0-20h0m1-5h0m0-2h0m17 31h0m2-1h0m0-12h0m1-18h0m5 6h0m4-5h0m0 17h0m1 9h0m4-1h0m8 6h0m8-17h0m9 7h0m12-9h0m6-8h0m18-19h0m-94 66h0m-25 18h0m-6-5h0m-10 14h0m-9-23h0m0-10h0m-9 18h0m-2 5h0m-4-9h0m-8 9h0m-1-2h0m-24 16h0m-2 15h0m-10-37h0m-2-9h0m-1 25h0m-4 7h0m-8-24h0m-1 1h0m-4 0h0m-7 38h0m-2-25h0m-6-1h0m-1 10h0m-1-22h0m-2-2h0m-1 7h0m-2-8h0m-1 39h0m-3 2h0m-2-44h0m-3 40h0m-1-13h0m-3-27h0m-1 8h0m-3 13h0m-1-9h0m-4 37h0m4 38h0m9-38h0m1 28h0m2-25h0m1 5h0m4 7h0m25 7h0m1-15h0m10-7h0m3 8h0m2-4h0m1 4h0m6-1h0" stroke="#0a2ee0" stroke-width="60" stroke-linecap="round" fill="none"/>
<path transform="scale(.1)" d="M6500 5203h0m19-3h0m29 73h0m-19-40h0m-18 5h0m-17-3h0m-30 7h0m84 66h0m282 54h0m-42 11h0m-64-21h0m-21-11h0m-169 8h0m-1 88h0m15-29h0m60 36h0m372 4h0m-354 15h0m-39 55h0m0-53h0m-47 36h0m70 57h0m15-32h0m24 18h0m-2 50h0m-3-6h0m-53-3h0m-2-4h0m295 105h0m315 170h0m-379 0h0m-181-4h0m42 28h0m-117 68h0m1395 64h0m-42 85h0m-267 11h0m-159 10h0m-160-53h0m-362 96h0m309-21h0m-486 47h0m901 91h0m-841 113h0m-277 64h0m-117 4h0m113 188h0m-39 78h0m-53 117h0m11 86h0" stroke="#e8000d" stroke-width="60" stroke-linecap="round" fill="none"/>
<path d="M840 522.5L997 612L840 702.5Z" fill="#e4e4e4"/>
<path transform="scale(.1)" d="M8471 5269h0m-26 1h0m-1-19h0m-32 1h0m30 64h0m43 14h0m14-24h0m63 31h0m46 41h0m-2-12h0m-19 10h0m-58-33h0m-23 9h0m-10-8h0m-8 7h0m-15 15h0m-31 23h0m-40 25h0m5-4h0m17 4h0m2 11h0m140-3h0m31 17h0m27 3h0m12-2h0m13 18h0m75 40h0m-14 12h0m-7-23h0m-44-22h0m-222 24h0m-4-19h0m-9-9h0m0 38h0m-14-13h0m5 48h0m3 13h0m23-13h0m12 33h0m659 71h0m-17-13h0m-648-36h0m-27 20h0m-3 19h0m0-24h0m-16 53h0m24-17h0m14 16h0m13 21h0m108 2h0m311 68h0m-51-2h0m-55-27h0m-213 37h0m-38-1h0m-99-42h0m11 79h0m9-16h0m25 21h0m197 14h0m92-23h0m76-18h0m199 49h0m184 52h0m-131-36h0m-511 10h0m-35 32h0m-113-35h0m-12-11h0m-5 27h0m8 60h0m20-23h0m7 29h0m3-34h0m2 1h0m16-1h0m287 12h0m771 27h0m160 66h0m-45-14h0m-17-4h0m-9 0h0m-7 21h0m-5-38h0m-20 8h0m-5-24h0m-25 33h0m-14-20h0m-27 9h0m-1 8h0m-25-19h0m-81 21h0m-114 9h0m-3-14h0m-10-6h0m-43 34h0m-495-3h0m-125-2h0m-152-36h0m-1 30h0m-5-39h0m-13 3h0m-8-6h0m0 7h0m-7 107h0m7-32h0m1 29h0m337-25h0m50 12h0m168-37h0m128 16h0m20 8h0m5 16h0m5-27h0m221 35h0m121-22h0m129-25h0m23 12h0m13-10h0m14 18h0m10-15h0m9 12h0m1-10h0m34-5h0m2 28h0m20 1h0m4-8h0m63 15h0m132 68h0m0-6h0m-6-4h0m-5 12h0m-54 4h0m-1-36h0m-5 33h0m-8-46h0m-15 45h0m-7-2h0m-8-52h0m-27 58h0m-6-59h0m-35 50h0m-12 5h0m-7-12h0m-15-35h0m-22 51h0m-152-4h0m-120-9h0m-183-15h0m-31 24h0m-9-41h0m-11 31h0m-3-41h0m-46 26h0m-1 11h0m-34-15h0m-2 20h0m-6-27h0m-18-3h0m-561 20h0m-6-36h0m-56 42h0m-19 13h0m-23-3h0m-11 11h0m217 10h0m126 15h0m65 18h0m80-30h0m4 14h0m44 12h0m19-24h0m7 36h0m47-29h0m14 26h0m6 4h0m16-1h0m8-32h0m20 0h0m12 27h0m26-17h0m11 19h0m11 3h0m2-13h0m27-13h0m18 24h0m12-12h0m13-26h0m5-6h0m2 44h0m22-11h0m13-4h0m11-16h0m16 3h0m13-16h0m7 21h0m8 19h0m3-2h0m1-18h0m3-21h0m7 52h0m10-21h0m2-7h0m17 22h0m5-24h0m20 27h0m8-6h0m0-46h0m4 38h0m8 17h0m9-37h0m10 14h0m10 22h0m2-34h0m2 31h0m6-1h0m8-39h0m2 7h0m16 3h0m10 30h0m1 0h0m13-22h0m11 12h0m15 3h0m3-15h0m23-3h0m0-2h0m1-23h0m1 46h0m0 8h0m0-22h0m10 14h0m1-3h0m0-32h0m2 12h0m6-7h0m0 11h0m3-22h0m2 36h0m6-15h0m5-4h0m1 4h0m2-17h0m0 6h0m3 34h0m6 2h0m13-7h0m8-7h0m2-20h0m5 24h0m4 12h0m3-24h0m4-17h0m3 22h0m7 20h0m7-32h0m2 25h0m5 5h0m4-37h0m2-9h0m11 44h0m10-12h0m32-34h0m1 15h0m0 15h0m1-7h0m6 4h0m0-34h0m7 37h0m2-19h0m1-11h0m1 11h0m4 3h0m7 12h0m10-3h0m10 27h0m7-18h0m6-13h0m3-9h0m3-17h0m1 30h0m18-24h0m8 31h0m8-23h0m7 4h0m1 9h0m12-7h0m3-14h0m6 2h0m13 11h0m0-2h0m20-16h0m6 24h0m15-15h0m3-1h0m5 5h0m8-2h0m2 16h0m13-8h0m8-19h0m7-2h0m1 1h0m0-2h0m4 10h0m11-10h0m-207 60h0m-41 2h0m-16 3h0m-20-4h0m-12 22h0m-14-19h0m-3 4h0m-27-3h0m-18 2h0m-2-6h0m-8 5h0m-35 9h0m-5-6h0m-2 36h0m-8-37h0m-11-4h0m-7 1h0m-7 29h0m-21-17h0m-2-12h0m0 2h0m-8-7h0m-2 1h0m-4 3h0m0 29h0m-5-9h0m-12-1h0m-19 9h0m-12 6h0m-1-14h0m-2-7h0m-12 13h0m-5 13h0m-13-33h0m-10 36h0m-4 0h0m-5-4h0m-6-41h0m-4 12h0m-1 26h0m-13-32h0m-11 11h0m-11 13h0m-9-25h0m-6 25h0m-6-17h0m-2 1h0m-3 14h0m-1-24h0m-15 3h0m-19 4h0m-11 8h0m-13 3h0m-30-6h0m-1 29h0m0 1h0m-5-14h0m-22-29h0m-14 39h0m-5-25h0m-5-10h0m-3 4h0m-5 2h0m-4 40h0m-14-36h0m0 34h0m-14-22h0m-17-6h0m-3-10h0m-10 33h0m-12-32h0m0 1h0m-1-1h0m0 24h0m-7-12h0m-9-22h0m-3 34h0m-6 17h0m-2-36h0m-15 14h0m-5 15h0m-1-22h0m-1-14h0m-11 16h0m-1 5h0m-6-6h0m-1 2h0m-6 13h0m-11-42h0m-12 52h0m-1-20h0m-3 2h0m-12 4h0m-39 15h0m-2-48h0m-5 32h0m-23 18h0m-425-15h0m-31-1h0m-3-15h0m-7 23h0m-9-10h0m0-16h0m-24 26h0m1 56h0m10 7h0m7 2h0m6-46h0m48 32h0m147 1h0m123-26h0m31 3h0m30 20h0m19-18h0m26 29h0m2-8h0m15 16h0m0 1h0m8-29h0m8 3h0m4-11h0m21-13h0m5 33h0m1-21h0m9 35h0m3-47h0m7 14h0m10 22h0m2-23h0m31 29h0m33-42h0m15 46h0m4-40h0m8 11h0m6 28h0m2-6h0m12-45h0m13 14h0m5 5h0m2 6h0m80-10h0m30-5h0m22 18h0m86-23h0m67 1h0m248 3h0m24 39h0m9 2h0m1-18h0m3-13h0m-19 40h0m-21 7h0m-22-3h0m-89 41h0m-3 13h0m-481 0h0m-22-35h0m-14-5h0m-9 4h0m-10 34h0m-50-39h0m-13-8h0m-14 35h0m-44-43h0m-62 24h0m-2 12h0m-31 11h0m-2 4h0m-6-16h0m-72-36h0m-7 6h0m-8 38h0m-211-44h0m-2 6h0m-8 29h0m-12-6h0m3 83h0m44-23h0m87 24h0m24-29h0m26 20h0m14 12h0m4 3h0m30-44h0m8 29h0m8-25h0m3 11h0m11 4h0m46-20h0m31-10h0m13 50h0m9-44h0m3-7h0m0 16h0m5-10h0m33 5h0m194 2h0m47-1h0m149 1h0m189 17h0m21-8h0m8 5h0m58-17h0m0 3h0m69-16h0m-154 89h0m-16-16h0m-7-12h0m-13 8h0m-4 38h0m-24 1h0m-2-1h0m-191-31h0m-285-7h0m-29 13h0m-9-22h0m-13 37h0m-24-37h0m-19 58h0m-15-1h0m-9-52h0m-34 44h0m-48-26h0m-12 16h0m-6-21h0m-3 20h0m-100-6h0m-47 10h0m-3-7h0m-6-2h0m0 19h0m0-9h0m-35 2h0m-1-31h0m-22 26h0m-11-28h0m15 49h0m1 27h0m13-18h0m5 10h0m1 2h0m1 37h0m8-2h0m1-1h0m4-28h0m2 25h0m4-26h0m3-13h0m3 13h0m4 30h0m9-38h0m3 18h0m4 11h0m1-25h0m7 6h0m15 8h0m8-35h0m12 31h0m6 21h0m4-48h0m3-4h0m2 46h0m5 1h0m11 4h0m1-25h0m2 13h0m27 5h0m4 4h0m37-13h0m5 14h0m3-44h0m11-1h0m4 45h0m12-43h0m11 31h0m24 13h0m10-30h0m30 20h0m25-36h0m13 9h0m27-9h0m253-3h0m142 34h0m21 22h0m11-31h0m13-11h0m16 24h0m20-35h0m0 2h0m13 11h0m-74 42h0m-40 9h0m-13 1h0m-22 35h0m-5-16h0m-12 18h0m-45-4h0m-340-40h0m-26-3h0m-20 58h0m-13-1h0m-1-11h0m-4-5h0m-5-4h0m-10 21h0m-9-29h0m0-10h0m-7 37h0m-19-49h0m0 8h0m-5 42h0m-7-19h0m-1-12h0m-7-7h0m-11-6h0m-1 14h0m-5-19h0m-6 44h0m-1-20h0m-15 4h0m-7-21h0m-11-11h0m-3 18h0m-1-18h0m-9-3h0m-10 35h0m-3-1h0m-12-18h0m0 23h0m-7 12h0m-4-41h0m-4 11h0m-1 27h0m-15-24h0m-9 13h0m0 5h0m-4 0h0m-3 4h0m-4 9h0m-1-32h0m-7-6h0m-8 3h0m-4 10h0m-5-11h0m-2 34h0m-6-44h0m-2-2h0m-8-2h0m-6 35h0m-2-5h0m-13 56h0m11-12h0m28-13h0m7 33h0m4 6h0m0-23h0m7 0h0m0 1h0m14 9h0m15 9h0m0-42h0m2 25h0m25-23h0m0 36h0m10-4h0m4 12h0m19-14h0m8-2h0m13-11h0m16-13h0m9 23h0m3-12h0m12 3h0m5 23h0m7-14h0m2-7h0m4-20h0m12 43h0m4-34h0m4 29h0m6-15h0m4-2h0m19 7h0m1-22h0m7 44h0m6-12h0m6 4h0m4-9h0m14-16h0m5-6h0m30 12h0m0 5h0m8-2h0m20 19h0m16-36h0m180 40h0m18-4h0m21-43h0m30 40h0m34-28h0m8-11h0m-76 63h0m-12 1h0m-18 4h0m-23-5h0m-7 21h0m-2 9h0m-12-18h0m0-3h0m-39 39h0m-31-17h0m-21-7h0m-1-1h0m-5-6h0m-1 26h0m-1 3h0m-4 3h0m-3-6h0m0-7h0m-6-9h0m-5-32h0m-6 27h0m-1-21h0m-1 23h0m-3-11h0m-1-10h0m-13 29h0m-1-2h0m-1-25h0m-17 14h0m-6-28h0m-2 22h0m-18 27h0m-27-29h0m-2 22h0m-15 14h0m-15-23h0m-10-21h0m-2 28h0m-33-35h0m0 2h0m-1 8h0m-6 11h0m-8 17h0m-21-19h0m-21 10h0m-2-7h0m-4 8h0m-2-8h0m-16-13h0m-3 10h0m-30 31h0m-11-7h0m-1-25h0m-15-19h0m0 4h0m-3-2h0m-3 0h0m-3 11h0m-26 27h0m-1-24h0m-5 27h0m-1 2h0m-7-15h0m-1-3h0m-8 6h0m-3-5h0m-3 19h0m-10-49h0m-5 31h0m-1 26h0m-1-51h0m-1 48h0m-5-6h0m-12 28h0m10 7h0m1-20h0m2 25h0m3-24h0m11 1h0m2 23h0m9 12h0m1 9h0m1-23h0m13-16h0m5 18h0m7-13h0m0 15h0m6-17h0m6-2h0m1-4h0m1 45h0m1-20h0m11-6h0m9 2h0m17 20h0m27-43h0m15 31h0m3-22h0m18 35h0m20-45h0m4 37h0m8-3h0m2-7h0m10-9h0m4-9h0m9 36h0m3-9h0m0-1h0m17-12h0m10 9h0m13 6h0m7-26h0m6-13h0m8 30h0m0 1h0m34 10h0m0 11h0m5-28h0m7 2h0m14-12h0m2 34h0m12-51h0m30 19h0m4 3h0m9 2h0m2 6h0m6 22h0m8-37h0m-74 49h0m-5 19h0m-10 11h0m-9 10h0m-1-40h0m-3 28h0m-4-2h0m-2-27h0m-7 9h0m-21-13h0m-4 7h0m-28 4h0m-1 13h0m-9-12h0m-21 30h0m-10 12h0m-2-35h0m-14 39h0m-1-22h0m-3-6h0m-1-4h0m-9 30h0m-11-38h0m-1 26h0m-13-44h0m-2 54h0m-3-43h0m0 21h0m-1-5h0m-2 9h0m-4-33h0m0 12h0m-4 24h0m-3-26h0m-3 21h0m-1 4h0m-3 19h0m-6 0h0m-6 1h0m-5-54h0m-3 13h0m-3 36h0m-1-2h0m-1-14h0m0-37h0m-7 4h0m-2 19h0m0 28h0m-1-38h0m-4-4h0m-1 20h0m-3 4h0m-3 16h0m-2-23h0m-6 15h0m-2 0h0m-4-2h0m-2-14h0m-1 19h0m-6 9h0m-2-15h0m-4 5h0m-17-28h0m0 38h0m-3-17h0m-7-5h0m-1-7h0m-1 20h0m0-28h0m-5 21h0m-1-15h0m-3 22h0m0-2h0m-6 10h0m0-3h0m-4-45h0m-4 51h0m-1-18h0m-1 18h0m-1-40h0m-3-1h0m0 26h0m0 18h0m-5 0h0m-6-38h0m-3 27h0m4 65h0m3-11h0m6-24h0m4-2h0m2-11h0m4 7h0m6 29h0m2 14h0m1-50h0m2 44h0m3-29h0m3-18h0m0 18h0m1 21h0m4-10h0m2-12h0m1 13h0m4 7h0m7-18h0m1 19h0m15 5h0m2 3h0m3 6h0m1-49h0m6 43h0m14-2h0m2-30h0m0 7h0m2 18h0m4-4h0m0-24h0m3 25h0m0-1h0m5-18h0m0 35h0m0-7h0m3-35h0m2 14h0m5 7h0m2-10h0m0-8h0m1 32h0m1-20h0m0 30h0m6-50h0m2 35h0m5-42h0m9 31h0m1-26h0m1 13h0m2 19h0m1-2h0m1-17h0m1 7h0m6 27h0m0-25h0m1-14h0m7-12h0m1 24h0m0-23h0m0 40h0m6-39h0m2 9h0m6 8h0m1 4h0m2-9h0m4 41h0m0-46h0m0-2h0m1 34h0m2-14h0m0 13h0m6-7h0m9 18h0m4-30h0m7-4h0m2 17h0m3 2h0m7 9h0m7-4h0m1-15h0m2 5h0m6-13h0m1 21h0m3-29h0m36 2h0m5-2h0m-89 55h0m-16-5h0m-7 7h0m-10 1h0m-13 14h0m-17-17h0m-12 18h0m-1 23h0m0-43h0m-6 50h0m-2-32h0m-1-7h0m-1 37h0m0-25h0m-6 32h0m-2-56h0m-1 17h0m0-16h0m-6 34h0m-2-24h0m-11 31h0m-2-31h0m-4-5h0m-3 25h0m-18 13h0m-3-45h0m0 20h0m-1-11h0m-3 24h0m-4-2h0m-1-18h0m-1 43h0m-1-13h0m-4-32h0m0 14h0m-5 10h0m0-31h0m0 47h0m-1-13h0m-6 13h0m-2-1h0m-2-27h0m-4 10h0m-1-22h0m-7-7h0m-2 44h0m-1-17h0m-1 5h0m-5 9h0m-1 1h0m-6 5h0m-1-7h0m0-22h0m-6 88h0m2 3h0m1-44h0m6 28h0m7 3h0m3-1h0m2-20h0m3 21h0m4-26h0m1 16h0m5-10h0m7 3h0m5-3h0m10 9h0m9-25h0m3 6h0m33-9h0" stroke="#0a2ee0" stroke-width="56" stroke-linecap="round" fill="none"/>
<path transform="scale(.1)" d="M8412 5238h0m13 42h0m13 45h0m37-30h0m-25 67h0m-30-12h0m485 168h0m-335-30h0m-70 0h0m-20 12h0m-68 100h0m200 200h0" stroke="#e8000d" stroke-width="56" stroke-linecap="round" fill="none"/>
<path transform="scale(.1)" d="M8625 5450h0m45-25h0m85 37h0m-255 313h0m62-13h0m350 46h0m-412 442h0m-50 362h0" stroke="#e0504a" stroke-width="56" stroke-linecap="round" fill="none"/>
<path transform="scale(.1)" d="M8438 5300h0m32 75h0m42 75h0m13 420h0m230 42h0m365 0h0m-550 443h0m-158 137h0m88-4h0" stroke="#f0b0b0" stroke-width="56" stroke-linecap="round" fill="none"/>
<path transform="scale(.1)" d="M8550 5312h0m38 26h0m124 124h0m-300 233h0m188-33h0m825 318h0m-913 50h0m-17 140h0" stroke="#c4c4f2" stroke-width="56" stroke-linecap="round" fill="none"/>
<path d="M433 812.8L597 906.5L433 999.1Z" fill="#e4e4e4"/>
<path transform="scale(.1)" d="M4720 8345h0m1197 699h0m-43 21h0m-1491 202h0m22 32h0m90-12h0m21-22h0m13 24h0m21-3h0m28 2h0m-63 13h0m-20 0h0m-34 44h0m-17-33h0m0 40h0m-6-6h0m28 60h0m25-20h0m17-11h0m18-9h0m15 19h0m0-22h0m-22 105h0m-17-9h0m-16-24h0m-15 19h0m-2 14h0m-1-44h0m-5 44h0m-20-43h0m22 82h0m17 27h0m-48 55h0m-4-42h0m-61 30h0m56 71h0m7-34h0m10 11h0m41-14h0m347 97h0m-390-10h0m-6-18h0m-4 29h0m-25-32h0m-44 3h0m30 96h0m12 48h0m-3-2h0m-13-20h0m-5 33h0m-9 4h0m0-38h0m-10-10h0m-4 34h0m-9 0h0m-8-24h0m-7 76h0m13 5h0m0 15h0m1-16h0m1 9h0m26 7h0m25-16h0m-6 32h0m-7 29h0m-9-17h0m-34 13h0m-1 13h0m-4-29h0m-2 18h0m15 20h0" stroke="#cecece" stroke-width="47" stroke-linecap="round" fill="none"/>
<path transform="scale(.1)" d="M4344 8152h0m-6 1h0m0-6h0m0 36h0m16 35h0m2-46h0m0 21h0m3-11h0m3-8h0m4 22h0m4 23h0m67-16h0m74 53h0m-122-5h0m-2 26h0m-8-25h0m0-22h0m-10 46h0m0-31h0m-4-5h0m0 11h0m-1-19h0m-4 15h0m0 31h0m-3-22h0m-2 12h0m-1-20h0m-2 6h0m-2-22h0m-12 4h0m32 64h0m1 38h0m11-42h0m4 21h0m2 16h0m0-45h0m21 6h0m1 17h0m196 86h0m-186-53h0m-9 49h0m-5-1h0m-8-19h0m-4-13h0m0 6h0m5 86h0m8-24h0m3 14h0m5-13h0m13 13h0m43 14h0m3 3h0m27-21h0m6 14h0m16-4h0m27 4h0m14-26h0m117 64h0m-63 0h0m-57 25h0m-15-25h0m-11 12h0m-2 5h0m-3-34h0m-2-6h0m0 35h0m-4 10h0m-18-14h0m0-11h0m-22 17h0m-45-33h0m-6-6h0m-1 30h0m-1 14h0m-1 3h0m-2-34h0m-8 28h0m-1-18h0m-4 26h0m-4-20h0m-7 20h0m-6-43h0m8 54h0m22 23h0m19-22h0m7 15h0m18 26h0m14 6h0m24-4h0m52-45h0m27-1h0m3 28h0m39 1h0m104-30h0m10 85h0m-80-27h0m-56 8h0m-25 18h0m-12-14h0m-25 5h0m-11 32h0m-26-20h0m-43 4h0m-10 12h0m-4-37h0m0-2h0m-15 43h0m-1-44h0m-1 53h0m-8-38h0m-2 13h0m-1 31h0m17-1h0m8 15h0m9-8h0m4 0h0m16 6h0m16 16h0m16 9h0m61 16h0m33-31h0m37-2h0m20-17h0m71 52h0m-79 44h0m-17-2h0m-22-36h0m-6 23h0m-7-22h0m-4 1h0m-23 48h0m-7-19h0m-4-19h0m-3 9h0m-9-16h0m-127 7h0m131 53h0m33 6h0m15 2h0m5 21h0m174-4h0m537-24h0m-582 87h0m-18-20h0m-10 9h0m-6-15h0m-6 19h0m-5-3h0m-15-17h0m-54 6h0m-12-11h0m-3 15h0m-10-12h0m-8 9h0m-4 1h0m-3-5h0m46 101h0m12-10h0m13-37h0m43 48h0m57 3h0m991 30h0m-962-16h0m-46 44h0m-11-29h0m0 20h0m-11-29h0m-6-12h0m-24 36h0m-20-32h0m-6-4h0m-10 19h0m-8 18h0m-1-34h0m-12 31h0m-14-12h0m-79 38h0m23 45h0m41-37h0m94 15h0m5-14h0m28-5h0m11 35h0m9 3h0m65 8h0m29-27h0m362-7h0m-375 57h0m-38 12h0m-16 8h0m-47-16h0m-45 4h0m-6-8h0m-9 39h0m-20-30h0m-28 10h0m-84-1h0m67 63h0m9-22h0m18 23h0m10 6h0m10-34h0m25 9h0m39 13h0m19-9h0m130 13h0m-46 44h0m-35 25h0m-14-14h0m-88-32h0m-92 36h0m-204 2h0m276 35h0m10 38h0m27-28h0m21 18h0m10-21h0m72 21h0m-36 33h0m-17-11h0m-39 45h0m-7-17h0m-29-1h0m-15 9h0m-57-33h0m59 88h0m8 0h0m33-10h0m53-18h0m7 15h0m15 21h0m-2 73h0m-71-44h0m-3 39h0m-13-13h0m-7-22h0m-7 33h0m-10-37h0m-7 21h0m-3-21h0m-44 45h0m-28-13h0m-2 1h0m38 25h0m6 32h0m5 7h0m3-17h0m42-3h0m0-1h0m42 45h0m-30-9h0m-6 17h0m-27 9h0m-25-24h0m-36 0h0m-5 18h0m-8 6h0m-114 83h0m4-7h0m42-5h0m34-6h0m1 18h0m21-9h0m14 4h0m10-24h0m1-7h0m1-8h0m3 45h0m12-46h0m11 7h0m11-8h0m-14 65h0m-65 13h0m-8 12h0m-12-19h0m-2 9h0m-68 47h0m-117 234h0" stroke="#0e7c7b" stroke-width="47" stroke-linecap="round" fill="none"/>
<path transform="scale(.1)" d="M5523 8959h0m-75-11h0m-234 96h0m654 14h0m16 1h0m9 0h0m20-1h0m10 28h0m-23-11h0m-3 19h0m0-14h0m-14-12h0m-11 21h0m-14 0h0m-2-14h0m-2 15h0m-19-15h0m-7 23h0m-7-1h0m-43 7h0m-9-17h0m-1-1h0m-3-4h0m-4 12h0m-4-3h0m-3 23h0m-68 5h0m-1-6h0m-11 2h0m-1-6h0m-1 10h0m-26-22h0m-53 17h0m-30-3h0m-243-46h0m-42 53h0m-43-21h0m-798 32h0m623 17h0m195 19h0m8 0h0m16-14h0m11 28h0m41-6h0m3-16h0m2 14h0m7 5h0m20-3h0m6-4h0m8 10h0m13-13h0m5 7h0m6-39h0m18 16h0m32 28h0m4-20h0m2-12h0m23 30h0m8-17h0m2 4h0m24-9h0m20-22h0m17 9h0m5-3h0m9-11h0m2 15h0m9-22h0m1 17h0m18 19h0m23-33h0m32-2h0m37 2h0m19 1h0m6-4h0m111 0h0m-454 74h0m-14-8h0m0 13h0m-3-7h0m-3 3h0m-15-13h0m-54 13h0m-4-5h0m-91 16h0m-10-6h0m-1 12h0m0 1h0m-20 24h0m-1-42h0m-2 1h0m-23 21h0m-194 2h0m-60-28h0m-52 7h0m28 72h0m65 3h0m8 20h0m56-50h0m41 29h0m14 27h0m31-2h0m13-38h0m0 10h0m3 3h0m14-18h0m2 29h0m3-27h0m17 21h0m0 11h0m7 10h0m3-27h0m1 28h0m1-9h0m7-49h0m6 11h0m4-1h0m19-10h0m4 36h0m16-26h0m30-10h0m-70 62h0m-9 6h0m-1 6h0m-13 16h0m-20-7h0m-5-9h0m-12-13h0m-9 4h0m-4 46h0m-2-48h0m-7 2h0m-3 9h0m-6-9h0m0 18h0m-2-14h0m-4 11h0m-6 18h0m-2-9h0m-1 21h0m-1 7h0m-2-9h0m-8 10h0m-11-47h0m-1 14h0m-8-1h0m-3 30h0m-6-23h0m-45 26h0m-2-6h0m-1-8h0m0-23h0m-2 32h0m-4-43h0m-5 5h0m-12 42h0m-3-29h0m-10-21h0m-1 8h0m-2 6h0m-65 12h0m-69 40h0m125 41h0m16 2h0m3-32h0m14 32h0m4-37h0m9 10h0m9 24h0m0-24h0m8 21h0m10-44h0m1-3h0m2 9h0m8 8h0m2 13h0m6 2h0m2-3h0m35-30h0m29 42h0m2-24h0m10-11h0m10-9h0m-96 81h0m-15-16h0m-3 13h0m-11-18h0m-9 38h0m0-33h0m-12 20h0m-3 1h0m-7 6h0m-5-12h0m-8 5h0m0-11h0m-5 41h0m-1-7h0m-2-45h0m-10 50h0m0-21h0m-12-19h0m-5 22h0m-19 5h0m-35 16h0m-40 25h0m7-20h0m3 25h0m17 31h0m0-9h0m3-16h0m20-4h0m26 14h0m3-24h0m5 1h0m9 32h0m22-10h0m6 0h0m18-14h0m-64 42h0m-19 11h0m0-12h0m-22-6h0m-16 30h0m-4 13h0m-14 4h0m-7-13h0m-3 4h0m-5 4h0m-2-36h0m-5 22h0m-2 27h0m-6-42h0m-8 38h0m-19 5h0m-5 1h0m-1-2h0m-59-6h0m17 65h0m17 3h0m21-21h0m5 4h0m3-20h0m1-22h0m4 54h0m0-27h0m5-10h0m3 8h0m8-6h0m27-7h0m22 4h0m-81 51h0m-2 44h0m-17-7h0m-2-18h0m-9-9h0m-1-13h0m-6 39h0m-2-35h0m-2-2h0m-3 27h0m-2-2h0m-2 15h0m-3-17h0m-7 21h0m-5 6h0m0-5h0m-19 3h0m-1-28h0m-11-2h0m-12 20h0m-9-21h0m-67 86h0m18-19h0m18 26h0m7-4h0m4-31h0m3-11h0m9 28h0m2 12h0m20-43h0m6 0h0m1 2h0m2-1h0m12 15h0m4 2h0m29-9h0m-93 58h0m-5-3h0m-2 3h0m-39-6h0m-3 30h0m-19-6h0m-2-14h0m0-11h0m-7-7h0m-1 39h0m-7-35h0m0 52h0m-6 3h0m-10-6h0m-13-12h0m-80 39h0m11 20h0m11 17h0m15-38h0m0 9h0m9 30h0m5-48h0m7 37h0m1-20h0m4-7h0m1-11h0m19-2h0m7 40h0m13-47h0m10 3h0m5 19h0m33-11h0m22-3h0m-86 66h0m-19-13h0m-1 0h0m-12 9h0m-10 1h0m-7-1h0m-6-6h0m-2 11h0m-5-13h0m-31 36h0m-12 20h0m-4-10h0m-2 1h0m-9 5h0" stroke="#22b5a2" stroke-width="47" stroke-linecap="round" fill="none"/>
<path d="M641.5 813.5L803.8 907.2L641.5 999.1Z" fill="#e4e4e4"/>
<path transform="scale(.1)" d="M6419 8607h0m5 96h0m315 58h0m245 59h0m-505 22h0m-60-22h0m11 85h0m64 150h0m128-11h0m-198 106h0m-5 213h0m863 0h0m-788 107h0m-53-43h0m521 134h0m-308 37h0m-192-54h0m157 114h0m8 7h0m-6 41h0m-7-26h0m-12 36h0m-15-17h0m-7-38h0m-8 6h0m-9 52h0m-5-13h0m-12-21h0m-4 25h0m0 56h0m1 8h0m2 2h0m0-2h0m1-20h0m25-8h0m6 28h0m5-53h0m28 5h0m4 9h0m61 1h0m-116 54h0m-30 10h0m-6-19h0m-16 20h0m-2 37h0m-18-51h0m-50 61h0m9 46h0m14-17h0m4-6h0m2-6h0m9 34h0m5-50h0m12 27h0m4 20h0m12-27h0m3 6h0m12-31h0m-55 80h0m-12 16h0m-1-29h0m-7 0h0m-1 20h0m-6-14h0m-1 39h0m-1-13h0m-6-5h0m-3-9h0m-4-7h0m-4 23h0m-6-15h0m13 41h0m0 1h0" stroke="#cecece" stroke-width="47" stroke-linecap="round" fill="none"/>
<path transform="scale(.1)" d="M6421 8219h0m6-9h0m3-7h0m3-25h0m5-5h0m10 46h0m0-25h0m57 6h0m143 75h0m-46-21h0m-11-5h0m-14-3h0m-6-7h0m-30-19h0m-4 8h0m-51 47h0m-8-27h0m-24-7h0m-4 20h0m-4 18h0m-3-10h0m-2-32h0m0 21h0m-2-29h0m-15 2h0m1 85h0m18 12h0m0-3h0m1-7h0m5-10h0m3-5h0m1 13h0m4-26h0m5 22h0m0 4h0m2 10h0m14 2h0m6-23h0m176-1h0m4 5h0m9-12h0m3 4h0m-165 84h0m-13 5h0m-8-27h0m-9-11h0m-3 1h0m-9-5h0m-9 8h0m-31 53h0m23 5h0m12-11h0m11 32h0m10-17h0m1 28h0m6-2h0m0 8h0m5-19h0m1-25h0m9 43h0m1-10h0m2 15h0m4-7h0m9-5h0m5 2h0m10 41h0m-4 7h0m-14-4h0m-2-3h0m-2-6h0m-15-17h0m-15-3h0m-6 42h0m-12-12h0m69 35h0m117 156h0m15 128h0m-245 95h0m347 337h0m-188 217h0m-164 358h0" stroke="#0e7c7b" stroke-width="47" stroke-linecap="round" fill="none"/>
<path transform="scale(.1)" d="M6462 8164h0m343 201h0m-205 55h0m236 24h0m37 7h0m192 63h0m-36-13h0m-27-17h0m-21 22h0m-6 10h0m-24-40h0m-6 30h0m-172-43h0m172 78h0m46-9h0m48-12h0m4 55h0m73-6h0m119 42h0m-6 1h0m-8-11h0m-5 22h0m-25-38h0m40 80h0m23-19h0m21 46h0m2-13h0m26 2h0m10-10h0m12 22h0m6-23h0m8 23h0m108 55h0m-79-9h0m-12-27h0m-4-7h0m-3 20h0m-329 31h0m102 47h0m355-5h0m22-28h0m10 30h0m16-19h0m1 21h0m114 41h0m-1 11h0m-27-26h0m-29 7h0m-14 0h0m-37 9h0m-7-22h0m-162 32h0m-102-23h0m-458 79h0m106 21h0m523-20h0m246-28h0m5 24h0m24-10h0m18 34h0m25-25h0m6 22h0m28-3h0m6 14h0m110 59h0m-21-7h0m-7-9h0m-1 9h0m-17 0h0m-3-11h0m-2 4h0m-16-22h0m-6 7h0m-2-13h0m-4-6h0m-4 41h0m0-2h0m-8-1h0m-7-15h0m-1-20h0m-1 33h0m-5-6h0m-3-10h0m-10-29h0m-5 26h0m-6 15h0m-2-7h0m-30-9h0m-30 22h0m-3-12h0m0 19h0m-31-28h0m-2 32h0m-77-20h0m-27 17h0m-58-15h0m-32 7h0m-173-40h0m-520 17h0m441 67h0m10 27h0m14-43h0m35 38h0m6-15h0m72-1h0m14 4h0m19-4h0m77-4h0m17-34h0m133 17h0m69-11h0m38 32h0m0-10h0m1 17h0m4-17h0m7 12h0m8 12h0m11-31h0m2-16h0m3 15h0m12 22h0m6-35h0m10 35h0m1-23h0m2 1h0m22-12h0m2 3h0m0 7h0m1 1h0m2-9h0m12-3h0m5 8h0m32-7h0m7 5h0m6 5h0m15 8h0m2 13h0m1-18h0m9 12h0m10-12h0m16 7h0m12 23h0m0-11h0m20 4h0m7 14h0m10-8h0m11 4h0m4 18h0m-4 12h0m-28-22h0m-132 3h0m-120 3h0m-71-5h0m-152 13h0m-44 34h0m-23-49h0m-30 9h0m-52 21h0m-26-24h0m-13 16h0m-3 7h0m-31-5h0m-12 15h0m-53-24h0m-25-16h0m-17 20h0m45 88h0m19-24h0m117 10h0m15-23h0m10 13h0m58 14h0m3-22h0m0 35h0m45-39h0m-207 63h0m-23 6h0m-22-13h0m-777 48h0m898 17h0m130-2h0m-218 74h0m-224-4h0m-75 6h0m-21 43h0m-36 200h0m-422 304h0m37 60h0m-101 57h0" stroke="#22b5a2" stroke-width="47" stroke-linecap="round" fill="none"/>
<path d="M839.4 816.4L1002.7 909.7L839.4 1003.4Z" fill="#e4e4e4"/>
<path transform="scale(.1)" d="M8441 8735h0m21 298h0m21 171h0m11 53h0m-89 120h0m1 23h0m2-36h0m2 19h0m4 69h0m-9 0h0m-6-3h0m-3 43h0m2 15h0m1-20h0m10 79h0m-4 1h0m-8-20h0m8 64h0m159 1h0m-59 103h0m-43-22h0m-57-15h0m0-16h0m-7 41h0m-1 28h0m2 16h0m14 18h0m89 73h0m-93-21h0m-7-25h0m80 104h0m13-2h0m3-29h0m14 27h0m2-50h0m2 42h0m1 6h0m-24 12h0m-21 24h0m-3-11h0m-5-11h0m-1 13h0m-11 25h0m-2 0h0m0-21h0m-5 26h0m-5-31h0m-3 43h0m-1-1h0m-20-29h0m-16 77h0m4 6h0m3-33h0m8-14h0m15 33h0m0-4h0m0-3h0m7 5h0m1-23h0m2 13h0m7 7h0m4-23h0m1-3h0m0 21h0" stroke="#cecece" stroke-width="47" stroke-linecap="round" fill="none"/>
<path transform="scale(.1)" d="M8399 8200h0m23-6h0m11 7h0m104 55h0m-64-21h0m-46 20h0m-19 19h0m-3-28h0m-1-9h0m-3 31h0m-1 50h0m3 15h0m0 4h0m1-48h0m5 6h0m4 38h0m15-26h0m2 14h0m8-5h0m56 46h0m-77 5h0m-1 2h0m-16 6h0m-2 12h0m0-6h0m-3-14h0m6 37h0m1 5h0m0 39h0m3-36h0m4 41h0m8-33h0m1 3h0m44 14h0m181-21h0m202 10h0m-412 59h0m-9 30h0m-3-1h0m-8-9h0m0-13h0m-3 19h0m-1-30h0m-1 50h0m2 29h0m1-22h0m5-2h0m11 0h0m110-7h0m809 189h0m-831-4h0m-117 57h0m96-4h0m32 4h0m17 43h0m515 85h0m-10 85h0m-539 53h0m128-4h0m-232 128h0m242-32h0m49 38h0m-59 37h0m-69-22h0m11 81h0m618 47h0m-533 47h0m-74 106h0m-26 365h0m-149 157h0m-17 43h0" stroke="#0e7c7b" stroke-width="47" stroke-linecap="round" fill="none"/>
<path transform="scale(.1)" d="M8419 8192h0m64 32h0m43 64h0m106 17h0m128 111h0m181 74h0m192 117h0m-28-21h0m-68 28h0m-124 4h0m431 133h0m23 9h0m2 3h0m5-2h0m2 6h0m7 3h0m33 20h0m3 8h0m3 1h0m2-3h0m10-4h0m20 9h0m6 16h0m1-8h0m34 7h0m94 62h0m-12-2h0m-11-13h0m-2 3h0m-6 0h0m-3 0h0m-13-13h0m0 3h0m-12-11h0m-9-1h0m-1-6h0m-2 8h0m-3-4h0m-4-7h0m-6-1h0m-6-4h0m-9-6h0m-17-3h0m110 60h0m12 4h0m30 20h0m12 0h0m3-7h0m5 3h0m8 5h0m2 9h0m4 2h0m2-3h0m7-3h0m5 13h0m4-5h0m19 20h0m1-7h0m14 3h0m109 63h0m-22-8h0m-10-10h0m-20 0h0m-1-12h0m-2-1h0m-3 3h0m-14 2h0m0-9h0m-6-9h0m-2 7h0m-2-19h0m-5 6h0m-10 7h0m-1-9h0m-19-5h0m129 62h0m13 11h0m29 14h0m6 0h0m1 11h0m5-10h0m8 12h0m2 6h0m19 10h0m4-3h0m9 5h0m83 43h0m-2-7h0m-11-4h0m-4 0h0m-4 4h0m-4-9h0m0-12h0m-3 11h0m-51-22h0m-128 45h0m10 42h0m75 0h0m-579 92h0m195 15h0m47 10h0m-1137 463h0m11 91h0" stroke="#22b5a2" stroke-width="47" stroke-linecap="round" fill="none"/>
<path d="M431.9 1121.3L592.7 1213.5L431.9 1305.5Z" fill="#e4e4e4"/>
<path transform="scale(.1)" d="M4319 11309h0m0 128h0m11 213h0m164 15h0m852 315h0m-718-21h0m1225 127h0m-1395-21h0m-85 21h0m-43 54h0m1129 0h0m32-11h0m340 11h0m43-11h0m-288 75h0m-1245 63h0m552 7h0m331-11h0m405-17h0m92 4h0m-252 86h0m-498 9h0m-26 11h0m-1-5h0m-4-13h0m-4-22h0m-3 15h0m-22-17h0m-17 29h0m-6-27h0m-17 39h0m-541-34h0m480 95h0m2-37h0m6 33h0m5-39h0m3 34h0m4-23h0m2 23h0m7-14h0m16 3h0m6 22h0m48-5h0m30-25h0m3-24h0m16 26h0m2 0h0m5-30h0m387 25h0m43 42h0m-341 43h0m-32-32h0m-115 33h0m-9-41h0m-27 23h0m-12 11h0m-8-44h0m-3 37h0m-4 9h0m-4-27h0m-3 22h0m-14-8h0m-4-27h0m-8 29h0m-6-27h0m-9 10h0m-5 31h0m-12-28h0m-3 37h0m-20-37h0m-90 34h0m-315 27h0m318 24h0m4 8h0m6-16h0m5-1h0m21 3h0m6-31h0m7 45h0m2-29h0m2 0h0m8 3h0m11-8h0m4 23h0m4-16h0m1-27h0m7 30h0m6 16h0m4 6h0m10-29h0m3-20h0m5 41h0m2-28h0m6 41h0m2-2h0m3-14h0m6-10h0m53-21h0m37 22h0m96-32h0m171 54h0m95-43h0m-138 75h0m-245 32h0m-69-56h0m-13 43h0m-3-9h0m-3-30h0m-4 32h0m-34-7h0m-6-21h0m-12 10h0m-1 7h0m-1-25h0m-36 27h0m0-16h0m-8 42h0m-3-21h0m-1-6h0m-2 6h0m-68-33h0m-14 43h0m-9 9h0m-12 57h0m9 9h0m6-17h0m4-27h0m3 13h0m8-1h0m26 24h0m1-9h0m4-33h0m3 48h0m5-35h0m3 20h0m1-16h0m8 6h0m5-6h0m1 5h0m5-3h0m15 15h0m0-18h0m9 15h0m3-30h0m3 6h0m3 34h0m2-45h0m20 21h0m39-21h0m-12 69h0m-69 14h0m-34 7h0m-8-20h0m-3-12h0m-12 33h0m-2-20h0m-10 27h0m-1-28h0m-1 30h0m-7-26h0m-3 0h0m-2 7h0m-5 25h0m-1-28h0m-7 7h0m-7-17h0m-132 82h0m71 6h0m1 14h0m10-22h0m11-8h0m2 9h0m6-34h0m0 35h0m4 17h0m16-24h0m13-14h0m2 33h0m13-40h0m17 40h0m3-44h0m17 25h0m6 31h0m12-51h0m-43 94h0m-8-22h0m-7 0h0m-20 28h0m-6-27h0m-8-12h0m-4 9h0m-10-18h0m-6 14h0m-9 7h0m-3 5h0m-4-16h0m-4 4h0m-2 43h0m-1-10h0m-1-13h0m-1-30h0m-11 42h0m-14-29h0m-8 33h0m0 6h0m-16-34h0m-21 18h0m-72 3h0m36 25h0m2 11h0m29 34h0m5-3h0m3-31h0m2-12h0m3 4h0m3 25h0m1-12h0m15-6h0m1 14h0m1-18h0m3 33h0m4-20h0m9 28h0m7-38h0m30 31h0m9 11h0m4-4h0m-60 29h0m-11-20h0m-17 8h0m-3-11h0m-7 12h0m-2 4h0m-4-14h0m-2 11h0m0 31h0m-4-20h0m-9 25h0m-2-19h0m-9 24h0m-12-34h0m-8 23h0m-5 12h0m-12-19h0m-19 2h0m-17 17h0m-1-30h0m-2 28h0m-3 48h0m17-26h0m7 26h0m4 15h0m5-35h0m1 6h0m3 24h0m10 4h0m0-38h0m1 11h0m1 20h0m1 7h0m2-34h0m3 16h0m4-31h0m1 1h0m2 14h0m15 23h0m2-39h0m5 2h0m7-7h0m27 20h0m-108 45h0m-3-4h0" stroke="#d2d2d2" stroke-width="46" stroke-linecap="round" fill="none"/>
<path transform="scale(.1)" d="M4422 11274h0m-10-5h0m-48-26h0m-8 10h0m-4-18h0m86 67h0m11-13h0m6 9h0m11 2h0m2 0h0m2 2h0m16 23h0m21 11h0m17 0h0m91 57h0m-2-10h0m-4 1h0m-3 0h0m-11 4h0m-13 10h0m-1-23h0m-2 18h0m-3-2h0m-5-21h0m-4 25h0m-1-20h0m-2-13h0m-9 23h0m-4 14h0m-6-49h0m-5 8h0m-19-16h0m-25 109h0m48-39h0m9 32h0m3-30h0m9-11h0m1 56h0m2-28h0m1-28h0m10 16h0m10 31h0m8-25h0m1 25h0m4 9h0m9-49h0m9 48h0m2-37h0m2 1h0m3 36h0m11-1h0m24-11h0m16-27h0m9 11h0m8 2h0m12 9h0m27 15h0m94 62h0m-21-5h0m-27-28h0m-5 2h0m-15-6h0m-5 30h0m-1-35h0m-6 35h0m-9-33h0m-9 38h0m-11-18h0m-8-3h0m-7 16h0m-14-48h0m-24 5h0m-4 33h0m-11 18h0m-18-29h0m-10-8h0m-2 3h0m-9 8h0m-4 8h0m-1 0h0m-4-2h0m-4 5h0m-2-12h0m0-21h0m-3 23h0m-1-23h0m-2 19h0m-5-7h0m-1-8h0m-3-6h0m-5 14h0m-9-11h0m-1 2h0m-10 19h0m-11-31h0m9 59h0m2 1h0m5 6h0m5 19h0m5-10h0m15 4h0m9-7h0m8 10h0m1 29h0m0-3h0m2-9h0m0 5h0m2-21h0m1 22h0m1-42h0m0 9h0m8 30h0m4 15h0m11-7h0m18-16h0m12-13h0m67-15h0m19 17h0m105-20h0m19 17h0m137 70h0m-21-11h0m-103-16h0m-117-3h0m-62 54h0m-23-19h0m-4 20h0m-15-3h0m-17-29h0m-3 32h0m-2-57h0m-6 16h0m-3 29h0m-1-18h0m-19 13h0m-2-34h0m-4 27h0m-7-15h0m-15 14h0m-2-26h0m-21 11h0m-6 53h0m63 14h0m6 19h0m11-25h0m2 21h0m2-1h0m30-28h0m19 7h0m4 7h0m158-18h0m31 4h0m249 43h0m55 21h0m-315-11h0m-147 19h0m0-5h0m0 26h0m-14 16h0m-6-16h0m-5-15h0m-1 3h0m-2-9h0m-8 21h0m0-8h0m-8-6h0m-5-11h0m-10 11h0m-6-25h0m0 24h0m-5-4h0m-20-12h0m-37 72h0m115-11h0m11-9h0m1 24h0m5 26h0m4-31h0m0 4h0m0-26h0m1 15h0m11 14h0m3-3h0m15 30h0m6-2h0m77 5h0m-48 50h0m-6-3h0m-1 8h0m-32-42h0m-12 12h0m-6 1h0m-1 18h0m-26-33h0m-23-9h0m-5 27h0m-11 56h0m61-25h0m12 24h0m21 20h0m2 9h0m13-18h0m2 20h0m5-7h0m27-38h0m5 32h0m12-15h0m20 29h0m751 23h0m-776 33h0m-6 4h0m-2-17h0m-8 4h0m0-9h0m-8 20h0m-10-11h0m-5 9h0m-1 7h0m0-59h0m-1 19h0m-1 20h0m-6 3h0m-28-11h0m-2-8h0m-1-17h0m14 55h0m21 4h0m8 16h0m12-5h0m5 34h0m3-31h0m1 9h0m989 41h0m-858 43h0m-32 0h0m-6-11h0m-28-16h0m-34 9h0m-4-9h0m-18-17h0m-1-7h0m-1 18h0m0 24h0m-1-25h0m-6-10h0m-1 29h0m0 6h0m-3 0h0m-4-16h0m-1 13h0m-4-27h0m-18 1h0m-8 11h0m-1 29h0m0 36h0m2 27h0m7-15h0m6 13h0m0-15h0m8-27h0m11 27h0m15 5h0m3 14h0m12-55h0m18 7h0m1-2h0m1063 4h0m-1063 68h0m-26-20h0m-5 58h0m-3-52h0m-6 3h0m-3 10h0m-1-6h0m-3-13h0m-3 18h0m-13-14h0m-12-1h0m-4 19h0m-38 33h0m-2-12h0m-27 52h0m6 7h0m7 10h0m1 0h0m4-23h0m5-19h0m2 34h0m3-5h0m0-17h0m8 20h0m7-5h0m4-29h0m2 33h0m1-25h0m0-1h0m4 25h0m1-33h0m10 13h0m12-19h0m1 70h0m-21 38h0m-11-25h0m-7-20h0m-7 39h0m-9 3h0m-5-5h0m-3 9h0m-23-9h0m-99 64h0m57-4h0m17 89h0m11 64h0m-123 113h0m-171 260h0m-72 119h0" stroke="#ff951f" stroke-width="46" stroke-linecap="round" fill="none"/>
<path transform="scale(.1)" d="M4415 11394h0m-21-10h0m292 153h0m-47 337h0m64 42h0m21 11h0m-21 96h0m32 63h0m-22-21h0m-21 53h0m-70-6h0m-4 60h0m106-49h0m68 23h0m-36 58h0m-11 74h0m5 32h0m-5 26h0m-25 81h0m-107 57h0" stroke="#f9cde0" stroke-width="46" stroke-linecap="round" fill="none"/>
<path transform="scale(.1)" d="M5576 11954h0m-805 158h0m-94 262h0m-28 175h0" stroke="#ffdf1c" stroke-width="46" stroke-linecap="round" fill="none"/>
<path d="M636.6 1120.3L798.5 1213.5L636.6 1306.6Z" fill="#e4e4e4"/>
<path transform="scale(.1)" d="M6378 11403h0m4 114h0m-5-30h0m19 40h0m-7 96h0m-17 32h0m6 184h0m6 99h0m-3 54h0m0 5h0m-10 59h0m13-26h0m1476 133h0m-40 42h0m-1 16h0m-1-6h0m-10 18h0m-29-48h0m-3 44h0m-10-46h0m-26 53h0m-11-44h0m-3 14h0m-9 31h0m0-12h0m-29-25h0m-37 5h0m-21 12h0m-6 12h0m-46-30h0m-46 23h0m-4-16h0m-30 5h0m-84 11h0m-3-14h0m-1027 17h0m-9-6h0m-2-3h0m-5 24h0m4 15h0m779 44h0m166-44h0m15 37h0m23-44h0m17 26h0m9 8h0m30-6h0m68-34h0m18 50h0m7 2h0m2-40h0m36-14h0m4 3h0m2 38h0m25-11h0m15 3h0m71-31h0m7 21h0m6 16h0m14-26h0m18 5h0m-33 58h0m-38-16h0m-48 33h0m-34 16h0m-69-25h0m-48-12h0m-11 12h0m-9-1h0m-3-22h0m-51 37h0m-17 19h0m-81-45h0m-19 36h0m-23-40h0m-15 26h0m-1-23h0m-6 1h0m-45 29h0m-1-11h0m-47-12h0m-11 36h0m-166-10h0m-2 2h0m-13-20h0m-89-3h0m-451 14h0m3 41h0m287 13h0m26 26h0m43-41h0m24 13h0m1 30h0m13-8h0m14-11h0m30 6h0m5-15h0m75 7h0m57 9h0m35 3h0m44 8h0m19-35h0m63 16h0m6-34h0m9 51h0m54-48h0m11 34h0m138-26h0m39 10h0m236 3h0m-172 57h0m-42 7h0m-37-18h0m-64-7h0m-49 46h0m-38-36h0m-26 13h0m-54 17h0m-149-18h0m-32-5h0m-5 7h0m-18-18h0m-45 38h0m-8-46h0m-17 3h0m-6 10h0m-20 14h0m-21-7h0m-4 28h0m-2-10h0m0-14h0m-6 23h0m-6-19h0m-4-13h0m-2 17h0m-5 8h0m-1-29h0m0 37h0m-9-19h0m-13-18h0m0 24h0m-20 2h0m-3 7h0m-6-13h0m-15-23h0m-5 37h0m-15-42h0m-3 14h0m-22 24h0m-43-42h0m-237-3h0m187 117h0m29-29h0m27-26h0m27 51h0m14-15h0m5-22h0m3 14h0m6 15h0m18-33h0m3 30h0m7-6h0m7-29h0m2 45h0m14-14h0m0-9h0m2-27h0m21 43h0m5-41h0m13 7h0m7 14h0m3-9h0m20 31h0m25-44h0m17 25h0m260-12h0m71-11h0m36 52h0m77-25h0m80-15h0m28 0h0m-220 79h0m-26-37h0m-56 21h0m-10 0h0m-95-4h0m-35 19h0m-33 14h0m-67-26h0m-47-3h0m-2-22h0m-20 23h0m-65 2h0m-2-3h0m-10-21h0m-5 15h0m-3-3h0m-3 25h0m-10 2h0m-4-4h0m-21-24h0m-14 29h0m-27-9h0m-18 6h0m-44-8h0m-180 17h0m-10 21h0m157-4h0m42 47h0m3-24h0m3 8h0m14 0h0m3-32h0m8 31h0m3 24h0m0-3h0m12-32h0m6-19h0m5 13h0m5-7h0m5 41h0m3-38h0m17 29h0m1 8h0m2-25h0m9 28h0m2-22h0m3 12h0m2-7h0m1 22h0m34-6h0m44-8h0m40-43h0m161 34h0m95-7h0m93-25h0m-142 93h0m-12-4h0m-47 23h0m-42-47h0m-123 16h0m-82 14h0m-7 12h0m-2-12h0m-5-34h0m-20 25h0m-11-6h0m-24 19h0m-10-27h0m-7 30h0m-8-16h0m0 3h0m-1-29h0m-17 34h0m-14 22h0m-1-1h0m-1-48h0m-20 0h0m-3 31h0m-3-34h0m-7 2h0m-2 2h0m-15-3h0m-141 19h0m83 92h0m4-42h0m5 28h0m12-7h0m22-5h0m6-4h0m7 30h0m0-57h0m3 12h0m8 28h0m11 0h0m5-11h0m2 27h0m6-5h0m24-29h0m10-3h0m3 28h0m8 0h0m24 6h0m3-45h0m20-8h0m13 55h0m247-52h0m-87 84h0m-196-12h0m-6-13h0m-23 0h0m-6 0h0m-5 30h0m-10-23h0m-6 20h0m-39 7h0m-4-25h0m-1 3h0m-2-10h0m-9 36h0m-18-42h0m-17 56h0m-61-45h0m-37 35h0m1 32h0m10 29h0m8-24h0m52 22h0m17-11h0m4 1h0m6-1h0m25 24h0m2-10h0m1-33h0m15 41h0m4-27h0m2-3h0m13-8h0m0 14h0m10 5h0m32 13h0m103-30h0m-149 43h0m-16 19h0m-2 4h0m-13 26h0m-4-44h0m-2 32h0m-1 19h0m-12-56h0m-18 44h0m-1-7h0m-21 8h0m-9-20h0m0-23h0m-3-1h0m-1 20h0m-16 1h0m-12-16h0m0-4h0m-22 16h0m-1 11h0m-4 78h0m16-15h0m1 4h0m7 0h0m4 4h0m7-13h0m4 26h0m0-17h0m1-16h0m14 10h0m5-31h0m14 57h0m5-38h0m1-16h0m2 51h0m1-5h0m13-10h0m-84 22h0" stroke="#d2d2d2" stroke-width="46" stroke-linecap="round" fill="none"/>
<path transform="scale(.1)" d="M6450 11261h0m-18 3h0m-11 4h0m-6-20h0m0-8h0m-1 20h0m-8-32h0m-2 8h0m-13 39h0m-1-35h0m-15 14h0m-1 12h0m4 20h0m2 29h0m5 21h0m13-6h0m4-16h0m4 2h0m2 0h0m9-22h0m2 37h0m0 4h0m3-2h0m5-27h0m1 28h0m8 5h0m48-13h0m39 67h0m-17-5h0m-22 9h0m-1-21h0m-2 15h0m-20-47h0m-11 39h0m-2-21h0m-3 17h0m-12-5h0m-14 12h0m-46-24h0m24 54h0m28 12h0m10 26h0m13 0h0m6-3h0m5-30h0m2-13h0m18-8h0m2 14h0m15 39h0m5-49h0m2 37h0m9 16h0m1-23h0m36 15h0m4 54h0m-28-31h0m-17-3h0m-4 44h0m-1-23h0m-3 14h0m-5 3h0m-5 2h0m-18-37h0m-13 29h0m-19 18h0m-66-40h0m92 85h0m3 0h0m7-22h0m31 20h0m1-19h0m1 0h0m1 20h0m5-34h0m11 38h0m10-43h0m1 53h0m20-39h0m80 97h0m-37-13h0m-6-16h0m-1 20h0m-2-7h0m-15 7h0m0 3h0m-35-32h0m-3 22h0m-3 19h0m-2-27h0m-1-24h0m-1 2h0m-18 17h0m-3-3h0m-52 4h0m56 65h0m10 12h0m18-13h0m14-5h0m4 1h0m14 8h0m27 2h0m6 8h0m13-17h0m1 27h0m9 1h0m13-11h0m628 39h0m-653-12h0m-7 10h0m-2-2h0m-3 28h0m-5-47h0m-1 17h0m-14 24h0m-10-26h0m-1 10h0m-3-16h0m-2 36h0m-5 6h0m-1-49h0m-2 33h0m-3-28h0m-7 0h0m-34 16h0m42 43h0m12 28h0m8-32h0m0 7h0m9 38h0m4-41h0m6 38h0m17-22h0m4 8h0m1 7h0m8-6h0m3-27h0m24 40h0m23-8h0m8 19h0m14-15h0m16 12h0m76 52h0m-85-9h0m-23 12h0m-3 10h0m-13-41h0m-4-15h0m-41 11h0m-14 23h0m-1 5h0m-20-3h0m-2 7h0m-27-27h0m59 59h0m15 0h0m7 39h0m0-2h0m17-44h0m8 49h0m1-14h0m1-24h0m4 37h0m8-43h0m1 21h0m6-14h0m21 8h0m7 2h0m5 18h0m17 4h0m5-15h0m29 42h0m-5 28h0m-31 8h0m-2-10h0m-26-29h0m-6 30h0m-31-15h0m-1 8h0m-9-41h0m-11 4h0m-3 29h0m-12-24h0m0 108h0m14-42h0m52 18h0m3 1h0m13-15h0m6-13h0m3 27h0m1-9h0m4 23h0m21-20h0m93 70h0m-14 21h0m-20-47h0m-17 45h0m-13-15h0m-6-25h0m-7 1h0m-6 12h0m-4-12h0m-1 42h0m-5-7h0m-3-49h0m-6 18h0m-37-2h0m-14 21h0m-12-10h0m-28-9h0m0 1h0m40 44h0m54 35h0m5-20h0m11-10h0m3 19h0m21 5h0m9-23h0m7 46h0m74 48h0m-29-41h0m-18 46h0m-4-36h0m-6 32h0m-8 5h0m-3-10h0m-10-23h0m-2 23h0m-10-22h0m-27 16h0m-9 2h0m-1-16h0m-2 26h0m-20-23h0m-1 5h0m-22-24h0m72 59h0m7 1h0m17 18h0m18-18h0m7 19h0m0-2h0m-266 111h0m-21 181h0m-32 362h0m-128 117h0" stroke="#f9cde0" stroke-width="46" stroke-linecap="round" fill="none"/>
<path transform="scale(.1)" d="M6387 11305h0m437 168h0m53 177h0m160 74h0m85 86h0m373 64h0m-157-15h0m-3-2h0m-14 7h0m-37-12h0m-43 3h0m-4 22h0m-3-41h0m-3 37h0m-23-16h0m-40-35h0m-9 8h0m0 15h0m-2-16h0m-2 20h0m-6 26h0m-2-38h0m-8 30h0m-34-11h0m-22 9h0m-9-15h0m-9 21h0m-11-40h0m-35 96h0m10-13h0m7 21h0m15-5h0m7-7h0m2-10h0m7 3h0m28-17h0m22 34h0m2-49h0m14 5h0m12-3h0m5 9h0m5-8h0m13 6h0m5 6h0m7 21h0m16 15h0m2 2h0m21-13h0m19-17h0m12 10h0m1 4h0m10-15h0m0 8h0m5-3h0m6 14h0m11 11h0m8-22h0m8 5h0m5-2h0m10-12h0m12 21h0m3 0h0m34-24h0m1 36h0m1-8h0m11-6h0m0-1h0m6-15h0m14 7h0m7 13h0m4-11h0m1 0h0m10-30h0m6 16h0m9-8h0m19 22h0m5 7h0m24-15h0m9 27h0m15-3h0m8-8h0m9 4h0m157 70h0m-9-5h0m-7 1h0m-12-6h0m-3-7h0m-2 17h0m-14-23h0m-3 10h0m-1 1h0m-4-12h0m-23-23h0m-3 36h0m-7 2h0m-2 8h0m-18-46h0m-13-8h0m-15-4h0m-13 17h0m-3 35h0m-7-44h0m-3 47h0m-23-49h0m-5-1h0m-8 14h0m-8-5h0m-9 0h0m-25 14h0m-1 19h0m-22-5h0m-29 7h0m-19-30h0m-29 24h0m-2 4h0m-13-9h0m-11-11h0m-41-17h0m-3-6h0m0 38h0m-16 16h0m-6-32h0m-9 0h0m-12-1h0m-21 26h0m-17-25h0m-2 29h0m-27-51h0m-2 39h0m-4-32h0m-3 20h0m-4-15h0m-5 32h0m-6-9h0m-17 7h0m-2-46h0m-18 3h0m-4 20h0m-2 25h0m-18-11h0m-5 17h0m-1-7h0m-7-7h0m-4 13h0m-50-13h0m-5-17h0m-6-3h0m-38 94h0m24-39h0m30 4h0m4 5h0m2 20h0m7-41h0m11 44h0m18 8h0m4-30h0m3-12h0m3 41h0m10-31h0m2-8h0m11 0h0m2 0h0m2 10h0m0 23h0m1-48h0m11 23h0m11-13h0m3 13h0m8-11h0m9-10h0m7 57h0m3-51h0m15 45h0m2-52h0m4 19h0m14 11h0m17 10h0m1 8h0m12 9h0m5-4h0m5-42h0m4-11h0m3 28h0m0 6h0m2-10h0m17-16h0m9 48h0m42-15h0m6-21h0m0 24h0m24 10h0m19 2h0m11-1h0m6-53h0m9 18h0m1 36h0m1 1h0m15-32h0m9-8h0m4 25h0m11 0h0m1-29h0m19 25h0m24-21h0m4-17h0m0 9h0m14 45h0m27-4h0m7-35h0m12-6h0m9 18h0m8-15h0m0 30h0m2 8h0m12 2h0m9-37h0m5 9h0m1 8h0m12 19h0m1-14h0m11-10h0m6 5h0m22-1h0m0 7h0m1 11h0m3-29h0m0 28h0m1-3h0m15-46h0m1 59h0m2-29h0m4 29h0m0-23h0m3 4h0m4-25h0m16 12h0m3 32h0m14-51h0m1 36h0m1-34h0m0 3h0m4 34h0m28-28h0m10 20h0m7 16h0m7 1h0m0-1h0m7 1h0m15 2h0m12-27h0m2 10h0m19 4h0m122 74h0m-30 0h0m-9-12h0m-6-8h0m-8-20h0m-28-9h0m-15 7h0m-12-7h0m-9-2h0m-22-6h0m-1 14h0m-10-6h0m-12 20h0m-2-23h0m-12 36h0m-16-37h0m-21 44h0m-1-30h0m-1 34h0m-9-4h0m-19-37h0m-1 13h0m0 19h0m-43-7h0m-20-11h0m-16 20h0m-4 4h0m-9-5h0m-1-8h0m-10-36h0m-6 32h0m-4-13h0m-4-9h0m-20 41h0m-2-11h0m-7 0h0m-8-28h0m-8 36h0m-6-45h0m-12 28h0m-3 11h0m-32-6h0m-8 12h0m-7 7h0m-12-18h0m-2 5h0m-7-26h0m0 1h0m-13 33h0m-8 2h0m-3-3h0m-12-39h0m-3 0h0m-5 14h0m-37 17h0m-17 5h0m-18-31h0m-24-1h0m-2 34h0m-31-7h0m-10-29h0m-10 33h0m0-21h0m-8 17h0m0-11h0m-22-31h0m-8 13h0m-9 43h0m-21-2h0m-25-46h0m-9-8h0m-20 20h0m-26 17h0m-2-12h0m-18-22h0m-3 17h0m-12 16h0m-8-33h0m-5-3h0m-8 2h0m-1 52h0m-3-9h0m-27-41h0m-9 3h0m-2-6h0m-18 56h0m-2-27h0m-1 0h0m-1-8h0m-6 20h0m0-6h0m-1-20h0m-4-10h0m-20 86h0m6-10h0m18-12h0m10 31h0m5-25h0m10 34h0m14-33h0m4 11h0m8-14h0m1 24h0m15 16h0m45 0h0m3-55h0m25 18h0m1-5h0m2 4h0m39 9h0m14-6h0m2 38h0m11-56h0m15 14h0m11 19h0m5 0h0m7-8h0m14 1h0m7-28h0m23 14h0m2 45h0m9-39h0m3 10h0m1-5h0m15 7h0m1 1h0m3 11h0m12-28h0m1-1h0m18 30h0m12-37h0m13 48h0m7-51h0m0 40h0m11-25h0m6 2h0m12 13h0m14-15h0m6-16h0m2 2h0m3 32h0m9-18h0m2 23h0m10-6h0m6-37h0m18 42h0m6-18h0m9-18h0m6 25h0m26-20h0m1 2h0m55-12h0m19 4h0m18 12h0m18-6h0m68-7h0m9 14h0m28-15h0m24 5h0m50 4h0m7-3h0m75 0h0m8 7h0m15-14h0m5-2h0m50 2h0m9 5h0m-707 84h0m-36-12h0m-24-14h0m-23-5h0m-3 6h0m-7 19h0m-1-5h0m-1-12h0m-28 29h0m-6-13h0m-4-9h0m-3 1h0m-19 0h0m-5 41h0m-3 0h0m-2-40h0m-4 2h0m-25 24h0m-5-11h0m-1 9h0m-19 12h0m-7-1h0m-14-46h0m-1 14h0m-2-8h0m-15 17h0m-13-29h0m-1 37h0m-11-10h0m-26 22h0m-5-29h0m-7 5h0m-4 16h0m-6-14h0m-17 28h0m0 45h0m7-38h0m20 33h0m37 10h0m33-6h0m6-35h0m4-1h0m4 5h0m3 41h0m17-45h0m1 34h0m3-26h0m29 21h0m6-5h0m9-9h0m13 7h0m5-16h0m105 81h0m-212-9h0m-4 4h0m-9-12h0m-6 8h0m-17 26h0m-3-37h0m-7-10h0m-4 50h0m-10-12h0m-8-8h0m-5 8h0m-6-24h0m-2-4h0m-8 42h0m-10-9h0m22 29h0m-105 150h0m-256 309h0m43 74h0m-160 64h0" stroke="#ffdf1c" stroke-width="46" stroke-linecap="round" fill="none"/>
<path transform="scale(.1)" d="M6457 11269h0m24 15h0m4-3h0m24 9h0m9 2h0m14 11h0m1 15h0m11-5h0m1 25h0m5-20h0m1 18h0m25-11h0m2 0h0m5 5h0m73 45h0m-20 21h0m-22-7h0m-1-4h0m-4-33h0m-2-8h0m-3 49h0m0-16h0m-1 20h0m-1-47h0m0-3h0m-1 9h0m-3-13h0m-5 14h0m0-16h0m-2 5h0m-1 34h0m-10-16h0m-2-23h0m-3 30h0m-15 13h0m-6 6h0m-20-2h0m-2-19h0m-8 2h0m15 47h0m38 3h0m1-14h0m1 8h0m17 7h0m19 33h0m1 4h0m2-55h0m1 22h0m1 22h0m42 11h0m4-9h0m39-33h0m34 3h0m13 14h0m36 16h0m117 66h0m-202-31h0m-17 34h0m-19-40h0m-9 29h0m-3 0h0m-5-42h0m-1 44h0m-33-41h0m-21 18h0m0 2h0m44 33h0m5 14h0m0 20h0m14 7h0m4-28h0m3 2h0m7-12h0m2-5h0m1 7h0m8 30h0m9-33h0m1 25h0m3-13h0m11 9h0m1 24h0m1-33h0m7 20h0m5-22h0m10 30h0m184-44h0m110 64h0m-297 49h0m-6-19h0m0 20h0m-8-36h0m-1 5h0m-11 36h0m-13-20h0m-3-19h0m-13 10h0m-9 0h0m56 62h0m16-32h0m8 20h0m30 17h0m4 21h0m142 37h0m-65-31h0m-21 46h0m-6-48h0m-6 45h0m-2-3h0m-11-41h0m-14 55h0m-9-50h0m-19 32h0m-7 16h0m-10-50h0m30 68h0m9 43h0m5-52h0m4 5h0m6 43h0m7-21h0m8 22h0m9-33h0m7 11h0m12 19h0m1-10h0m7 15h0m12 0h0m18-24h0m45-14h0m-60 70h0m-1 20h0m-3-36h0m-2-10h0m0 28h0m-5 15h0m-15-14h0m-7 24h0m-3-51h0m-9 40h0m-5-16h0m-32 20h0m-13-41h0m53 101h0m8-26h0m14-1h0m4 3h0m8 28h0m3 4h0m2-40h0m1 38h0m2-6h0m4-10h0m2 7h0m7-25h0m13 25h0m162-41h0m543 43h0m-679 45h0m-10 11h0m-12 10h0m-5-27h0m-22 29h0m-12-37h0m11 89h0m3-43h0m6 27h0m3 7h0m5-6h0m4-6h0m4-20h0m10-5h0m2 52h0m2-3h0m5-24h0m3 27h0m5-48h0m4 1h0m2 28h0m16-30h0m10 80h0m-18 23h0m-4-29h0m-12 32h0m-5-13h0m-4-17h0m-9 28h0m-11-19h0m-3 15h0m-15-7h0m-16 19h0m-59 58h0m56-4h0m13-1h0m16 5h0m5-34h0m1 29h0m7-19h0m11-24h0m1 37h0m0-6h0m1-20h0m8-6h0m1 42h0m23-49h0m-23 92h0m-7 1h0m-18-32h0m0 39h0m-1 15h0m0-35h0m-4-10h0m-20 25h0m-3-35h0m-1 37h0m0-40h0m-2 28h0m-27-10h0m-2 19h0m-9-15h0m-29 90h0m1 2h0m3-49h0m20 26h0m5-7h0m1 29h0m3-40h0m3 28h0m0-22h0m2 15h0m3-12h0m12-7h0m11 12h0m3-1h0m19 7h0m3 7h0m10-32h0m-9 61h0m-22 4h0m-2-6h0m-258 51h0m181 4h0m-26 79h0m-21 49h0m-81 85h0m6 32h0m-117 100h0m-10 49h0m-32 32h0" stroke="#ff951f" stroke-width="46" stroke-linecap="round" fill="none"/>
<path d="M839.4 1125.6L998.5 1215.7L839.4 1307.7Z" fill="#e4e4e4"/>
<path transform="scale(.1)" d="M8415 11554h0m-17 181h0m17 32h0m100 21h0m-117 352h0m1512 42h0m-1512 43h0m574 100h0m-1 17h0m-1 1h0m-3 4h0m-526 27h0m473 10h0m9-4h0m1-13h0m6 34h0m2-11h0m0 24h0m5-32h0m3-6h0m9-8h0m392 6h0m-413 58h0m-27 3h0m-7 6h0m-20 38h0m-8-30h0m-2 22h0m-46 37h0m13 18h0m2-21h0m16-7h0m9-7h0m147 15h0m75-15h0m-302 86h0m-3-13h0m-3 6h0m-3-21h0m-7-5h0m-33 50h0m-327 58h0m277-1h0m3 4h0m17-36h0m15 0h0m163 68h0m-210-19h0m-12 3h0m-2 27h0m-5-4h0m-11-32h0m-20 39h0m-9 5h0m-10-10h0m-188-11h0m-3-22h0m-4 40h0m0 4h0m-2 41h0m2-23h0m4 29h0m3-8h0m105 54h0m-96 5h0m-7 12h0m-5-4h0m-1 17h0m-9-5h0m7 15h0m8 57h0m2-37h0m122 88h0m-9-14h0m0-10h0m-3-6h0m-3 4h0m0-10h0m-4 8h0m-2 8h0m-1-1h0m-1-9h0m-6 25h0m-1 7h0m-5-16h0m-7 1h0m-6 13h0m-62-25h0m-21 16h0m-3-22h0m0 1h0m-6-13h0m1 113h0m2-42h0m12-1h0m31 24h0m9 5h0m4 2h0m10-27h0m1 16h0m2-13h0m14-7h0m5 2h0m4-2h0m29 10h0m-70 57h0m-16 5h0m-5-18h0m-5 24h0m-16-8h0m0 14h0m-6-26h0m-5 16h0" stroke="#d2d2d2" stroke-width="46" stroke-linecap="round" fill="none"/>
<path transform="scale(.1)" d="M8411 11273h0m-6 28h0m17 33h0m7-5h0m3-48h0m8 27h0m0 27h0m23-32h0m29 91h0m-6-17h0m-4-4h0m-17-12h0m-3 34h0m-4-30h0m-17-24h0m-17 3h0m-13-4h0m73 63h0m14 19h0m5-13h0m8 17h0m14 23h0m2-6h0m14 9h0m14 60h0m-8-38h0m-2 3h0m-7 3h0m-2-14h0m-22 12h0m51 47h0m451 82h0m-213-10h0m-209-4h0m166 68h0m11 74h0m-53-21h0m489 57h0m160 49h0m-649 124h0m-107 57h0m1097 11h0m-916 117h0m-53 117h0m117-4h0m-32 143h0m-96 159h0m-96 128h0m-32 64h0m-42 68h0" stroke="#f9cde0" stroke-width="46" stroke-linecap="round" fill="none"/>
<path transform="scale(.1)" d="M8463 11305h0m3 4h0m49 22h0m88 58h0m-4-3h0m-9-18h0m-1 15h0m-8-19h0m-5 4h0m-9-12h0m-9-2h0m0 4h0m-17-12h0m-12-4h0m112 63h0m3-2h0m13 12h0m27 21h0m2-4h0m12 3h0m27 18h0m7 3h0m111 57h0m-4 5h0m-36-8h0m0 4h0m-2-10h0m-3 2h0m-19-13h0m0 1h0m-3-14h0m-5 3h0m0-11h0m-4 0h0m-22-6h0m-6 0h0m-81 49h0m-25-50h0m-15 22h0m-29 15h0m6 50h0m5 10h0m8-38h0m5 24h0m21 0h0m17 8h0m26 0h0m197-23h0m15 25h0m13-8h0m11 11h0m22 14h0m105 64h0m-11-17h0m-2-2h0m-4 16h0m-19-13h0m-4-7h0m-12-11h0m-9-5h0m-8 13h0m-48-29h0m-106 31h0m-167 0h0m-13-17h0m-8 7h0m-15-21h0m-12 37h0m-3 10h0m-6-26h0m19 62h0m9 5h0m6-15h0m29-11h0m1 41h0m391-43h0m3-4h0m15 12h0m23 19h0m8 10h0m2-10h0m3-2h0m5 5h0m1 3h0m8 6h0m11 5h0m110 61h0m-5-3h0m-6-1h0m-9 8h0m-12-7h0m-1-21h0m-4 2h0m-1 6h0m-19-13h0m-13 7h0m-83 7h0m-86 1h0m-5 20h0m-13-22h0m-17-24h0m-3 23h0m-44 3h0m-42 12h0m-41 10h0m-3-25h0m-22 4h0m-134-27h0m-6 26h0m-69-28h0m3 93h0m68 9h0m128-15h0m8-21h0m3 38h0m18-3h0m1-46h0m2 11h0m59 36h0m55-17h0m68-6h0m16 25h0m23-34h0m187-11h0m48 20h0m5-8h0m6-4h0m10 4h0m114 73h0m-16 3h0m-12-15h0m-5 1h0m-8 5h0m-30-25h0m-2 4h0m-3 0h0m-266 20h0m-34-15h0m-21 34h0m-19-31h0m-10-6h0m-59 30h0m-143-8h0m-126 13h0m-57 34h0m16 0h0m113 4h0m145 45h0m813 57h0m107 64h0m-869 0h0m-388 28h0m1342 30h0m-1065 251h0m-53 53h0m-154 149h0m-198 388h0m7 55h0" stroke="#ff951f" stroke-width="46" stroke-linecap="round" fill="none"/>
<path transform="scale(.1)" d="M8941 11665h0m43 38h0m-43 85h0m491 63h0m-11 19h0m-9-10h0m0-10h0m-9-2h0m-3 2h0m-9 1h0m-10-8h0m-259 41h0m85 21h0m255-22h0m19 21h0m3 2h0m13 3h0m4 0h0m2 4h0m3 0h0m13 4h0m11 7h0m4-7h0m1 4h0m10 8h0m7 3h0m14 0h0m103 65h0m-5-7h0m-25-12h0m-3 1h0m-2-9h0m-26-13h0m-8 0h0m-1-3h0m-2 1h0m-8-4h0m-12-2h0m-99 49h0m-5-1h0m-11-5h0m-42 3h0m-29-1h0m-1-2h0m-116-8h0m-22-21h0m-18 12h0m-12 12h0m-217 36h0m255-15h0m7 1h0m8 25h0m4-25h0m27 3h0m22-7h0m56-2h0m6 29h0m2 3h0m13-14h0m10 2h0m5-7h0m8 14h0m1-10h0m82-19h0m3 17h0m4 27h0m5-16h0m0-7h0m8 25h0m4-44h0m8 12h0m10-1h0m5 6h0m10 26h0m2-7h0m136-23h0m2-2h0m5-1h0m3 6h0m4 8h0m10 6h0m9-1h0m0-2h0m5 7h0m3-6h0m22 17h0m6-1h0m2-2h0m7 11h0m7-1h0m5 3h0m4-1h0m109 61h0m-5-5h0m-21 2h0m-4-9h0m-12-11h0m-2-4h0m-9-5h0m-13-7h0m-2 10h0m-3-7h0m-8 0h0m-17-8h0m-16-10h0m-228 12h0m-10 38h0m-85-6h0m-86-15h0m437 51h0m84-23h0m12 9h0m4-5h0m15 20h0m6-9h0m1 4h0m2 8h0m9 7h0m0-7h0m14 5h0m0 6h0m1-5h0m-1011 113h0m543 150h0m-638 59h0m-32 0h0m-96 111h0m-32 11h0m-43 78h0m-59 85h0" stroke="#ffdf1c" stroke-width="46" stroke-linecap="round" fill="none"/>
<path d="M105.9 820.3L7.7 997.5L204.3 997.5Z" fill="#e7e7e7" stroke="#8a8a8a" stroke-width="0.7"/>
<path d="M106.2 937.6L105.9 820.3" stroke="#8a8a8a" stroke-width="0.6"/>
<path d="M106.2 937.6L7.7 997.5" stroke="#8a8a8a" stroke-width="0.6"/>
<path d="M106.2 937.6L204.3 997.5" stroke="#8a8a8a" stroke-width="0.6"/>
<path transform="scale(.1)" d="M1054 9402h0m141 64h0m-121-39h0m-14 6h0m-8-8h0m-18 9h0m-82 71h0m22-4h0m24 3h0m17 12h0m37-23h0m5-1h0m9-5h0m11 8h0m18 5h0m39-7h0m0-5h0m94 29h0m83 35h0m-39 18h0m-33 17h0m-167 3h0m-34-43h0m-143 15h0m-41-8h0m-5 45h0m-6-30h0m-2 7h0m-66 65h0m117-31h0m16 24h0m9-16h0m88 4h0m38 0h0m94-8h0m8 44h0m79-42h0m88 42h0m9-13h0m162 9h0m35 2h0m31 32h0m-55-14h0m-106 43h0m-31-20h0m-4-25h0m-91 40h0m-104-33h0m-6 17h0m-60 10h0m-6-7h0m-43-23h0m-30 42h0m-68-15h0m-69-20h0m-51-12h0m-42 28h0m-228-3h0m-57 61h0m38-20h0m30-2h0m96 32h0m102-42h0m70 25h0m116 23h0m75-50h0m12 45h0m94 8h0m31-25h0m12 19h0m22-1h0m35 5h0m14-32h0m2 35h0m82-5h0m87-16h0m35 19h0m8-54h0m15 45h0m28-3h0m119-14h0m-133 66h0m-40 8h0m-44-13h0m-157-23h0m-85 36h0m-102-18h0m-2 11h0m-55-30h0m-59 11h0m-2 5h0m-91 7h0m-24-5h0m-10-24h0m-98 57h0m-17-30h0m-49-17h0m-24 33h0m-59-1h0m-38 1h0m-6 5h0m-141 29h0m91 16h0m128 16h0m27 8h0m72-56h0m28 39h0m2-1h0m45 2h0m35 13h0m83-44h0m27 46h0m56-48h0m84 37h0m6 5h0m41 1h0m67 0h0m58-13h0m22 11h0m4 10h0m34-17h0m132-20h0m35 23h0m131 2h0m224 8h0m103 15h0m-62 49h0m-49-40h0m-119-5h0m-4-14h0m-83 15h0m-24 10h0m-77 9h0m-240 10h0m-54-41h0m-29 0h0m-46 50h0m-5-11h0m-4-5h0m-6-4h0m-34-8h0m-2-9h0m-30-10h0m-73 0h0m-38 33h0m-21-27h0m-9 35h0m-7-40h0m-18 45h0m-79-41h0m-75 40h0m0-4h0m-17-34h0m-82 42h0m-73-53h0m-11 6h0m-33 45h0m-2-39h0m-20 29h0m-43-31h0m-282 16h0m-54 38h0m82 1h0m454-2h0m112-1h0m71 1h0m215 6h0m158-2h0m20-7h0m613 2h0" stroke="#0e7c7b" stroke-width="16" stroke-linecap="round" fill="none"/>
<path transform="scale(.1)" d="M1016 9412h0m8-2h0m55 37h0m-57 24h0m0-34h0m-52 19h0m-25-1h0m-104 71h0m232 7h0m118 3h0m4-27h0m37-5h0m148 71h0m-236 0h0m-24 15h0m-17 4h0m-14-10h0m-56 2h0m-207-8h0m-66-9h0m-83 54h0m69 1h0m252-12h0m134 32h0m7 5h0m4-9h0m130 11h0m54-17h0m48-1h0m103 16h0m76 44h0m-68 3h0m-28-24h0m-23-4h0m-90-6h0m-11-2h0m-5 41h0m-26-23h0m-4 2h0m-13 3h0m-84-3h0m-106 9h0m-9 22h0m0-41h0m-8 22h0m-10 17h0m-5-33h0m-133-2h0m-3 40h0m-235-37h0m-5 35h0m-232 44h0m45 1h0m25-30h0m145 38h0m55 1h0m126-4h0m15-19h0m55 5h0m66-13h0m18-2h0m14 7h0m21 32h0m49-24h0m92-25h0m44 16h0m11 25h0m91-8h0m21 6h0m1 17h0m4-8h0m24-40h0m11 7h0m38 32h0m2 4h0m7-39h0m43 28h0m75-22h0m74-16h0m53 90h0m-25 12h0m-87-24h0m-58 7h0m-1 15h0m-42-20h0m-69-13h0m-63 14h0m-85-5h0m-166-9h0m-40-1h0m-63 25h0m-17-29h0m-26-5h0m-85 1h0m-97 52h0m-85-43h0m-103 44h0m-112-6h0m-32-37h0m-130 104h0m203-26h0m10-29h0m50 39h0m302 17h0m227-57h0m11 57h0m12-27h0m119-13h0m54 2h0m30 7h0m23 1h0m2-17h0m51 38h0m5-44h0m10 16h0m32 35h0m50-19h0m19 16h0m23 1h0m37-14h0m62-31h0m6-9h0m26 29h0m1-16h0m314 93h0m-71-4h0m-48-10h0m-66-30h0m-3 43h0m-28-41h0m-110 51h0m-23-17h0m-82-32h0m-29-6h0m-45 53h0m-39-4h0m-9-28h0m-18-3h0m-14 21h0m-17-33h0m-31 5h0m-92 28h0m-117-35h0m-109 10h0m0-8h0m-77-4h0m-67 55h0m-1-34h0m-55-23h0m-286 45h0m-204-22h0m-108 31h0m88 19h0m514-7h0m202 1h0m32-7h0m98 5h0m249-3h0m202-2h0m200 8h0" stroke="#22b5a2" stroke-width="16" stroke-linecap="round" fill="none"/>
<path transform="scale(.1)" d="M971 9414h0m1-37h0m35 57h0m-12-8h0m-7 50h0m-56-43h0m-8-9h0m-20 33h0m-4 17h0m-12-20h0m-17-7h0m-82 53h0m14 28h0m23-26h0m12 5h0m2 9h0m3 3h0m11-16h0m4-6h0m5-3h0m7 35h0m46-45h0m7 7h0m6-3h0m70-1h0m-125 58h0m-27 3h0m-14 12h0m-25-15h0m-27-1h0m-27 44h0m-13-39h0m-4 1h0m-6 19h0m-5 7h0m-14 6h0m-3-25h0m-15 13h0m-4-26h0m-18 39h0m-2-22h0m-10 38h0m-73-10h0m-47 46h0m82 21h0m9-14h0m3-7h0m25 21h0m6-17h0m1-26h0m32 12h0m2-5h0m23-11h0m9 24h0m-82 27h0m-20 2h0m-24 24h0m-11 18h0m-10-24h0m-13 7h0m-16-3h0m-5 35h0m-43-24h0m-8 15h0m-3-15h0m-5 11h0m-4 1h0m-18 10h0m-93 50h0m1-9h0m7-2h0m5 18h0m8-3h0m23 0h0m3-41h0m2 29h0m5-28h0m8 48h0m23-40h0m8 10h0m12 5h0m15-28h0m8 12h0m20 8h0m1-26h0m-187 116h0m-28-41h0m-2 15h0m-14 15h0m-6 8h0m-3-28h0m-66 50h0m14 37h0m4-25h0m23 1h0m3-10h0m3-13h0m7 5h0m32-7h0m2 15h0m22-15h0m50 6h0m-144 65h0m-28 11h0m-48 19h0m-9-12h0m-40 13h0m-5 6h0m-8 3h0m35 17h0" stroke="#0e7c7b" stroke-width="16" stroke-linecap="round" fill="none"/>
<path transform="scale(.1)" d="M360 9824h0m-3 0h0m-8-17h0m-2 18h0m-11 0h0m-5-9h0m0-16h0m-5 32h0m-2-22h0m-1-14h0m-6 14h0m-4-1h0m-9 3h0m-20 25h0m-11-7h0m-26 5h0m-95 57h0m34-19h0m2 10h0m2 16h0m11-9h0m9-20h0m4 23h0m3 5h0m0-41h0m8 0h0m19-7h0m11 33h0m6 2h0m1-29h0m2-7h0m9 5h0m1-6h0m1 1h0m6 17h0m5-22h0m1 14h0m3 34h0m5-32h0m4-11h0m2-6h0m4 3h0m2 13h0m7-18h0m6 15h0m1-7h0m6 2h0m6 8h0m4 0h0m0 2h0m31 0h0m0-1h0m3 18h0m11-16h0m8 17h0m-83 29h0m-5 9h0m-61 7h0m-10-18h0m-10 13h0m-1-2h0m-3-6h0m-3 5h0m-10-11h0m-1 31h0m-18-28h0m-5 34h0m0-1h0m-7-13h0m-8-11h0m-2-3h0m-1-5h0m0 13h0m-8 9h0m-3 5h0m-2-9h0m-2 16h0m-2-24h0m-3 22h0m-6 4h0m-2-12h0m-2 6h0m-1 0h0m-2 16h0m0-1h0m-9-8h0m-13 9h0m-14-1h0m21 7h0m5 7h0" stroke="#0e7c7b" stroke-width="16" stroke-linecap="round" fill="none"/>
<path transform="scale(.1)" d="M1081 9373h0m79 42h0m11-14h0m48 5h0m76-5h0m-13 40h0m-1 18h0m-2 17h0m-48-28h0m-5 22h0m-3-15h0m-62-29h0m-56 6h0m-4-4h0m107 99h0m22-42h0m19 11h0m93 35h0m71 5h0m70 46h0m-5-31h0m-31 32h0m-30 10h0m-66-19h0m-8-32h0m137 105h0m4-14h0m32-3h0m6 6h0m146 65h0m-1 3h0m-5 2h0m-21-28h0m-16 12h0m-34 4h0m-31-7h0m-22 3h0m-45 13h0m91 23h0m36 2h0m5 5h0m43-1h0m9 47h0m6-42h0m184 89h0m-50-22h0m-24-14h0m-6 26h0m-28-16h0m-5-7h0m-26-13h0m-4 31h0m-11-23h0m109 63h0m2-8h0m5 15h0m39 38h0m1-30h0m15 16h0m14-19h0m5 24h0m2-13h0m112 75h0m-22-42h0m-6 25h0m-48-13h0m-16 11h0m-8-9h0m-34 1h0m-5-8h0" stroke="#22b5a2" stroke-width="16" stroke-linecap="round" fill="none"/>
<path transform="scale(.1)" d="M1203 9350h0m-143 9h0m-11 32h0m40 20h0m8 8h0m24-42h0m10 13h0m16 23h0m10 0h0m0-35h0m27 29h0m5-40h0m30 7h0m4 10h0m31-20h0m4 43h0m137 55h0m-74-35h0m-7 7h0m-33-14h0m-1 0h0m-3 19h0m-2-1h0m-4 14h0m-15-9h0m-6 7h0m-14 14h0m-11-36h0m-7 28h0m-9-15h0m-17-8h0m-3-1h0m-1 16h0m-3 12h0m-1-38h0m-21 15h0m-7 24h0m-6 17h0m-10-43h0m-12 13h0m-10 18h0m-27 5h0m-84 58h0m58-31h0m40 35h0m9-52h0m13 49h0m4 8h0m10-29h0m19 29h0m22-8h0m1-15h0m10-1h0m3-9h0m3 24h0m19-6h0m25-27h0m4 3h0m21-3h0m5 38h0m50-17h0m-13 33h0m-2 14h0m-3-9h0m-37-14h0m-29 49h0m-125-39h0m5 52h0m63-1h0m16 29h0" stroke="#22b5a2" stroke-width="16" stroke-linecap="round" fill="none"/>
<path transform="scale(.1)" d="M1123 9358h0m-37 26h0m1 29h0m19 4h0m25-55h0m67 22h0m29 38h0m-26 11h0m-9 5h0m-9-10h0m-9 39h0m-1-28h0m-14-19h0m-3 29h0m0 11h0m-4 15h0m-2-19h0m-1-6h0m-17-24h0m-7 5h0m-20 29h0m0-38h0m-1 2h0m-24 0h0m-10 35h0m-3-25h0m36 51h0m11 10h0m26-11h0m26 20h0" stroke="#0e7c7b" stroke-width="16" stroke-linecap="round" fill="none"/>
<path transform="scale(.1)" d="M1553 9652h0m127 67h0m-99-8h0m-15-33h0m-68 61h0m3 25h0m3-30h0m2 12h0m63 13h0m82-23h0m179 21h0m49 57h0m-221 2h0m-59-25h0m-17 24h0m-11-9h0m-39-8h0m16 62h0m147-5h0m8 7h0m35-22h0m45 16h0m0 31h0m7-15h0m11-13h0m22 35h0m20-42h0m19-10h0m36 4h0m26 38h0m1 4h0m18 1h0m5-3h0m38 13h0m32 58h0m-42-23h0m-16 0h0m-16 2h0m-8-2h0m-13-24h0m-9 9h0m-3 36h0m0-40h0m-23-14h0m-33 6h0m-54-7h0m-20 47h0m106 16h0m112 5h0m34 6h0" stroke="#22b5a2" stroke-width="16" stroke-linecap="round" fill="none"/>
<path transform="scale(.1)" d="M1830 9957h0m-75-2h0m-408 0h0m-85 3h0m-16-4h0m-47 5h0m-48-1h0m-21-3h0m-12-6h0m-61 10h0m-24-2h0m-202 2h0m-168 4h0m26 6h0m26-4h0m19 2h0m21-1h0m7 3h0m13-1h0m29-7h0m17 7h0m10-3h0m8 2h0m36-5h0m70-1h0m4 4h0m39-3h0m58 8h0m8-1h0m35 1h0m28-8h0m53 7h0m2-6h0m1 6h0m37 0h0m32-2h0m47-3h0m68 1h0m38 0h0m18 3h0m15 0h0m50-3h0m62 0h0m47 1h0m1-1h0m52 1h0m23-4h0m41 2h0m26 3h0m21 2h0m8-3h0m29 4h0m81-5h0m18 2h0m0-1h0m48-2h0m28 5h0m26-8h0m3 7h0m37-3h0" stroke="#22b5a2" stroke-width="16" stroke-linecap="round" fill="none"/>
<path transform="scale(.1)" d="M1060 9953h0m-282 1h0m-37 3h0m-40-8h0m-155 8h0m-10-3h0m-274-1h0m-94 0h0m-87 7h0m53 6h0m1 3h0m60-4h0m19 5h0m52-2h0m23 1h0m4-4h0m36 0h0m23 2h0m43 2h0m16 0h0m44-1h0m7 1h0m33-8h0m35 2h0m5 1h0m23 4h0m32-4h0m3-2h0m5 7h0m15-5h0m57 6h0m27-2h0m53-6h0m19-1h0m40 4h0m0 2h0m16-4h0m18-1h0m3 7h0m19 0h0m20-3h0m38 1h0m38-3h0m42 0h0m19 4h0m38-4h0m57 0h0m5 5h0m36-4h0m32-4h0" stroke="#0e7c7b" stroke-width="16" stroke-linecap="round" fill="none"/>
<path transform="scale(.1)" d="M1884 9957h0m-54 1h0m-66 1h0m-20-8h0m-16 8h0m-26-10h0m20 21h0m2 2h0m3 0h0m3-8h0m3 6h0m3-6h0m2 6h0m1-2h0m3-3h0m12 3h0m6 2h0m1 5h0m7-7h0m8 0h0m10 2h0m13-7h0m7 1h0m3 2h0m3 1h0m12 1h0m3 0h0m6-4h0m6 0h0m5 4h0m11 2h0m4-4h0m14 4h0m0-3h0m2 3h0m2 0h0m21 1h0m4-5h0m1 8h0m0-12h0m2 13h0m6-12h0m2 7h0m11 3h0m4-1h0m11-4h0m9 0h0m1 0h0m1 2h0m8 1h0m0 1h0m15-8h0m0 9h0m7-4h0m3 1h0m15 1h0m12 4h0m1 0h0m12-3h0m16-3h0" stroke="#22b5a2" stroke-width="16" stroke-linecap="round" fill="none"/>
<path transform="scale(.1)" d="M499 9942h0m-10 17h0m-22-29h0m-24 24h0m-4 1h0m-2-8h0m-9-12h0m-1 23h0m-40-14h0m-13 10h0m-4-15h0m-19 19h0m-15-16h0m-2 15h0m-13-7h0m-42 9h0m-3-5h0m-15 3h0m-5-4h0m-115 4h0m-43 13h0m29 0h0m10 4h0m7 0h0m8-3h0m1 1h0m1 3h0m30-3h0m12-5h0m36-2h0m8-1h0m8-3h0m9 5h0m1 2h0m2-6h0m1 11h0m5-8h0m8-3h0m1 2h0m17 4h0m15-4h0m1 5h0m16-4h0m7-2h0m35 7h0m1-10h0m15 3h0m1-3h0m4 9h0m1-7h0m1 12h0m6-6h0m8 7h0m4-6h0m16 1h0m43-9h0m8 12h0m4-8h0m18-4h0m2 4h0" stroke="#0e7c7b" stroke-width="16" stroke-linecap="round" fill="none"/>
<path transform="scale(.1)" d="M976 9414h0m1 0h0m2 3h0m4-7h0m1 8h0m17-6h0m2 0h0m0-4h0m3 0h0m1-5h0m2 9h0m0 4h0m3-10h0m2-6h0m10 19h0m15-3h0m2-8h0m1-9h0m0 7h0m3 26h0m-3-10h0m-1-1h0m-2 25h0m-1-20h0m-1 6h0m-1 16h0m-1-5h0m-1-21h0m-1 20h0m0-6h0m-2 8h0m-1-7h0m-5-8h0m-1-2h0m-2-5h0m-3 14h0m-1-9h0m-2 23h0m-5-19h0m-2 16h0m0-22h0m-3 29h0m0 17h0m-1-33h0m-6 20h0m-1-36h0m-2 52h0m-1-6h0m0-31h0m-2 30h0m-3-42h0m-1 45h0m-4-41h0m0 40h0m-1-42h0m-3 23h0m-1 10h0m-1 3h0m0-8h0m-1 9h0m-1-37h0m0 21h0m0 18h0m-3-14h0m-1 9h0m-1-30h0m-3 36h0m0 10h0m-1-13h0m0-20h0m-3-7h0m0 13h0m-1-26h0m-1 38h0m0-39h0m-1 42h0m0-21h0m-1-10h0m-4 34h0m0-37h0m-1 32h0m-3-7h0m-1-20h0m-1 2h0m-1-8h0m-4 34h0m-5-20h0m0 12h0m0 22h0m0-3h0m-3-21h0m-1 5h0m-1 6h0m-3-20h0m-4 0h0m-1 13h0m-1 2h0m0 9h0m-1-15h0m0 10h0m-1-5h0m-4-15h0m-4 2h0m-1 20h0m-3 8h0m-1-22h0m-2 3h0m-1 18h0m0-13h0m0 19h0m-2-11h0m-2-1h0m0 5h0m-3-1h0m0-15h0m-1 9h0m0 8h0m-16 3h0m-11 0h0m-1 0h0m-5 3h0m-1-2h0m-10-2h0m-33 21h0m11-5h0m10 6h0m4-16h0m2 24h0m1-18h0m4 7h0m4-12h0m2 4h0m4 23h0m1-10h0m0 2h0m2-10h0m1 18h0m6-15h0m3-8h0m8-5h0m9 10h0m1 9h0m0-6h0m0-3h0m3 9h0m2-17h0m1-1h0m3 1h0m2 9h0m5 9h0m1-9h0m4 8h0m3-7h0m0 5h0m2-9h0m0 2h0m3-5h0m1 10h0m3 0h0m8-11h0m1 8h0m0-10h0m3 13h0m6-11h0m1 2h0m5-7h0m2 11h0m17-7h0m2-3h0m18-1h0" stroke="#8fb3ea" stroke-width="16" stroke-linecap="round" fill="none"/>
<path transform="scale(.1)" d="M760 9514h0m2 19h0m10-9h0m10 12h0m0-1h0m2-18h0m18-10h0m9-16h0m5 32h0m1-13h0m-25 34h0m-43 30h0m-10-16h0m-7-11h0m-363 372h0m-29 10h0m-10-7h0m-32 20h0m-5 6h0m-7-13h0m-2 3h0m-2 7h0m-8 7h0m-3-16h0m-6 15h0m-14-2h0" stroke="#8fb3ea" stroke-width="16" stroke-linecap="round" fill="none"/>
<path transform="scale(.1)" d="M1056 8215h0m2-5h0m2-2h0m1 11h0m2 14h0m-1 18h0m-1-14h0m-1 36h0m0 2h0m0-32h0m-1 13h0m0-21h0m-4 15h0m-1-20h0m-4 77h0m0 8h0m4 10h0m3-6h0m0 19h0m0-39h0m1 21h0m1-23h0m1 37h0m0-17h0m3-26h0m5 28h0m-5 49h0m0-12h0m0 31h0m-2-26h0m-1 14h0m0-22h0m0 4h0m-2-7h0m-3 29h0m-1-31h0m-1 31h0m-1 1h0m0 5h0m-1-17h0m-2 22h0m-5 66h0m1-8h0m1-30h0m2-18h0m6 55h0m1-22h0m1-28h0m5 19h0m1-16h0m1 50h0m3-31h0m1 37h0m-6 38h0m-3-21h0m-1 37h0m-2-16h0m-3-33h0m-1 50h0m-1-48h0m-2 43h0m-1-36h0m-3 72h0m3-4h0m2 27h0m1 6h0m9-52h0m1 0h0m2 47h0m0-24h0m1 15h0m1-42h0m1 41h0m0-22h0m0-14h0m5 30h0m1-24h0m-5 76h0m-5 17h0m0-28h0m-1 36h0m-1-21h0m-1-12h0m0 29h0m0-49h0m0 10h0m-4 2h0m0-2h0m-3-6h0m0 40h0m0-40h0m-4 35h0m-2-2h0m-2 16h0m0-18h0m-7-30h0m-5 79h0m0 11h0m5-17h0m5 0h0m1 17h0m2-2h0m2-22h0m1 43h0m5-18h0m5-9h0m1-16h0m1 25h0m1 19h0m1-9h0m0-17h0m1-26h0m1 45h0m4-18h0m1-24h0m0 9h0m0-10h0m1 15h0m8 9h0m-6 38h0m-12 23h0m-1 13h0m0-10h0m-1 22h0m-1-26h0m-3-30h0m-1-1h0m-1 55h0m-1-14h0m0-24h0m-3 26h0m0-10h0m-1 23h0m0-48h0m0 37h0m-4-32h0m-2 28h0m-1-1h0m0-30h0m-6 34h0m-9-40h0m5 91h0m0-28h0m3 36h0m0-37h0m1 3h0m1-4h0m0 3h0m1 9h0m1-6h0m3 1h0m2 15h0m2 10h0m3-32h0m0 52h0m1-19h0m1 21h0m1-16h0m6 3h0m3-20h0m2-12h0m0 4h0m7 13h0m1-15h0m1-14h0m-1 88h0m-2-13h0m-4 28h0m-1-15h0m-1-13h0m-2-14h0m-1 46h0m0-10h0m-1-34h0m-1-5h0m0 41h0m-2-19h0m-2 25h0m-1-15h0m-1-6h0m-1 10h0m-1 18h0m-2-38h0m-3-4h0m-5 37h0m-9 14h0m7 15h0m2 8h0m0 3h0m5 18h0m1 8h0m1-12h0m0-35h0m0 6h0m2 3h0m5 30h0m0-47h0m0 7h0m2 35h0m3-32h0m2 36h0m0 11h0m16-56h0m1 50h0m-8 66h0m-3 1h0m-2-32h0m-1 2h0m-3 9h0m-1 7h0m-1-39h0m-2 48h0m0-2h0m-2-8h0m-1-15h0m-6 0h0m0 26h0m-4-7h0m-2-42h0m0 53h0m-7-14h0m-1-42h0m0 23h0m0 16h0m-2-15h0m-16 33h0m11 28h0m3-26h0m1 7h0m1-5h0m9 2h0m3 18h0m0 4h0m1-13h0m1-3h0m2 3h0m0-4h0m2 15h0m3-15h0m1 48h0m2-51h0m0 24h0m0 22h0m1-18h0m0 9h0m4 10h0m2-46h0m3 6h0m19 22h0m-3 79h0m-3-40h0m-5 32h0m-5-38h0m-1 13h0m-1 36h0m-4-39h0m0 6h0m-9 13h0m-5 11h0m-3-43h0m-1 45h0m-1-35h0m-7 3h0m-8 9h0m-8 17h0m-4 66h0m0-11h0m5-3h0m3-18h0m9 11h0m6 27h0m0-55h0m11 57h0m2-15h0m3-8h0m0-4h0m3-8h0m2-12h0m4 15h0m1-3h0m2-5h0m1 16h0m1-2h0m16-6h0m1 30h0m4-57h0m13 29h0m7 19h0m-21 36h0m-2-18h0m-12 51h0m-3-23h0m-5-3h0m-10 6h0m-4-16h0m-1 25h0m-4 10h0m0-53h0m-3 5h0m-3-7h0m-2 32h0m-4 12h0m-5-33h0m0 4h0m-7 35h0m-2-50h0m-7 3h0m-2 54h0m-3-13h0m-17 40h0m14-22h0m4 50h0m3 0h0m0 4h0m12-6h0m0-27h0m8 13h0m4 12h0m6 1h0m3-8h0m2-12h0m5-28h0m5 16h0m3-5h0m1 26h0m0-18h0m11 3h0m3 7h0m10-25h0m11 2h0" stroke="#b5dc2e" stroke-width="16" stroke-linecap="round" fill="none"/>
<path transform="scale(.1)" d="M1048 8537h0m1 0h0m1 4h0m3 60h0m-2 11h0m-8 61h0m1 11h0m8-25h0m5 17h0m9-24h0m5 35h0m5 11h0m-3 56h0m-2-21h0m-3 14h0m-7-40h0m0 44h0m-6-51h0m-1 27h0m-3 30h0m-1-6h0m-16-2h0m-9 2h0m0 68h0m12-4h0m2-46h0m3-6h0m1 32h0m15-18h0m1-13h0m7 3h0m16 104h0m-9-36h0m-2-4h0m-6-1h0m-7 34h0m-4-36h0m-3-8h0m-1 53h0m-4-47h0m-3 14h0m-1 27h0m-11 11h0m-12-42h0m-3 96h0m7-19h0m1 8h0m11-26h0m7 8h0m3 30h0m1 2h0m9-47h0m30 91h0m-15 9h0m-1-46h0m-2 13h0m-5 7h0m-1-20h0m-7 38h0m-1-4h0m-5 18h0m-3-25h0m-3 21h0m-2-11h0m-2-22h0m-1-8h0m-1 18h0m-46 84h0m30-36h0m9 27h0m0-36h0m5-3h0m11 44h0m1-47h0m7 14h0m0-6h0m3 29h0m3-18h0m2-10h0m7 9h0m1 72h0m-8-29h0m-19 53h0m-1 1h0m-4-9h0m-15-15h0m-13-10h0m-1 32h0m-8-2h0m-1 41h0m18 16h0m0 0h0m3-2h0m2-29h0m3 9h0m12-2h0m2 29h0m8 3h0m7-8h0m2-20h0m4-14h0m3 18h0m6 36h0m-17 50h0m-8-38h0m-3-6h0m-3-11h0m-1 55h0m-8-14h0m-3-7h0m0-17h0m-3-6h0m-11 30h0m-12-11h0m23 74h0m1-34h0m5 16h0m7-13h0m4-4h0m25 15h0m10-5h0m2-3h0m9 54h0m-12 1h0m-9 2h0m-3 0h0m-17-1h0m-8 1h0m-2-13h0m-23 11h0" stroke="#9ccf3a" stroke-width="16" stroke-linecap="round" fill="none"/>
<path transform="scale(.1)" d="M1035 8809h0m12 6h0m1-5h0m18 23h0m-14 13h0m0-6h0m0 13h0m-3-26h0m-2 52h0m-1-17h0m-6-24h0m-5-4h0m-10 22h0m-2-30h0m6 54h0m12 57h0m0-55h0m1 27h0m1 9h0m1 13h0m5-34h0m4 17h0m3-2h0m1 4h0m1-19h0m3-10h0m4 88h0m-8-35h0m-20 53h0m-19-50h0m-12 77h0m10 3h0m7 25h0m1 8h0m1-37h0m3 37h0m3-12h0m0-17h0m4-26h0m2 33h0m3 24h0m6-23h0m0 21h0m5-22h0m12-23h0m11 12h0m-24 47h0m-16 40h0m-6-25h0m-2 3h0m-7 7h0m-7 21h0m-7-20h0m-4 15h0m-6 6h0m-18 43h0m19-16h0m4-10h0m6 1h0m6 9h0m9-4h0m9 15h0m7 8h0m7-38h0m1 35h0m2 16h0m4 3h0m1 40h0m-9 19h0m-8-52h0m-3 48h0m-16-6h0m-21 2h0m-2-1h0m-5-20h0m-5 45h0m18 21h0m1-20h0m13-2h0m4 34h0m10-42h0m0 1h0m2 7h0m5-11h0m0 36h0m36 56h0m-29-19h0m-35 10h0m-5 7h0m-16-17h0" stroke="#63bb4a" stroke-width="16" stroke-linecap="round" fill="none"/>
<path transform="scale(.1)" d="M1072 8915h0m-33 61h0m-48-22h0m-6-5h0m-3 17h0m-110 66h0m58-21h0m84 87h0m-4-21h0m-3-6h0m-33 40h0m-21-14h0m-77 42h0m88 0h0m15 25h0m21 12h0m57-10h0m47 31h0m-55-14h0m-116 46h0m-36 12h0m223 18h0m-154 70h0m-39 16h0m-17 10h0m30 51h0m25 5h0m25-25h0m41-19h0m4 91h0m-42-30h0m-15 43h0m-106-9h0m-60-5h0m-110 82h0m127-33h0" stroke="#63bb4a" stroke-width="16" stroke-linecap="round" fill="none"/>
<path transform="scale(.1)" d="M1052 9294h0m29 48h0m-12 16h0m-2-3h0m-14-19h0m-1 16h0m-13 5h0m-9-18h0m-4 18h0m-1 0h0m-10-43h0m-24 13h0m-1 51h0m6-10h0m2-2h0m17-5h0m2 33h0m11-23h0m1 1h0m6 4h0m12-8h0m5 1h0m1 0h0m11-4h0m6 38h0m8-36h0" stroke="#22b5a2" stroke-width="16" stroke-linecap="round" fill="none"/>
<path transform="scale(.1)" d="M1037 9347h0m-4-2h0m-20-8h0m-5 26h0m9 7h0m11-4h0m13 2h0m22-7h0" stroke="#e0174a" stroke-width="16" stroke-linecap="round" fill="none"/>
<path transform="scale(.1)" d="M1076 9353h0m-33 1h0m-3 0h0m-8-26h0m-1 22h0m-9-9h0m-10-5h0m-15 20h0m-3 2h0m30 18h0m11 1h0m10-6h0" stroke="#ff951f" stroke-width="16" stroke-linecap="round" fill="none"/>
<path transform="scale(.1)" d="M1048 9355h0m0-25h0m-61 52h0m12 17h0m66 1h0m1-8h0m4 2h0m4-8h0m-61 43h0" stroke="#3b4cc0" stroke-width="16" stroke-linecap="round" fill="none"/>
<path transform="scale(.1)" d="M1365 9535h0m-745 95h0m1015 135h0m335 155h0" stroke="#e0174a" stroke-width="16" stroke-linecap="round" fill="none"/>
<path transform="scale(.1)" d="M1340 9565h0m-690 165h0m570 50h0" stroke="#f0d040" stroke-width="16" stroke-linecap="round" fill="none"/>
<path d="M211.2 813.6L413.9 813.6L313.1 997.5Z" fill="#e7e7e7" stroke="#8a8a8a" stroke-width="0.7"/>
<path d="M313 878.5L211.2 813.6" stroke="#8a8a8a" stroke-width="0.6"/>
<path d="M313 878.5L413.9 813.6" stroke="#8a8a8a" stroke-width="0.6"/>
<path d="M313 878.5L313.1 997.5" stroke="#8a8a8a" stroke-width="0.6"/>
<path transform="scale(.1)" d="M3142 8157h0m-50 0h0m-63-1h0m-21 0h0m-143-6h0m-396 8h0m-6 39h0m31-19h0m32-14h0m19 50h0m7-1h0m46-14h0m5 3h0m2 11h0m80-12h0m1-15h0m17 0h0m4-15h0m13 39h0m105 9h0m99-42h0m72 42h0m10-57h0m8 19h0m13 16h0m36-5h0m53-15h0m11 40h0m29-28h0m3 24h0m13-50h0m3 6h0m49 30h0m9-23h0m7-12h0m3 27h0m14 7h0m-6 80h0m0-31h0m-15 9h0m-19-25h0m-4 13h0m-28-3h0m-9-17h0m-50 18h0m-11 27h0m-16 10h0m-44-42h0m-3 15h0m-15-6h0m-36 2h0m-77 25h0m-5 2h0m-2-25h0m-69-17h0m-26 42h0m-24 1h0m-79-50h0m-3 44h0m-28-40h0m-56-1h0m-51 21h0m-12-20h0m45 52h0m6 10h0m68-4h0m21 19h0m66-2h0m61 23h0m15-39h0m47 27h0m7-4h0m6-18h0m3 17h0m4 22h0m75-35h0m7 22h0m26 18h0m26-8h0m2 2h0m7 2h0m1-24h0m67 9h0m9 11h0m21-28h0m10 17h0m38-3h0m33 70h0m-5 4h0m-10-32h0m-20-13h0m-47 2h0m-9 46h0m-22-8h0m-64-19h0m-24 12h0m-52-26h0m-30 40h0m-19-33h0m-5-9h0m-31-10h0m-90 2h0m-26 15h0m-96-14h0m138 57h0m20 50h0m0 0h0m43-17h0m28 9h0m18-27h0m17 38h0m22-27h0m31 27h0m23-9h0m21-30h0m42 14h0m61 24h0m67-23h0m-3 41h0m-3-1h0m-7 49h0m-31-8h0m-27-17h0m-24-17h0m-12-6h0m-21-1h0m-11 22h0m-71-18h0m-18 44h0m-9-31h0m-60 2h0m-40-23h0m95 69h0m11-14h0m4 5h0m20 32h0m5-30h0m1-5h0m12 8h0m31 27h0m23-19h0m27 15h0m14 1h0m8 22h0m29-19h0m-31 30h0m-14 16h0m-6-8h0m0 97h0m52-25h0" stroke="#5fba4a" stroke-width="16" stroke-linecap="round" fill="none"/>
<path transform="scale(.1)" d="M3626 8151h0m-19 2h0m-8-2h0m-11-4h0m-11-1h0m-3 3h0m-43-3h0m-14-4h0m-6 17h0m-3-5h0m-6-2h0m-1-8h0m-31 0h0m-12-1h0m-1 9h0m-1-1h0m-8-1h0m-15 3h0m-5-3h0m-1 5h0m-33 3h0m-6-2h0m-8-13h0m-5 12h0m-1 4h0m-13-2h0m-19-15h0m-16 9h0m-25-5h0m-3 8h0m-6-9h0m-7 7h0m-5-8h0m-5 12h0m-9-2h0m-7-2h0m-1-1h0m-9 7h0m-27-11h0m-1-3h0m-11 14h0m-7-13h0m-12 7h0m-9-3h0m0-2h0m-26 0h0m-3 3h0m-10 4h0m-12-5h0m0-1h0m-1 7h0m-4-12h0m-2 8h0m-1-3h0m-9 5h0m-25-3h0m-9 1h0m-8 5h0m-13-10h0m-3 0h0m-3-2h0m-15 14h0m-9-9h0m-4 9h0m-11-15h0m-23 9h0m-8 3h0m-24-9h0m-11-4h0m-1 15h0m-6-5h0m-8-4h0m-9-5h0m-18-1h0m-2 1h0m-3 5h0m-16-1h0m-13 2h0m-13-4h0m-4 11h0m-2-4h0m-22-2h0m-2 4h0m-6-1h0m-8 2h0m-7-1h0m-2-10h0m-7 0h0m-23 10h0m-12-8h0m-4-3h0m-2 0h0m-3 1h0m-2 9h0m-5-11h0m0 17h0m-6 0h0m-11-12h0m-4 7h0m-4-7h0m-7 7h0m-15-5h0m-8 5h0m-4 3h0m-13-7h0m-12 9h0m-2-14h0m-3 10h0m-2 2h0m-1-4h0m-1-9h0m-5 0h0m-5 6h0m-11-1h0m-4 2h0m-15-7h0m-28 3h0m-9-2h0m-9 0h0m-2 14h0m-2-16h0m0 9h0m-10-7h0m2 23h0m87-6h0m16 6h0m5-1h0m38-1h0m52-6h0m21 16h0m6 3h0m33-7h0m27 22h0m3-30h0m16-4h0m5 12h0m11-2h0m25-8h0m4 1h0m7 2h0m0 3h0m35 21h0m4-28h0m6 4h0m7-5h0m70 2h0m4-2h0m31 3h0m46 0h0m16 2h0m19 12h0m37-9h0m11-4h0m7 15h0m25-3h0m69-14h0m22 0h0m2 1h0m10 17h0m7-14h0m40-3h0m10 2h0m9 8h0m61-4h0m50-7h0m19 0h0m9 3h0m46-4h0m9 4h0m14 1h0" stroke="#5fba4a" stroke-width="16" stroke-linecap="round" fill="none"/>
<path transform="scale(.1)" d="M3361 8156h0m-25 0h0m-77-10h0m-28-4h0m-115 9h0m-87-3h0m-20 8h0m-53 26h0m46 1h0m0 12h0m10-21h0m24 10h0m11-14h0m17 0h0m9 27h0m14-32h0m18 33h0m25-36h0m16 56h0m14-13h0m1 2h0m6-4h0m1 8h0m9-10h0m3-28h0m1 38h0m6 1h0m11-36h0m3 2h0m2 34h0m4-8h0m2-22h0m1 28h0m2 0h0m20-40h0m1 9h0m6 9h0m9 18h0m5-29h0m4 39h0m5-38h0m8 8h0m2-18h0m5 13h0m0 23h0m19 14h0m2-13h0m0 13h0m11-23h0m13 4h0m3 7h0m0-8h0m1 15h0m3-16h0m8 21h0m2 1h0m23-46h0m12-4h0m6 18h0m10 1h0m2-15h0m5-9h0m30 9h0m6 41h0m31-19h0m22 20h0m66-16h0m-142 54h0m-9-13h0m-23-7h0m-22-9h0m-13 48h0m-19-45h0m-5 17h0m-5-5h0m-9-11h0m-9 33h0m-7-31h0m-2-5h0m-2-5h0m-7 5h0m-6-2h0m-16 34h0m-10 2h0m0 5h0m-5-40h0m-1 8h0m-21-12h0m-7 59h0m-5-25h0m-13-34h0m-7 44h0m-5-6h0m-2 17h0m-4-45h0m-1 20h0m-7-4h0m0 28h0m-2-54h0m-11 16h0m-3-16h0m-1 59h0m0-2h0m-5-18h0m-9-39h0m-7 36h0m-3 2h0m-4 18h0m-4-32h0m-7-15h0m-4 21h0m-27-14h0m-33 22h0m-49-6h0m-13-8h0m-8 13h0m-5-37h0m-17 0h0m186 104h0m246-34h0" stroke="#5fba4a" stroke-width="16" stroke-linecap="round" fill="none"/>
<path transform="scale(.1)" d="M3353 8278h0m-20-18h0m-144 3h0m-19 4h0m-25-28h0m-47 8h0m-34 31h0m-10-2h0m-9-49h0m-6 5h0m-97-11h0m101 105h0m29-8h0m6-12h0m9 30h0m27-5h0m13-47h0m1 25h0m2-21h0m45 6h0m5 30h0m6-10h0m3-29h0m8 25h0m8 9h0m9-25h0m23 28h0m9-34h0m38 14h0m39 15h0m8 1h0m-59 53h0m-3 20h0m-26-45h0m-8 26h0m-3 0h0m-31-19h0m-8 39h0m-14-40h0m-7 16h0m-14 9h0m-4 18h0m-10 3h0m-11-9h0m-17-8h0m-6-30h0m-22 23h0m-25-15h0m-5-8h0m29 85h0m0 1h0m1-21h0m52 40h0m7-45h0m15-10h0m2 18h0m5 23h0m2-41h0m2 26h0m0-9h0m3 23h0m4-28h0m13-8h0m9 46h0m1-39h0m33 4h0m4 14h0m-16 77h0m-16-28h0m-14 12h0m-3-8h0m-9 15h0m-4 9h0m-4-2h0m-1-31h0m-15 23h0m-19 7h0m-2-2h0m-38 17h0m0-21h0m-13-24h0m-5 24h0m-27 1h0m-7 46h0m9-6h0m49-12h0m5 9h0m15 40h0m31-34h0m12 23h0m10-3h0m5 3h0m14-9h0m0-17h0m5 0h0m4 6h0m3 26h0m4-26h0m3-12h0m1 29h0m13-11h0m17 26h0m1-44h0m9 44h0m18-21h0m13 8h0m22 0h0m-43 34h0m-38-16h0m-5 19h0m-18 20h0m-1-35h0m-8 35h0m-7 9h0m-16 2h0m-1-5h0m-10-15h0m-10 12h0m0-5h0m-7-25h0m-1 3h0m-12 21h0m-3-23h0m-21 17h0m0 22h0m-18-1h0m-26-28h0m-37 37h0m83 24h0m12 27h0m1-7h0m1 10h0m2-49h0m4 43h0m1-5h0m2-45h0m6 9h0m0 3h0m7 45h0m3 1h0m3-52h0m1 36h0m13-19h0m2-2h0m4 8h0m1-2h0m2-9h0m5-13h0m15 48h0m18-12h0m1-12h0m2-10h0m3 20h0m3-28h0m31 18h0m-67 36h0m-27-5h0m-4 20h0m-2 25h0m-1-18h0m-1 15h0m0-5h0m-4-1h0m-11-3h0m-2 10h0m-2-37h0m-2 11h0m-1 13h0m-8 25h0m-28-54h0" stroke="#5fba4a" stroke-width="16" stroke-linecap="round" fill="none"/>
<path transform="scale(.1)" d="M2437 8158h0m-3-4h0m-89-13h0m-31 8h0m-10 1h0m-79 21h0m61 6h0m23-7h0m66 3h0m50-7h0m21 32h0m6-4h0m3 1h0m10-1h0m10-31h0m25 39h0m11 4h0m48-22h0m1 10h0m23 20h0m1-23h0m3 80h0m-36-45h0m-117 6h0m-43 5h0m-37-6h0" stroke="#5fba4a" stroke-width="16" stroke-linecap="round" fill="none"/>
<path transform="scale(.1)" d="M4136 8136h0m-9 5h0m-3 3h0m-23-6h0m-4 19h0m-2-13h0m-1 5h0m0-6h0m-2 8h0m-5-8h0m-9 6h0m-1-6h0m-4 4h0m-12 11h0m-12-18h0m0 13h0m0-3h0m-2-5h0m-2 9h0m-4-6h0m-6-1h0m-2-4h0m-5 4h0m-6-9h0m-7 7h0m-1 5h0m-2 3h0m0 4h0m-6-2h0m-9-13h0m-3-6h0m-2 16h0m-9-14h0m-9 4h0m-8 14h0m-3-2h0m-5-14h0m-2 13h0m-3-1h0m-9-14h0m-10 0h0m-4 19h0m-4-12h0m-1 12h0m-19-18h0m-6 15h0m-2 1h0m-6-4h0m-4 8h0m-5-2h0m-1 2h0m-4-3h0m-23-15h0m-11 18h0m-269 42h0m75 6h0m10-5h0m15 16h0m6-3h0m9-34h0m3 26h0m0 7h0m12-19h0m12 18h0m3-7h0m8-12h0m0 5h0m4-18h0m2 23h0m8-26h0m0 28h0m2 13h0m1-8h0m2-11h0m1-9h0m6-8h0m0 3h0m3 17h0m0 6h0m10-49h0m1 10h0m10 17h0m6-5h0m5 37h0m0-54h0m2 15h0m4 16h0m0 7h0m7-24h0m5-14h0m6-2h0m12 23h0m1 2h0m4-17h0m3-11h0m0 23h0m1 2h0m3-7h0m9-6h0m0 1h0m0-6h0m9-4h0m1 26h0m3-7h0m3 3h0m8-23h0m1 20h0m2 6h0m8-1h0m6-10h0m5-6h0m1 4h0m3 3h0m2-11h0m8-2h0m1 8h0m27-10h0m14 0h0m15-1h0m1 33h0m1-27h0m38-7h0m4 8h0m42-6h0m43 0h0m-367 58h0m-22 27h0m-9-17h0m-2 2h0m-8 8h0m-2-21h0m-13 8h0m-13-3h0m-3 23h0m-9 11h0m-7-28h0m-7 28h0m-9 9h0m0-7h0m-5-10h0m-3 10h0m-3 6h0m0 8h0m-1-21h0m-3-30h0m0 20h0m-2 9h0m-7 15h0m-5 2h0m-2-14h0m-3-4h0m0-14h0m-1 33h0m0-6h0m-1-28h0m-2 39h0m-2-13h0m-14-20h0m-4 23h0m-1 9h0m-5 1h0m-4-28h0m-2-13h0m-3 13h0m-4 2h0m-2-13h0m-1 28h0m-4-5h0m-12 4h0m-12 13h0m-1-20h0m-18 9h0m-5 6h0m-19 7h0m-98 47h0m24 9h0m5-3h0m23-28h0m9 21h0m7-21h0m7 31h0m8-11h0m6-17h0m12-8h0m0-17h0m7 57h0m2-28h0m1-16h0m4 12h0m2-25h0m1 37h0m4 14h0m2-12h0m1-29h0m3 9h0m2 20h0m3-5h0m1-21h0m4-13h0m2 18h0m9 33h0m3-21h0m8-32h0m0 15h0m1-5h0m1 13h0m0-20h0m2 12h0m6 32h0m3-12h0m5-13h0m2 15h0m16-19h0m2 0h0m0 15h0m7-16h0m1-3h0m0-7h0m11-3h0m-87 69h0m-17 2h0m-6 34h0m0-37h0m-5-2h0m-5 17h0m-8-13h0m-1-12h0m-11 49h0m-2-16h0m-4-16h0m-4 21h0m-1-3h0m-7-1h0m-1-22h0m-4 25h0m-1-12h0m-20 32h0m-8-11h0m0-35h0m-2 35h0m-3-19h0m-6 4h0m-1-13h0m-5-3h0m-2 23h0m-1-3h0m-12 14h0m-7 1h0m0-7h0m-17 9h0m-6 2h0m-2-22h0m-7-5h0m-57 85h0m34-18h0m23 18h0m11-35h0m9 25h0m1-7h0m12-19h0m0 34h0m3-33h0m0 13h0m1-11h0m4-5h0m0 0h0m0 26h0m1-36h0m0 22h0m3 13h0m6-39h0m4 19h0m6-19h0m3 13h0m3-10h0m3-1h0m0 13h0m1 22h0m6-15h0m1-17h0m35-4h0m-47 78h0m-1-19h0m-6 16h0m-6 11h0m-4-28h0m-7 31h0m-3-13h0m-6 37h0m-5-34h0m-14-10h0m-2 9h0m-11-4h0m-4 13h0m-2 16h0m-3-40h0m-1 7h0m-5-11h0m0 50h0m-2-43h0m0 22h0m-6-15h0m-3 43h0m-2-33h0m0-13h0m-3-10h0m-3 50h0m-3 5h0m-1-3h0m-3-7h0m-19-14h0m-13 20h0m-88 44h0m66 10h0m11-44h0m15 18h0m9 21h0m2-21h0m3 25h0m2 7h0m7-20h0m4-16h0m1-5h0m3 3h0m1-7h0m4-8h0m0 39h0m1-33h0m3 49h0m13-50h0m0 22h0m5-16h0m3 1h0m3 45h0m5-26h0m0-12h0m2-3h0m8-17h0m7 60h0m-42 10h0m-22 1h0m-6 7h0m-13-15h0m-1 2h0m-1 33h0m0 2h0m-1 1h0m-1-4h0m-1 12h0m-2-25h0m-6-6h0m-10-12h0m0 17h0m-3 6h0m-7 7h0m-7 15h0m-14-25h0m-3-4h0m-4 21h0m-1-5h0m0-3h0m-20 6h0m-10 9h0m-15-23h0m-11 86h0m4-6h0m9-12h0m14 22h0m0-45h0m3 37h0m2-14h0m0 2h0m6-26h0m3 14h0m4 7h0m1 25h0m3-1h0m3-56h0m12 24h0m7 27h0m10-29h0m2-8h0m3-12h0m9 18h0m2 11h0m1 11h0m0 14h0m12-55h0m8 24h0m3 22h0m2-41h0m11 11h0m-46 48h0m-10-2h0m-20 29h0m-3-22h0m-1 19h0m-4-6h0m-2-16h0m-5-1h0m-1 12h0m-2 3h0m-3 14h0m-3-34h0m-4 16h0m-3 31h0m-1-22h0m-9 1h0m-1-12h0m-5 32h0m0-45h0m-5 49h0m-1 5h0m-11-39h0m-12 9h0m-6-6h0m-1 30h0m-14-36h0m-2 7h0m50 40h0" stroke="#b8dd45" stroke-width="16" stroke-linecap="round" fill="none"/>
<path transform="scale(.1)" d="M3742 8151h0m-166 59h0m26 3h0m5-15h0m40-1h0m5 3h0m28-1h0m20 2h0m3-7h0m12-29h0m14 32h0m8 3h0m14 4h0m32 47h0m-23-2h0m-19 7h0m-23-28h0m-6 1h0m-11 2h0m-42 2h0m-3 32h0m-40-13h0m-6 8h0m-32 11h0m-14-29h0m-21 34h0m-11-17h0m-57 11h0m-41 3h0m-39 42h0m31 4h0m29-21h0m4 21h0m12-14h0m1 7h0m1-17h0m7 22h0m17-19h0m0-16h0m2 30h0m6 15h0m23-31h0m0 0h0m12 4h0m1-19h0m6 49h0m6-41h0m19 5h0m1 39h0m13-33h0m42-20h0m6 14h0m31-6h0m60 0h0m-156 67h0m0 16h0m-51-16h0m-26 29h0m-7 2h0m-14-23h0m-21-19h0m-2 45h0m-26 9h0m-4-24h0m-3 13h0m-8-9h0m-3-12h0m-4 14h0m-9-12h0m-2 30h0m-12-35h0m-10 5h0m-64 14h0m9 70h0m6 4h0m19-36h0m25-9h0m6 22h0m5 22h0m4 4h0m15-43h0m3-5h0m2-9h0m24 17h0m36-12h0m0-4h0m35 11h0m-114 100h0m-3-23h0m-21 28h0m-23-20h0m-2-6h0m-2-6h0m-6-20h0m-21 25h0m-9 8h0m-5-19h0m-7 3h0m-2 1h0m-2 10h0m0 19h0m-12-29h0m-46 26h0m-15 30h0m46 13h0m2 20h0m3-31h0m11 20h0m6-14h0m8 10h0m4-4h0m1 12h0m8-25h0m43-1h0m21-19h0m-8 79h0m-50-14h0m-12 15h0m-17 19h0m-20-28h0m-1 21h0m-3 12h0m-21-12h0m-9 19h0m-59 0h0m-20 58h0m49-39h0m5 28h0m11-19h0m3-17h0m2 15h0m7-12h0m12 2h0m5-6h0m4 4h0m1 34h0m5-24h0m5-10h0m2 19h0m19-26h0m9 21h0m16-1h0m39-5h0m-130 73h0m-1-17h0m-16 27h0m-22-8h0m-1 27h0m-61-14h0m46 26h0" stroke="#b8dd45" stroke-width="16" stroke-linecap="round" fill="none"/>
<path transform="scale(.1)" d="M4126 8140h0m-11 0h0m-6-1h0m-22 18h0m-14-19h0m-3 6h0m-5-5h0m-3 5h0m-20 1h0m-3 0h0m-2 7h0m-22 4h0m-3-9h0m-4-3h0m-2 9h0m-33 2h0m-45-16h0m-16 11h0m-17-9h0m-1 18h0m-12-19h0m-15 14h0m-54-5h0m-48-1h0m-4 7h0m-51 2h0m-213 43h0m9 17h0m12-57h0m28 23h0m19 28h0m18-18h0m1 16h0m4 9h0m16-4h0m7-24h0m40-4h0m3-13h0m6 24h0m12-4h0m12-17h0m9 40h0m5-46h0m21 2h0m1 23h0m13-8h0m18 6h0m2-22h0m10 4h0m13 37h0m0-33h0m33-15h0m6 17h0m13-14h0m46 10h0m36 6h0m3-15h0m14 13h0m59-16h0m7 0h0m5 3h0m-307 53h0m-42-1h0m-34 27h0m-2-24h0m-52 5h0m-16 30h0m-6-27h0m-2 4h0m-13 25h0" stroke="#b8dd45" stroke-width="16" stroke-linecap="round" fill="none"/>
<path transform="scale(.1)" d="M3476 8250h0m-76 80h0m22-26h0m10 33h0m10-12h0m9-3h0m17-28h0m3 27h0m37-20h0m3-18h0m12 63h0m-15 9h0m-34 4h0m-12-18h0m-1 9h0m-1 0h0m-4-5h0m-15 10h0m-38 18h0m-1 3h0m-12-25h0m-17 28h0m-24 9h0m-6-6h0m-19 69h0m13-11h0m8-8h0m8 1h0m0-17h0m5 39h0m6-13h0m33-10h0m3-7h0m40 9h0m-69 60h0m-17-28h0m-21 6h0m-5 15h0m-34 2h0m-38 7h0m-43 78h0m20-4h0m31-3h0m2-42h0m2 24h0m6 16h0m8-36h0m7-7h0m0 6h0m2 37h0m7-41h0m17 2h0m13-4h0m-58 92h0m-9-13h0m-5-10h0m-15 4h0m-4 8h0m-6 7h0m-2-21h0m-2 33h0m-7-1h0m-11 2h0m-56 67h0m10-6h0m12-9h0m12-5h0m6-29h0m1 28h0m2 6h0m13 11h0m25-35h0m3 41h0m17-28h0m5-19h0m-33 74h0m-23-10h0m-8-4h0m-14 25h0m-4-7h0m0 11h0m-4-7h0m-13-20h0m-10 13h0m-1 37h0m-5-18h0m-5 28h0m30 0h0m4 0h0m18-5h0" stroke="#8fcf40" stroke-width="16" stroke-linecap="round" fill="none"/>
<path transform="scale(.1)" d="M3163 8754h0m-3-16h0m-4-13h0m-2 6h0m-3 10h0m-2 0h0m-2-21h0m-1 16h0m0 21h0m-3-21h0m-7-10h0m-1 32h0m0-34h0m-1 9h0m-5-3h0m0-3h0m0 5h0m-3 14h0m-24 7h0m0 14h0m13 49h0m0-39h0m4 34h0m1-33h0m1-3h0m3 22h0m1-16h0m4-9h0m2 35h0m0 5h0m0-25h0m1 21h0m0 3h0m4-16h0m0 13h0m1-27h0m2 30h0m0-35h0m2 9h0m2-14h0m5 20h0m2 5h0m2-13h0m0-16h0m3 0h0m0 41h0m4-9h0m2-5h0m6 0h0m19-17h0m-18 80h0m-3-23h0m-6 42h0m-2 1h0m0-2h0m-1-1h0m-2-38h0m-1 15h0m-2-9h0m-1 28h0m-1-38h0m-1 34h0m0 12h0m-2-45h0m0 1h0m0 7h0m-1 14h0m0-32h0m-1 12h0m-1-15h0m-5 42h0m-1 10h0m-2 1h0m-3-1h0m0 2h0m0-9h0m0 6h0m-2-3h0m0-33h0m0 6h0m-5 4h0m-1-1h0m-1-19h0m0 2h0m0 22h0m-3-12h0m-6 11h0m-8-23h0m8 89h0m1-19h0m3 11h0m0 4h0m9-12h0m2 0h0m0 9h0m1-25h0m1 15h0m0-6h0m2-10h0m1 25h0m0-16h0m1-8h0m0 7h0m0-3h0m3 31h0m1-29h0m2 9h0m1 18h0m2 5h0m0-27h0m1 21h0m0-14h0m0 2h0m2 9h0m2-27h0m1 8h0m1 23h0m2-2h0m0-6h0m2-12h0" stroke="#5fba4a" stroke-width="16" stroke-linecap="round" fill="none"/>
<path transform="scale(.1)" d="M3123 8898h0m1 12h0m2 16h0m2-15h0m0 6h0m1-2h0m2-15h0m0 20h0m1-29h0m1 12h0m1 29h0m4-13h0m1 16h0m0-31h0m1-11h0m1 27h0m2-22h0m4 7h0m6-20h0m1 18h0m0-15h0m-6 86h0m-2-16h0m-1 29h0m-2-7h0m-2-34h0m-5 23h0m0-29h0m-4 15h0m-1-9h0m0 53h0m-2-20h0m0-8h0m-3 13h0m-1-3h0m-6-17h0m2 70h0m1 22h0m5-34h0m0 21h0m2 2h0m6-42h0m1-2h0m0 37h0m1 5h0m1-24h0m1-2h0m1 38h0m4-16h0m3-36h0m3 82h0m-5 24h0m-4-37h0m-1 10h0m-2 3h0m0 7h0m-4-31h0m0 7h0m-2 51h0m-1-16h0m0-8h0m-2 3h0m-2-10h0m-1 17h0m0 14h0m-3 16h0m8-12h0m2 13h0m1-5h0m11 4h0" stroke="#f2a53a" stroke-width="16" stroke-linecap="round" fill="none"/>
<path transform="scale(.1)" d="M3154 8968h0m-21 17h0m-5 7h0m-2-3h0m-2-27h0m1 61h0m4 30h0m3-42h0m1 13h0m0 20h0m0-18h0m1 6h0m0 23h0m3-44h0m4-2h0m1 33h0m2-10h0m7-7h0m-4 54h0m-1 25h0m-4 7h0m-2-48h0m-1 42h0m-10-21h0m-1-6h0m-6 26h0" stroke="#f0d040" stroke-width="16" stroke-linecap="round" fill="none"/>
<path transform="scale(.1)" d="M3135 8899h0m3 8h0m4 20h0m7-11h0m4 2h0m-1 31h0m-2-4h0m-4 31h0m-3-36h0m-26 2h0" stroke="#d04aa0" stroke-width="16" stroke-linecap="round" fill="none"/>
<path transform="scale(.1)" d="M3125 9137h0m2-9h0m1 27h0m1-1h0m0-25h0m0 25h0m1 6h0m0-13h0m0-13h0m3 13h0m1 22h0m0 1h0m5 6h0m1-52h0m6 15h0m2 1h0m-4 96h0m-1 0h0m-3-45h0m0 23h0m-1-34h0m0 15h0m-5 12h0m-1 13h0m0-28h0m-1 11h0m-1-13h0m-1 25h0m-2 17h0m-2-16h0m-2-6h0m1 89h0m1-25h0m1 11h0m1-4h0m1-33h0m1 18h0m1 28h0m0-14h0m1 6h0m0 12h0m2-56h0m1 26h0m0-28h0m1 41h0m1-4h0m1-16h0m2-8h0m0 20h0m1-29h0m1 25h0m1-5h0m2 17h0m-7 33h0m0 16h0m-1 25h0m0 4h0m0-3h0m-2-42h0m0-2h0m0 21h0m-2 0h0m0 24h0m0-17h0m-2-5h0m-1-3h0m-2 20h0m-1-41h0m0-10h0m-1 115h0m1-36h0m1 25h0m1-39h0m0 11h0m2 15h0m0-25h0m0 13h0m1 16h0m0-29h0m0 14h0m0 35h0m1-7h0m0 0h0m1-41h0m0 45h0m1-11h0m1-17h0m2 13h0m0 18h0m1-39h0m0 8h0m1 7h0m1 20h0m2-17h0m2 7h0m1-17h0m-4 88h0m-1-41h0m-2 44h0m0-8h0m-1-26h0m0-4h0m-1-16h0m-1 29h0m0-10h0m-1-5h0m-1 34h0m0-19h0m-1 1h0m-2-19h0m-1-6h0m0 24h0m0 22h0m-1-7h0m0-35h0m-2 32h0m-4-2h0m-2 34h0m1 23h0m5-14h0m2-6h0m1-8h0m0 8h0m2-9h0m3 36h0m0-5h0m1-25h0m1 37h0m2-16h0m2 68h0m-3-2h0m-1 14h0m-1-24h0m-2-31h0m0 24h0m0-16h0m-2 5h0m-3 41h0m-5 25h0m2 37h0m2-16h0m1-34h0m0-3h0m1 23h0m0-26h0m2 44h0m1-40h0m1 29h0m0-20h0m2 44h0m2-52h0m0 10h0m4 19h0m1 15h0m-1 48h0m-5-38h0m-1 33h0m-1-12h0m-1 20h0m-1-17h0m-1 9h0m0-28h0m-1 18h0m0-11h0m-2 19h0m0 10h0m0-7h0m-1-25h0m0 16h0m-1 7h0m-2 4h0m-1 53h0m4 5h0m1-5h0m0 12h0m1-26h0m2 18h0m0-27h0m1 53h0m3-59h0m4 1h0m1 88h0m-2-18h0m-4 27h0m-1-36h0m0 22h0m-1 20h0m0 13h0m0-41h0m0 18h0m0 10h0m-1-3h0m0-13h0m-1-2h0m-1-25h0m0 32h0m0-15h0m0-11h0m-1 1h0m-1 14h0m-1 67h0m0 0h0m1-12h0m1-16h0m1 45h0m0-46h0m1 26h0m1 31h0m0-50h0m1-2h0m1 48h0m1-37h0m0-8h0m1 75h0m0-10h0m-1-7h0m-1 9h0m-1 32h0m0 9h0m-1-28h0m0-8h0m0-18h0m0 17h0m-1 30h0m-1-32h0m-1 15h0m0 23h0m-2-42h0m0 9h0m-2 2h0" stroke="#4a5cc4" stroke-width="16" stroke-linecap="round" fill="none"/>
<path transform="scale(.1)" d="M2820 8500h0m260 430h0m140-30h0m60 100h0m-120 260h0" stroke="#5fba4a" stroke-width="16" stroke-linecap="round" fill="none"/>
<path transform="scale(.1)" d="M3175 8260h0m355 200h0m-225 250h0m-85 80h0" stroke="#e0508a" stroke-width="16" stroke-linecap="round" fill="none"/>
<path transform="scale(.1)" d="M4050 8190h0m-250 150h0m-285 180h0" stroke="#2a9bc0" stroke-width="16" stroke-linecap="round" fill="none"/>
<path d="M113.4 1123.7L14.9 1301.7L211.2 1301.7Z" fill="#e7e7e7" stroke="#8a8a8a" stroke-width="0.7"/>
<path d="M113.1 1237.5L113.4 1123.7" stroke="#8a8a8a" stroke-width="0.6"/>
<path d="M113.1 1237.5L14.9 1301.7" stroke="#8a8a8a" stroke-width="0.6"/>
<path d="M113.1 1237.5L211.2 1301.7" stroke="#8a8a8a" stroke-width="0.6"/>
<path transform="scale(.1)" d="M1076 11378h0m-7-9h0m-2 11h0m-1-6h0m-1-6h0m-2 15h0m-2-8h0m0 2h0m-3 16h0m-5-8h0m-23 52h0m1 4h0m3 13h0m3-23h0m5 6h0m1 17h0m2-25h0m3 3h0m1-7h0m0 15h0m1 0h0m1-26h0m3 13h0m0-13h0m1 13h0m0-27h0m7 39h0m10 16h0m-2 15h0m-1 26h0m-8-33h0m-1 8h0m-3-11h0m-1 27h0m0 17h0m-3 10h0m-1-22h0m-2-25h0m0 29h0m-2-36h0m-5 6h0m-1 23h0m-1 3h0m-4 1h0m-3 7h0m-1 10h0m-6-49h0m-3 0h0m-12 82h0m1 12h0m5 10h0m2 14h0m0-32h0m6-19h0m2-4h0m1 30h0m0-14h0m5-14h0m3 35h0m1-36h0m0 49h0m5-6h0m1 4h0m3 3h0m2-22h0m0-8h0m1-18h0m0 17h0m1 34h0m2-2h0m1-1h0m7-28h0m-1 52h0m-6-3h0m-3 42h0m-5-42h0m-5-15h0m0 50h0m-6-34h0m-1 1h0m0 37h0m-4-52h0m-4 50h0m-3-41h0m-2 35h0m-1-47h0m-1 57h0m-3-55h0m-2 43h0m-1-18h0m-4 30h0m-2-27h0m-11 29h0m-8 52h0m4-29h0m11 17h0m2-32h0m1 35h0m1 5h0m2-28h0m7-16h0m4 5h0m0 26h0m2-34h0m3 56h0m4-15h0m2 8h0m0-37h0m3 39h0m15-31h0m5 19h0m1-34h0m2 24h0m-17 78h0m-12-13h0m-6 2h0m-4 23h0m-1-7h0m-2-26h0m0-15h0m-4 21h0m-2-2h0m-1 6h0m-3-34h0m-1 3h0m-5 15h0m-4 38h0m-1-53h0m-5 40h0m-2-40h0m-15-5h0m-9 113h0m8-4h0m2 4h0m2-21h0m1-13h0m2 32h0m2-18h0m16-20h0m2-7h0m0 22h0m3 0h0m0-3h0m5-22h0m1 48h0m4 4h0m1-42h0m4 31h0m4-27h0m1 37h0m1-34h0m0 16h0m2-22h0m1 19h0m3-17h0m0 41h0m2-30h0m7-11h0m3-16h0m6 30h0m2 2h0m3-19h0m2-7h0m-8 62h0m-6 22h0m-7 23h0m-3-43h0m0 28h0m-8-22h0m-5 33h0m-1-6h0m0 12h0m-4-45h0m-2 28h0m-3-4h0m-2-19h0m-3 18h0m0 10h0m-5 4h0m0-9h0m-2 8h0m-1-22h0m-1 12h0m0-19h0m-4 16h0m-3-4h0m-2 12h0m-44 69h0m4-20h0m11 15h0m8-13h0m4-21h0m3-10h0m6 34h0m5 23h0m3-6h0m2-9h0m5-15h0m3-5h0m4 22h0m3-21h0m1-5h0m0-11h0m8 9h0m3-14h0m18 18h0m6 38h0m-10 11h0m-6 20h0m-4 1h0m-3-8h0m-13-20h0m-1 24h0m-6-22h0m-4 53h0m-10-31h0m-6 28h0m-1-38h0m-5 10h0m-1 32h0m-21-19h0m-23 18h0m-31 55h0m42-15h0m12 6h0m7 9h0m12-13h0m2-17h0m1-16h0m3 16h0m1-13h0m2 38h0m2-38h0m14-9h0m3 48h0m8-33h0m5 31h0m5-18h0m28 20h0m-9 25h0m-8 7h0m-17-8h0m-15 0h0m-3-13h0m-4 27h0m-2 22h0m-3-31h0m-3-13h0m0 32h0m-10 19h0m-1-49h0m-3 47h0m-1-35h0m-6-18h0m-1 19h0m-2 18h0m-3-23h0m-1 19h0m-10-7h0m-1-19h0m0 36h0m-8-12h0m-5 17h0m-1-17h0m-1 5h0m-11 10h0m26 19h0m10 1h0m41-1h0m5-3h0" stroke="#f3d42a" stroke-width="16" stroke-linecap="round" fill="none"/>
<path transform="scale(.1)" d="M1000 11819h0m15-24h0m4 7h0m13-7h0m10 1h0m6 19h0m-13 15h0m-18 48h0m-3-51h0m-5 36h0m-3-41h0m-8 45h0m-3-15h0m-5-24h0m-7 36h0m-2-14h0m-20 13h0m-19 75h0m20-20h0m1-23h0m11 29h0m4-25h0m10 13h0m3 19h0m3-31h0m6-11h0m2 26h0m0-33h0m2 15h0m2-15h0m3 14h0m2 22h0m5-28h0m2-9h0m5 1h0m4 11h0m11 12h0m-25 93h0m-7-44h0m-11 19h0m-5 12h0m0-6h0m0-25h0m-8 6h0m0-16h0m0 39h0m-7 2h0m0 14h0m-5-24h0m-13 9h0m-15 11h0m5 48h0m1-18h0m4 28h0m18-15h0m15-7h0m4-4h0m7-20h0m1 29h0m5 8h0m5-16h0m4 12h0m0-19h0m2 5h0m3 10h0m12 53h0m-23 26h0m-9-41h0m-12 8h0m0-3h0m-4 23h0m-2 2h0m-1-17h0m-3-13h0m-7 31h0m0-30h0m-10 6h0m-3 14h0m-1 20h0m-6-44h0" stroke="#f3d42a" stroke-width="16" stroke-linecap="round" fill="none"/>
<path transform="scale(.1)" d="M1100 11338h0m-5 19h0m-20 33h0m-50 61h0m2-8h0m36-41h0m12 80h0m-75 33h0m-35 53h0m17 9h0m10-36h0m10-3h0m11 17h0m2-21h0m27 5h0m5 20h0m6-38h0m-124 112h0m-32 48h0m6 2h0m19-19h0m29 23h0m23-9h0m8-11h0m10-8h0m38 22h0m1-6h0m43 37h0m-14 31h0m-16 16h0m-33-23h0m-19-29h0m-5 49h0m-23-42h0m-30 39h0m-31-40h0m-25 40h0m-44 44h0m7-19h0m2 26h0m20-13h0m138-18h0m16 32h0m39-28h0m0-16h0m2 10h0m-54 59h0m-9 37h0m-117-23h0m-5 30h0m0-25h0m-12-22h0m-1 20h0m-39 32h0m-27 25h0m32 8h0m19-3h0m18-22h0m43 42h0m3-20h0m15-3h0m21-19h0m39 1h0m5 40h0m3-38h0m7 6h0m14 42h0m41-19h0m7 0h0m-5 70h0m-68-16h0m-56 18h0m-7 2h0m-30-10h0m-2-41h0m-8 38h0m-36 2h0m-7-40h0m-88 9h0m14 85h0m5-10h0m11 29h0m25-23h0m12 22h0m94-48h0m1-4h0m32 38h0m39-25h0m9 38h0m28 10h0m-9 53h0m-9-13h0m-4 12h0m-9-45h0m-13-4h0m-1-1h0m-70 35h0m-51 1h0m-3-35h0m-67 26h0m-31 26h0m-28-8h0m-3-21h0m-21-9h0m-5-16h0m-20 52h0m-30 22h0m3-8h0m49 3h0m17-4h0m14 1h0m35 23h0m24 18h0m13-41h0m3 47h0m33-36h0m29-7h0m17 30h0m18 1h0m28-25h0m6-3h0m38-5h0m28 11h0m-25 60h0m-6-9h0m-46-1h0m-18 40h0m-13-44h0m-22 26h0m-33-35h0m-21 19h0m-1 14h0m-44-29h0m-3 33h0m-44 10h0m-49-9h0m-4-5h0m-2-30h0m-62 34h0m182 23h0" stroke="#f3d42a" stroke-width="16" stroke-linecap="round" fill="none"/>
<path transform="scale(.1)" d="M1121 11276h0m-4-5h0m-2 2h0m-26 54h0m1-9h0m17-10h0m2-17h0m3-9h0m4-1h0m-34 66h0m-15 14h0m-6 13h0m-1 12h0m-4 4h0m-42 67h0m11-17h0m-20 35h0m-1 4h0m-5 10h0m-1 7h0m-4 13h0m-10 6h0m-22 40h0m10-14h0m3-12h0m7 5h0m-35 65h0m-5-9h0m-1 8h0m0 7h0m-1-9h0m-9 13h0m-6 14h0m-5 8h0m-4 6h0m-29 54h0m5-9h0m5-13h0m16-16h0m1 0h0m-41 66h0m-9 21h0m-14 12h0m-28 59h0m19-43h0m3-3h0m6 0h0m-38 56h0m0 1h0m-13 27h0m-4 12h0m-1-3h0m-43 72h0m1 1h0m2-7h0m2 14h0m14-41h0m8-4h0m0-10h0m2-1h0m11-2h0m-48 65h0m-14 30h0m-2-1h0m-41 77h0m2-6h0m0-1h0m14-8h0m11-34h0m-35 66h0" stroke="#f3d42a" stroke-width="16" stroke-linecap="round" fill="none"/>
<path transform="scale(.1)" d="M666 12086h0m-2 19h0m-7 3h0m-36 68h0m2-11h0m0-2h0m5-1h0m-6 32h0m-8-6h0m-3 6h0m-1 3h0m-16 19h0m-42 82h0m7-19h0m5-3h0m3-6h0m1-10h0m2 1h0m11-7h0m-35 87h0m-7-26h0m-1 18h0m-5-5h0m-1 16h0m-33 49h0m2-9h0m0 2h0m-12 38h0m-13 9h0m-3 12h0m-4-3h0m-2 7h0m-15 21h0m-11 27h0m4-11h0m4 4h0m-32 50h0m-1 19h0m-6-12h0m-1 14h0m-2-3h0m-4 4h0m-3 3h0m-1 1h0m-3 5h0m0 24h0m0-17h0m-2-3h0m-2 6h0m-29 63h0m7-22h0m4 0h0m11-21h0m-33 68h0m-13 7h0m-5 10h0m-1 9h0m-3 19h0m-42 57h0m1 7h0m1-17h0m4 17h0m6-26h0m3 6h0m9-28h0m-36 66h0m-1 13h0m-1-12h0m-2 2h0m-9 21h0m-44 75h0m17-33h0m5-12h0m7-9h0m1 21h0m1 4h0m-27 34h0m-5 6h0m-10 22h0m-8 4h0m-6 8h0m0 11h0m-1-4h0m-5 1h0m-23 44h0m4 0h0m1-6h0m7 7h0m2-3h0m0-27h0" stroke="#ff951f" stroke-width="16" stroke-linecap="round" fill="none"/>
<path transform="scale(.1)" d="M1129 11267h0m-41 68h0m10-21h0m2-8h0m-27 45h0m-13 30h0m-122 223h0m-13 16h0m-36 66h0m8-11h0m8-24h0m14-2h0m-54 75h0m-5 14h0m-34 58h0m13-20h0m-34 60h0m-3 14h0m-73 128h0m-9 7h0" stroke="#ff951f" stroke-width="16" stroke-linecap="round" fill="none"/>
<path transform="scale(.1)" d="M925 12223h0m-5 11h0m-109 59h0m25-5h0m1 3h0m6-12h0m3 15h0m1-5h0m2 4h0m2 4h0m4-4h0m0 1h0m1-4h0m0 2h0m2-9h0m4 6h0m11-1h0m3 11h0m4-21h0m4 21h0m6-10h0m3-9h0m1 0h0m1-9h0m1 25h0m2-13h0m0 10h0m7 1h0m3-6h0m0-2h0m1 10h0m3-3h0m2-3h0m7 9h0m5-23h0m0-31h0m1 15h0m1 1h0m5-13h0m1 35h0m2-2h0m2-5h0m1 12h0m3-19h0m0-16h0m1 36h0m6-26h0m5 6h0m4 1h0m4 16h0m1 19h0m-33 3h0m-27 9h0m0-14h0m-8 0h0m-11 1h0m-12 18h0m-4-15h0m-3 1h0m-2 9h0m-6-9h0m0-1h0m-1 13h0m-1-9h0m-9 12h0m-1-3h0m-2 16h0m-3 3h0m0-27h0m-4 14h0m-1 0h0m-3-11h0m0 4h0m-7 1h0m-1-18h0m-7 33h0m-3 8h0m-2 11h0m0-10h0m-2 11h0m-1-45h0m-1 21h0m0-15h0m0 4h0m-2 21h0m-11 15h0m0-12h0m-2-32h0m-8 13h0m-5 10h0m-2 3h0m-5 13h0m-1-19h0m-2 21h0m-5-4h0m-7 9h0m-4 1h0m-1-17h0m-18 7h0m-12-6h0m-3 8h0m-1 7h0m-70 39h0m1 10h0m3 7h0m9 5h0m5-12h0m4 1h0m3 2h0m0 2h0m4-50h0m3 23h0m1 9h0m0 19h0m6-15h0m3 4h0m3-22h0m1 19h0m7-8h0m2 9h0m2 11h0m1-12h0m1-35h0m5 32h0m3-7h0m0 26h0m2-25h0m1-9h0m1-4h0m6 7h0m2 23h0m7-42h0m5 40h0m1-24h0m0 2h0m1-2h0m2 5h0m6-2h0m1 12h0m18-36h0m2 32h0m7-16h0m1-14h0m2 19h0m9 6h0m7-6h0m5-5h0m18-15h0m2 7h0m-121 71h0m-2-10h0m0 24h0m-13 6h0m-3-5h0m0-26h0m-1 16h0m-4 19h0m-7-31h0m-2-7h0m-1 20h0m-2-24h0m-5 35h0m-1 1h0m-3-12h0m-6 31h0m-8-21h0m-2-5h0m-3 7h0m-4-6h0m0-26h0m-2 53h0m-3-26h0m-3 6h0m-2 13h0m-4-31h0m-3 37h0m-1 0h0m-19-18h0m-125 65h0m48-30h0m7 20h0m2 9h0m1 7h0m8-3h0m2 11h0m4-21h0m10-14h0m1 25h0m2-17h0m1 13h0m4-9h0m3-3h0m1 22h0m0-16h0m1-8h0m7 29h0m1-33h0m3 15h0m3-1h0m4-21h0m1-5h0m1 6h0m4-9h0m3 3h0m1 14h0m1 5h0m2-8h0m2 2h0m2-25h0m1 51h0m5-17h0m0-13h0m3-8h0m1 20h0m4-19h0m1 11h0m3-5h0m16-3h0m21-12h0m-77 63h0m-1 13h0m-4-21h0m-3 54h0m-5-53h0m-7 11h0m-1 3h0m-3-5h0m-6 30h0m-8-32h0m-5 39h0m-1-24h0m-1 9h0m-2 23h0m-4-3h0m0-23h0m0-13h0m-5-10h0m0 24h0m-4 26h0m-4-12h0m-4 13h0m0-5h0m-1 2h0m-2-23h0m-2 21h0m-20-9h0m-7-16h0m-54 56h0m8-1h0m8 28h0m1-13h0m0 11h0m6-16h0m3 20h0m3-3h0m5-17h0m1-5h0m0-14h0m1 34h0m11-7h0m4-33h0m4-2h0m0 37h0m1-26h0m1 28h0m0-17h0m1 7h0m0-17h0m0 4h0m1-16h0m1 19h0m4-17h0m10 33h0m7-34h0m3 35h0m2 13h0m8-48h0m28 0h0m-69 110h0m0-36h0m-9-2h0m-3-19h0m-2 23h0m-12-3h0m0-8h0m-4 8h0m0 11h0m-1-3h0m0 1h0m0-5h0m-1 26h0m0-26h0m-2-22h0m-4 52h0m-4-8h0m-4-19h0m-4-2h0m0 18h0m-4-2h0m0-14h0m-12 0h0m-2 26h0m-6-35h0m-10 32h0m-6 4h0m-8-2h0m-2 1h0m-44-15h0m-45 68h0m27-17h0m2-15h0m5-5h0m16 43h0m1 5h0m1-25h0m4-1h0m1 20h0m9 7h0m5-3h0m4-37h0m3 19h0m1 1h0m2 18h0m0-4h0m2-19h0m2 13h0m4-46h0m2 47h0m1-45h0m3 25h0m3-3h0m6-16h0m0-6h0m5 30h0m5 10h0m7-30h0m2 19h0m18-19h0m5-8h0m-53 59h0m-4 22h0m-2-14h0m-1 14h0m-10-15h0m-9-6h0m-8 12h0m0-7h0m-1 15h0m-11 34h0m-1-42h0m-4-11h0m-2 33h0m-1-6h0m-8 6h0m-1 11h0m-3-14h0m-2 21h0m-2-13h0m-1 5h0m-5 6h0m-1-22h0m-2 2h0m-6-26h0m-3 2h0m-17 21h0m-2 3h0m-10 16h0m-50 67h0m28-20h0m2-4h0m8-24h0m12 7h0m1 0h0m5-10h0m3 24h0m2-12h0m3-14h0m2 34h0m1 12h0m1-36h0m5 7h0m13-6h0m3 22h0m5 7h0m6-30h0m1 17h0m1-15h0m5-4h0m17 4h0m36-10h0m-80 53h0m-5 12h0m-2-5h0m-15 8h0m-4 14h0m-15 17h0m0-42h0m-4 5h0m0 27h0m-4-27h0m-2 36h0m-1-21h0m-1-17h0m-5 47h0m-1-17h0m-4-4h0m-1 17h0m-2-12h0m0 4h0m0 12h0m0-25h0m-2-29h0m-2 45h0m-1-43h0m-1 18h0m-2 12h0m-1-5h0m-2-18h0m-1 33h0m-3-23h0m0 39h0m0-37h0m-1 31h0m0 0h0m-1 3h0m0-35h0m-6 33h0m-4-7h0m-3 3h0m13 21h0" stroke="#ff951f" stroke-width="16" stroke-linecap="round" fill="none"/>
<path transform="scale(.1)" d="M585 12279h0m38-27h0m6-2h0m8 5h0m6 39h0m34-5h0m8-8h0m20-30h0m11 32h0m23-29h0m32 8h0m0 11h0m25 13h0m2-5h0m15 2h0m4 7h0m5-35h0m0 23h0m4 23h0m-16 25h0m-16 9h0m-26 5h0m-1-36h0m-16-1h0m-1 14h0m-9 6h0m-6-17h0m-28 22h0m-4 22h0m-14-29h0m-3-13h0m-4 22h0m-19-27h0m-5 53h0m-16-5h0m-30-40h0m-8 39h0m-9-45h0m-10 45h0m-9-44h0m-6 34h0m-4-38h0m-31 87h0m30 19h0m8-45h0m41 22h0m17 27h0m15-49h0m5 28h0m2-3h0m39 1h0m13-9h0m3-3h0m6-16h0m2-1h0m-83 92h0m-2-21h0m0 35h0m-6-20h0m-43 22h0m-10-25h0m-13 4h0m-1 8h0m-37-33h0m-9 57h0m-52-27h0m-4 2h0m-40 69h0m55-3h0m16-32h0m23 36h0m45-11h0m16 5h0m2-19h0m1 12h0m8-29h0m17 3h0m11 5h0m-85 85h0m-9 18h0m-5-2h0m-33-24h0m-9 17h0m-19 13h0m-1-54h0m-13 12h0m-16 22h0m-11-30h0m-52 92h0m7-8h0m1 3h0m13-20h0m29 4h0m25 38h0m22-35h0m10 29h0m45-48h0m-108 106h0m-2-16h0m-6-11h0m-10-1h0m-4 33h0m-4-21h0m-41 25h0m-19 8h0m12 10h0m37 26h0m1-30h0m7 11h0m8-11h0m-80 66h0m-9 26h0m-4-5h0m-1-5h0m-21 17h0m-8 7h0m-10 24h0m2-9h0m32 0h0m4-4h0" stroke="#ff951f" stroke-width="16" stroke-linecap="round" fill="none"/>
<path transform="scale(.1)" d="M878 12397h0m20-3h0m10-3h0m-17 49h0m-17 10h0m-38-1h0m-12 16h0m-3-5h0m-47 6h0m-64 66h0m7-3h0m3 7h0m2-20h0m3 20h0m5-7h0m22-41h0m1 25h0m3-14h0m1-7h0m7 9h0m18-1h0m3 31h0m16-50h0m-33 62h0m-40 6h0m-10 7h0m-5-13h0m-36 4h0m-2 9h0m-12 34h0m-3-35h0m-31 20h0m-27 16h0m-86 59h0m71 4h0m3-28h0m0 19h0m3-24h0m14-18h0m5 15h0m37-4h0m30-1h0m-77 80h0m-4 1h0m-12-13h0m-6-15h0m-8 37h0m-1 0h0m-7-24h0m-7 40h0m-15-45h0m-10 12h0m-10 18h0m-120 60h0m25 15h0m39 0h0m9-36h0m12 20h0m1 7h0m4-34h0m7 17h0m12 14h0m-21 17h0m-22 22h0m-6-1h0m-13-18h0m-17 25h0m-10-1h0m-1 11h0m-4 16h0m-4-52h0m0 38h0m-18 18h0m5 1h0m18-3h0" stroke="#f6c3d8" stroke-width="16" stroke-linecap="round" fill="none"/>
<path transform="scale(.1)" d="M1110 11509h0m-12 19h0m7 36h0m0 54h0m-6-18h0m-4 19h0m-4-16h0m-3 65h0m3 19h0m6-33h0m1-1h0m7-9h0m1 53h0m2 12h0m-8-6h0m-2 46h0m-1-45h0m-2 27h0m-14 12h0m-10 43h0m6 21h0m13-2h0m5-25h0m9-4h0m-17 74h0m0 4h0m-5-11h0m-1-16h0m-5 50h0m5 60h0m8-28h0m4-16h0m6 11h0m-4 40h0m-7 14h0m6 43h0m-18 87h0m-11 0h0m-3 18h0m-6 1h0m10 70h0m9-20h0m3 14h0m0-19h0m10-10h0m1-20h0m-26 103h0m-8-23h0" stroke="#a5713a" stroke-width="16" stroke-linecap="round" fill="none"/>
<path transform="scale(.1)" d="M1082 11344h0m14 59h0m-86 807h0m-268 29h0m-39-29h0" stroke="#a5713a" stroke-width="16" stroke-linecap="round" fill="none"/>
<path transform="scale(.1)" d="M1100 12211h0m-2 25h0m-25-9h0m-24 26h0m0 34h0m16-13h0m1 13h0m15-14h0m1-23h0m1 4h0m3 20h0m1-8h0m2 25h0m4-34h0m0 15h0m4 13h0m0 6h0m3-14h0m2-12h0m0 9h0m1 17h0m0-42h0m4 25h0m0 6h0m4 19h0m3-2h0m2-23h0m0-8h0m4 22h0m6 6h0m5 46h0m-19 8h0m-1-36h0m-2-10h0m0 7h0m-4-8h0m-2 38h0m-2-21h0m-1-13h0m-2 36h0m-4-35h0m-4 46h0m0-43h0m-2 22h0m-4-4h0m-5-16h0m-2-6h0m-3 14h0m-1 23h0m-5 31h0" stroke="#d17be0" stroke-width="16" stroke-linecap="round" fill="none"/>
<path transform="scale(.1)" d="M1095 12345h0m-14-15h0m-19 20h0m-9 9h0m-3-1h0m-29-3h0m-2 0h0m-15 2h0m-43 1h0m-4 41h0m12-26h0m5 4h0m11 4h0m5-18h0m6 11h0m1 5h0m6 10h0m11-26h0m2 23h0m4-1h0m2-1h0m8-10h0m0 8h0m7 0h0m2-5h0m2 1h0m0-6h0m7-6h0m8-5h0m3 30h0m3-22h0m2 9h0m6 3h0m9-7h0m2 4h0m20 2h0" stroke="#2aa198" stroke-width="16" stroke-linecap="round" fill="none"/>
<path transform="scale(.1)" d="M979 12353h0m-8-1h0m-13-32h0m-2-6h0m-5 26h0m-3-14h0m-8-20h0m-1 23h0m-3-24h0m-3 38h0m-4-4h0m-6 2h0m-18 1h0m83 18h0" stroke="#2b4be0" stroke-width="16" stroke-linecap="round" fill="none"/>
<path transform="scale(.1)" d="M983 12299h0m41-8h0m41 6h0m6 20h0m-28-17h0m-17 16h0m-3 0h0m-11 3h0m-11 15h0m-6-7h0m-22-1h0m-2-17h0" stroke="#f3d42a" stroke-width="16" stroke-linecap="round" fill="none"/>
<path transform="scale(.1)" d="M1089 12386h0m2-17h0m10 19h0m4-13h0m1 21h0m2-16h0m1 11h0m0-18h0m2 15h0m0-21h0m2 25h0m0-10h0m2-5h0m1-7h0m5 18h0m1 5h0m1-19h0m4 5h0m1 5h0m1 5h0m6-1h0m8-8h0" stroke="#e0174a" stroke-width="16" stroke-linecap="round" fill="none"/>
<path transform="scale(.1)" d="M1165 12407h0m3 3h0m15-31h0m4 9h0m20 26h0m105 52h0m-2 12h0m-23-30h0m-7 5h0m0 18h0m-20 6h0m-18-10h0m-3-29h0m-1 26h0m-6-30h0m0 43h0m-19-7h0m-7 3h0m-8-40h0m-27 6h0m-4-13h0m86 88h0m38-15h0m17-6h0m23 39h0m3-30h0m16 33h0m42-15h0m64 70h0m-88-29h0m-11-11h0m44 64h0m33 12h0m10-22h0m23 9h0m6 4h0m2 19h0m21-19h0m16-12h0m7 27h0m1-24h0m12 3h0m3 18h0m36 24h0m140 63h0m-30-2h0m-12-41h0m-5 32h0m-39-34h0m-7 38h0m-2 0h0m-3-3h0m-3-16h0m-4-9h0m-21 31h0m-1-46h0m-1 46h0m33 29h0m3 6h0m55-9h0m4 21h0m14 0h0m40-36h0m2 55h0m5 1h0m42-10h0m138 52h0m-47-10h0m-14 26h0m-3-21h0m-18-9h0m-14-19h0m-8 31h0m-3 9h0m-81-21h0m-22-8h0m-10-14h0m-45 5h0m134 79h0m25-11h0m18 12h0m44-6h0m7 19h0m16-38h0m4 50h0m61-28h0m6 28h0m2-42h0m25 45h0m71 49h0m-33-10h0m-2 12h0m-67-40h0m-5 3h0m-21 25h0m-5-18h0m-45 25h0m-4-23h0m87 57h0m56-5h0m3-13h0m15 44h0m29 11h0m17-8h0m5 5h0" stroke="#e0174a" stroke-width="16" stroke-linecap="round" fill="none"/>
<path transform="scale(.1)" d="M1803 12869h0m4 5h0m4-8h0m5-9h0m3 15h0m4 21h0m39-9h0m14-24h0m143 96h0m-36-2h0m-10-7h0m-1 0h0m-2-12h0m-2 8h0m-8 15h0m-5-31h0m-11 21h0m-6-39h0m-6 17h0m-18-3h0m-7 32h0m-1-6h0m-5-45h0m-2 43h0m-2-1h0m-7-43h0m-4 3h0m-4 18h0m-12-5h0m-1 2h0m-16-5h0m-8-3h0m-13 4h0m-2 13h0m-9-9h0m-9 8h0m-33-5h0m169 54h0m17 16h0m0-29h0m8 4h0m8 23h0m3-18h0m21-4h0m1-9h0m20 8h0m1-5h0m12 4h0m1 31h0m6 10h0m7-20h0m3 4h0m19 20h0m3-16h0m0 2h0m2 4h0m0-12h0m1 16h0m1 3h0m0-12h0" stroke="#e0174a" stroke-width="16" stroke-linecap="round" fill="none"/>
<path transform="scale(.1)" d="M1706 13006h0m12-2h0m0 2h0m23 4h0m19 0h0m2 0h0m2 1h0m0-12h0m25 5h0m5 6h0m45-5h0m13 3h0m47 0h0m15-11h0m1 12h0m13 3h0m9-9h0m2 10h0m8-3h0m9-12h0m3 14h0m4-12h0m5 6h0m12 4h0m3 2h0m64-7h0m29 7h0m1-5h0m1 1h0m1 4h0m7-12h0m2-2h0m6 12h0m9 1h0" stroke="#e0174a" stroke-width="16" stroke-linecap="round" fill="none"/>
<path transform="scale(.1)" d="M180 12997h0m14 13h0m54-6h0m55 1h0m76-7h0m182 6h0m16 4h0m148-2h0m112 3h0m18-4h0m59-2h0m2-3h0m37 7h0m27-1h0m129 3h0m88-27h0m345 22h0m14 0h0m17-5h0m100 4h0" stroke="#e0174a" stroke-width="16" stroke-linecap="round" fill="none"/>
<path transform="scale(.1)" d="M703 12511h0m486 10h0m-340 116h0m213-9h0m312 146h0m-798 19h0m-19 58h0m778 10h0m204-19h0m136 29h0m-1371 87h0" stroke="#e0174a" stroke-width="16" stroke-linecap="round" fill="none"/>
<path transform="scale(.1)" d="M1160 11315h0m-10 344h0m218 292h0m83 268h0m-1-13h0m-128 28h0m-24 43h0m112 21h0m156-5h0m-11 65h0m-74-41h0m-71 3h0m-136-10h0m-152 30h0m68 23h0m70 7h0m22 37h0m35 8h0m11-31h0m61 27h0m26-33h0m16 3h0m20 37h0m185-8h0m68 68h0m-228-31h0m-50 20h0m-116-8h0m-100 28h0m142 34h0m40 1h0m39-17h0m60 51h0m-1070 204h0m1380-16h0" stroke="#d17be0" stroke-width="16" stroke-linecap="round" fill="none"/>
<path transform="scale(.1)" d="M703 12087h0m175 253h0m365 233h0" stroke="#2b4be0" stroke-width="16" stroke-linecap="round" fill="none"/>
<path transform="scale(.1)" d="M1121 11601h0m-39 74h0m29 360h0m471 398h0m-617 49h0" stroke="#8fcf60" stroke-width="16" stroke-linecap="round" fill="none"/>
<path transform="scale(.1)" d="M664 12492h0m292 107h0m-185 68h0" stroke="#2aa198" stroke-width="16" stroke-linecap="round" fill="none"/>
<path d="M213.9 1122.8L416.1 1122.8L315 1303.2Z" fill="#e7e7e7" stroke="#8a8a8a" stroke-width="0.7"/>
<path d="M315.6 1188.9L213.9 1122.8" stroke="#8a8a8a" stroke-width="0.6"/>
<path d="M315.6 1188.9L416.1 1122.8" stroke="#8a8a8a" stroke-width="0.6"/>
<path d="M315.6 1188.9L315 1303.2" stroke="#8a8a8a" stroke-width="0.6"/>
<path transform="scale(.1)" d="M2203 11266h0m-9-8h0m-16 8h0m-6-22h0m-2 6h0m-3 3h0m-2-17h0m-1 23h0m-14-16h0m35 41h0m17 7h0m11 9h0m3 17h0m10 11h0m15-15h0m1 3h0m7-5h0m0 27h0m6-24h0m0 11h0m78 42h0m-20 26h0m-2-31h0m-21-1h0m-2-11h0m-10 35h0m-19-35h0m-2 1h0m67 57h0m5-3h0m2 33h0m1-11h0m5 2h0m2-29h0m2 32h0m5-21h0m1 3h0m1 31h0m4-38h0m5 27h0m1 3h0m2-12h0m0 15h0m1-18h0m0 12h0m4-20h0m3 20h0m9 19h0m8-4h0m34 6h0m30 58h0m-10-5h0m-6-5h0m-6-1h0m-1-34h0m-2 33h0m-2-28h0m-9 18h0m-11-24h0m-1 12h0m0-8h0m-5-1h0m-22 17h0m60 39h0m12 17h0m7 6h0m7 0h0m10-4h0m3 11h0m4-25h0m11-5h0m4-5h0m0 8h0m2 19h0m15 20h0m7-11h0m5-14h0m1 30h0m12-1h0m55 58h0m-5 1h0m-4-38h0m-6 45h0m-16-34h0m-2 30h0m-2-25h0m-1 30h0m-6-41h0m-29-2h0m-6-5h0m-6 18h0m92 43h0m40 36h0m2 5h0m2-25h0m33 25h0m64 58h0m-2-5h0m-1-17h0m-3 29h0m-5-4h0m-6-49h0m-1 28h0m-2 22h0m-2-26h0m-11 0h0m-3-10h0m-5 0h0m-3-3h0m-7 14h0m-5-17h0m-4 22h0m-6-24h0m-16 9h0m-1 20h0m-8-39h0m-40 3h0m121 66h0m11 20h0m3-2h0m1 15h0m7-27h0m19-9h0m2 35h0m1 8h0m5-12h0m28-3h0m9 24h0m5-8h0m12 0h0m67 51h0m-28-7h0m-11-2h0m-12-8h0m-15-3h0m-23 24h0m-2-25h0m-1-12h0m-4 20h0m-8 16h0m-3-44h0m-39 2h0m128 76h0m10 22h0m36-15h0m10 1h0m3 27h0m6-10h0m3-15h0m2 12h0m2-22h0m8-2h0m10 15h0m0-5h0m8-5h0m20-4h0m22 32h0m34 33h0m-11 24h0m0 1h0m-2 4h0m-2-32h0m-11 15h0m-5-27h0m-1 6h0m-4 4h0m-11 24h0m0-5h0m-8-12h0m-17-6h0" stroke="#e0174a" stroke-width="16" stroke-linecap="round" fill="none"/>
<path transform="scale(.1)" d="M2211 11271h0m-9-19h0m-15 4h0m-5-9h0m-26-5h0m-7-4h0m120 94h0m0-28h0m6 9h0m26 24h0m121 59h0m-12-2h0m-1-4h0m-24-20h0m-41-2h0m-17-16h0m90 53h0m4 4h0m2 17h0m24-6h0m2-2h0m2 4h0m16 11h0m5 8h0m118 63h0m-47-14h0m-15 1h0m-38-29h0m100 64h0m2 7h0m7 13h0m12-11h0m5 6h0m28-5h0m1 7h0m47 33h0m56 39h0m-31-26h0" stroke="#e0174a" stroke-width="16" stroke-linecap="round" fill="none"/>
<path transform="scale(.1)" d="M2930 11933h0m38-17h0m73 10h0m4-18h0m64 23h0m6 11h0m-20 57h0m-24-41h0m-22 0h0m-8 9h0m-9 24h0m0-28h0m-11-11h0m-4 25h0m-6-29h0m-3 11h0m-2 14h0m-11 1h0m-8 2h0m-4-26h0m-3 4h0m-13 26h0m-24-28h0m-3 6h0m-14 6h0m147 36h0" stroke="#e0174a" stroke-width="16" stroke-linecap="round" fill="none"/>
<path transform="scale(.1)" d="M2907 12044h0m-175 55h0m340 23h0m-19 78h0" stroke="#e0174a" stroke-width="16" stroke-linecap="round" fill="none"/>
<path transform="scale(.1)" d="M2388 11562h0m264 86h0m128 13h0m438-10h0m-258 68h0m-122-14h0m-78 43h0m-58 6h0m-194 61h0m140-7h0m67-44h0m148 6h0m73 46h0m412 9h0m-411 3h0m-20 10h0m-17 29h0m-21-32h0m-41 34h0m-2 4h0m-102-26h0m-29 1h0m-101 13h0m-84 25h0m130 52h0m96-58h0m11 44h0m50-1h0m24-12h0m113-26h0m259 105h0m-44 4h0m-4-1h0m-1-30h0m0 14h0m-19 4h0m-6 13h0m-7 3h0m-231-47h0m-105 41h0m-12-12h0m-13-19h0m-65-20h0m-40 100h0m435-10h0m5 7h0m8-10h0m3 17h0m5-8h0m9 14h0m3-39h0m2-2h0m1 16h0m2 11h0m2 3h0m0-21h0m1-2h0m1-15h0m0 48h0m2-43h0m2 44h0m2-43h0m0 12h0m3-10h0m2-9h0m1 15h0m0 16h0m0-30h0m0 44h0m9-38h0m3 20h0m2-11h0m0 9h0m1 33h0m7-21h0m3-27h0m1 3h0m0-7h0m8 65h0m-23 12h0m-16-9h0m-55-5h0m-256 290h0m292 599h0m10 29h0" stroke="#d17be0" stroke-width="16" stroke-linecap="round" fill="none"/>
<path transform="scale(.1)" d="M3182 11866h0m-2-19h0m-8 32h0m-73 43h0m11 0h0m3 0h0m1-7h0m10 1h0m5 5h0m4 9h0m1-15h0m2-25h0m2 10h0m0-3h0m1-14h0m0 7h0m2 27h0m1-34h0m1 7h0m0 23h0m2-12h0m0 14h0m1 8h0m0-20h0m0-6h0m2 3h0m2-4h0m2 23h0m1-29h0m0 40h0m0-25h0m1 32h0m1-12h0m2 12h0m1-24h0m1 0h0m1-5h0m0 12h0m1-5h0m1-27h0m0 2h0m2 39h0m1-24h0m1 3h0m1-18h0m1 26h0m1-1h0m1 1h0m1-10h0m1 26h0m0-1h0m0-11h0m1 0h0m1-15h0m0 12h0m0 17h0m1-22h0m1 8h0m1-8h0m0-16h0m7 14h0m4 7h0m3 11h0m0-26h0m3-5h0m1 2h0m0 14h0m5-19h0m1 35h0m3-30h0m1 8h0m1-12h0m7 71h0m-7-20h0m0 8h0m-3-14h0m-18 38h0m-2-31h0m-6-3h0m-13 4h0m-12-5h0m-5 17h0m-5-20h0m-22 15h0m-6-14h0" stroke="#24a88e" stroke-width="16" stroke-linecap="round" fill="none"/>
<path transform="scale(.1)" d="M3255 11830h0m-10 8h0m0-3h0m-21 22h0m-1 5h0m0-8h0m-1 2h0m-6-1h0m-6 5h0m-5 7h0m-32 27h0m9-1h0m0-11h0m0 3h0m7 4h0m0-8h0" stroke="#58b94c" stroke-width="16" stroke-linecap="round" fill="none"/>
<path transform="scale(.1)" d="M2674 11743h0m155 78h0m29 78h0m210 97h0m131 10h0m13 19h0" stroke="#4a6be0" stroke-width="16" stroke-linecap="round" fill="none"/>
<path transform="scale(.1)" d="M3127 12055h0m23 0h0m2 1h0m2 3h0m17 6h0m0 15h0m-3 38h0m-7-48h0m-1 42h0m-3-24h0m-2-1h0m-2 1h0m-1-24h0m-5 41h0m-5-40h0m-4 53h0m0-12h0m-2-15h0m-8 1h0m-1 23h0m-2-4h0m-1 2h0m-4 3h0m0-21h0m-2-11h0m-4 3h0m-2 15h0m-1-2h0m-10 58h0m6 15h0m5-13h0m2-14h0m1-13h0m0 30h0m3-21h0m1 22h0m1-20h0m3 24h0m1 11h0m0-7h0m2 2h0m6-5h0m2-16h0m1-30h0m1 54h0m1-46h0m1 30h0m2-5h0m0-34h0m1 33h0m1 10h0m1-20h0m4-8h0m1 30h0m1-37h0m1 18h0m1-14h0m1 2h0m1 38h0m1-5h0m4-24h0m3-14h0m4 18h0m12-11h0m2 0h0m1 18h0m4 17h0m7 16h0m-10 2h0m-23 23h0m-2 18h0m-1-8h0m-1-30h0m-1 16h0m-2-5h0m-1 15h0m-2-26h0m-1 30h0m0-4h0m-2-20h0m-1-3h0m-1-17h0m-1 52h0m0-32h0m-2-14h0m0-3h0m-1 51h0m-6-34h0m-1-16h0m-2 50h0m-4-45h0m-1 35h0m-4-13h0m-2 25h0m-3-52h0m-17 53h0m-18-24h0m54 33h0m30 0h0m10-2h0" stroke="#ff951f" stroke-width="16" stroke-linecap="round" fill="none"/>
<path transform="scale(.1)" d="M3184 12228h0m-11-26h0m-1 28h0m-3-17h0m-7 13h0m-2-26h0m-3 3h0m0 6h0m-2-9h0m0 32h0m-7-3h0m-2-23h0m0 17h0m-1-17h0m-2 16h0m-1-23h0m-1 33h0m0-24h0m-3 22h0m-10-8h0m-2-10h0m-4-1h0m-7-3h0m-1-3h0m-1 14h0m-22-22h0m0 1h0m13 71h0m16 6h0m2 10h0m1-4h0m2-32h0m1 19h0m2-4h0m1-2h0m5-12h0m1-5h0m2 30h0m2 11h0m2 12h0m2-38h0m0 38h0m1-58h0m4 14h0m0 2h0m0-16h0m1 48h0m6 10h0m1-41h0m1 18h0m1 19h0m1-52h0m0 4h0m4 20h0m11-9h0m4 11h0m3 8h0m-14 27h0m-4 29h0m-2-11h0m-5-18h0m0-3h0m-6 4h0m-2 49h0m-1 3h0m-1-28h0m0-24h0m0 51h0m-1-32h0m0 17h0m0 16h0m-1-54h0m-4 54h0m0-14h0m-1-10h0m-4 15h0m-3-39h0m-1 48h0m-1-26h0m-3-26h0m-3 54h0m-1-9h0m-5 10h0m-2-38h0m-2-20h0m-7 9h0m1 95h0m3-42h0m3 3h0m5 34h0m2-2h0m1-34h0m3 21h0m2-6h0m1 13h0m4-24h0m0 6h0m1 6h0m3 29h0m1-6h0m0-11h0m1 25h0m10-51h0m1 25h0m2-15h0m5-4h0m5-2h0m1 23h0m1-3h0m1-13h0m1 41h0m0-2h0m4-43h0m5 16h0m7 36h0m-12 30h0m-5-33h0m0 43h0m0-16h0m-1-15h0m-1 40h0m-3-17h0m-1-33h0m0 18h0m-2 20h0m0-21h0m-2 35h0m0-19h0m-6-26h0m-1-2h0m0 41h0m-3-27h0m0-14h0m-1 16h0m-1-15h0m-1-3h0m-1 2h0m0 6h0m-1 31h0m0 0h0m-7-11h0m-1 0h0m-1-18h0m-1 22h0m-2-24h0m-1 35h0m-3-29h0m-2-18h0m0 11h0m-8 62h0m2 9h0m9 3h0m0-18h0m2 38h0m3-6h0m1-40h0m2 53h0m4-21h0m1 9h0m2 8h0m4-17h0m2 25h0m0-3h0m0-8h0m2-36h0m1-12h0m2 42h0m2 4h0m2-36h0m2 46h0m4-29h0m12 5h0m10-2h0m4-9h0m-4 43h0m-16 53h0m0-23h0m-1 9h0m-1 11h0m-3-3h0m-1-43h0m-2 30h0m0-7h0m-2 15h0m-2 10h0m-1-31h0m-1 10h0m-1 24h0m0 0h0m-2-24h0m0-1h0m-1-17h0m-3 30h0m0 2h0m-2-21h0m-1 0h0m0 24h0m-3-36h0m0 18h0m0-21h0m-1 20h0m0-7h0m-1-1h0m-1 11h0m0 19h0m-1-7h0m-7-4h0m-2 2h0m-2-20h0m-1 8h0m-11-31h0m3 93h0m4 3h0m1-6h0m6-4h0m1 6h0m3 19h0m0-51h0m2-2h0m1 3h0m1 51h0m2-36h0m0-13h0m0 25h0m2 18h0m1-32h0m0 30h0m1-17h0m1-10h0m2 30h0m0-34h0m2 42h0m3-34h0m1 33h0m1-47h0m1 17h0m4-5h0m3 15h0m3 19h0m5-7h0m0-28h0m6 20h0m1-18h0m5 72h0m-1 17h0m-8-33h0m-2 39h0m0-8h0m-2-10h0m-3-16h0m-6-16h0m-1 38h0m-1-12h0m-2-9h0m0-1h0m-1 15h0m0 15h0m-1-32h0m-1 11h0m0 6h0m-1 9h0m0-34h0m0-2h0m0-12h0m-2 39h0m0 18h0m0-26h0m0 22h0m-2-26h0m0-5h0m-1 4h0m-1-1h0m-3 15h0m-1-31h0m0 45h0m-8-37h0m0-15h0m-2 0h0m-4 16h0m-1 32h0m0-28h0m-3 71h0m17-12h0m1-17h0m1 48h0m1-36h0m0-1h0m2 12h0m2-13h0m1-7h0m0 0h0m2 14h0m4 20h0m0-26h0m0 4h0m0 25h0m1-25h0m1-13h0m1 10h0m0 37h0m1-8h0m1-15h0m6-23h0m1 18h0m11 42h0m-5 0h0m-7 9h0m-4-7h0m-1 50h0m-2-49h0m0-8h0m-2 23h0m0 0h0m-1 5h0m0 28h0m-2-25h0m-2 8h0m-1 0h0m-1-4h0m-3 13h0m-2-26h0m-5-9h0m-9 10h0m-2-20h0m5 59h0m6 16h0m4-6h0m1-8h0m1 9h0m0 30h0m1 1h0m0-39h0m1 33h0m1 4h0m1-4h0m1-30h0m0-2h0m0 48h0m1-13h0m0-4h0m0 10h0m0-6h0m1-5h0m0-25h0m1 15h0m0-21h0m0 23h0m0 20h0m0 9h0m1-30h0m0 13h0m0-11h0m2-8h0m0 30h0m1-36h0m1-4h0m0 46h0m1-19h0m5-18h0m3 30h0m-4 50h0m-2 16h0m0-27h0m0-31h0m-1 28h0m-1 4h0m-1-27h0m-1-2h0m0 47h0m-1-49h0m-1 41h0m0-6h0m-1-15h0m0 23h0m0 9h0m-1-5h0m-1-6h0m0 5h0m0-37h0m0 10h0m-1 12h0m0 27h0m-3-11h0m0-41h0m0 6h0m0 30h0m-2-31h0m-1 40h0m-2-48h0m-2 11h0m-2-7h0m-4 11h0m9 97h0m0-40h0m1 34h0m0-15h0m1-7h0m0-16h0m0 11h0m0-10h0m1 16h0m0 22h0m0-1h0m1-36h0m0 0h0m0 11h0m0-16h0m1 0h0m2 14h0m0 4h0m0 12h0m1 2h0m1 4h0m0-42h0m0 24h0m0 0h0m1-20h0m0 49h0m1-26h0m1-13h0m1 11h0m1-15h0m1 23h0m0 9h0m0-19h0m0-2h0m1-14h0m2-6h0m2 8h0m1-11h0" stroke="#f7d92a" stroke-width="16" stroke-linecap="round" fill="none"/>
<path transform="scale(.1)" d="M3100 12249h0m12 33h0m13 14h0m1-15h0m9-31h0m1 37h0m2-37h0m2 40h0m3-32h0m0 35h0m0-5h0m4-42h0m1 18h0m2 5h0m5-16h0m0 20h0m2-12h0m9-15h0m1 14h0m4-11h0m16 43h0m-18 30h0m-5 26h0m-5 6h0m-9-54h0m-2 46h0m-1 2h0m-5-15h0m-1-31h0m-10 39h0m-4-26h0m-4 41h0m-9-14h0m-1-32h0m-1 13h0m-1-20h0m0 8h0m-1 68h0m5 15h0m3 21h0m9-34h0m3 5h0m2 0h0m1-16h0m1 1h0m2-1h0m2 23h0m3-7h0m1 30h0m8 1h0m1-28h0m5 20h0m0-33h0m4 28h0m4-42h0m7 27h0m2 83h0m-16-27h0m-6 32h0m-2-22h0m-1-15h0m0 21h0m-4 4h0m-1 10h0m0-40h0m-2-6h0m-1 19h0m-1 22h0m0-20h0m-4 11h0m-1 16h0m-1-43h0m-3 22h0m-7 14h0m-1 5h0m-21-50h0m22 100h0m3-28h0m4-8h0m1 46h0m0-2h0m2-32h0m2 10h0m0 19h0m2-20h0m3 25h0m7-11h0m6-38h0m6 50h0m1-55h0m9 9h0m5 48h0m1-32h0m9-8h0m3 94h0m-15-2h0m-5-2h0m-2-36h0m-1 19h0m-2 22h0m-13-53h0m-1 15h0m-3-10h0m-2 36h0m-7-7h0m-2 1h0m0-18h0m-6 0h0m0 18h0m-1-14h0m-1 34h0m-8 27h0m4-18h0m4 14h0m3-10h0m9 9h0m0 4h0m6-15h0m13 15h0m17 5h0" stroke="#f7d92a" stroke-width="16" stroke-linecap="round" fill="none"/>
<path transform="scale(.1)" d="M3374 11873h0m145 123h0m-282-43h0m24 64h0m6 18h0m1-25h0m-11 70h0m-30 32h0m-320 59h0m262-28h0m51 10h0m14 13h0m19-15h0m26 37h0m-10 50h0m-35-22h0m-20 16h0m-49 54h0m44 1h0m19-39h0m4 51h0m37-59h0m19 57h0m23-39h0m-19 53h0m-22 30h0m-5-16h0m-2-17h0m-77 26h0m39 67h0m10-20h0m39 4h0m-87 92h0m-163-44h0m245 157h0" stroke="#f7d92a" stroke-width="16" stroke-linecap="round" fill="none"/>
<path transform="scale(.1)" d="M3918 11477h0m-63 99h0m37 3h0m31-34h0m-3 42h0m-23 32h0m-42-30h0m-74 33h0m-19 12h0m-28-23h0m-26 9h0m-27 11h0m59 11h0m24 35h0m2 6h0m17-9h0m23-25h0m39 54h0m-22 47h0m-80-50h0m-66 54h0m-58-21h0m-12-33h0m-10 6h0m-11 47h0m-4-25h0m-58 13h0m-69 72h0m22-30h0m43 1h0m2 6h0m2-6h0m38 4h0m10-18h0m110 25h0m5-2h0m13 10h0m31-43h0m81 31h0m-99 35h0m-61-3h0m-40 45h0m-109 4h0m-7 7h0m-13-1h0m-57-2h0m-114 35h0m40 28h0m37-10h0m275-29h0m72 1h0m-209 59h0m-15-9h0m-4 32h0m-94-42h0m-1 16h0m-1-9h0m-3 14h0m-67 5h0m-19 24h0m-39-26h0m-25 9h0m6 30h0m11 35h0m88 14h0m105-14h0m145 7h0m-38 37h0m-41 7h0m-48 19h0m-4-16h0m-62-19h0m-9 29h0m-12-22h0m-33-16h0m-23 2h0m-13 21h0m-21 17h0m-16-27h0m56 66h0m10 25h0m16-16h0m12 8h0m72-29h0m101 32h0m-114 42h0m-31-5h0m-3-16h0m-3 44h0m-4-34h0m-70-10h0m-4 3h0m-24 33h0m-10 18h0m-50 56h0m61-39h0m64-12h0m78 21h0m57 16h0m9-39h0m52 10h0m-104 68h0m-29 29h0m-42 8h0m-93-45h0m-9 42h0m-8-1h0m-53 38h0m79-31h0m105 11h0m-2 75h0m-204 54h0m139 6h0m5 58h0m-29 2h0m-93-26h0m-14 55h0m30 28h0m7 14h0m46-24h0m5 37h0m8-30h0m40-1h0m-17 85h0m-47-34h0m-54 35h0m-55 51h0m110-16h0m3 23h0m-60 55h0m-27-16h0m-9 15h0m-15 11h0m-6 35h0m23 15h0" stroke="#a5713a" stroke-width="16" stroke-linecap="round" fill="none"/>
<path transform="scale(.1)" d="M3829 11564h0m3-1h0m10-1h0m20 16h0m-63 56h0m-56-18h0m0 5h0m-42 71h0m2-7h0m9 0h0m8 12h0m10-33h0m12 32h0m10-14h0m0 13h0m15-20h0m-5 31h0m-20 23h0m-12-19h0m-9 45h0m-3-10h0m-2-36h0m-26 21h0m-61 29h0m-52 35h0m8 25h0m7-50h0m5 17h0m9 32h0m22-52h0m8 13h0m8-2h0m22-2h0m-31 50h0m-7 3h0m-43-7h0" stroke="#a5713a" stroke-width="16" stroke-linecap="round" fill="none"/>
<path transform="scale(.1)" d="M3228 12719h0m-4-3h0m-7 0h0m-20 56h0m9-10h0m11-19h0m-5 45h0m-44 72h0m3 36h0m4-49h0m9 28h0m8-14h0m-11 42h0m-12 25h0m-9-21h0m-4 33h0m-4 15h0m-5-55h0" stroke="#a5713a" stroke-width="16" stroke-linecap="round" fill="none"/>
<path transform="scale(.1)" d="M4133 11245h0m-2 4h0m-10 16h0m-3-14h0m-43 26h0m-122 57h0m16-6h0m44-12h0m3 9h0m12-15h0m22-24h0m8 3h0m1-5h0m-68 62h0m-6 2h0m-34 5h0m-28 20h0m-2-1h0m-3-7h0m-6 8h0m-4 13h0m-8-21h0m-4 31h0m-28 1h0" stroke="#e3a45a" stroke-width="16" stroke-linecap="round" fill="none"/>
<path transform="scale(.1)" d="M3659 11646h0m-175 81h0m-155 123h0m307 301h0m-360 656h0m-48 11h0" stroke="#e3a45a" stroke-width="16" stroke-linecap="round" fill="none"/>
<path transform="scale(.1)" d="M3656 11558h0" stroke="#8fcf60" stroke-width="16" stroke-linecap="round" fill="none"/>
<rect x="301.5" y="1368.3" width="542" height="112.5" rx="2.5" fill="#fff" stroke="#cfcfcf" stroke-width="1.2"/>
<circle cx="322.5" cy="1380" r="6.5" fill="#8b2be2"/>
<text x="343.2" y="1384.6" font-size="14" fill="#111">Quiescent Center</text>
<circle cx="322.5" cy="1401.3" r="6.5" fill="#ffdf2b"/>
<text x="343.2" y="1405.9" font-size="14" fill="#111">Procambium</text>
<circle cx="322.5" cy="1423.7" r="6.5" fill="#d17be0"/>
<text x="343.2" y="1428.3" font-size="14" fill="#111">Protophloem</text>
<circle cx="322.5" cy="1445" r="6.5" fill="#e0174a"/>
<text x="343.2" y="1449.6" font-size="14" fill="#111">Metaphloem &amp; CC</text>
<circle cx="322.5" cy="1466.3" r="6.5" fill="#f9cfe0"/>
<text x="343.2" y="1470.9" font-size="14" fill="#111">PPP</text>
<circle cx="527.5" cy="1380" r="6.5" fill="#ff9420"/>
<text x="547" y="1384.6" font-size="14" fill="#111">XPP</text>
<circle cx="527.5" cy="1401.3" r="6.5" fill="#d9a76e"/>
<text x="547" y="1405.9" font-size="14" fill="#111">Protoxylem</text>
<circle cx="527.5" cy="1423.7" r="6.5" fill="#925a2a"/>
<text x="547" y="1428.3" font-size="14" fill="#111">Metaxylem</text>
<circle cx="527.5" cy="1445" r="6.5" fill="#0a2cf5"/>
<text x="547" y="1449.6" font-size="14" fill="#111">Endodermis</text>
<circle cx="527.5" cy="1466.3" r="6.5" fill="#82b4f9"/>
<text x="547" y="1470.9" font-size="14" fill="#111">Cortex</text>
<circle cx="687.3" cy="1380" r="6.5" fill="#0e7c75"/>
<text x="712.8" y="1384.6" font-size="14" fill="#111">Atrichoblast</text>
<circle cx="687.3" cy="1401.3" r="6.5" fill="#2eb3a5"/>
<text x="712.8" y="1405.9" font-size="14" fill="#111">Trichoblast</text>
<circle cx="687.3" cy="1423.7" r="6.5" fill="#55b54e"/>
<text x="712.8" y="1428.3" font-size="14" fill="#111">Columella</text>
<circle cx="687.3" cy="1445" r="6.5" fill="#b9e84a"/>
<text x="712.8" y="1449.6" font-size="14" fill="#111">Lateral Root Cap</text>
<text x="712.8" y="1466.9" font-size="14" fill="#111">(LRC)</text>
<text x="3.5" y="20" font-size="22" fill="#000" font-weight="bold">A</text>
<text x="531.5" y="20" font-size="22" fill="#000" font-weight="bold">B</text>
<text x="532.5" y="244.5" font-size="22" fill="#000" font-weight="bold">C</text>
<text x="3.3" y="467.2" font-size="22" fill="#000" font-weight="bold">D</text>
<text x="198.8" y="466.6" font-size="22" fill="#000" font-weight="bold">E</text>
<text x="417.8" y="467" font-size="22" fill="#000" font-weight="bold">F</text>
<text x="607.8" y="467" font-size="22" fill="#000" font-weight="bold">G</text>
<text x="2.2" y="783.6" font-size="22" fill="#000" font-weight="bold">H</text>
<text x="199" y="783.6" font-size="22" fill="#000" font-weight="bold">I</text>
<text x="419.8" y="784.1" font-size="22" fill="#000" font-weight="bold">J</text>
<text x="607" y="784.1" font-size="22" fill="#000" font-weight="bold">K</text>
<text x="817.2" y="783.6" font-size="22" fill="#000" font-weight="bold">L</text>
<text x="3.3" y="1082.6" font-size="22" fill="#000" font-weight="bold">M</text>
<text x="199.8" y="1082.6" font-size="22" fill="#000" font-weight="bold">N</text>
<text x="419" y="1083" font-size="22" fill="#000" font-weight="bold">O</text>
<text x="606" y="1083" font-size="22" fill="#000" font-weight="bold">P</text>
<text x="817.8" y="1082.4" font-size="22" fill="#000" font-weight="bold">Q</text>
<text x="581.5" y="15.4" font-size="14" fill="#222">Annotation - Endodermis</text>
<text x="840.5" y="12.4" font-size="14" fill="#222">Endodermis Fate Probability</text>
<text x="617" y="244.2" font-size="14" fill="#222">Annotation</text>
<text x="842.8" y="245.7" font-size="14" fill="#222">Maximum Fate Probability</text>
<text x="87.6" y="471" font-size="14" fill="#222">Meristem</text>
<text x="15" y="510.6" font-size="14" fill="#222">Endodermis</text>
<text x="185" y="637" font-size="14" fill="#222">Cortex</text>
<text x="24.8" y="722.6" font-size="14" fill="#222">Other</text>
<text x="286.6" y="469.4" font-size="14" fill="#222">Elongation</text>
<text x="218.8" y="510.7" font-size="14" fill="#222">Endodermis</text>
<text x="383.6" y="640.5" font-size="14" fill="#222">Cortex</text>
<text x="226.8" y="722.6" font-size="14" fill="#222">Other</text>
<text x="478" y="470.9" font-size="14" fill="#222">Maturation</text>
<text x="422" y="510.3" font-size="14" fill="#222">Endodermis</text>
<text x="584.2" y="638.4" font-size="14" fill="#222">Cortex</text>
<text x="422.6" y="724" font-size="14" fill="#222">Other</text>
<text x="622.4" y="508.6" font-size="14" fill="#222">Endodermis</text>
<text x="774.2" y="640" font-size="14" fill="#222">Cortex</text>
<text x="621.2" y="723.2" font-size="14" fill="#222">Other</text>
<text x="826" y="506.3" font-size="14" fill="#222">Endodermis</text>
<text x="973" y="642" font-size="14" fill="#222">Cortex</text>
<text x="828.8" y="723" font-size="14" fill="#222">Other</text>
<text x="98.4" y="809.1" font-size="14" fill="#222">LRC</text>
<text x="5.2" y="1020.3" font-size="14" fill="#222">Atrichoblast</text>
<text x="147.5" y="1020.3" font-size="14" fill="#222">Trichoblast</text>
<text x="204.2" y="810.1" font-size="14" fill="#222">Columella</text>
<text x="377.8" y="807" font-size="14" fill="#222">LRC</text>
<text x="274.8" y="1020.4" font-size="14" fill="#222">Endodermis</text>
<text x="483.8" y="787.9" font-size="14" fill="#222">Meristem</text>
<text x="418" y="807.9" font-size="14" fill="#222">Atrichoblast</text>
<text x="557.4" y="946.3" font-size="14" fill="#222">Trichoblast</text>
<text x="426.2" y="1020.4" font-size="14" fill="#222">Other</text>
<text x="682" y="787.3" font-size="14" fill="#222">Elongation</text>
<text x="622.3" y="807.9" font-size="14" fill="#222">Atrichoblast</text>
<text x="759.9" y="948.5" font-size="14" fill="#222">Trichoblast</text>
<text x="628.8" y="1020.4" font-size="14" fill="#222">Other</text>
<text x="875.4" y="788.8" font-size="14" fill="#222">Maturation</text>
<text x="825.2" y="807.1" font-size="14" fill="#222">Atrichoblast</text>
<text x="959.9" y="949.7" font-size="14" fill="#222">Trichoblast</text>
<text x="824.1" y="1021.5" font-size="14" fill="#222">Other</text>
<text x="68.7" y="1115" font-size="14" fill="#222">Procambium</text>
<text x="0.6" y="1325.8" font-size="14" fill="#222">Pericycle</text>
<text x="173.2" y="1326.8" font-size="14" fill="#222">Phloem</text>
<text x="195.8" y="1114.3" font-size="14" fill="#222">Phloem</text>
<text x="373.4" y="1114.4" font-size="14" fill="#222">Xylem</text>
<text x="270.3" y="1325.4" font-size="14" fill="#222">Procambium</text>
<text x="484.8" y="1080.5" font-size="14" fill="#222">Meristem</text>
<text x="425" y="1112.8" font-size="14" fill="#222">Pericycle</text>
<text x="545.5" y="1258.3" font-size="14" fill="#222">Procambium</text>
<text x="425.2" y="1325.3" font-size="14" fill="#222">Other</text>
<text x="679.3" y="1086.6" font-size="14" fill="#222">Elongation</text>
<text x="628.6" y="1112.8" font-size="14" fill="#222">Pericycle</text>
<text x="745.3" y="1259.8" font-size="14" fill="#222">Procambium</text>
<text x="627.3" y="1325.3" font-size="14" fill="#222">Other</text>
<text x="870.8" y="1089.4" font-size="14" fill="#222">Maturation</text>
<text x="832" y="1111.3" font-size="14" fill="#222">Pericycle</text>
<text x="944.6" y="1259.8" font-size="14" fill="#222">Procambium</text>
<text x="823" y="1323" font-size="14" fill="#222">Other</text>
<text x="688.5" y="471.9" font-size="14" fill="#222" font-style="italic">SCR</text>
<text x="912.5" y="472.5" font-size="14" fill="#222" font-style="italic">MYB36</text>
<text x="31.5" y="110.6" font-size="13.3" fill="#222" font-weight="bold">0.5cm</text>
<text x="238" y="393.3" font-size="18" fill="#111" font-weight="bold">dt</text>
</svg>
</body></html>
